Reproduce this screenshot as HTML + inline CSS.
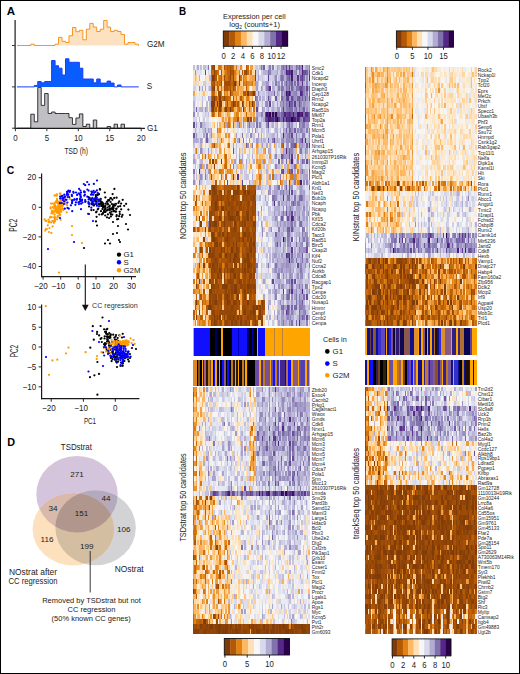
<!DOCTYPE html>
<html><head><meta charset="utf-8"><style>
html,body{margin:0;padding:0;background:#fff;}
#f{position:relative;width:520px;height:674px;overflow:hidden;background:#fff;font-family:"Liberation Sans",sans-serif;}
#f .h{position:absolute;}
#f svg{position:absolute;left:0;top:0;}
#bd{position:absolute;left:0;top:0;width:518px;height:672px;border:1px solid #000;}
text{font-family:"Liberation Sans",sans-serif;}
</style></head><body><div id="f">
<div class="h" style="left:192.5px;top:65.00px;width:117.5px;height:5.23px;background:linear-gradient(90deg,#c3c0dd 0 1.5px,#f4f5f6 0 2.9px,#d6d7e9 0 4.4px,#b2abd2 0 5.9px,#fbead2 0 7.3px,#c1bddc 0 8.8px,#f8f4ef 0 10.3px,#c0bcdb 0 11.8px,#bfbcdb 0 13.2px,#d3d3e7 0 14.7px,#8275ad 0 16.2px,#f3f4f6 0 17.6px,#c2660b 0 19.1px,#9d4c07 0 20.6px,#894108 0 22.0px,#fde5c3 0 23.5px,#fee1b9 0 25.0px,#da7d12 0 26.4px,#cf720f 0 27.9px,#e18316 0 29.4px,#fdc37a 0 30.8px,#aa5306 0 32.3px,#cd700e 0 33.8px,#b35806 0 35.2px,#c2660b 0 36.7px,#a65107 0 38.2px,#bb6009 0 39.7px,#c76a0c 0 41.1px,#fcb660 0 42.6px,#d1740f 0 44.1px,#cbcae2 0 45.5px,#fed298 0 47.0px,#e68d23 0 48.5px,#fedeb1 0 49.9px,#f7f5f3 0 51.4px,#f9f1e5 0 52.9px,#b45906 0 54.3px,#c96d0d 0 55.8px,#f3f3f5 0 57.3px,#ef9e3d 0 60.2px,#fee1b9 0 61.7px,#fdc57d 0 63.2px,#c7c5e0 0 64.6px,#dadcec 0 66.1px,#c2bfdd 0 67.6px,#8377ae 0 69.0px,#afa8d0 0 70.5px,#745fa2 0 72.0px,#eaebf2 0 73.4px,#d9dbeb 0 74.9px,#b8b2d6 0 76.4px,#8a7eb4 0 77.8px,#d2d3e7 0 79.3px,#877bb1 0 80.8px,#e7e8f1 0 82.2px,#d6d7e9 0 83.7px,#a69ec9 0 85.2px,#bcb7d8 0 86.7px,#cdcce4 0 88.1px,#9186b9 0 89.6px,#7a69a7 0 91.1px,#978dbe 0 92.5px,#654496 0 94.0px,#a39ac6 0 95.5px,#5e3990 0 96.9px,#a197c5 0 98.4px,#9990bf 0 99.9px,#c0bcdb 0 101.3px,#b2abd2 0 102.8px,#7d6da9 0 104.3px,#9287b9 0 105.8px,#7560a3 0 107.2px,#958abc 0 108.7px,#4c1f7b 0 110.2px,#cccce3 0 111.6px,#b5aed4 0 113.1px,#a69ec9 0 114.6px,#b3add3 0 116.0px,#887bb2 0 117.5px)"></div><div class="h" style="left:192.5px;top:70.21px;width:117.5px;height:5.23px;background:linear-gradient(90deg,#fde4c0 0 1.5px,#988ebe 0 2.9px,#e0e2ee 0 4.4px,#dfe0ee 0 5.9px,#e6e7f0 0 7.3px,#dddfed 0 8.8px,#f4f4f6 0 10.3px,#ececf3 0 11.8px,#644395 0 13.2px,#f1f1f5 0 14.7px,#d8daeb 0 16.2px,#e1e3ef 0 17.6px,#c4680b 0 19.1px,#c96c0d 0 20.6px,#8e4307 0 22.0px,#b45906 0 23.5px,#cb6e0d 0 25.0px,#cc6f0e 0 26.4px,#fbead4 0 27.9px,#aa5306 0 29.4px,#fdbd6d 0 30.8px,#e8912a 0 32.3px,#d57811 0 33.8px,#bd6109 0 35.2px,#c2660b 0 36.7px,#934607 0 38.2px,#b05606 0 39.7px,#9b4b07 0 41.1px,#d77a11 0 42.6px,#f09f3f 0 44.1px,#fbb45c 0 45.5px,#de8013 0 47.0px,#dddfed 0 48.5px,#b65b07 0 49.9px,#fbb55f 0 51.4px,#a34f07 0 52.9px,#924607 0 54.3px,#c0640a 0 55.8px,#fbb45e 0 57.3px,#d57811 0 58.8px,#feddaf 0 60.2px,#fed9a8 0 61.7px,#9a4a07 0 63.2px,#cdcde4 0 64.6px,#b9b4d7 0 66.1px,#f7f6f4 0 67.6px,#cbcae3 0 69.0px,#cbcae2 0 70.5px,#b9b4d7 0 72.0px,#b1a9d1 0 73.4px,#b8b3d6 0 74.9px,#7d6da9 0 76.4px,#8e83b7 0 77.8px,#bbb6d8 0 79.3px,#c0bddc 0 80.8px,#c5c2de 0 82.2px,#bebada 0 83.7px,#aaa2cc 0 85.2px,#d0d0e6 0 86.7px,#b7b1d5 0 88.1px,#998fbf 0 89.6px,#b8b3d6 0 91.1px,#9a91c0 0 92.5px,#4c1f7b 0 94.0px,#5e3890 0 95.5px,#552888 0 96.9px,#5f3a91 0 98.4px,#451871 0 99.9px,#a79ec9 0 101.3px,#9c92c1 0 102.8px,#8a7fb4 0 104.3px,#cecee4 0 105.8px,#8679b0 0 107.2px,#9f96c4 0 108.7px,#4d207d 0 110.2px,#6f559e 0 111.6px,#6a4d9a 0 113.1px,#7763a4 0 114.6px,#b4aed4 0 116.0px,#6b4f9b 0 117.5px)"></div><div class="h" style="left:192.5px;top:75.42px;width:117.5px;height:5.23px;background:linear-gradient(90deg,#fedeb2 0 1.5px,#c0bcdb 0 2.9px,#fecf92 0 4.4px,#fce8cc 0 5.9px,#f6aa4f 0 7.3px,#f5f5f6 0 8.8px,#eff0f4 0 10.3px,#f6f6f7 0 11.8px,#d8daeb 0 13.2px,#fce6c7 0 14.7px,#fde2bd 0 16.2px,#bebada 0 17.6px,#ce720f 0 19.1px,#7f3b08 0 20.6px,#8e4307 0 22.0px,#ae5506 0 23.5px,#fed196 0 25.0px,#e18417 0 26.4px,#cd700e 0 27.9px,#bb5f08 0 29.4px,#f3a547 0 30.8px,#9c4b07 0 32.3px,#ce720f 0 33.8px,#d0730f 0 35.2px,#b75c07 0 36.7px,#954707 0 38.2px,#cb6e0d 0 39.7px,#914507 0 41.1px,#e3881d 0 42.6px,#f5a94d 0 44.1px,#fed299 0 45.5px,#894008 0 47.0px,#c96d0d 0 48.5px,#fecf92 0 49.9px,#dc7e13 0 51.4px,#e78f26 0 52.9px,#e9922c 0 54.3px,#fdc782 0 55.8px,#fab35b 0 57.3px,#f6ab50 0 58.8px,#ef9d3c 0 60.2px,#f2a445 0 61.7px,#853f08 0 63.2px,#d5d6e9 0 64.6px,#a79fca 0 66.1px,#cfcfe5 0 67.6px,#d6d8ea 0 69.0px,#c8c6e0 0 70.5px,#d7d9ea 0 72.0px,#ececf3 0 73.4px,#d8daeb 0 74.9px,#623e93 0 76.4px,#cecee5 0 77.8px,#d4d5e8 0 79.3px,#cccbe3 0 80.8px,#b6b0d5 0 82.2px,#9489bb 0 83.7px,#dcddec 0 85.2px,#c5c3df 0 86.7px,#9489bb 0 88.1px,#7e6faa 0 89.6px,#8b7fb4 0 91.1px,#b4aed4 0 92.5px,#968cbd 0 94.0px,#7d6eaa 0 95.5px,#6b4e9b 0 96.9px,#9186b9 0 98.4px,#461972 0 99.9px,#a8a0ca 0 101.3px,#a69ec9 0 102.8px,#a8a0cb 0 104.3px,#582f8c 0 105.8px,#a79fca 0 107.2px,#6f569e 0 108.7px,#5f3a91 0 110.2px,#7e70aa 0 111.6px,#bcb8d9 0 113.1px,#998fbf 0 114.6px,#d0d0e6 0 116.0px,#542787 0 117.5px)"></div><div class="h" style="left:192.5px;top:80.64px;width:117.5px;height:5.23px;background:linear-gradient(90deg,#fed7a3 0 1.5px,#fed49d 0 2.9px,#dddfed 0 4.4px,#fed9a7 0 5.9px,#faecd8 0 7.3px,#fbe9ce 0 8.8px,#f9f1e7 0 10.3px,#cdcce4 0 11.8px,#fdc47b 0 13.2px,#e3e5ef 0 14.7px,#e2e3ef 0 16.2px,#fedcae 0 17.6px,#ba5f08 0 19.1px,#b25706 0 20.6px,#9b4b07 0 22.0px,#df8114 0 23.5px,#bc6009 0 25.0px,#d67911 0 26.4px,#cb6e0d 0 27.9px,#9d4c07 0 29.4px,#fedfb4 0 30.8px,#aa5306 0 32.3px,#9d4c07 0 33.8px,#a44f07 0 35.2px,#9a4a07 0 36.7px,#b45906 0 38.2px,#c0640a 0 39.7px,#a65106 0 41.1px,#7f3b08 0 42.6px,#d1740f 0 44.1px,#f3a547 0 45.5px,#7f3b08 0 47.0px,#fdc883 0 48.5px,#fed8a5 0 49.9px,#c76b0c 0 51.4px,#e08214 0 52.9px,#c86c0d 0 54.3px,#e28518 0 55.8px,#e78e26 0 57.3px,#e78f27 0 58.8px,#d67811 0 60.2px,#f8af56 0 61.7px,#e58c23 0 63.2px,#aaa3cc 0 64.6px,#c7c6e0 0 66.1px,#f8f2ea 0 67.6px,#e5e6f0 0 69.0px,#b9b3d6 0 70.5px,#bbb6d8 0 72.0px,#b8b3d6 0 73.4px,#a198c5 0 74.9px,#a39bc7 0 76.4px,#d2d3e7 0 77.8px,#e2e3ef 0 79.3px,#b6b0d4 0 80.8px,#d2d3e7 0 82.2px,#8579b0 0 83.7px,#b6b0d5 0 85.2px,#a097c5 0 86.7px,#d8daeb 0 88.1px,#8f84b7 0 89.6px,#d3d4e8 0 91.1px,#a097c4 0 92.5px,#755fa3 0 94.0px,#968cbd 0 95.5px,#8073ac 0 96.9px,#8a7eb4 0 98.4px,#725ba1 0 99.9px,#b8b2d6 0 101.3px,#8175ad 0 102.8px,#c3c0dd 0 104.3px,#745ea2 0 105.8px,#aaa2cc 0 107.2px,#a79fca 0 108.7px,#5f3991 0 110.2px,#b3add3 0 111.6px,#c6c4df 0 113.1px,#8d81b6 0 114.6px,#cdcde4 0 116.0px,#b5afd4 0 117.5px)"></div><div class="h" style="left:192.5px;top:85.85px;width:117.5px;height:5.23px;background:linear-gradient(90deg,#d1d1e6 0 2.9px,#e6e7f0 0 4.4px,#eff0f4 0 5.9px,#8b7fb4 0 7.3px,#dddfed 0 8.8px,#aaa2cc 0 10.3px,#f9efe1 0 11.8px,#ada5ce 0 13.2px,#eeeff4 0 14.7px,#d0d0e6 0 16.2px,#b7b2d5 0 17.6px,#cb6e0d 0 19.1px,#964807 0 20.6px,#7f3b08 0 22.0px,#fdc37a 0 23.5px,#ba5e08 0 25.0px,#b85c07 0 26.4px,#fdc379 0 27.9px,#d0730f 0 29.4px,#fdb863 0 30.8px,#a55007 0 32.3px,#b35806 0 33.8px,#ac5406 0 35.2px,#c0640a 0 36.7px,#a85206 0 38.2px,#d37610 0 39.7px,#994907 0 41.1px,#c1650a 0 42.6px,#fed49e 0 44.1px,#ea9530 0 45.5px,#f6aa4f 0 47.0px,#f5a84c 0 48.5px,#f8af57 0 49.9px,#fab35c 0 51.4px,#fedaaa 0 52.9px,#b65b07 0 54.3px,#ee9b39 0 55.8px,#fed9a8 0 57.3px,#f8f4ef 0 58.8px,#fdc782 0 60.2px,#fdc67f 0 61.7px,#fdbe6f 0 63.2px,#a49cc8 0 64.6px,#e3e4ef 0 66.1px,#e6e8f1 0 67.6px,#a59cc8 0 69.0px,#b7b1d5 0 70.5px,#dbddec 0 72.0px,#b7b1d5 0 73.4px,#9085b8 0 74.9px,#7662a4 0 76.4px,#562b8a 0 77.8px,#f5f5f6 0 79.3px,#b0a9d1 0 80.8px,#bbb6d8 0 82.2px,#d1d2e7 0 83.7px,#b6b0d5 0 85.2px,#887cb2 0 86.7px,#b8b2d6 0 88.1px,#8072ac 0 89.6px,#8b7fb4 0 91.1px,#b5aed4 0 92.5px,#8478af 0 94.0px,#9187b9 0 95.5px,#725ba1 0 96.9px,#b6b0d5 0 98.4px,#7865a6 0 99.9px,#9489bb 0 101.3px,#b2abd2 0 102.8px,#8276ae 0 104.3px,#8478af 0 105.8px,#7661a4 0 107.2px,#6b4f9b 0 108.7px,#7661a4 0 110.2px,#867ab0 0 111.6px,#a8a0ca 0 113.1px,#654496 0 114.6px,#b0a9d1 0 116.0px,#7764a5 0 117.5px)"></div><div class="h" style="left:192.5px;top:91.06px;width:117.5px;height:5.23px;background:linear-gradient(90deg,#f2a345 0 1.5px,#fce8cc 0 2.9px,#fee1b7 0 4.4px,#faefdf 0 5.9px,#fedaa9 0 7.3px,#fbead3 0 8.8px,#fedbac 0 10.3px,#fdc176 0 11.8px,#ecedf3 0 13.2px,#fde5c3 0 14.7px,#f1f2f5 0 16.2px,#faecd9 0 17.6px,#e3881c 0 19.1px,#bc6109 0 20.6px,#ca6e0d 0 22.0px,#f6ac51 0 23.5px,#fee0b5 0 25.0px,#9e4d07 0 26.4px,#974907 0 27.9px,#c96d0d 0 29.4px,#fde5c3 0 30.8px,#d87a11 0 32.3px,#eb9631 0 33.8px,#df8114 0 35.2px,#fcb55f 0 36.7px,#874008 0 38.2px,#c76b0c 0 39.7px,#e48a20 0 41.1px,#e89029 0 42.6px,#e78f27 0 44.1px,#ea942e 0 45.5px,#fdc074 0 47.0px,#f4a84c 0 48.5px,#fab25a 0 49.9px,#b75c07 0 51.4px,#b15706 0 52.9px,#d37610 0 54.3px,#7f3b08 0 55.8px,#d1740f 0 57.3px,#bd6209 0 58.8px,#ab5306 0 60.2px,#813c08 0 61.7px,#e18417 0 63.2px,#d5d6e9 0 64.6px,#8d82b6 0 66.1px,#c7c5e0 0 67.6px,#d6d8ea 0 69.0px,#c8c6e0 0 70.5px,#c9c7e1 0 72.0px,#d9dbec 0 73.4px,#c4c1de 0 74.9px,#a69dc9 0 76.4px,#b6b0d5 0 77.8px,#aea6cf 0 79.3px,#b4add3 0 80.8px,#7560a3 0 82.2px,#d0d1e6 0 83.7px,#9d93c2 0 85.2px,#bcb8d9 0 86.7px,#e8e9f1 0 88.1px,#958bbc 0 89.6px,#b5afd4 0 91.1px,#9b91c0 0 92.5px,#3e1166 0 94.0px,#59308c 0 95.5px,#3d1064 0 96.9px,#684998 0 98.4px,#a198c5 0 99.9px,#958abc 0 101.3px,#9187b9 0 102.8px,#8a7fb4 0 104.3px,#b3acd2 0 105.8px,#b9b4d7 0 107.2px,#552989 0 108.7px,#624094 0 110.2px,#8d81b6 0 111.6px,#a9a1cb 0 113.1px,#897eb3 0 114.6px,#d5d6e9 0 116.0px,#7966a6 0 117.5px)"></div><div class="h" style="left:192.5px;top:96.27px;width:117.5px;height:5.23px;background:linear-gradient(90deg,#cbc9e2 0 1.5px,#d5d6e9 0 2.9px,#ebecf2 0 4.4px,#e7e8f1 0 5.9px,#e4e5f0 0 7.3px,#eaebf2 0 8.8px,#c7c5e0 0 10.3px,#e5e6f0 0 11.8px,#dfe1ee 0 13.2px,#f7f7f6 0 14.7px,#a9a1cb 0 16.2px,#b9b3d6 0 17.6px,#c1650a 0 19.1px,#9d4c07 0 20.6px,#843e08 0 22.0px,#b15706 0 23.5px,#d97c12 0 25.0px,#c66a0c 0 26.4px,#7f3b08 0 27.9px,#cb6e0d 0 29.4px,#b85d08 0 30.8px,#914507 0 32.3px,#ba5f08 0 33.8px,#be6209 0 35.2px,#ca6d0d 0 36.7px,#ce710e 0 38.2px,#fee1b8 0 39.7px,#ab5306 0 41.1px,#fdb863 0 42.6px,#db7e13 0 44.1px,#fdc37a 0 45.5px,#f1a344 0 47.0px,#b55a07 0 48.5px,#e28518 0 49.9px,#e8912a 0 51.4px,#fdc782 0 52.9px,#e28518 0 54.3px,#da7c12 0 55.8px,#f4a74a 0 57.3px,#fed096 0 58.8px,#f8ae55 0 60.2px,#f9f1e5 0 61.7px,#ba5f08 0 63.2px,#8d81b6 0 64.6px,#d9dbeb 0 66.1px,#a69dc9 0 67.6px,#dcdeec 0 69.0px,#b6b0d5 0 70.5px,#bbb6d8 0 72.0px,#e4e6f0 0 73.4px,#c0bcdb 0 74.9px,#6a4d9a 0 76.4px,#a49cc8 0 77.8px,#d1d2e7 0 79.3px,#ebecf2 0 80.8px,#dee0ed 0 82.2px,#6f559e 0 83.7px,#c5c2de 0 85.2px,#c8c6e0 0 86.7px,#f9f0e3 0 88.1px,#7a69a7 0 89.6px,#978cbd 0 91.1px,#9e94c2 0 92.5px,#6c509c 0 94.0px,#5b348e 0 95.5px,#a39ac7 0 96.9px,#a299c5 0 98.4px,#694b99 0 99.9px,#8579b0 0 101.3px,#978dbe 0 102.8px,#a198c5 0 104.3px,#7663a4 0 105.8px,#6c519c 0 107.2px,#9085b8 0 108.7px,#7560a3 0 110.2px,#998fbf 0 111.6px,#725ba1 0 113.1px,#9b91c0 0 114.6px,#bab5d7 0 116.0px,#644295 0 117.5px)"></div><div class="h" style="left:192.5px;top:101.48px;width:117.5px;height:5.23px;background:linear-gradient(90deg,#b8b2d6 0 1.5px,#e3e4ef 0 2.9px,#f3f3f5 0 4.4px,#e7e8f1 0 5.9px,#f4f4f6 0 7.3px,#fce7c9 0 8.8px,#bdb8d9 0 10.3px,#f7f6f5 0 11.8px,#f8f4ee 0 13.2px,#bebada 0 14.7px,#f8f5f1 0 16.2px,#bcb8d9 0 17.6px,#823d08 0 19.1px,#7f3b08 0 20.6px,#894108 0 22.0px,#df8114 0 23.5px,#7f3b08 0 25.0px,#cf720f 0 26.4px,#803c08 0 27.9px,#7f3b08 0 29.4px,#fdca89 0 30.8px,#fde3be 0 32.3px,#de8013 0 33.8px,#9f4d07 0 35.2px,#e9922c 0 36.7px,#e48a20 0 38.2px,#ba5f08 0 39.7px,#7f3b08 0 41.1px,#a45007 0 42.6px,#da7d12 0 44.1px,#b05606 0 45.5px,#eb9632 0 47.0px,#fed49e 0 48.5px,#803c08 0 49.9px,#b15706 0 51.4px,#fdc783 0 52.9px,#e78f27 0 54.3px,#fdb965 0 55.8px,#a34f07 0 57.3px,#e58c23 0 58.8px,#7f3b08 0 60.2px,#c3670b 0 61.7px,#fdcb8b 0 63.2px,#a198c5 0 64.6px,#a097c4 0 66.1px,#dee0ed 0 67.6px,#d9dbeb 0 69.0px,#c5c2de 0 70.5px,#dfe1ee 0 72.0px,#9b91c1 0 73.4px,#948abb 0 74.9px,#c0bcdb 0 76.4px,#654596 0 77.8px,#e6e7f0 0 79.3px,#b6b0d5 0 80.8px,#cccbe3 0 82.2px,#dbddec 0 83.7px,#a79ec9 0 85.2px,#d1d2e7 0 86.7px,#9c92c1 0 88.1px,#a79fca 0 89.6px,#8275ad 0 91.1px,#a8a0cb 0 92.5px,#8073ac 0 94.0px,#8e83b7 0 95.5px,#542788 0 96.9px,#7764a5 0 98.4px,#725ba1 0 99.9px,#a59dc8 0 101.3px,#5f3a91 0 102.8px,#aca4ce 0 104.3px,#a198c5 0 105.8px,#6b4f9b 0 107.2px,#8f83b7 0 108.7px,#b3acd3 0 110.2px,#9a90c0 0 111.6px,#a69ec9 0 113.1px,#ada5ce 0 114.6px,#b4add3 0 116.0px,#b6afd4 0 117.5px)"></div><div class="h" style="left:192.5px;top:106.70px;width:117.5px;height:5.23px;background:linear-gradient(90deg,#bcb7d9 0 1.5px,#dbddec 0 2.9px,#7865a5 0 4.4px,#d5d6e9 0 5.9px,#bdb8d9 0 7.3px,#b6b0d5 0 8.8px,#b2abd2 0 10.3px,#d7d9eb 0 11.8px,#9d94c2 0 13.2px,#bbb6d8 0 14.7px,#fce7cb 0 16.2px,#c0bcdb 0 17.6px,#a95306 0 19.1px,#7f3b08 0 20.6px,#c3670b 0 22.0px,#b95d08 0 23.5px,#f1a142 0 25.0px,#b85d08 0 26.4px,#8d4307 0 27.9px,#c5690c 0 29.4px,#f4a84b 0 30.8px,#c4680b 0 32.3px,#843e08 0 33.8px,#c5690c 0 35.2px,#c4680b 0 36.7px,#7f3b08 0 38.2px,#b95d08 0 39.7px,#ca6d0d 0 41.1px,#f7ae54 0 42.6px,#fdc074 0 44.1px,#df8114 0 45.5px,#c4680b 0 47.0px,#e9922c 0 48.5px,#e5e6f0 0 49.9px,#7f3b08 0 51.4px,#e4891e 0 52.9px,#fedeb2 0 54.3px,#fdc379 0 55.8px,#c3670b 0 57.3px,#f4a84b 0 58.8px,#f7f6f5 0 60.2px,#d0730f 0 61.7px,#fed7a4 0 63.2px,#664797 0 64.6px,#cccbe3 0 66.1px,#f7f6f4 0 67.6px,#eff0f4 0 69.0px,#a299c6 0 70.5px,#b2abd2 0 72.0px,#dfe0ee 0 73.4px,#c2bfdd 0 74.9px,#a097c4 0 76.4px,#d8daeb 0 77.8px,#c2bfdc 0 79.3px,#afa8d0 0 80.8px,#bebada 0 82.2px,#c8c6e0 0 83.7px,#a59cc8 0 85.2px,#a299c6 0 86.7px,#e0e2ee 0 88.1px,#9b91c1 0 89.6px,#654496 0 91.1px,#a39ac7 0 92.5px,#9287b9 0 94.0px,#867ab1 0 95.5px,#7c6ca9 0 96.9px,#7c6da9 0 98.4px,#7b6aa8 0 99.9px,#b6b0d5 0 101.3px,#8f84b8 0 102.8px,#7c6ca9 0 104.3px,#afa7cf 0 105.8px,#7b6ba8 0 107.2px,#9d94c2 0 108.7px,#8e82b6 0 110.2px,#7661a4 0 111.6px,#b8b3d6 0 113.1px,#998fbf 0 114.6px,#bab5d7 0 116.0px,#aaa2cc 0 117.5px)"></div><div class="h" style="left:192.5px;top:111.91px;width:117.5px;height:5.23px;background:linear-gradient(90deg,#9489bb 0 1.5px,#eaebf2 0 2.9px,#f9f1e5 0 4.4px,#cac8e2 0 5.9px,#f1f2f5 0 7.3px,#f1f1f5 0 8.8px,#e1e2ee 0 10.3px,#dbddec 0 11.8px,#c8c6e1 0 13.2px,#d7d9ea 0 14.7px,#c3c0dd 0 16.2px,#fbe8ce 0 17.6px,#ef9e3c 0 19.1px,#ba5f08 0 20.6px,#d67911 0 22.0px,#fdc47b 0 23.5px,#fedeb2 0 25.0px,#bf630a 0 26.4px,#de8013 0 27.9px,#f9b057 0 29.4px,#fdc986 0 30.8px,#fde4c0 0 32.3px,#fdc885 0 33.8px,#ee9c3a 0 35.2px,#f4a84c 0 36.7px,#fed197 0 38.2px,#f2f3f5 0 39.7px,#fce5c4 0 41.1px,#f0a041 0 42.6px,#da7c12 0 44.1px,#e3871b 0 45.5px,#fbe8ce 0 47.0px,#fdc176 0 48.5px,#fedeb3 0 49.9px,#fed6a1 0 51.4px,#fdc47c 0 52.9px,#be6209 0 54.3px,#fdbf72 0 55.8px,#fdb864 0 57.3px,#f6ab50 0 58.8px,#fdb863 0 60.2px,#f0a040 0 61.7px,#fde3bf 0 63.2px,#a9a1cb 0 64.6px,#bab5d8 0 66.1px,#b8b2d6 0 67.6px,#8f83b7 0 69.0px,#8e83b7 0 70.5px,#c3c0dd 0 72.0px,#6a4e9a 0 73.4px,#3d1064 0 74.9px,#532686 0 76.4px,#310451 0 77.8px,#897eb3 0 79.3px,#370a5a 0 80.8px,#7a68a7 0 82.2px,#320553 0 83.7px,#7b6aa8 0 85.2px,#8174ad 0 86.7px,#958bbc 0 88.1px,#7763a5 0 89.6px,#70589f 0 91.1px,#4d207c 0 92.5px,#674797 0 94.0px,#5d3790 0 95.5px,#532687 0 96.9px,#5f3b91 0 98.4px,#6b4f9b 0 99.9px,#471a74 0 101.3px,#7560a3 0 102.8px,#7866a6 0 104.3px,#41146b 0 105.8px,#43166d 0 107.2px,#502382 0 108.7px,#3f1268 0 110.2px,#7d6ea9 0 111.6px,#552989 0 113.1px,#582f8c 0 114.6px,#6a4c9a 0 116.0px,#7b6aa8 0 117.5px)"></div><div class="h" style="left:192.5px;top:117.12px;width:117.5px;height:5.23px;background:linear-gradient(90deg,#d1d1e6 0 1.5px,#d5d6e9 0 2.9px,#cecee4 0 4.4px,#f8f4ed 0 5.9px,#c1bddc 0 7.3px,#f8f5f2 0 8.8px,#ebecf2 0 10.3px,#cac9e2 0 11.8px,#f8f4ee 0 13.2px,#dadbec 0 14.7px,#d9dbeb 0 16.2px,#f0f0f4 0 17.6px,#f8f3ed 0 19.1px,#faeddc 0 20.6px,#f7f6f3 0 22.0px,#f8f3ed 0 23.5px,#f2f2f5 0 25.0px,#fce6c6 0 26.4px,#e7e8f1 0 27.9px,#fed198 0 29.4px,#ec9834 0 30.8px,#fed299 0 32.3px,#f7ac52 0 33.8px,#fed198 0 35.2px,#e18416 0 36.7px,#f4a84b 0 38.2px,#fdca88 0 39.7px,#e68d24 0 41.1px,#e28519 0 42.6px,#df8114 0 44.1px,#b35806 0 45.5px,#fdbb6a 0 47.0px,#fcb660 0 48.5px,#d4d5e8 0 49.9px,#e4891e 0 51.4px,#e89129 0 52.9px,#e68d24 0 54.3px,#894008 0 55.8px,#da7c12 0 57.3px,#a14e07 0 58.8px,#fde4c1 0 60.2px,#da7c12 0 61.7px,#ec9834 0 63.2px,#8d82b6 0 64.6px,#c9c8e1 0 66.1px,#d3d4e8 0 67.6px,#b5aed4 0 69.0px,#c6c4df 0 70.5px,#afa8d0 0 72.0px,#6d519c 0 73.4px,#634194 0 74.9px,#44176e 0 76.4px,#4a1d78 0 77.8px,#582e8b 0 79.3px,#542888 0 80.8px,#6a4e9a 0 82.2px,#461971 0 83.7px,#2d004b 0 85.2px,#5f3a91 0 86.7px,#8477af 0 88.1px,#7d6eaa 0 89.6px,#491c76 0 91.1px,#745ea2 0 92.5px,#491c77 0 94.0px,#59308c 0 95.5px,#4d207d 0 96.9px,#5c358f 0 98.4px,#2d004b 0 99.9px,#44176f 0 101.3px,#4c1f7b 0 102.8px,#6b4f9b 0 104.3px,#4c1f7b 0 105.8px,#5c348e 0 107.2px,#897db3 0 108.7px,#998fbf 0 110.2px,#5d3790 0 111.6px,#6b4f9b 0 113.1px,#70579f 0 114.6px,#745fa2 0 116.0px,#6b4e9a 0 117.5px)"></div><div class="h" style="left:192.5px;top:122.33px;width:117.5px;height:5.23px;background:linear-gradient(90deg,#6a4d9a 0 1.5px,#d9dbeb 0 2.9px,#aaa2cc 0 4.4px,#dddfed 0 5.9px,#e3e4ef 0 7.3px,#887cb2 0 8.8px,#b9b4d7 0 10.3px,#bfbbdb 0 11.8px,#c7c5e0 0 13.2px,#d2d2e7 0 14.7px,#d3d3e7 0 16.2px,#e0e1ee 0 17.6px,#e9eaf2 0 19.1px,#fedbab 0 20.6px,#fdbc6c 0 22.0px,#f8f4ee 0 23.5px,#f9b159 0 25.0px,#f9f1e7 0 26.4px,#fab35c 0 27.9px,#fdc986 0 29.4px,#fdc67f 0 30.8px,#d57811 0 32.3px,#afa8d0 0 33.8px,#e4891e 0 35.2px,#cf720f 0 36.7px,#eb9632 0 38.2px,#fde4c2 0 39.7px,#bd6209 0 41.1px,#fdc783 0 42.6px,#c9c7e1 0 44.1px,#b4aed4 0 45.5px,#887cb2 0 47.0px,#f6ab4f 0 48.5px,#ebecf2 0 49.9px,#e48a20 0 51.4px,#d4d5e8 0 52.9px,#faeedf 0 54.3px,#aea7cf 0 55.8px,#8073ac 0 57.3px,#bcb7d8 0 58.8px,#c1bddc 0 60.2px,#b5aed4 0 61.7px,#e9eaf2 0 63.2px,#7f71ab 0 64.6px,#cac9e2 0 66.1px,#9186b9 0 67.6px,#c5c3df 0 69.0px,#dbddec 0 70.5px,#d8daeb 0 72.0px,#d4d5e8 0 73.4px,#9287b9 0 74.9px,#644295 0 76.4px,#d7d9ea 0 77.8px,#c5c3df 0 79.3px,#b4add3 0 80.8px,#e6e7f0 0 82.2px,#c3c0dd 0 83.7px,#b3add3 0 85.2px,#f9f0e3 0 86.7px,#dbddec 0 88.1px,#cfcee5 0 89.6px,#a79fca 0 91.1px,#d5d6e9 0 92.5px,#b3acd2 0 94.0px,#9287ba 0 95.5px,#735ca1 0 96.9px,#aea6cf 0 98.4px,#9a90c0 0 99.9px,#cac8e1 0 101.3px,#d1d1e6 0 102.8px,#b9b4d7 0 104.3px,#f4f4f6 0 105.8px,#7e70aa 0 107.2px,#9c93c1 0 108.7px,#897db3 0 110.2px,#8477af 0 111.6px,#b3add3 0 113.1px,#a59cc8 0 116.0px,#ecedf3 0 117.5px)"></div><div class="h" style="left:192.5px;top:127.54px;width:117.5px;height:5.23px;background:linear-gradient(90deg,#dfe1ee 0 1.5px,#b4add3 0 2.9px,#d6d8ea 0 4.4px,#e4e5f0 0 5.9px,#d1d1e6 0 7.3px,#dcdeec 0 8.8px,#c9c8e1 0 10.3px,#bfbbda 0 11.8px,#9b91c1 0 13.2px,#cbcbe3 0 14.7px,#a89fca 0 16.2px,#bcb7d9 0 17.6px,#eb9733 0 19.1px,#faefdf 0 20.6px,#faeedf 0 22.0px,#f3f3f5 0 23.5px,#d2740f 0 25.0px,#f4a74a 0 26.4px,#e3871b 0 27.9px,#fdbe70 0 29.4px,#faefdf 0 30.8px,#fed196 0 32.3px,#f2f2f5 0 33.8px,#fdc074 0 35.2px,#f0f1f4 0 36.7px,#fce8cc 0 38.2px,#fbe9d0 0 39.7px,#fed197 0 41.1px,#fde5c3 0 42.6px,#ebecf2 0 44.1px,#dfe1ee 0 45.5px,#f7f7f7 0 47.0px,#ececf3 0 48.5px,#dadcec 0 49.9px,#e4e6f0 0 51.4px,#dadcec 0 52.9px,#f3f4f6 0 54.3px,#c8c6e0 0 55.8px,#bebada 0 57.3px,#f2f3f5 0 58.8px,#b0a8d0 0 60.2px,#f9f0e2 0 61.7px,#948abc 0 63.2px,#c9c7e1 0 64.6px,#e4e6f0 0 67.6px,#c1bddc 0 69.0px,#c4c1de 0 70.5px,#d3d4e8 0 72.0px,#ececf3 0 73.4px,#c8c6e1 0 74.9px,#a9a1cb 0 76.4px,#dddfed 0 77.8px,#f7f7f7 0 79.3px,#f4f4f6 0 80.8px,#cac8e2 0 82.2px,#b6b0d5 0 83.7px,#bab5d8 0 85.2px,#dcdeec 0 86.7px,#b7b1d5 0 88.1px,#e4e5f0 0 89.6px,#9f96c4 0 91.1px,#b6b0d5 0 92.5px,#755fa3 0 94.0px,#b7b1d5 0 95.5px,#7561a3 0 96.9px,#7f71ab 0 98.4px,#968bbd 0 99.9px,#b3acd2 0 101.3px,#735ca1 0 102.8px,#c4c1de 0 104.3px,#9287ba 0 105.8px,#b0a9d1 0 107.2px,#8a7eb3 0 108.7px,#998fbf 0 110.2px,#aca4cd 0 111.6px,#c3c0dd 0 113.1px,#897db3 0 114.6px,#c7c4e0 0 116.0px,#8f84b8 0 117.5px)"></div><div class="h" style="left:192.5px;top:132.76px;width:117.5px;height:5.23px;background:linear-gradient(90deg,#6f569e 0 1.5px,#c6c4df 0 2.9px,#a097c4 0 4.4px,#d8daeb 0 5.9px,#d9dbeb 0 7.3px,#dadcec 0 8.8px,#e8e9f1 0 10.3px,#ada5ce 0 11.8px,#cccbe3 0 13.2px,#7f71ab 0 14.7px,#f1f1f4 0 16.2px,#c4c1de 0 17.6px,#e48a20 0 19.1px,#fdcc8c 0 20.6px,#fed7a4 0 22.0px,#fde3be 0 23.5px,#fdba67 0 25.0px,#fab25a 0 26.4px,#fdbc6b 0 27.9px,#fbebd6 0 29.4px,#fce6c6 0 30.8px,#fbead2 0 32.3px,#e9932d 0 33.8px,#d0d0e6 0 35.2px,#e89029 0 36.7px,#e3e4ef 0 38.2px,#f7f7f6 0 39.7px,#f5f5f6 0 41.1px,#fed39a 0 42.6px,#a299c5 0 44.1px,#e6e7f0 0 45.5px,#e9eaf1 0 47.0px,#dcdeed 0 48.5px,#8376ae 0 49.9px,#e2e3ef 0 51.4px,#fde3be 0 52.9px,#c2bedc 0 54.3px,#cecee5 0 55.8px,#edeef3 0 57.3px,#9287b9 0 58.8px,#c9c8e1 0 60.2px,#c8c6e0 0 61.7px,#fce6c7 0 63.2px,#f0f1f4 0 64.6px,#9f95c3 0 66.1px,#fde2bc 0 67.6px,#b0a9d1 0 69.0px,#faeede 0 70.5px,#d6d8ea 0 72.0px,#f2f2f5 0 73.4px,#c9c8e1 0 74.9px,#d1d1e6 0 76.4px,#c7c4e0 0 77.8px,#c0bcdb 0 79.3px,#b7b2d5 0 80.8px,#bbb6d8 0 82.2px,#d4d5e9 0 83.7px,#9f96c4 0 85.2px,#e9eaf2 0 86.7px,#cfcfe5 0 88.1px,#bfbbdb 0 89.6px,#522585 0 91.1px,#aaa2cc 0 92.5px,#a79fca 0 94.0px,#948abb 0 95.5px,#7b6ba8 0 96.9px,#9d94c2 0 98.4px,#674898 0 99.9px,#c2bfdc 0 101.3px,#c2bfdd 0 102.8px,#8175ad 0 104.3px,#c1bddc 0 105.8px,#b4aed3 0 107.2px,#cdcce4 0 108.7px,#8a7eb3 0 110.2px,#8c81b5 0 111.6px,#c7c5e0 0 113.1px,#d9dbec 0 114.6px,#c7c5e0 0 116.0px,#8c80b5 0 117.5px)"></div><div class="h" style="left:192.5px;top:137.97px;width:117.5px;height:5.23px;background:linear-gradient(90deg,#ada6ce 0 1.5px,#b6b1d5 0 2.9px,#a79fca 0 4.4px,#b8b3d6 0 5.9px,#d4d5e9 0 7.3px,#a59dc8 0 8.8px,#b8b3d6 0 10.3px,#f8f2e9 0 11.8px,#bebada 0 13.2px,#735ca1 0 14.7px,#b9b3d6 0 16.2px,#cecee5 0 17.6px,#fdc681 0 19.1px,#ebebf2 0 20.6px,#feddaf 0 22.0px,#fce5c5 0 23.5px,#f4a84b 0 25.0px,#d6d7ea 0 26.4px,#fdc57e 0 27.9px,#d87a11 0 29.4px,#fdbc6b 0 30.8px,#fbead1 0 32.3px,#fce6c7 0 33.8px,#faecd7 0 35.2px,#fdc176 0 36.7px,#f8f5f0 0 38.2px,#fbe9cf 0 39.7px,#fdcb8a 0 41.1px,#e68c23 0 42.6px,#dddfed 0 44.1px,#afa8d0 0 45.5px,#7f71ab 0 47.0px,#fee0b7 0 48.5px,#edeef3 0 49.9px,#8174ad 0 51.4px,#f5f5f6 0 52.9px,#c7c5e0 0 54.3px,#f8f5f1 0 55.8px,#a39ac6 0 57.3px,#fbebd6 0 58.8px,#e1e2ee 0 60.2px,#c4c1de 0 61.7px,#d8daeb 0 63.2px,#a299c6 0 64.6px,#ada6cf 0 66.1px,#c9c8e1 0 67.6px,#aca4cd 0 69.0px,#cac9e2 0 70.5px,#b7b1d5 0 72.0px,#bdb9d9 0 73.4px,#d4d5e9 0 74.9px,#7f71ab 0 76.4px,#c3c1dd 0 77.8px,#cac9e2 0 79.3px,#897db3 0 80.8px,#644295 0 82.2px,#bbb7d8 0 83.7px,#b0a8d0 0 85.2px,#c1bddc 0 86.7px,#d8daeb 0 88.1px,#9c92c1 0 89.6px,#9186b9 0 91.1px,#b8b3d6 0 92.5px,#9186b9 0 94.0px,#958bbc 0 95.5px,#9084b8 0 96.9px,#9f96c3 0 98.4px,#8d81b6 0 99.9px,#8578b0 0 101.3px,#bdb9d9 0 102.8px,#8a7eb3 0 104.3px,#b2abd2 0 105.8px,#a299c6 0 107.2px,#8377af 0 108.7px,#5d368f 0 110.2px,#bdb8d9 0 111.6px,#572c8a 0 113.1px,#c1bedc 0 114.6px,#b8b2d6 0 116.0px,#9c92c1 0 117.5px)"></div><div class="h" style="left:192.5px;top:143.18px;width:117.5px;height:5.23px;background:linear-gradient(90deg,#c1bddc 0 1.5px,#e8e9f1 0 2.9px,#fce7ca 0 4.4px,#dfe1ee 0 5.9px,#d2d2e7 0 7.3px,#b4add3 0 8.8px,#fed8a6 0 10.3px,#f9f1e7 0 11.8px,#dadcec 0 13.2px,#f9efe1 0 14.7px,#e6e7f0 0 16.2px,#fecd8f 0 17.6px,#f2a446 0 19.1px,#da7c12 0 20.6px,#9f4d07 0 22.0px,#f1a142 0 23.5px,#f3a547 0 25.0px,#fdca87 0 26.4px,#f6ab50 0 27.9px,#f3f3f5 0 29.4px,#eff0f4 0 30.8px,#fedcae 0 32.3px,#fbebd4 0 33.8px,#f3a547 0 35.2px,#c66a0c 0 36.7px,#fbead3 0 38.2px,#e6e7f1 0 39.7px,#ed9b39 0 41.1px,#fbe9d0 0 42.6px,#c4c2de 0 44.1px,#e3e4ef 0 45.5px,#e2e3ef 0 47.0px,#e4e6f0 0 48.5px,#d4d5e8 0 49.9px,#d4d5e9 0 51.4px,#fdcc8c 0 52.9px,#7763a4 0 54.3px,#978dbe 0 55.8px,#fbebd4 0 57.3px,#f9b058 0 58.8px,#877bb2 0 60.2px,#f2f2f5 0 61.7px,#fbe8cd 0 63.2px,#e9922b 0 64.6px,#fbb45d 0 66.1px,#fedaa9 0 67.6px,#c3c0dd 0 69.0px,#a299c6 0 70.5px,#d6d8ea 0 72.0px,#dadcec 0 73.4px,#afa7cf 0 74.9px,#fde4c1 0 76.4px,#bbb6d8 0 77.8px,#dcdeec 0 79.3px,#faedda 0 80.8px,#ef9d3c 0 82.2px,#c4c1de 0 83.7px,#e6e7f0 0 85.2px,#cccbe3 0 86.7px,#e1e3ef 0 88.1px,#cb6e0d 0 89.6px,#6d529d 0 91.1px,#dee0ed 0 92.5px,#a299c6 0 94.0px,#9b91c0 0 95.5px,#f1f1f5 0 96.9px,#a69ec9 0 98.4px,#7c6ca9 0 99.9px,#7c6ba8 0 101.3px,#6d519c 0 102.8px,#ca6d0d 0 104.3px,#fdcb8a 0 105.8px,#968cbd 0 107.2px,#a9a1cb 0 108.7px,#988ebe 0 110.2px,#b3acd3 0 111.6px,#c4c1de 0 113.1px,#7763a5 0 114.6px,#c1bddc 0 116.0px,#5c358f 0 117.5px)"></div><div class="h" style="left:192.5px;top:148.39px;width:117.5px;height:5.23px;background:linear-gradient(90deg,#dedfed 0 1.5px,#b7b1d5 0 2.9px,#d37610 0 4.4px,#d7d9eb 0 5.9px,#eff0f4 0 7.3px,#988ebe 0 8.8px,#b9b4d7 0 10.3px,#d7d9ea 0 11.8px,#dedfed 0 13.2px,#e5e6f0 0 14.7px,#a097c4 0 16.2px,#e1e3ef 0 17.6px,#f7ad53 0 19.1px,#fee1ba 0 20.6px,#f2f2f5 0 22.0px,#d3d3e7 0 23.5px,#dee0ed 0 25.0px,#fbebd6 0 26.4px,#f0a03f 0 27.9px,#fdbd6d 0 29.4px,#f8f3eb 0 30.8px,#ef9e3d 0 32.3px,#fde4c1 0 33.8px,#fce8cc 0 35.2px,#fed39b 0 36.7px,#fde3c0 0 38.2px,#f8f3ec 0 39.7px,#a44f07 0 41.1px,#dbddec 0 42.6px,#c7c5e0 0 44.1px,#f8f3ea 0 45.5px,#b6afd4 0 47.0px,#fed49c 0 48.5px,#cfcee5 0 49.9px,#dcdeed 0 51.4px,#fdc176 0 52.9px,#eeeef3 0 54.3px,#fbead3 0 55.8px,#cac9e2 0 57.3px,#eff0f4 0 58.8px,#cfcfe5 0 60.2px,#fecd90 0 61.7px,#f8f4f0 0 63.2px,#f5aa4e 0 64.6px,#c7c4e0 0 66.1px,#d4d5e8 0 67.6px,#cecee5 0 69.0px,#e0e1ee 0 70.5px,#f3a548 0 72.0px,#9d93c2 0 73.4px,#f8f4ee 0 74.9px,#a8a0ca 0 76.4px,#b3acd3 0 77.8px,#dedfed 0 79.3px,#edeef3 0 80.8px,#fbebd5 0 82.2px,#c8c6e0 0 83.7px,#eaebf2 0 85.2px,#e9eaf2 0 86.7px,#d0d0e5 0 88.1px,#fdbe70 0 89.6px,#a59cc8 0 91.1px,#b6b0d4 0 92.5px,#532687 0 94.0px,#a39bc7 0 95.5px,#7968a7 0 96.9px,#958abc 0 98.4px,#9084b8 0 99.9px,#aea6cf 0 101.3px,#bfbcdb 0 102.8px,#f9b159 0 104.3px,#f3f4f6 0 105.8px,#b3acd3 0 107.2px,#8376ae 0 108.7px,#c3c1dd 0 110.2px,#cac9e2 0 111.6px,#9389bb 0 113.1px,#aaa2cc 0 114.6px,#e2e4ef 0 116.0px,#bab4d7 0 117.5px)"></div><div class="h" style="left:192.5px;top:153.60px;width:117.5px;height:5.23px;background:linear-gradient(90deg,#b9b4d7 0 1.5px,#dddfed 0 2.9px,#faeedd 0 4.4px,#cfcfe5 0 5.9px,#bfbbdb 0 7.3px,#f7f6f4 0 8.8px,#e2871b 0 10.3px,#fdcb8a 0 11.8px,#c3670b 0 13.2px,#dfe0ee 0 14.7px,#e3871b 0 16.2px,#f7ad52 0 17.6px,#fdbd6e 0 19.1px,#eeeff4 0 20.6px,#fab35c 0 22.0px,#f7f6f5 0 23.5px,#ea942f 0 25.0px,#f4a749 0 26.4px,#fed198 0 27.9px,#fed8a6 0 29.4px,#fee0b5 0 30.8px,#de8013 0 32.3px,#c3670b 0 33.8px,#fde4c1 0 35.2px,#fecf92 0 36.7px,#fdbe6f 0 38.2px,#f9f0e2 0 39.7px,#fedfb4 0 41.1px,#faedda 0 42.6px,#c1bddc 0 44.1px,#ecedf3 0 45.5px,#ec9834 0 47.0px,#dcdeed 0 48.5px,#b4aed4 0 49.9px,#fce6c6 0 51.4px,#f7f6f5 0 52.9px,#f3f3f5 0 54.3px,#d2d2e7 0 55.8px,#cecee5 0 57.3px,#f9efe1 0 58.8px,#b2abd2 0 60.2px,#eaebf2 0 61.7px,#dfe0ee 0 63.2px,#fdba66 0 64.6px,#fedfb4 0 66.1px,#fdb965 0 67.6px,#cbcae3 0 69.0px,#fdb862 0 70.5px,#fecc8d 0 72.0px,#e3e4ef 0 73.4px,#d7d9eb 0 74.9px,#eaebf2 0 76.4px,#e9932d 0 77.8px,#c8c6e0 0 79.3px,#e5e7f0 0 80.8px,#bdb9d9 0 82.2px,#9287ba 0 83.7px,#d7d9eb 0 85.2px,#cecde4 0 86.7px,#d8daeb 0 88.1px,#6e559e 0 89.6px,#897db3 0 91.1px,#a198c5 0 92.5px,#a59dc8 0 94.0px,#a8a0ca 0 95.5px,#6d539d 0 96.9px,#bbb6d8 0 98.4px,#5f3b91 0 99.9px,#d1d1e6 0 101.3px,#bab5d7 0 102.8px,#e4e6f0 0 104.3px,#dc7f13 0 105.8px,#fde3c0 0 107.2px,#cecee4 0 108.7px,#c2bfdd 0 110.2px,#e0e1ee 0 111.6px,#a69dc9 0 113.1px,#d0d0e5 0 114.6px,#fdca88 0 116.0px,#cfcee5 0 117.5px)"></div><div class="h" style="left:192.5px;top:158.82px;width:117.5px;height:5.23px;background:linear-gradient(90deg,#a79fca 0 1.5px,#bab5d7 0 2.9px,#d7d9ea 0 4.4px,#f3f4f6 0 5.9px,#d2d3e7 0 7.3px,#bbb6d8 0 8.8px,#b3acd3 0 10.3px,#fce6c7 0 11.8px,#fed8a5 0 13.2px,#e2e3ef 0 14.7px,#faeedd 0 16.2px,#c3670b 0 17.6px,#fedaaa 0 19.1px,#7f3b08 0 20.6px,#fdb762 0 22.0px,#c2660b 0 23.5px,#fdc278 0 25.0px,#fbead1 0 26.4px,#fbe8cd 0 27.9px,#863f08 0 29.4px,#fbebd4 0 30.8px,#f6ac51 0 32.3px,#c96c0d 0 33.8px,#fdbe70 0 35.2px,#fdcc8c 0 36.7px,#f7f7f7 0 38.2px,#f3a648 0 39.7px,#fdc277 0 41.1px,#a59dc8 0 42.6px,#d4d5e8 0 44.1px,#efeff4 0 45.5px,#cf720f 0 47.0px,#e3871c 0 48.5px,#a8a0cb 0 49.9px,#e1e3ef 0 51.4px,#f1f2f5 0 52.9px,#a9a1cb 0 54.3px,#dcdeed 0 55.8px,#c1bddc 0 57.3px,#fde3be 0 58.8px,#dcdeed 0 60.2px,#b5afd4 0 61.7px,#ebecf3 0 63.2px,#eb9631 0 64.6px,#f6aa4f 0 66.1px,#f0a041 0 67.6px,#bdb8d9 0 69.0px,#b8b3d6 0 70.5px,#e58b21 0 72.0px,#aaa2cc 0 73.4px,#edeef3 0 74.9px,#d0d1e6 0 76.4px,#fdc37b 0 77.8px,#c1bddc 0 79.3px,#cbcae2 0 80.8px,#e1e3ef 0 82.2px,#d4d6e9 0 83.7px,#f5f5f6 0 85.2px,#7560a3 0 86.7px,#f9f0e2 0 88.1px,#988ebe 0 89.6px,#bab5d7 0 91.1px,#dee0ed 0 92.5px,#7763a4 0 94.0px,#fed39c 0 95.5px,#998fbf 0 96.9px,#9b91c0 0 98.4px,#4d207d 0 99.9px,#c2bfdc 0 101.3px,#e1e2ee 0 102.8px,#c2bedc 0 104.3px,#958bbc 0 105.8px,#fde3be 0 107.2px,#b6afd4 0 108.7px,#745ea2 0 110.2px,#8b80b5 0 111.6px,#d6d8ea 0 113.1px,#6a4d9a 0 114.6px,#bdb9d9 0 116.0px,#9288ba 0 117.5px)"></div><div class="h" style="left:192.5px;top:164.03px;width:117.5px;height:5.23px;background:linear-gradient(90deg,#e6e7f0 0 1.5px,#bfbbdb 0 2.9px,#f4f5f6 0 4.4px,#e0e2ee 0 5.9px,#ada5ce 0 7.3px,#9186b9 0 8.8px,#ef9f3e 0 10.3px,#b7b2d6 0 11.8px,#edeef3 0 13.2px,#9288ba 0 14.7px,#fdcc8c 0 16.2px,#fdc987 0 17.6px,#f9b159 0 19.1px,#fed59e 0 20.6px,#863f08 0 22.0px,#fee1b9 0 23.5px,#fed8a5 0 25.0px,#eeeff4 0 26.4px,#fce5c5 0 27.9px,#fbebd4 0 29.4px,#fdbc6c 0 30.8px,#d1740f 0 32.3px,#c4680b 0 33.8px,#fecd8f 0 35.2px,#feddaf 0 36.7px,#d57710 0 38.2px,#f8f5f1 0 39.7px,#d27510 0 41.1px,#dddfed 0 42.6px,#c6c4df 0 44.1px,#fdbb69 0 45.5px,#d3d3e8 0 47.0px,#f7ad52 0 48.5px,#fdcb8b 0 49.9px,#bcb7d8 0 51.4px,#e1e2ee 0 52.9px,#b7b1d5 0 54.3px,#fedfb3 0 55.8px,#e0e1ee 0 57.3px,#ee9c39 0 58.8px,#f9f1e7 0 60.2px,#f9f0e3 0 61.7px,#eeeff4 0 63.2px,#fdc176 0 64.6px,#dc7e13 0 66.1px,#d97c12 0 67.6px,#c9c8e1 0 69.0px,#fed299 0 70.5px,#c3c0dd 0 72.0px,#f9f0e4 0 73.4px,#c9c7e1 0 74.9px,#fdc57e 0 76.4px,#d7d9ea 0 77.8px,#f6f6f7 0 79.3px,#f8f4f0 0 80.8px,#d3d4e8 0 82.2px,#9388bb 0 83.7px,#b8b2d6 0 85.2px,#bcb7d8 0 86.7px,#cfcee5 0 88.1px,#fdc379 0 89.6px,#ecedf3 0 91.1px,#bdb8d9 0 92.5px,#cac9e2 0 94.0px,#f0a040 0 95.5px,#fdbc6c 0 96.9px,#c8c6e0 0 98.4px,#b1aad1 0 99.9px,#b3acd3 0 101.3px,#8275ad 0 102.8px,#e78e26 0 104.3px,#fdc885 0 105.8px,#fdbb6a 0 107.2px,#b4aed3 0 108.7px,#c2bfdd 0 110.2px,#e2e3ef 0 111.6px,#cac8e2 0 113.1px,#d8daeb 0 114.6px,#d7d8ea 0 116.0px,#a39bc7 0 117.5px)"></div><div class="h" style="left:192.5px;top:169.24px;width:117.5px;height:5.23px;background:linear-gradient(90deg,#8578b0 0 1.5px,#e5e6f0 0 2.9px,#c5c3df 0 4.4px,#f8f4ef 0 5.9px,#4d207e 0 7.3px,#d2d2e7 0 8.8px,#e3e4ef 0 10.3px,#fed8a6 0 11.8px,#a097c4 0 13.2px,#d5d7e9 0 14.7px,#a49bc7 0 16.2px,#de8013 0 17.6px,#fee0b7 0 19.1px,#e9eaf1 0 20.6px,#ed9936 0 22.0px,#fbb55e 0 23.5px,#fdc175 0 25.0px,#fdc681 0 26.4px,#d37610 0 27.9px,#df8114 0 29.4px,#e48a1f 0 30.8px,#f8f3ec 0 32.3px,#fdb863 0 33.8px,#df8114 0 35.2px,#ea9531 0 36.7px,#dc7f13 0 38.2px,#ee9c3b 0 39.7px,#fed196 0 41.1px,#e4e5f0 0 42.6px,#f6ab50 0 44.1px,#dfe1ee 0 45.5px,#f1f2f5 0 47.0px,#c4c1de 0 48.5px,#c6c4df 0 49.9px,#e7e8f1 0 51.4px,#cfcee5 0 52.9px,#cbcae3 0 54.3px,#faeedd 0 55.8px,#fab35c 0 57.3px,#fce7c9 0 58.8px,#cac8e1 0 60.2px,#e4e5f0 0 61.7px,#e7e8f1 0 63.2px,#f8f5f1 0 64.6px,#ed9b38 0 66.1px,#c2bedc 0 67.6px,#bcb7d8 0 69.0px,#e6e7f0 0 70.5px,#fedaa9 0 72.0px,#d6d8ea 0 73.4px,#b8b2d6 0 74.9px,#cecee5 0 76.4px,#feddb0 0 77.8px,#dddeed 0 79.3px,#ea952f 0 80.8px,#ebecf2 0 82.2px,#fed29a 0 83.7px,#d7d9ea 0 85.2px,#fecf93 0 86.7px,#f1f2f5 0 88.1px,#6f569e 0 89.6px,#644295 0 91.1px,#c2bfdd 0 92.5px,#cbc9e2 0 94.0px,#e48a20 0 95.5px,#735ca1 0 96.9px,#8376ae 0 98.4px,#6d539d 0 99.9px,#d4d5e8 0 101.3px,#b2abd2 0 102.8px,#e2e4ef 0 104.3px,#d97b12 0 105.8px,#fdbf71 0 107.2px,#a198c5 0 108.7px,#7c6da9 0 110.2px,#aaa2cc 0 111.6px,#c6c3df 0 113.1px,#bbb6d8 0 114.6px,#faeede 0 116.0px,#735ca1 0 117.5px)"></div><div class="h" style="left:192.5px;top:174.45px;width:117.5px;height:5.23px;background:linear-gradient(90deg,#bab5d7 0 1.5px,#f1f1f5 0 2.9px,#bfbcdb 0 4.4px,#fedfb4 0 5.9px,#f8af56 0 7.3px,#978dbe 0 8.8px,#b5afd4 0 10.3px,#e5e6f0 0 11.8px,#877bb1 0 13.2px,#c4c1de 0 14.7px,#e9eaf1 0 16.2px,#fab35c 0 17.6px,#a55007 0 19.1px,#fdbe6f 0 20.6px,#fdc37b 0 22.0px,#fedeb1 0 23.5px,#fed39c 0 25.0px,#fed49d 0 26.4px,#faeddc 0 27.9px,#c86b0c 0 29.4px,#fdc57d 0 30.8px,#f4f4f6 0 32.3px,#c76b0c 0 33.8px,#fce5c5 0 35.2px,#f1f1f5 0 36.7px,#fbebd4 0 38.2px,#f9b158 0 39.7px,#853e08 0 41.1px,#fdc47c 0 42.6px,#fbead3 0 44.1px,#5c358f 0 45.5px,#dfe0ee 0 47.0px,#fed299 0 48.5px,#d7d9ea 0 49.9px,#e4e5f0 0 51.4px,#cccbe3 0 52.9px,#c5c2de 0 54.3px,#c6c4df 0 55.8px,#f8f2e9 0 58.8px,#b4aed4 0 60.2px,#e0e1ee 0 61.7px,#e7e8f1 0 63.2px,#fab25a 0 64.6px,#f4a84c 0 66.1px,#d27510 0 67.6px,#a9a1cb 0 69.0px,#dadcec 0 70.5px,#fde2bb 0 72.0px,#f8f2e9 0 73.4px,#c9c7e1 0 74.9px,#fdbd6e 0 76.4px,#a097c4 0 77.8px,#e8e9f1 0 79.3px,#cb6e0d 0 80.8px,#b6b0d5 0 82.2px,#b7b1d5 0 83.7px,#c7c5e0 0 85.2px,#c8c6e0 0 86.7px,#897db3 0 88.1px,#fedeb2 0 89.6px,#b9b4d7 0 91.1px,#fde3bf 0 92.5px,#e3881d 0 94.0px,#fed6a2 0 95.5px,#bdb9da 0 96.9px,#da7d12 0 99.9px,#9186b9 0 101.3px,#988dbe 0 102.8px,#e79028 0 104.3px,#fcb660 0 105.8px,#cac9e2 0 107.2px,#b5afd4 0 108.7px,#c5c2de 0 110.2px,#aea7cf 0 111.6px,#aba3cc 0 113.1px,#aaa2cc 0 114.6px,#f9efe2 0 116.0px,#7b6ba8 0 117.5px)"></div><div class="h" style="left:192.5px;top:179.66px;width:117.5px;height:5.23px;background:linear-gradient(90deg,#998fbf 0 1.5px,#fdbd6e 0 2.9px,#faeede 0 4.4px,#eaebf2 0 5.9px,#d47710 0 7.3px,#bfbbda 0 8.8px,#d6d7ea 0 10.3px,#e2e4ef 0 11.8px,#f2f2f5 0 13.2px,#d4d6e9 0 14.7px,#d5d7e9 0 16.2px,#d9dbeb 0 17.6px,#fecf94 0 19.1px,#fdc176 0 20.6px,#fed8a4 0 22.0px,#b45906 0 23.5px,#eeeef3 0 25.0px,#faeddc 0 26.4px,#f1a344 0 27.9px,#fdcc8c 0 29.4px,#faecd8 0 30.8px,#d87a11 0 32.3px,#f8f5f2 0 33.8px,#8d4307 0 35.2px,#e8e9f1 0 36.7px,#fdc57d 0 38.2px,#fedeb3 0 39.7px,#fdbb69 0 41.1px,#fedfb4 0 42.6px,#dadcec 0 44.1px,#fed7a3 0 45.5px,#f9f2e8 0 47.0px,#fecd8e 0 48.5px,#634194 0 49.9px,#f1f1f5 0 51.4px,#eeeef3 0 52.9px,#dadbec 0 54.3px,#f8f4ee 0 55.8px,#a79fca 0 57.3px,#d2d3e7 0 58.8px,#c8c6e0 0 60.2px,#fbb55e 0 61.7px,#afa8d0 0 63.2px,#fdbc6b 0 64.6px,#fed7a4 0 66.1px,#de8013 0 67.6px,#e1e2ee 0 69.0px,#d6d8ea 0 70.5px,#fde2bc 0 72.0px,#f8f4ef 0 73.4px,#c3c1dd 0 74.9px,#fdc47b 0 76.4px,#fdcc8c 0 77.8px,#d9dbeb 0 79.3px,#f8f4ef 0 80.8px,#f4f4f6 0 82.2px,#f0f1f4 0 83.7px,#c2bfdc 0 85.2px,#fbebd4 0 86.7px,#cc6f0e 0 88.1px,#ea942f 0 89.6px,#c4c1de 0 91.1px,#bab4d7 0 92.5px,#aca4ce 0 94.0px,#fde3bd 0 95.5px,#603c92 0 96.9px,#fab25a 0 98.4px,#c5c3df 0 99.9px,#b9b4d7 0 101.3px,#877bb1 0 102.8px,#fcb55f 0 104.3px,#dd7f13 0 105.8px,#897db3 0 107.2px,#4c1f7b 0 108.7px,#dedfed 0 110.2px,#9389bb 0 111.6px,#dadcec 0 113.1px,#9084b8 0 114.6px,#c6c4df 0 116.0px,#b9b3d6 0 117.5px)"></div><div class="h" style="left:192.5px;top:184.88px;width:117.5px;height:5.23px;background:linear-gradient(90deg,#f8f4f0 0 1.5px,#fce5c4 0 2.9px,#ed9b38 0 4.4px,#f0f0f4 0 5.9px,#f6aa4f 0 7.3px,#fbead2 0 8.8px,#fdca89 0 10.3px,#fee1b9 0 11.8px,#c3c0dd 0 13.2px,#fbead2 0 14.7px,#fbead1 0 16.2px,#edeef3 0 17.6px,#b55906 0 19.1px,#853f08 0 20.6px,#7f3b08 0 22.0px,#954807 0 23.5px,#c5690c 0 25.0px,#bd6209 0 26.4px,#cb6f0e 0 27.9px,#df8114 0 29.4px,#cc6f0e 0 30.8px,#ac5406 0 32.3px,#b25806 0 33.8px,#b55a07 0 35.2px,#b35806 0 36.7px,#b25706 0 38.2px,#a95306 0 39.7px,#a95206 0 41.1px,#b35806 0 42.6px,#cb6e0d 0 44.1px,#7f3b08 0 45.5px,#b25806 0 47.0px,#f7ac52 0 48.5px,#914507 0 49.9px,#8b4208 0 51.4px,#a95206 0 52.9px,#fbe9cf 0 54.3px,#b15706 0 55.8px,#a85206 0 57.3px,#a75106 0 58.8px,#b35806 0 60.2px,#aa5306 0 61.7px,#b15706 0 63.2px,#b9b4d7 0 64.6px,#988ebe 0 66.1px,#ada5ce 0 67.6px,#d3d4e8 0 69.0px,#c6c4df 0 70.5px,#d6d8ea 0 72.0px,#cac9e2 0 73.4px,#d7d9eb 0 74.9px,#d3d4e8 0 76.4px,#9a90c0 0 77.8px,#d6d8ea 0 79.3px,#dbddec 0 80.8px,#aaa2cc 0 82.2px,#afa7cf 0 83.7px,#988dbe 0 85.2px,#7e70aa 0 86.7px,#f1f1f5 0 88.1px,#b0a8d0 0 89.6px,#eaebf2 0 91.1px,#aea7cf 0 92.5px,#735ca1 0 94.0px,#d0d1e6 0 95.5px,#6f569e 0 96.9px,#a79fca 0 98.4px,#9a90c0 0 99.9px,#fbead3 0 101.3px,#e4e5f0 0 102.8px,#d4d5e8 0 104.3px,#c3c0dd 0 105.8px,#b0a9d0 0 107.2px,#a59cc8 0 108.7px,#b2abd2 0 110.2px,#cccce3 0 111.6px,#e6e7f0 0 113.1px,#d8daeb 0 114.6px,#e8e9f1 0 116.0px,#745fa3 0 117.5px)"></div><div class="h" style="left:192.5px;top:190.09px;width:117.5px;height:5.23px;background:linear-gradient(90deg,#fdbd6d 0 1.5px,#fed095 0 2.9px,#f8f2e9 0 4.4px,#fce6c7 0 5.9px,#fedcad 0 7.3px,#fdca87 0 8.8px,#eaebf2 0 10.3px,#e08214 0 11.8px,#e9e9f1 0 13.2px,#e3e4ef 0 14.7px,#fedaaa 0 16.2px,#894108 0 17.6px,#b05706 0 19.1px,#904507 0 20.6px,#7f3b08 0 22.0px,#8d4307 0 23.5px,#b65b07 0 25.0px,#a75206 0 26.4px,#934607 0 27.9px,#8d4307 0 29.4px,#fdc885 0 30.8px,#833d08 0 32.3px,#be6209 0 33.8px,#984907 0 35.2px,#994a07 0 36.7px,#8f4407 0 38.2px,#fedfb5 0 39.7px,#823d08 0 41.1px,#8d4307 0 42.6px,#833d08 0 44.1px,#8c4207 0 45.5px,#9b4a07 0 47.0px,#af5606 0 48.5px,#ad5506 0 49.9px,#904507 0 51.4px,#7f3b08 0 52.9px,#b75c07 0 54.3px,#853e08 0 55.8px,#843e08 0 57.3px,#a24e07 0 58.8px,#a04d07 0 60.2px,#9e4c07 0 61.7px,#833d08 0 63.2px,#e9eaf1 0 64.6px,#f3f3f5 0 67.6px,#c1bedc 0 69.0px,#d9dbeb 0 70.5px,#dadcec 0 72.0px,#faefdf 0 73.4px,#fce7ca 0 74.9px,#948abb 0 76.4px,#a198c5 0 77.8px,#fedeb1 0 79.3px,#bbb6d8 0 80.8px,#aaa2cc 0 82.2px,#a8a0cb 0 83.7px,#aea7cf 0 85.2px,#bdb9d9 0 86.7px,#9489bb 0 88.1px,#a299c6 0 89.6px,#8377af 0 91.1px,#b3add3 0 92.5px,#a39ac6 0 94.0px,#afa8d0 0 95.5px,#624094 0 96.9px,#dee0ed 0 98.4px,#694b99 0 99.9px,#c7c5e0 0 101.3px,#b0a9d1 0 102.8px,#c7c5e0 0 104.3px,#e4e5ef 0 105.8px,#bdb9d9 0 107.2px,#a29ac6 0 108.7px,#b3acd3 0 110.2px,#a8a0cb 0 111.6px,#d3d4e8 0 113.1px,#dfe1ee 0 114.6px,#dadbec 0 116.0px,#c2bfdc 0 117.5px)"></div><div class="h" style="left:192.5px;top:195.30px;width:117.5px;height:5.23px;background:linear-gradient(90deg,#ef9e3e 0 1.5px,#dcdeec 0 2.9px,#9e4c07 0 4.4px,#fdc277 0 5.9px,#ef9e3d 0 7.3px,#efeff4 0 8.8px,#fdbf72 0 10.3px,#fdc883 0 11.8px,#fed5a0 0 13.2px,#fed39a 0 14.7px,#fdbd6d 0 16.2px,#e3881d 0 17.6px,#b05606 0 19.1px,#8d4307 0 20.6px,#974807 0 22.0px,#984907 0 23.5px,#7f3b08 0 25.0px,#a55007 0 26.4px,#964807 0 27.9px,#8f4407 0 29.4px,#9d4c07 0 30.8px,#a75106 0 32.3px,#a45007 0 33.8px,#904407 0 35.2px,#9c4b07 0 36.7px,#ba5f08 0 38.2px,#934607 0 39.7px,#894108 0 41.1px,#9b4b07 0 42.6px,#9e4c07 0 44.1px,#9f4d07 0 45.5px,#b75c07 0 47.0px,#fed9a7 0 48.5px,#9f4d07 0 49.9px,#8e4307 0 51.4px,#9c4b07 0 52.9px,#8f4407 0 54.3px,#9d4c07 0 55.8px,#a65107 0 57.3px,#964807 0 58.8px,#9b4b07 0 60.2px,#8a4108 0 61.7px,#b25706 0 63.2px,#d0d0e5 0 64.6px,#d5d7e9 0 66.1px,#bbb6d8 0 67.6px,#f1f1f5 0 69.0px,#e9eaf1 0 70.5px,#dddfed 0 72.0px,#a9a1cb 0 73.4px,#dfe1ee 0 74.9px,#c7c5e0 0 76.4px,#f7f6f4 0 77.8px,#f1f1f5 0 79.3px,#7f71ab 0 80.8px,#887cb2 0 82.2px,#948abc 0 83.7px,#beb9da 0 85.2px,#cac9e2 0 86.7px,#bab5d8 0 88.1px,#bfbbdb 0 89.6px,#5c358f 0 91.1px,#c9c8e1 0 92.5px,#b8b3d6 0 94.0px,#8578b0 0 95.5px,#8072ac 0 96.9px,#c6c4df 0 98.4px,#bfbbda 0 99.9px,#d7d8ea 0 101.3px,#8275ad 0 102.8px,#c8c6e0 0 104.3px,#bab4d7 0 105.8px,#8073ac 0 107.2px,#7967a7 0 108.7px,#867ab1 0 110.2px,#aba3cd 0 111.6px,#cbcae2 0 113.1px,#cac8e2 0 114.6px,#d2d2e7 0 116.0px,#b8b2d6 0 117.5px)"></div><div class="h" style="left:192.5px;top:200.51px;width:117.5px;height:5.23px;background:linear-gradient(90deg,#fee1b9 0 1.5px,#a34f07 0 2.9px,#bf630a 0 4.4px,#fce6c7 0 5.9px,#f1f2f5 0 7.3px,#fecf93 0 8.8px,#ba5f08 0 10.3px,#fed7a4 0 11.8px,#e2861a 0 13.2px,#fbb45e 0 14.7px,#fdbb69 0 16.2px,#fcb660 0 17.6px,#7f3b08 0 19.1px,#9c4b07 0 20.6px,#934607 0 22.0px,#7f3b08 0 23.5px,#9c4b07 0 25.0px,#b45906 0 26.4px,#e3871c 0 27.9px,#954707 0 29.4px,#ce710e 0 30.8px,#ae5506 0 32.3px,#9a4a07 0 33.8px,#a14e07 0 35.2px,#8c4208 0 36.7px,#9e4c07 0 38.2px,#974807 0 39.7px,#9f4d07 0 41.1px,#aa5306 0 42.6px,#8f4407 0 44.1px,#9a4a07 0 45.5px,#994907 0 47.0px,#904507 0 48.5px,#af5606 0 49.9px,#a75106 0 51.4px,#a55007 0 52.9px,#a75106 0 54.3px,#904407 0 55.8px,#8f4407 0 57.3px,#bf630a 0 58.8px,#924607 0 60.2px,#9f4d07 0 61.7px,#833d08 0 63.2px,#e8e9f1 0 64.6px,#eff0f4 0 66.1px,#eaebf2 0 67.6px,#ecedf3 0 69.0px,#e2e3ef 0 70.5px,#d4d5e8 0 72.0px,#fed7a3 0 73.4px,#b8b3d6 0 74.9px,#e4e5f0 0 76.4px,#f5f5f6 0 77.8px,#f9f0e3 0 79.3px,#b1aad2 0 80.8px,#512484 0 82.2px,#e0e2ee 0 83.7px,#c6c3df 0 85.2px,#8a7eb4 0 86.7px,#d3d4e8 0 88.1px,#aca5ce 0 89.6px,#b5aed4 0 91.1px,#bcb7d8 0 92.5px,#9f96c4 0 94.0px,#bebada 0 95.5px,#aba3cd 0 96.9px,#d5d6e9 0 98.4px,#8e82b6 0 99.9px,#735da1 0 101.3px,#9186b9 0 102.8px,#bbb6d8 0 104.3px,#8a7eb3 0 105.8px,#8b7fb4 0 107.2px,#b9b4d7 0 108.7px,#b7b2d6 0 110.2px,#b4add3 0 111.6px,#d1d1e6 0 113.1px,#b2abd2 0 114.6px,#cbcae2 0 116.0px,#d7d9ea 0 117.5px)"></div><div class="h" style="left:192.5px;top:205.72px;width:117.5px;height:5.23px;background:linear-gradient(90deg,#df8114 0 1.5px,#fdc47c 0 2.9px,#e3881d 0 4.4px,#fbb45d 0 5.9px,#fdca88 0 7.3px,#fed9a8 0 8.8px,#fee0b7 0 10.3px,#fcb762 0 11.8px,#fed7a4 0 13.2px,#fdbf71 0 14.7px,#fed094 0 16.2px,#bc6109 0 17.6px,#9e4c07 0 19.1px,#9b4b07 0 20.6px,#904507 0 22.0px,#833d08 0 23.5px,#974807 0 25.0px,#9c4b07 0 26.4px,#bd6109 0 27.9px,#7f3b08 0 29.4px,#843e08 0 30.8px,#a55007 0 32.3px,#954707 0 33.8px,#a24f07 0 35.2px,#a14e07 0 36.7px,#984907 0 38.2px,#934607 0 39.7px,#984907 0 41.1px,#9c4b07 0 42.6px,#a75106 0 44.1px,#a95206 0 45.5px,#904507 0 47.0px,#984907 0 48.5px,#a95206 0 49.9px,#984907 0 51.4px,#a44f07 0 52.9px,#ae5506 0 54.3px,#8e4307 0 55.8px,#aa5306 0 57.3px,#a34f07 0 58.8px,#924507 0 60.2px,#9f4d07 0 61.7px,#8e4307 0 63.2px,#ebebf2 0 64.6px,#f2f2f5 0 66.1px,#f7f6f3 0 67.6px,#978dbe 0 69.0px,#f3f4f6 0 70.5px,#d9dbeb 0 72.0px,#f8f5f2 0 73.4px,#ecedf3 0 74.9px,#bfbbdb 0 76.4px,#cac9e2 0 77.8px,#ebecf2 0 79.3px,#d7d9ea 0 80.8px,#b1aad1 0 82.2px,#b3add3 0 83.7px,#b5afd4 0 85.2px,#b0a8d0 0 86.7px,#cfcfe5 0 88.1px,#d1d1e6 0 89.6px,#988ebf 0 91.1px,#e7e8f1 0 92.5px,#8b7fb4 0 94.0px,#b3acd3 0 95.5px,#a9a1cb 0 96.9px,#8a7fb4 0 98.4px,#aca5ce 0 99.9px,#c0bcdb 0 101.3px,#cfcfe5 0 102.8px,#aca5ce 0 104.3px,#aca4cd 0 105.8px,#aaa2cc 0 107.2px,#b7b1d5 0 108.7px,#d0d0e6 0 110.2px,#9287ba 0 111.6px,#cdcce4 0 113.1px,#b5afd4 0 114.6px,#e1e3ef 0 116.0px,#b0a8d0 0 117.5px)"></div><div class="h" style="left:192.5px;top:210.94px;width:117.5px;height:5.23px;background:linear-gradient(90deg,#fdc57f 0 1.5px,#fdbf71 0 2.9px,#f9b058 0 4.4px,#fdc782 0 5.9px,#f0f0f4 0 7.3px,#ce720f 0 8.8px,#faecd8 0 10.3px,#fdb863 0 11.8px,#fee0b7 0 13.2px,#e9932d 0 14.7px,#f8f5f2 0 16.2px,#9a4a07 0 17.6px,#8b4208 0 19.1px,#9d4c07 0 22.0px,#b85d08 0 23.5px,#b55a07 0 25.0px,#e28518 0 26.4px,#a55007 0 27.9px,#9a4a07 0 29.4px,#fdc680 0 30.8px,#954707 0 32.3px,#b85d08 0 33.8px,#964807 0 35.2px,#833d08 0 36.7px,#a34f07 0 38.2px,#934607 0 39.7px,#9e4c07 0 41.1px,#a55007 0 42.6px,#7f3b08 0 45.5px,#b55a07 0 47.0px,#e9932d 0 48.5px,#9d4c07 0 49.9px,#9f4d07 0 51.4px,#aa5306 0 52.9px,#894108 0 54.3px,#863f08 0 55.8px,#ac5406 0 57.3px,#a95206 0 58.8px,#914507 0 60.2px,#9d4c07 0 61.7px,#a04d07 0 63.2px,#dcddec 0 64.6px,#8e82b6 0 66.1px,#fee1b8 0 67.6px,#c2bfdd 0 69.0px,#f8f5f1 0 70.5px,#e9eaf2 0 72.0px,#faecd9 0 73.4px,#eff0f4 0 74.9px,#c8c7e1 0 76.4px,#c9c7e1 0 77.8px,#d1d2e7 0 79.3px,#c9c7e1 0 80.8px,#a097c5 0 82.2px,#bebada 0 83.7px,#c2bedc 0 85.2px,#aba3cd 0 86.7px,#cbcae2 0 88.1px,#a9a1cb 0 89.6px,#8275ad 0 91.1px,#afa7cf 0 92.5px,#6b4f9b 0 94.0px,#aca4cd 0 95.5px,#887cb2 0 96.9px,#9f95c3 0 98.4px,#654596 0 99.9px,#c9c8e1 0 101.3px,#9d94c2 0 102.8px,#b8b2d6 0 104.3px,#b1aad2 0 105.8px,#9f96c3 0 107.2px,#c9c7e1 0 108.7px,#a299c6 0 110.2px,#a9a1cb 0 111.6px,#e4e5f0 0 113.1px,#b3acd3 0 114.6px,#958abc 0 116.0px,#cac9e2 0 117.5px)"></div><div class="h" style="left:192.5px;top:216.15px;width:117.5px;height:5.23px;background:linear-gradient(90deg,#eaeaf2 0 1.5px,#feddb0 0 2.9px,#c76a0c 0 4.4px,#fdc277 0 5.9px,#7f3b08 0 7.3px,#f8f3ed 0 8.8px,#d1740f 0 10.3px,#df8114 0 11.8px,#f3f3f6 0 13.2px,#fbb45d 0 14.7px,#e5e7f0 0 16.2px,#914507 0 17.6px,#a04d07 0 19.1px,#fed6a1 0 20.6px,#a85206 0 22.0px,#9e4c07 0 23.5px,#a14e07 0 26.4px,#863f08 0 27.9px,#9d4c07 0 29.4px,#ec9936 0 30.8px,#8b4208 0 32.3px,#a24e07 0 33.8px,#9d4c07 0 35.2px,#8c4207 0 36.7px,#7f3b08 0 38.2px,#863f08 0 39.7px,#853e08 0 41.1px,#914507 0 42.6px,#a14e07 0 44.1px,#984907 0 45.5px,#863f08 0 47.0px,#d47710 0 48.5px,#974807 0 49.9px,#9b4a07 0 51.4px,#964807 0 52.9px,#934607 0 54.3px,#7f3b08 0 55.8px,#b55a07 0 57.3px,#964807 0 58.8px,#9f4d07 0 60.2px,#d97b12 0 61.7px,#a65107 0 63.2px,#f8f5f2 0 64.6px,#bab5d7 0 66.1px,#d7d8ea 0 67.6px,#d7d9ea 0 69.0px,#f8f5f0 0 70.5px,#c4c2de 0 72.0px,#c6c4df 0 73.4px,#d5d6e9 0 74.9px,#dcdeed 0 76.4px,#dfe0ee 0 77.8px,#dadcec 0 79.3px,#bdb8d9 0 80.8px,#b8b3d6 0 82.2px,#968cbd 0 83.7px,#b2abd2 0 85.2px,#f0f1f4 0 86.7px,#b1a9d1 0 88.1px,#735da1 0 89.6px,#988ebe 0 91.1px,#edeef3 0 92.5px,#b4aed4 0 94.0px,#6c509c 0 95.5px,#958bbc 0 96.9px,#aea6cf 0 98.4px,#502381 0 99.9px,#623f94 0 101.3px,#b1aad1 0 102.8px,#cbc9e2 0 104.3px,#a8a0cb 0 105.8px,#8275ae 0 107.2px,#c6c4df 0 108.7px,#b8b2d6 0 110.2px,#a59dc8 0 111.6px,#cdcce4 0 113.1px,#a49cc8 0 114.6px,#eeeef3 0 116.0px,#b9b4d7 0 117.5px)"></div><div class="h" style="left:192.5px;top:221.36px;width:117.5px;height:5.23px;background:linear-gradient(90deg,#fed39b 0 1.5px,#fedcad 0 2.9px,#f8f3ec 0 4.4px,#f1f1f5 0 5.9px,#e3871c 0 7.3px,#803c08 0 8.8px,#f6f6f7 0 10.3px,#e3e5ef 0 11.8px,#fbead1 0 13.2px,#ed9936 0 14.7px,#948abb 0 16.2px,#833d08 0 17.6px,#9d4c07 0 19.1px,#8f4407 0 20.6px,#7f3b08 0 23.5px,#b15706 0 25.0px,#924607 0 26.4px,#e18417 0 27.9px,#9e4c07 0 29.4px,#9f4d07 0 30.8px,#803c08 0 32.3px,#a44f07 0 33.8px,#9f4d07 0 35.2px,#a45007 0 36.7px,#994907 0 38.2px,#ac5406 0 39.7px,#db7d12 0 41.1px,#7f3b08 0 42.6px,#9a4a07 0 44.1px,#b25806 0 45.5px,#9c4b07 0 47.0px,#a04e07 0 48.5px,#863f08 0 49.9px,#a34f07 0 51.4px,#863f08 0 52.9px,#b75c07 0 54.3px,#a14e07 0 55.8px,#a85206 0 57.3px,#a65106 0 58.8px,#aa5306 0 60.2px,#833d08 0 61.7px,#8e4307 0 63.2px,#d0d1e6 0 64.6px,#d8d9eb 0 66.1px,#f8f5f2 0 67.6px,#a59cc8 0 69.0px,#c4c2de 0 70.5px,#f0f1f4 0 72.0px,#fed197 0 73.4px,#fdc176 0 74.9px,#fde3be 0 76.4px,#dcdeed 0 77.8px,#eaebf2 0 79.3px,#cfcfe5 0 80.8px,#c8c6e0 0 82.2px,#c1bedc 0 83.7px,#a096c4 0 85.2px,#c1bedc 0 86.7px,#a097c5 0 88.1px,#b7b2d6 0 89.6px,#aea7cf 0 91.1px,#a49cc8 0 92.5px,#bbb6d8 0 94.0px,#a299c6 0 95.5px,#a9a1cb 0 96.9px,#978dbe 0 98.4px,#8073ac 0 99.9px,#beb9da 0 101.3px,#9c92c1 0 102.8px,#cccce3 0 104.3px,#d8daeb 0 105.8px,#8d81b6 0 107.2px,#7e6faa 0 108.7px,#b2abd2 0 110.2px,#c2bfdc 0 111.6px,#c3c0dd 0 113.1px,#b6b0d5 0 114.6px,#e0e1ee 0 116.0px,#c8c6e0 0 117.5px)"></div><div class="h" style="left:192.5px;top:226.57px;width:117.5px;height:5.23px;background:linear-gradient(90deg,#a34f07 0 1.5px,#d97c12 0 2.9px,#f7ad53 0 4.4px,#bd6109 0 5.9px,#de8013 0 7.3px,#f8af55 0 8.8px,#ef9d3c 0 10.3px,#fcb660 0 11.8px,#7f3b08 0 13.2px,#fecd8e 0 14.7px,#b25806 0 16.2px,#8f4407 0 17.6px,#b65b07 0 19.1px,#b85c07 0 20.6px,#a34f07 0 22.0px,#a45007 0 23.5px,#a24f07 0 25.0px,#bc6109 0 26.4px,#994a07 0 27.9px,#a85206 0 29.4px,#d27510 0 30.8px,#9b4b07 0 32.3px,#af5606 0 33.8px,#984907 0 35.2px,#f8af56 0 36.7px,#984907 0 38.2px,#9a4a07 0 39.7px,#904507 0 41.1px,#8b4208 0 42.6px,#974807 0 44.1px,#ad5406 0 45.5px,#a14e07 0 47.0px,#fee2ba 0 48.5px,#994907 0 49.9px,#a45007 0 51.4px,#ad5506 0 52.9px,#954707 0 54.3px,#944707 0 55.8px,#a95206 0 57.3px,#b95d08 0 58.8px,#964807 0 60.2px,#a14e07 0 61.7px,#8e4307 0 63.2px,#dfe1ee 0 64.6px,#f5f5f6 0 66.1px,#f8f5f1 0 67.6px,#d5d7e9 0 69.0px,#9287ba 0 70.5px,#cccbe3 0 72.0px,#f3f4f6 0 73.4px,#fbebd5 0 74.9px,#cecee4 0 76.4px,#bbb6d8 0 77.8px,#978cbd 0 79.3px,#eaebf2 0 80.8px,#dbddec 0 82.2px,#dcddec 0 85.2px,#897db3 0 86.7px,#c4c1de 0 88.1px,#c2bedc 0 89.6px,#a198c5 0 91.1px,#bdb8d9 0 92.5px,#aea7cf 0 94.0px,#7865a5 0 95.5px,#6d529c 0 96.9px,#b8b3d6 0 98.4px,#6d529c 0 99.9px,#a299c6 0 101.3px,#bebada 0 102.8px,#c4c2de 0 104.3px,#bfbcdb 0 105.8px,#bdb9d9 0 107.2px,#e6e7f0 0 108.7px,#7c6ca9 0 110.2px,#8a7eb3 0 111.6px,#f4f5f6 0 113.1px,#b9b4d7 0 114.6px,#ebecf2 0 116.0px,#c1bddc 0 117.5px)"></div><div class="h" style="left:192.5px;top:231.78px;width:117.5px;height:5.23px;background:linear-gradient(90deg,#fce6c8 0 1.5px,#ececf3 0 2.9px,#fee1ba 0 4.4px,#fde3bf 0 5.9px,#f9efe0 0 7.3px,#fed59f 0 8.8px,#f9f0e5 0 10.3px,#fce5c4 0 11.8px,#ea9530 0 13.2px,#fbebd5 0 14.7px,#fab25a 0 16.2px,#fdc57e 0 17.6px,#8c4207 0 19.1px,#843e08 0 20.6px,#954807 0 22.0px,#c66a0c 0 23.5px,#af5606 0 25.0px,#954707 0 26.4px,#914507 0 27.9px,#b45906 0 29.4px,#894008 0 30.8px,#9f4d07 0 32.3px,#aa5306 0 33.8px,#7f3b08 0 35.2px,#984907 0 36.7px,#a75106 0 38.2px,#984907 0 39.7px,#994a07 0 41.1px,#974907 0 42.6px,#9e4c07 0 44.1px,#9a4a07 0 45.5px,#914507 0 47.0px,#e18518 0 48.5px,#9d4c07 0 49.9px,#894108 0 51.4px,#823d08 0 52.9px,#934607 0 54.3px,#914507 0 55.8px,#813c08 0 57.3px,#a85206 0 58.8px,#ac5406 0 60.2px,#904407 0 61.7px,#ab5406 0 63.2px,#ececf3 0 64.6px,#eaebf2 0 66.1px,#dcdeed 0 67.6px,#dddfed 0 69.0px,#9489bb 0 70.5px,#f8f2ea 0 72.0px,#faecd9 0 73.4px,#b9b3d6 0 74.9px,#cfcee5 0 76.4px,#d8daeb 0 77.8px,#d5d6e9 0 79.3px,#cac8e2 0 80.8px,#d0d0e6 0 82.2px,#7865a5 0 83.7px,#b1a9d1 0 85.2px,#aba3cd 0 86.7px,#bcb8d9 0 88.1px,#b0a8d0 0 89.6px,#bfbcdb 0 91.1px,#d5d6e9 0 92.5px,#d7d9ea 0 94.0px,#8073ac 0 95.5px,#8579b0 0 96.9px,#b4aed4 0 98.4px,#c3c0dd 0 99.9px,#e2e4ef 0 101.3px,#c2bfdc 0 102.8px,#afa8d0 0 104.3px,#bab5d7 0 105.8px,#a39bc7 0 107.2px,#c8c7e1 0 108.7px,#887bb2 0 110.2px,#afa8d0 0 111.6px,#9186b9 0 113.1px,#9f95c3 0 114.6px,#ecedf3 0 116.0px,#c7c5e0 0 117.5px)"></div><div class="h" style="left:192.5px;top:237.00px;width:117.5px;height:5.23px;background:linear-gradient(90deg,#fdc987 0 1.5px,#eaebf2 0 2.9px,#fdc885 0 4.4px,#fdbb68 0 5.9px,#f4f4f6 0 7.3px,#faefdf 0 8.8px,#fedfb3 0 10.3px,#8c4207 0 11.8px,#fdbc6b 0 13.2px,#cccbe3 0 14.7px,#fbebd5 0 16.2px,#fedeb2 0 17.6px,#b25706 0 19.1px,#7f3b08 0 20.6px,#803c08 0 22.0px,#924607 0 23.5px,#9d4b07 0 25.0px,#b45906 0 26.4px,#ae5506 0 27.9px,#a24f07 0 29.4px,#c5690c 0 30.8px,#9e4d07 0 32.3px,#8d4307 0 33.8px,#823d08 0 35.2px,#954707 0 36.7px,#9e4c07 0 38.2px,#9b4b07 0 39.7px,#a95306 0 41.1px,#a85206 0 42.6px,#914507 0 44.1px,#994a07 0 45.5px,#8b4208 0 47.0px,#a65107 0 48.5px,#904407 0 49.9px,#833d08 0 51.4px,#a85206 0 52.9px,#ab5406 0 54.3px,#8b4108 0 55.8px,#af5506 0 57.3px,#823d08 0 58.8px,#b25806 0 60.2px,#974807 0 61.7px,#a45007 0 63.2px,#f2f3f5 0 64.6px,#fee1ba 0 66.1px,#faecd8 0 67.6px,#d7d8ea 0 69.0px,#dadcec 0 70.5px,#f8f3ec 0 72.0px,#efeff4 0 73.4px,#eeeff4 0 74.9px,#c8c6e0 0 76.4px,#eaebf2 0 77.8px,#f2f2f5 0 79.3px,#cecee4 0 80.8px,#afa8d0 0 82.2px,#aca4cd 0 83.7px,#a79fca 0 85.2px,#aca4cd 0 86.7px,#a9a1cb 0 88.1px,#c9c7e1 0 89.6px,#3c0f62 0 91.1px,#8d82b6 0 92.5px,#d0d0e6 0 94.0px,#897db3 0 95.5px,#9a90c0 0 96.9px,#c4c2de 0 98.4px,#6e549d 0 99.9px,#f7f6f6 0 101.3px,#cccce3 0 102.8px,#a9a1cb 0 104.3px,#e0e2ee 0 105.8px,#8275ad 0 107.2px,#bdb9d9 0 108.7px,#a39ac7 0 110.2px,#8679b0 0 111.6px,#b9b3d6 0 113.1px,#8e82b6 0 114.6px,#b2abd2 0 116.0px,#c5c3df 0 117.5px)"></div><div class="h" style="left:192.5px;top:242.21px;width:117.5px;height:5.23px;background:linear-gradient(90deg,#fdbb6a 0 1.5px,#dfe1ee 0 2.9px,#fce6c6 0 4.4px,#edeef3 0 5.9px,#c4c1de 0 7.3px,#df8114 0 8.8px,#f9b159 0 10.3px,#fecf92 0 11.8px,#c5690c 0 13.2px,#dc7e13 0 14.7px,#be6209 0 16.2px,#c2660b 0 17.6px,#ac5406 0 19.1px,#d0730f 0 20.6px,#8b4108 0 22.0px,#863f08 0 23.5px,#7f3b08 0 25.0px,#ae5506 0 26.4px,#944707 0 27.9px,#984907 0 29.4px,#fcb761 0 30.8px,#b25806 0 32.3px,#a65106 0 33.8px,#904407 0 35.2px,#974807 0 36.7px,#a45007 0 38.2px,#a24f07 0 39.7px,#853e08 0 41.1px,#a45007 0 42.6px,#7f3b08 0 44.1px,#ac5406 0 45.5px,#ab5406 0 47.0px,#b85d08 0 48.5px,#b55a07 0 49.9px,#a34f07 0 51.4px,#984907 0 52.9px,#a65106 0 54.3px,#b85d08 0 55.8px,#7f3b08 0 57.3px,#904407 0 58.8px,#9c4b07 0 60.2px,#7f3b08 0 61.7px,#b65b07 0 63.2px,#cbcae3 0 64.6px,#dbddec 0 66.1px,#f2f2f5 0 67.6px,#b9b4d7 0 69.0px,#dee0ed 0 70.5px,#dddfed 0 72.0px,#fbead2 0 73.4px,#cecee5 0 74.9px,#faeddc 0 76.4px,#f0f1f4 0 77.8px,#f9f0e2 0 79.3px,#d5d6e9 0 80.8px,#cac9e2 0 82.2px,#968cbd 0 83.7px,#6d539d 0 85.2px,#b5afd4 0 86.7px,#8478af 0 88.1px,#dadcec 0 89.6px,#ada5ce 0 92.5px,#dfe1ee 0 94.0px,#8f84b7 0 95.5px,#a39ac7 0 96.9px,#8a7fb4 0 98.4px,#cbc9e2 0 99.9px,#cccbe3 0 101.3px,#c5c3df 0 102.8px,#7d6da9 0 104.3px,#bab5d7 0 105.8px,#b6afd4 0 107.2px,#9d93c2 0 108.7px,#8f83b7 0 110.2px,#dbddec 0 111.6px,#e2e3ef 0 113.1px,#7c6ca9 0 114.6px,#ada5ce 0 116.0px,#b9b3d6 0 117.5px)"></div><div class="h" style="left:192.5px;top:247.42px;width:117.5px;height:5.23px;background:linear-gradient(90deg,#f9f0e2 0 1.5px,#df8114 0 2.9px,#ec9834 0 4.4px,#e4e6f0 0 5.9px,#e18316 0 7.3px,#924607 0 8.8px,#b05606 0 10.3px,#dfe1ee 0 11.8px,#ef9e3c 0 13.2px,#b25806 0 14.7px,#fbe9ce 0 16.2px,#823c08 0 17.6px,#ab5406 0 19.1px,#924607 0 20.6px,#8f4407 0 22.0px,#a24f07 0 23.5px,#9f4d07 0 25.0px,#a75106 0 26.4px,#a14e07 0 27.9px,#7f3b08 0 29.4px,#9f4d07 0 30.8px,#8a4108 0 32.3px,#ba5f08 0 33.8px,#964807 0 35.2px,#b45906 0 36.7px,#a85206 0 38.2px,#7f3b08 0 39.7px,#994907 0 41.1px,#a55007 0 42.6px,#863f08 0 44.1px,#8f4407 0 45.5px,#a14e07 0 47.0px,#d37510 0 48.5px,#9e4c07 0 49.9px,#af5606 0 51.4px,#ac5406 0 52.9px,#964807 0 54.3px,#9c4b07 0 55.8px,#954707 0 57.3px,#7f3b08 0 58.8px,#ab5406 0 60.2px,#9a4a07 0 63.2px,#d3d4e8 0 64.6px,#f7f7f7 0 66.1px,#fde2bc 0 67.6px,#cecee5 0 69.0px,#fde3bf 0 70.5px,#c0bddb 0 72.0px,#dadcec 0 73.4px,#e2e3ef 0 74.9px,#bfbbdb 0 76.4px,#cac9e2 0 77.8px,#e7e8f1 0 79.3px,#c6c3df 0 80.8px,#c8c7e1 0 82.2px,#b3acd2 0 83.7px,#b5afd4 0 85.2px,#c2bfdd 0 88.1px,#cfcfe5 0 89.6px,#988ebf 0 91.1px,#bdb9d9 0 92.5px,#e3e4ef 0 94.0px,#aba3cc 0 95.5px,#ada6ce 0 96.9px,#b3acd2 0 98.4px,#5f3b91 0 99.9px,#d8daeb 0 101.3px,#b2abd2 0 102.8px,#d3d4e8 0 104.3px,#c0bcdb 0 105.8px,#877bb2 0 107.2px,#a39ac6 0 108.7px,#a59dc8 0 110.2px,#988ebf 0 111.6px,#998fbf 0 113.1px,#6c509b 0 114.6px,#f9f1e7 0 116.0px,#dedfed 0 117.5px)"></div><div class="h" style="left:192.5px;top:252.63px;width:117.5px;height:5.23px;background:linear-gradient(90deg,#d77a11 0 1.5px,#f0a040 0 2.9px,#f9f0e2 0 4.4px,#fdbf72 0 5.9px,#e18518 0 7.3px,#f8b057 0 8.8px,#c96c0d 0 10.3px,#fce5c4 0 11.8px,#fed6a2 0 13.2px,#fdbf72 0 14.7px,#a75206 0 16.2px,#8d4307 0 17.6px,#884008 0 19.1px,#894108 0 20.6px,#914507 0 22.0px,#9f4d07 0 25.0px,#a14e07 0 26.4px,#884008 0 27.9px,#8e4307 0 29.4px,#ce710e 0 30.8px,#b35806 0 32.3px,#7f3b08 0 33.8px,#994907 0 35.2px,#9c4b07 0 36.7px,#863f08 0 38.2px,#a34f07 0 39.7px,#a65107 0 41.1px,#7f3b08 0 42.6px,#853e08 0 44.1px,#954707 0 45.5px,#b45906 0 47.0px,#de8013 0 48.5px,#994a07 0 49.9px,#a04d07 0 51.4px,#a24f07 0 52.9px,#924607 0 54.3px,#7f3b08 0 55.8px,#9f4d07 0 57.3px,#964807 0 58.8px,#a95206 0 60.2px,#954707 0 61.7px,#c76b0c 0 63.2px,#f7f6f5 0 64.6px,#bfbcdb 0 66.1px,#eaebf2 0 67.6px,#e9eaf2 0 69.0px,#d9dbec 0 70.5px,#e3e4ef 0 72.0px,#d4d4e8 0 73.4px,#bebada 0 74.9px,#f8f3eb 0 76.4px,#bdb8d9 0 77.8px,#fde3be 0 79.3px,#b2abd2 0 80.8px,#a097c5 0 82.2px,#a299c6 0 83.7px,#c4c1de 0 85.2px,#b4aed4 0 86.7px,#cecde4 0 88.1px,#a39bc7 0 89.6px,#bcb7d9 0 91.1px,#bebada 0 92.5px,#552989 0 94.0px,#694b99 0 95.5px,#5d3790 0 96.9px,#b5afd4 0 98.4px,#7b6aa8 0 99.9px,#bbb7d8 0 101.3px,#afa8d0 0 102.8px,#cdcde4 0 104.3px,#9d93c2 0 105.8px,#a299c6 0 107.2px,#ada5ce 0 108.7px,#7159a0 0 110.2px,#d8daeb 0 111.6px,#c5c3df 0 113.1px,#bcb7d9 0 114.6px,#c4c1de 0 116.0px,#978dbd 0 117.5px)"></div><div class="h" style="left:192.5px;top:257.84px;width:117.5px;height:5.23px;background:linear-gradient(90deg,#fce6c7 0 1.5px,#f8f3eb 0 2.9px,#fed9a6 0 4.4px,#e5e6f0 0 5.9px,#ee9b39 0 7.3px,#ec9935 0 8.8px,#f8f5f2 0 10.3px,#e68e25 0 11.8px,#fedeb3 0 13.2px,#bb6009 0 14.7px,#d87a11 0 16.2px,#c5690c 0 17.6px,#9a4a07 0 19.1px,#9d4c07 0 20.6px,#8e4407 0 22.0px,#8c4207 0 23.5px,#994907 0 25.0px,#a34f07 0 26.4px,#b75c07 0 27.9px,#a85206 0 29.4px,#a95306 0 30.8px,#a75106 0 32.3px,#aa5306 0 33.8px,#9b4b07 0 35.2px,#9d4c07 0 36.7px,#874008 0 38.2px,#a75106 0 39.7px,#833d08 0 41.1px,#873f08 0 42.6px,#954707 0 44.1px,#914507 0 45.5px,#8e4307 0 47.0px,#fed39a 0 48.5px,#a65107 0 49.9px,#954807 0 51.4px,#874008 0 52.9px,#8e4307 0 54.3px,#843e08 0 55.8px,#894008 0 57.3px,#a65107 0 58.8px,#bd6109 0 60.2px,#9d4c07 0 61.7px,#a95206 0 63.2px,#dbddec 0 64.6px,#c8c6e0 0 66.1px,#e9eaf2 0 67.6px,#dcddec 0 69.0px,#e8e9f1 0 70.5px,#f3f3f5 0 72.0px,#f5f5f6 0 73.4px,#d3d4e8 0 74.9px,#e7e8f1 0 76.4px,#bdb8d9 0 77.8px,#eaebf2 0 79.3px,#aea7cf 0 80.8px,#cccbe3 0 82.2px,#bfbbdb 0 83.7px,#a198c5 0 85.2px,#b6b0d5 0 86.7px,#b3acd3 0 88.1px,#bcb8d9 0 89.6px,#aea7cf 0 91.1px,#b1aad1 0 92.5px,#9a90c0 0 94.0px,#998fbf 0 95.5px,#481b75 0 96.9px,#aba3cd 0 98.4px,#8d82b6 0 99.9px,#9f96c4 0 101.3px,#c1bddc 0 102.8px,#7e70ab 0 104.3px,#bebada 0 105.8px,#c0bddb 0 107.2px,#aaa2cc 0 108.7px,#7f71ab 0 110.2px,#b7b2d6 0 111.6px,#b9b4d7 0 113.1px,#8f84b8 0 114.6px,#bfbbda 0 116.0px,#d3d4e8 0 117.5px)"></div><div class="h" style="left:192.5px;top:263.06px;width:117.5px;height:5.23px;background:linear-gradient(90deg,#d5d6e9 0 1.5px,#f8af55 0 2.9px,#fed6a2 0 4.4px,#ee9d3b 0 5.9px,#894108 0 7.3px,#fdbb69 0 8.8px,#fdca89 0 10.3px,#863f08 0 11.8px,#f3a547 0 13.2px,#fed39c 0 14.7px,#cb6f0e 0 16.2px,#8d4307 0 17.6px,#b05606 0 19.1px,#833d08 0 20.6px,#934607 0 22.0px,#9a4a07 0 23.5px,#843e08 0 25.0px,#b25806 0 26.4px,#9d4c07 0 27.9px,#964807 0 29.4px,#db7e13 0 30.8px,#c66a0c 0 32.3px,#924507 0 33.8px,#964807 0 35.2px,#ab5406 0 36.7px,#a85206 0 38.2px,#a55007 0 39.7px,#fdbe6f 0 41.1px,#8e4407 0 42.6px,#823c08 0 44.1px,#f2a344 0 45.5px,#8b4208 0 47.0px,#c6690c 0 48.5px,#884008 0 49.9px,#a85206 0 51.4px,#8f4407 0 52.9px,#b45906 0 54.3px,#813c08 0 55.8px,#7f3b08 0 57.3px,#924607 0 58.8px,#a55007 0 60.2px,#a14e07 0 61.7px,#ae5506 0 63.2px,#7d6da9 0 64.6px,#faecd7 0 66.1px,#f8f5f2 0 67.6px,#c5c2de 0 69.0px,#d7d9ea 0 70.5px,#dadcec 0 72.0px,#eff0f4 0 73.4px,#bebada 0 74.9px,#8478af 0 76.4px,#d0d1e6 0 77.8px,#fbe8ce 0 79.3px,#ebecf2 0 80.8px,#bdb9d9 0 82.2px,#8276ae 0 83.7px,#a69ec9 0 85.2px,#b9b4d7 0 86.7px,#b4add3 0 88.1px,#a59cc8 0 89.6px,#a097c4 0 91.1px,#a9a0cb 0 92.5px,#958bbc 0 94.0px,#9b92c1 0 95.5px,#a59dc8 0 96.9px,#a39ac6 0 98.4px,#bab5d7 0 99.9px,#b7b1d5 0 101.3px,#c1bddc 0 102.8px,#dadcec 0 104.3px,#674898 0 105.8px,#b0a9d0 0 107.2px,#8e83b7 0 108.7px,#bab5d7 0 110.2px,#b6b0d5 0 111.6px,#988ebe 0 113.1px,#d1d2e7 0 114.6px,#d4d6e9 0 116.0px,#877bb1 0 117.5px)"></div><div class="h" style="left:192.5px;top:268.27px;width:117.5px;height:5.23px;background:linear-gradient(90deg,#f9b058 0 1.5px,#faecd8 0 2.9px,#fdb762 0 4.4px,#e9932d 0 5.9px,#e28619 0 7.3px,#fdca88 0 8.8px,#fdb864 0 10.3px,#e68d25 0 11.8px,#fee1ba 0 13.2px,#fdbd6e 0 14.7px,#fedaaa 0 16.2px,#dd8013 0 17.6px,#7f3b08 0 19.1px,#994907 0 20.6px,#833d08 0 22.0px,#954707 0 23.5px,#9b4a07 0 25.0px,#9f4d07 0 26.4px,#833d08 0 27.9px,#9c4b07 0 29.4px,#c96c0d 0 30.8px,#924607 0 32.3px,#ab5306 0 33.8px,#8c4207 0 35.2px,#a14e07 0 36.7px,#8a4108 0 38.2px,#873f08 0 39.7px,#894008 0 41.1px,#984907 0 42.6px,#9f4d07 0 44.1px,#9a4a07 0 45.5px,#954707 0 47.0px,#ac5406 0 48.5px,#8f4407 0 49.9px,#984907 0 51.4px,#823d08 0 52.9px,#a24e07 0 54.3px,#8a4108 0 55.8px,#9b4b07 0 57.3px,#9a4a07 0 58.8px,#b75c07 0 60.2px,#924607 0 61.7px,#a24e07 0 63.2px,#bdb9da 0 64.6px,#f0f1f4 0 66.1px,#f3f3f5 0 67.6px,#d0d1e6 0 69.0px,#e8e9f1 0 72.0px,#fedfb3 0 73.4px,#e5e6f0 0 74.9px,#c2bedc 0 76.4px,#faefdf 0 77.8px,#eeeff4 0 79.3px,#b6afd4 0 80.8px,#a198c5 0 82.2px,#978dbe 0 83.7px,#beb9da 0 85.2px,#9f96c4 0 86.7px,#aca4cd 0 88.1px,#958bbc 0 89.6px,#b6afd4 0 91.1px,#b4add3 0 92.5px,#a39ac7 0 94.0px,#ada5ce 0 95.5px,#a39ac7 0 96.9px,#988ebe 0 98.4px,#b9b4d7 0 99.9px,#a8a0ca 0 101.3px,#dbdcec 0 102.8px,#bcb8d9 0 104.3px,#b7b1d5 0 105.8px,#b0a9d0 0 107.2px,#877bb1 0 108.7px,#aca4ce 0 110.2px,#b7b1d5 0 111.6px,#cdcce4 0 113.1px,#dddfed 0 114.6px,#cecee5 0 116.0px,#c4c2de 0 117.5px)"></div><div class="h" style="left:192.5px;top:273.48px;width:117.5px;height:5.23px;background:linear-gradient(90deg,#eaeaf2 0 1.5px,#f7f7f7 0 2.9px,#e08214 0 4.4px,#a75106 0 5.9px,#f2a445 0 7.3px,#fce8cc 0 8.8px,#ed9a37 0 10.3px,#eeeef3 0 11.8px,#fcb660 0 13.2px,#f2a445 0 14.7px,#fee1b8 0 16.2px,#ec9935 0 17.6px,#924607 0 19.1px,#994907 0 20.6px,#a95306 0 22.0px,#aa5306 0 23.5px,#884008 0 25.0px,#8d4307 0 26.4px,#994907 0 27.9px,#7f3b08 0 29.4px,#fdca89 0 30.8px,#7f3b08 0 32.3px,#d57811 0 33.8px,#b35806 0 35.2px,#c2660b 0 36.7px,#8b4208 0 38.2px,#a85206 0 39.7px,#914507 0 41.1px,#813c08 0 42.6px,#ad5506 0 44.1px,#984907 0 45.5px,#964807 0 47.0px,#e89129 0 48.5px,#ae5506 0 49.9px,#a04e07 0 51.4px,#964807 0 52.9px,#ac5406 0 54.3px,#af5606 0 55.8px,#884008 0 57.3px,#894008 0 58.8px,#aa5306 0 60.2px,#8d4307 0 61.7px,#fed196 0 63.2px,#bcb8d9 0 64.6px,#e1e3ef 0 66.1px,#fed9a8 0 67.6px,#c5c2de 0 69.0px,#dadbec 0 70.5px,#d5d6e9 0 72.0px,#cccbe3 0 73.4px,#cdcce3 0 74.9px,#dbddec 0 76.4px,#cfcfe5 0 77.8px,#f3f4f6 0 79.3px,#d2d2e7 0 80.8px,#cecde4 0 82.2px,#c5c3df 0 83.7px,#8c80b5 0 85.2px,#8578b0 0 86.7px,#eff0f4 0 88.1px,#cac8e2 0 89.6px,#9084b8 0 91.1px,#c3c0dd 0 92.5px,#a79ec9 0 94.0px,#cdcce4 0 95.5px,#9d93c2 0 96.9px,#998fbf 0 98.4px,#a198c5 0 99.9px,#eaeaf2 0 101.3px,#c8c6e0 0 102.8px,#b2abd2 0 104.3px,#9c92c1 0 105.8px,#c8c6e0 0 107.2px,#968cbd 0 108.7px,#9287ba 0 110.2px,#c9c8e1 0 111.6px,#ecedf3 0 113.1px,#dbdcec 0 114.6px,#a39ac7 0 116.0px,#c5c3df 0 117.5px)"></div><div class="h" style="left:192.5px;top:278.69px;width:117.5px;height:5.23px;background:linear-gradient(90deg,#d27510 0 1.5px,#f7f6f3 0 2.9px,#cb6e0d 0 4.4px,#fdc37a 0 5.9px,#7f3b08 0 7.3px,#b4aed4 0 8.8px,#fdb863 0 10.3px,#b25806 0 11.8px,#f9efe1 0 13.2px,#fed095 0 14.7px,#fedbac 0 16.2px,#8b4208 0 17.6px,#a65107 0 19.1px,#9f4d07 0 20.6px,#f4a74a 0 22.0px,#8e4307 0 23.5px,#9e4c07 0 25.0px,#be6209 0 26.4px,#ae5506 0 27.9px,#a85206 0 29.4px,#fee1b8 0 30.8px,#8d4307 0 32.3px,#b65b07 0 33.8px,#974907 0 35.2px,#8e4407 0 36.7px,#8c4207 0 38.2px,#8e4307 0 39.7px,#9c4b07 0 41.1px,#ba5f08 0 42.6px,#ac5406 0 44.1px,#9c4b07 0 45.5px,#853f08 0 47.0px,#8f4407 0 48.5px,#b85d08 0 49.9px,#9c4b07 0 51.4px,#974807 0 52.9px,#b75c07 0 54.3px,#9b4a07 0 55.8px,#8a4108 0 57.3px,#ac5406 0 58.8px,#974807 0 60.2px,#a45007 0 61.7px,#b15706 0 63.2px,#d8daeb 0 64.6px,#f0f0f4 0 66.1px,#f7f7f7 0 67.6px,#e3e4ef 0 69.0px,#cac9e2 0 70.5px,#a9a1cb 0 72.0px,#fdbf72 0 73.4px,#fbe9d0 0 74.9px,#edeef3 0 76.4px,#f7f6f3 0 77.8px,#c2bfdd 0 79.3px,#664697 0 80.8px,#d2d2e7 0 82.2px,#b6b0d4 0 83.7px,#bbb7d8 0 85.2px,#ada6ce 0 86.7px,#aea6cf 0 88.1px,#c2bfdd 0 89.6px,#b9b3d6 0 91.1px,#e2e3ef 0 92.5px,#9186b9 0 94.0px,#988ebf 0 95.5px,#8477af 0 96.9px,#a9a1cb 0 98.4px,#674797 0 99.9px,#bdb9d9 0 101.3px,#6c509b 0 102.8px,#d9dbec 0 104.3px,#bcb7d8 0 105.8px,#ada5ce 0 107.2px,#b1aad2 0 108.7px,#beb9da 0 110.2px,#d2d3e7 0 111.6px,#c1bedc 0 113.1px,#c9c7e1 0 114.6px,#c1bddc 0 116.0px,#c8c7e1 0 117.5px)"></div><div class="h" style="left:192.5px;top:283.90px;width:117.5px;height:5.23px;background:linear-gradient(90deg,#fed49d 0 1.5px,#fed299 0 2.9px,#8f4407 0 4.4px,#c4680b 0 5.9px,#fdb964 0 7.3px,#fdc884 0 8.8px,#fbead1 0 10.3px,#fdb965 0 11.8px,#fed9a8 0 13.2px,#ec9733 0 14.7px,#e08214 0 16.2px,#fedbac 0 17.6px,#7f3b08 0 19.1px,#8f4407 0 20.6px,#924607 0 22.0px,#9c4b07 0 23.5px,#9e4c07 0 25.0px,#904407 0 26.4px,#b45906 0 29.4px,#863f08 0 30.8px,#833d08 0 32.3px,#823d08 0 33.8px,#904507 0 35.2px,#a65107 0 36.7px,#9c4b07 0 38.2px,#904507 0 39.7px,#9c4b07 0 41.1px,#833d08 0 42.6px,#7f3b08 0 44.1px,#a75106 0 45.5px,#a85206 0 47.0px,#904507 0 48.5px,#954707 0 49.9px,#9c4b07 0 51.4px,#934607 0 52.9px,#a55007 0 54.3px,#7f3b08 0 55.8px,#8c4207 0 57.3px,#8d4307 0 58.8px,#a04e07 0 60.2px,#8b4208 0 61.7px,#984907 0 63.2px,#dddeed 0 64.6px,#fce8cd 0 66.1px,#dbddec 0 67.6px,#f3f3f6 0 69.0px,#e5e6f0 0 70.5px,#f9f2e8 0 72.0px,#d0d0e6 0 73.4px,#cecde4 0 74.9px,#dfe0ee 0 76.4px,#e7e8f1 0 79.3px,#dcdeed 0 80.8px,#8c80b5 0 82.2px,#d8daeb 0 83.7px,#dddeed 0 85.2px,#958bbc 0 86.7px,#c1bddc 0 88.1px,#978dbe 0 89.6px,#9d94c2 0 91.1px,#c4c1de 0 92.5px,#beb9da 0 94.0px,#cccbe3 0 95.5px,#a39bc7 0 96.9px,#ada5ce 0 98.4px,#755fa3 0 99.9px,#bcb7d8 0 101.3px,#d0cfe5 0 102.8px,#a49bc7 0 104.3px,#afa7cf 0 105.8px,#8579b0 0 107.2px,#afa7cf 0 108.7px,#9085b8 0 110.2px,#d3d4e8 0 111.6px,#8174ad 0 113.1px,#9388ba 0 114.6px,#eaebf2 0 116.0px,#c6c4df 0 117.5px)"></div><div class="h" style="left:192.5px;top:289.12px;width:117.5px;height:5.23px;background:linear-gradient(90deg,#d97b12 0 1.5px,#e9922c 0 2.9px,#ef9e3c 0 4.4px,#ec9834 0 5.9px,#d27510 0 7.3px,#fab25b 0 8.8px,#fedfb5 0 10.3px,#af5606 0 11.8px,#f8f4f0 0 13.2px,#dcdeed 0 14.7px,#fde2bb 0 16.2px,#863f08 0 17.6px,#823c08 0 19.1px,#a14e07 0 20.6px,#9a4a07 0 22.0px,#aa5306 0 23.5px,#974807 0 25.0px,#ab5406 0 26.4px,#a75106 0 27.9px,#a85206 0 29.4px,#ab5406 0 30.8px,#9e4c07 0 32.3px,#8f4407 0 33.8px,#ac5406 0 35.2px,#934607 0 36.7px,#a55007 0 38.2px,#8b4208 0 39.7px,#984907 0 41.1px,#7f3b08 0 42.6px,#803c08 0 44.1px,#9e4c07 0 47.0px,#e18417 0 48.5px,#a34f07 0 49.9px,#954707 0 51.4px,#853e08 0 52.9px,#a85206 0 54.3px,#904407 0 55.8px,#a04e07 0 57.3px,#954707 0 58.8px,#ab5306 0 60.2px,#a14e07 0 61.7px,#8b4208 0 63.2px,#fbebd6 0 64.6px,#f4f4f6 0 66.1px,#eaebf2 0 67.6px,#d5d6e9 0 69.0px,#dddfed 0 70.5px,#ecedf3 0 72.0px,#f8f4ee 0 73.4px,#f4f5f6 0 74.9px,#beb9da 0 76.4px,#b6b0d4 0 77.8px,#e7e8f1 0 79.3px,#bdb8d9 0 80.8px,#a79ec9 0 82.2px,#9b91c0 0 83.7px,#bebada 0 85.2px,#bdb8d9 0 86.7px,#dcdeed 0 88.1px,#d7d8ea 0 89.6px,#5e3890 0 91.1px,#f1f1f5 0 92.5px,#b1aad1 0 94.0px,#978cbd 0 95.5px,#623f93 0 96.9px,#aba3cc 0 98.4px,#5c348e 0 99.9px,#aea6cf 0 101.3px,#afa8d0 0 102.8px,#9287ba 0 104.3px,#c1bddc 0 105.8px,#bcb7d9 0 107.2px,#aaa2cc 0 108.7px,#4e217e 0 110.2px,#c2bedc 0 111.6px,#dadcec 0 113.1px,#afa8d0 0 114.6px,#c3c0dd 0 116.0px,#9c93c2 0 117.5px)"></div><div class="h" style="left:192.5px;top:294.33px;width:117.5px;height:5.23px;background:linear-gradient(90deg,#fbead2 0 1.5px,#e7e8f1 0 2.9px,#b95d08 0 4.4px,#f1f1f5 0 5.9px,#d37610 0 7.3px,#af5606 0 8.8px,#f2a446 0 10.3px,#d77a11 0 11.8px,#e08214 0 13.2px,#fdcb8b 0 14.7px,#fab25a 0 16.2px,#924607 0 17.6px,#9f4d07 0 19.1px,#934607 0 20.6px,#994907 0 22.0px,#894108 0 23.5px,#c1650a 0 25.0px,#964807 0 26.4px,#9a4a07 0 27.9px,#8f4407 0 29.4px,#db7d12 0 30.8px,#9c4b07 0 32.3px,#8b4208 0 33.8px,#7f3b08 0 35.2px,#904507 0 36.7px,#b25806 0 38.2px,#934607 0 39.7px,#ab5306 0 41.1px,#d77911 0 42.6px,#954707 0 44.1px,#7f3b08 0 45.5px,#fee0b6 0 47.0px,#ee9c3a 0 48.5px,#ad5506 0 49.9px,#a95206 0 51.4px,#853e08 0 52.9px,#b75c07 0 54.3px,#fed59f 0 55.8px,#964807 0 57.3px,#a55007 0 58.8px,#c3670b 0 60.2px,#b15706 0 61.7px,#cd700e 0 63.2px,#eaebf2 0 64.6px,#f8f5f0 0 66.1px,#f9f2e9 0 67.6px,#f2f3f5 0 69.0px,#faeddb 0 70.5px,#aba4cd 0 72.0px,#e6e7f0 0 73.4px,#fbebd6 0 74.9px,#d0d0e6 0 76.4px,#cdcce4 0 77.8px,#e8e9f1 0 79.3px,#dadcec 0 80.8px,#bcb7d8 0 82.2px,#8c80b5 0 83.7px,#f0f1f4 0 85.2px,#e5e6f0 0 86.7px,#dbddec 0 88.1px,#b0a8d0 0 89.6px,#867ab0 0 91.1px,#c7c5e0 0 92.5px,#8d81b6 0 94.0px,#7c6ca9 0 95.5px,#8174ad 0 96.9px,#f1f1f5 0 98.4px,#9389bb 0 99.9px,#cfcfe5 0 101.3px,#a69dc9 0 102.8px,#8175ad 0 104.3px,#c0bcdb 0 105.8px,#887cb2 0 107.2px,#a69dc9 0 108.7px,#b3acd2 0 110.2px,#7f71ab 0 111.6px,#cccbe3 0 113.1px,#684a99 0 114.6px,#e2e4ef 0 116.0px,#e6e7f1 0 117.5px)"></div><div class="h" style="left:192.5px;top:299.54px;width:117.5px;height:5.23px;background:linear-gradient(90deg,#fedcae 0 1.5px,#be6209 0 2.9px,#7f3b08 0 4.4px,#cf720f 0 5.9px,#f2a344 0 7.3px,#fee0b7 0 8.8px,#b55a07 0 10.3px,#d87a11 0 11.8px,#cd710e 0 13.2px,#e4891e 0 14.7px,#e58b20 0 16.2px,#894008 0 17.6px,#ac5406 0 19.1px,#914507 0 20.6px,#904407 0 22.0px,#833d08 0 23.5px,#994a07 0 25.0px,#a24f07 0 26.4px,#a04d07 0 27.9px,#8f4407 0 29.4px,#ee9c3a 0 30.8px,#9e4c07 0 32.3px,#984907 0 33.8px,#7f3b08 0 35.2px,#863f08 0 36.7px,#944707 0 38.2px,#af5606 0 39.7px,#884008 0 41.1px,#894008 0 42.6px,#924607 0 44.1px,#a24e07 0 45.5px,#873f08 0 47.0px,#ee9c3a 0 48.5px,#b45906 0 49.9px,#924607 0 51.4px,#9f4d07 0 52.9px,#a04d07 0 54.3px,#7f3b08 0 55.8px,#aa5306 0 57.3px,#9f4d07 0 58.8px,#ad5406 0 60.2px,#984907 0 61.7px,#a34f07 0 63.2px,#fde3c0 0 64.6px,#d1740f 0 66.1px,#e9932d 0 67.6px,#9f4d07 0 69.0px,#803b08 0 70.5px,#a04e07 0 72.0px,#f2f2f5 0 73.4px,#eaebf2 0 74.9px,#b9b3d6 0 76.4px,#b0a9d1 0 77.8px,#f9f1e7 0 79.3px,#eff0f4 0 80.8px,#c3c0dd 0 82.2px,#efeff4 0 83.7px,#d4d4e8 0 85.2px,#b7b1d5 0 86.7px,#968cbd 0 88.1px,#c4c2de 0 89.6px,#aca4ce 0 91.1px,#e1e3ef 0 92.5px,#c7c5e0 0 94.0px,#aea6cf 0 95.5px,#c5c3df 0 96.9px,#cbc9e2 0 98.4px,#a59cc8 0 99.9px,#c6c4df 0 101.3px,#c6c3df 0 102.8px,#8174ad 0 104.3px,#b4aed3 0 105.8px,#897db3 0 107.2px,#978dbe 0 108.7px,#70589f 0 110.2px,#b6b0d5 0 111.6px,#eeeff4 0 113.1px,#d3d4e8 0 114.6px,#f5f5f6 0 116.0px,#b2abd2 0 117.5px)"></div><div class="h" style="left:192.5px;top:304.75px;width:117.5px;height:5.23px;background:linear-gradient(90deg,#faefdf 0 1.5px,#ab5406 0 2.9px,#f1a141 0 4.4px,#f7ad53 0 5.9px,#d0740f 0 7.3px,#fde5c3 0 8.8px,#d37610 0 10.3px,#fdb964 0 11.8px,#fdc884 0 13.2px,#ae5506 0 14.7px,#7f3b08 0 17.6px,#823d08 0 19.1px,#a04d07 0 20.6px,#9f4d07 0 22.0px,#b35806 0 23.5px,#a85206 0 25.0px,#a04d07 0 26.4px,#ae5506 0 27.9px,#924607 0 29.4px,#fdc47c 0 30.8px,#a04d07 0 32.3px,#9c4b07 0 33.8px,#934607 0 35.2px,#9c4b07 0 36.7px,#9b4b07 0 38.2px,#8a4108 0 39.7px,#944707 0 41.1px,#9d4c07 0 42.6px,#9b4b07 0 44.1px,#a04d07 0 45.5px,#ae5506 0 47.0px,#fdc074 0 48.5px,#904407 0 49.9px,#974907 0 51.4px,#914507 0 52.9px,#9c4b07 0 54.3px,#9e4c07 0 55.8px,#b35806 0 57.3px,#a55007 0 58.8px,#984907 0 60.2px,#833d08 0 61.7px,#924507 0 63.2px,#813c08 0 64.6px,#9f4d07 0 66.1px,#874008 0 67.6px,#a95206 0 69.0px,#984907 0 70.5px,#9b4b07 0 72.0px,#f3f4f6 0 73.4px,#f9efe1 0 74.9px,#9b91c0 0 76.4px,#e4e5f0 0 77.8px,#f2f3f5 0 79.3px,#fee1b8 0 80.8px,#f9f0e3 0 82.2px,#fde4c2 0 83.7px,#cdcde4 0 85.2px,#c0bcdb 0 88.1px,#8376ae 0 89.6px,#7866a6 0 91.1px,#a69ec9 0 92.5px,#aba3cd 0 94.0px,#6d529c 0 95.5px,#8579b0 0 96.9px,#c7c5e0 0 98.4px,#7966a6 0 99.9px,#cecee4 0 101.3px,#7a69a7 0 102.8px,#7764a5 0 104.3px,#c2bfdc 0 105.8px,#8174ac 0 107.2px,#887cb2 0 108.7px,#8c81b5 0 110.2px,#948abb 0 111.6px,#c0bcdb 0 113.1px,#cdcce4 0 114.6px,#c1bddc 0 116.0px,#b1aad1 0 117.5px)"></div><div class="h" style="left:192.5px;top:309.96px;width:117.5px;height:5.23px;background:linear-gradient(90deg,#b35806 0 1.5px,#f9b158 0 2.9px,#d47610 0 4.4px,#f9efe2 0 5.9px,#7f3b08 0 7.3px,#fce6c7 0 8.8px,#e9922c 0 10.3px,#fdc47b 0 11.8px,#fbb45d 0 13.2px,#b65b07 0 14.7px,#faecd9 0 16.2px,#fed095 0 17.6px,#af5606 0 19.1px,#904407 0 20.6px,#914507 0 22.0px,#a95206 0 23.5px,#974807 0 25.0px,#b05606 0 26.4px,#934607 0 27.9px,#924507 0 29.4px,#944707 0 30.8px,#954707 0 32.3px,#954807 0 33.8px,#924507 0 35.2px,#954707 0 36.7px,#8f4407 0 38.2px,#944707 0 39.7px,#9a4a07 0 41.1px,#8f4407 0 42.6px,#ac5406 0 44.1px,#fdb964 0 45.5px,#8f4407 0 47.0px,#f09f3f 0 48.5px,#a95206 0 49.9px,#944707 0 51.4px,#7f3b08 0 52.9px,#a65106 0 54.3px,#994a07 0 55.8px,#984907 0 57.3px,#8d4307 0 58.8px,#944607 0 60.2px,#7f3b08 0 61.7px,#914507 0 63.2px,#fdc176 0 64.6px,#be6209 0 66.1px,#7f3b08 0 67.6px,#ab5406 0 69.0px,#9b4a07 0 70.5px,#bb6009 0 72.0px,#fce6c6 0 73.4px,#f9f2e9 0 74.9px,#cecde4 0 76.4px,#d9dbeb 0 77.8px,#eaebf2 0 79.3px,#f6f6f7 0 80.8px,#b0a8d0 0 82.2px,#f4f4f6 0 83.7px,#b1aad2 0 85.2px,#afa7d0 0 86.7px,#d1d2e7 0 88.1px,#a199c5 0 89.6px,#877bb1 0 91.1px,#c8c6e0 0 92.5px,#5f3a91 0 94.0px,#7663a4 0 95.5px,#958bbc 0 96.9px,#bcb7d8 0 98.4px,#8b80b4 0 99.9px,#a9a1cb 0 101.3px,#bab4d7 0 102.8px,#cdcde4 0 104.3px,#d2d3e7 0 105.8px,#7865a5 0 107.2px,#a8a0cb 0 108.7px,#aea7cf 0 110.2px,#9287ba 0 111.6px,#897db3 0 113.1px,#c2bfdd 0 114.6px,#cecee5 0 116.0px,#e0e2ee 0 117.5px)"></div><div class="h" style="left:192.5px;top:315.18px;width:117.5px;height:5.23px;background:linear-gradient(90deg,#c0640a 0 1.5px,#fde4c2 0 2.9px,#813c08 0 4.4px,#e8912a 0 5.9px,#ea942f 0 7.3px,#b75b07 0 8.8px,#c3660b 0 10.3px,#faedd9 0 11.8px,#d67911 0 13.2px,#fdc986 0 14.7px,#f3a649 0 16.2px,#b55a07 0 17.6px,#9e4c07 0 19.1px,#a14e07 0 20.6px,#7f3b08 0 22.0px,#9d4c07 0 23.5px,#853e08 0 25.0px,#a45007 0 26.4px,#7f3b08 0 27.9px,#fed7a2 0 29.4px,#b85d08 0 30.8px,#8d4307 0 32.3px,#b65b07 0 33.8px,#8c4207 0 35.2px,#904407 0 36.7px,#873f08 0 38.2px,#914507 0 39.7px,#7f3b08 0 41.1px,#934607 0 42.6px,#a85206 0 44.1px,#863f08 0 45.5px,#a45007 0 47.0px,#8d4307 0 48.5px,#a34f07 0 49.9px,#b05706 0 51.4px,#a65007 0 52.9px,#a04e07 0 54.3px,#8d4307 0 55.8px,#984907 0 57.3px,#934607 0 58.8px,#9b4a07 0 60.2px,#8e4307 0 61.7px,#8a4108 0 63.2px,#d1740f 0 64.6px,#7f3b08 0 66.1px,#873f08 0 67.6px,#934607 0 69.0px,#994907 0 70.5px,#fee0b7 0 72.0px,#faedda 0 73.4px,#c2bfdc 0 74.9px,#efeff4 0 76.4px,#b1aad1 0 77.8px,#f9efe2 0 79.3px,#fce6c7 0 80.8px,#bebada 0 82.2px,#d1d1e6 0 83.7px,#8f84b8 0 85.2px,#c1bedc 0 86.7px,#cac9e2 0 88.1px,#a49bc7 0 91.1px,#bbb6d8 0 92.5px,#a299c6 0 94.0px,#9085b8 0 95.5px,#a69dc9 0 96.9px,#9085b8 0 98.4px,#b3add3 0 99.9px,#b0a9d0 0 101.3px,#d0d1e6 0 102.8px,#cccce3 0 104.3px,#bab5d7 0 105.8px,#7a68a7 0 107.2px,#9b92c1 0 108.7px,#7661a4 0 110.2px,#877ab1 0 111.6px,#bdb9d9 0 113.1px,#6b509b 0 114.6px,#b9b3d6 0 116.0px,#aaa2cc 0 117.5px)"></div><div class="h" style="left:192.5px;top:320.39px;width:117.5px;height:5.23px;background:linear-gradient(90deg,#fecf93 0 1.5px,#e78f27 0 2.9px,#f8f5f0 0 4.4px,#ef9e3d 0 5.9px,#d97b12 0 7.3px,#e8922b 0 8.8px,#e08214 0 10.3px,#db7e13 0 11.8px,#e89029 0 13.2px,#fed198 0 14.7px,#d87b12 0 16.2px,#ea942e 0 17.6px,#8b4208 0 19.1px,#a85206 0 20.6px,#813c08 0 22.0px,#914507 0 23.5px,#a24f07 0 25.0px,#b65b07 0 26.4px,#a14e07 0 27.9px,#9b4a07 0 29.4px,#de8013 0 30.8px,#a14e07 0 32.3px,#914507 0 33.8px,#954707 0 35.2px,#9c4b07 0 36.7px,#b05606 0 38.2px,#853f08 0 39.7px,#a04e07 0 41.1px,#924607 0 42.6px,#884008 0 44.1px,#9f4d07 0 45.5px,#b15706 0 47.0px,#884008 0 48.5px,#a04d07 0 49.9px,#aa5306 0 51.4px,#974807 0 52.9px,#8b4208 0 54.3px,#a65007 0 55.8px,#853e08 0 57.3px,#f2a446 0 58.8px,#b25706 0 60.2px,#a04d07 0 61.7px,#874008 0 63.2px,#9b4b07 0 64.6px,#fdc177 0 66.1px,#fdcb8a 0 67.6px,#8f4407 0 69.0px,#843e08 0 70.5px,#fed198 0 72.0px,#f8f5f2 0 73.4px,#f8f4ef 0 74.9px,#c9c7e1 0 76.4px,#f0f0f4 0 77.8px,#f2f3f5 0 79.3px,#cccbe3 0 80.8px,#dee0ed 0 82.2px,#f8f5f1 0 83.7px,#cdcce4 0 85.2px,#a8a0cb 0 86.7px,#c8c6e1 0 88.1px,#a79fca 0 89.6px,#887cb2 0 91.1px,#b1aad2 0 92.5px,#afa8d0 0 94.0px,#c1bedc 0 95.5px,#9287ba 0 96.9px,#aca5ce 0 98.4px,#7f71ab 0 99.9px,#c4c1de 0 101.3px,#d1d1e6 0 102.8px,#7662a4 0 104.3px,#c9c7e1 0 105.8px,#582d8b 0 107.2px,#b3add3 0 108.7px,#bbb6d8 0 110.2px,#bcb7d9 0 111.6px,#cac9e2 0 113.1px,#8d82b6 0 114.6px,#e9eaf2 0 116.0px,#cccbe3 0 117.5px)"></div><div class="h" style="left:365px;top:67.00px;width:111.5px;height:5.19px;background:linear-gradient(90deg,#d0730f 0 1.5px,#fdcb89 0 2.9px,#fce5c5 0 4.4px,#fedfb5 0 5.9px,#e9932c 0 7.3px,#fdbe70 0 8.8px,#f7f5f3 0 10.3px,#f5aa4e 0 11.7px,#fdc782 0 13.2px,#fedcae 0 14.7px,#fdc987 0 16.1px,#fde4c0 0 17.6px,#f5a84c 0 19.1px,#fdb964 0 20.5px,#fdc57e 0 22.0px,#ed9b38 0 23.5px,#fdc37a 0 24.9px,#fed6a1 0 26.4px,#fecd8e 0 27.9px,#fed196 0 29.3px,#fdc884 0 30.8px,#fed49d 0 32.3px,#fdc47c 0 33.7px,#fdc176 0 35.2px,#fdca89 0 36.7px,#fee1ba 0 38.1px,#fdc47c 0 39.6px,#fedaaa 0 41.1px,#fdb863 0 42.5px,#fecd8f 0 44.0px,#fdc176 0 45.5px,#fce7cb 0 46.9px,#fdb762 0 48.4px,#dee0ed 0 49.9px,#e5e6f0 0 51.3px,#f9f1e7 0 52.8px,#f8f3eb 0 54.3px,#f7f7f7 0 55.8px,#f8f4ed 0 57.2px,#faedda 0 58.7px,#faeedd 0 60.2px,#fbe9d0 0 61.6px,#fde4c2 0 63.1px,#eeeff4 0 64.6px,#f8f3eb 0 66.0px,#fedfb3 0 67.5px,#fdc37a 0 69.0px,#fedeb3 0 70.4px,#fedaaa 0 71.9px,#fce6c8 0 73.4px,#fbebd4 0 74.8px,#fbebd5 0 76.3px,#f8f4ee 0 77.8px,#faeedd 0 79.2px,#faeddb 0 80.7px,#f1f2f5 0 82.2px,#f2f2f5 0 83.6px,#fed299 0 85.1px,#faeedd 0 86.6px,#fce8cb 0 88.0px,#feddaf 0 89.5px,#faedda 0 91.0px,#f9f1e5 0 92.4px,#eaebf2 0 93.9px,#f8f4ee 0 95.4px,#faedda 0 96.8px,#fed7a3 0 98.3px,#edeef3 0 99.8px,#e8e9f1 0 101.2px,#f8f3eb 0 102.7px,#f3f3f5 0 104.2px,#f5f5f6 0 105.6px,#fed59f 0 107.1px,#f8f4ef 0 108.6px,#fce7cb 0 110.0px,#fed39b 0 111.5px)"></div><div class="h" style="left:365px;top:72.17px;width:111.5px;height:5.19px;background:linear-gradient(90deg,#cd700e 0 1.5px,#fecf93 0 2.9px,#fbebd6 0 4.4px,#fee1ba 0 5.9px,#fbb55e 0 7.3px,#e79028 0 8.8px,#fdc986 0 10.3px,#fdc37a 0 11.7px,#f8af56 0 13.2px,#f2a446 0 14.7px,#fdc57f 0 16.1px,#fab35c 0 17.6px,#fdb863 0 19.1px,#fde2bb 0 20.5px,#fece90 0 22.0px,#ed9a38 0 23.5px,#fdc278 0 24.9px,#fdc782 0 26.4px,#fce6c6 0 27.9px,#fdc681 0 29.3px,#fbebd4 0 30.8px,#fdbf71 0 32.3px,#fdc278 0 33.7px,#fedeb1 0 35.2px,#f8ae55 0 36.7px,#fedcae 0 38.1px,#f1a242 0 39.6px,#fed9a8 0 41.1px,#fde3bf 0 42.5px,#fdc37a 0 44.0px,#fecf94 0 45.5px,#fdca89 0 46.9px,#d0730f 0 48.4px,#d6d7ea 0 49.9px,#f1f1f5 0 51.3px,#f0f0f4 0 52.8px,#eaebf2 0 54.3px,#f8f4ef 0 55.8px,#dbddec 0 57.2px,#fedbac 0 58.7px,#f8f5f1 0 60.2px,#fed9a8 0 61.6px,#fedeb3 0 63.1px,#e9eaf2 0 64.6px,#fce6c6 0 66.0px,#fed5a0 0 67.5px,#fedcad 0 69.0px,#fbe8cd 0 70.4px,#f9f1e5 0 71.9px,#f6f6f7 0 73.4px,#f8f3eb 0 74.8px,#fce6c6 0 76.3px,#faeddc 0 77.8px,#f8f4ef 0 79.2px,#fde2bc 0 80.7px,#fbebd6 0 82.2px,#f1f1f5 0 83.6px,#fedfb3 0 85.1px,#fed9a8 0 86.6px,#fed5a0 0 88.0px,#eaebf2 0 89.5px,#fde4c2 0 91.0px,#fce6c7 0 92.4px,#faeddc 0 93.9px,#fce8cb 0 95.4px,#fbe9d0 0 96.8px,#fed59f 0 98.3px,#fed6a2 0 99.8px,#f7f6f4 0 101.2px,#f7f7f6 0 102.7px,#fce7cb 0 104.2px,#fbebd4 0 105.6px,#fedbac 0 107.1px,#fdc277 0 108.6px,#fde3bf 0 110.0px,#fed198 0 111.5px)"></div><div class="h" style="left:365px;top:77.34px;width:111.5px;height:5.19px;background:linear-gradient(90deg,#d67811 0 1.5px,#fdc47b 0 2.9px,#fed196 0 4.4px,#f9b057 0 5.9px,#fed8a6 0 7.3px,#e89029 0 8.8px,#fecf92 0 10.3px,#fee2ba 0 11.7px,#f4a84b 0 13.2px,#fed7a4 0 14.7px,#fde3bf 0 16.1px,#fdc783 0 17.6px,#fedcae 0 19.1px,#fed39c 0 20.5px,#fdbf72 0 22.0px,#d87b12 0 23.5px,#fdc37a 0 24.9px,#f5a94d 0 26.4px,#faeddb 0 27.9px,#fed6a0 0 29.3px,#fecd8e 0 30.8px,#fab25a 0 32.3px,#fce5c4 0 33.7px,#fdb864 0 35.2px,#fedeb2 0 36.7px,#fbead1 0 38.1px,#fdc47c 0 39.6px,#fdbf71 0 41.1px,#fecd8f 0 42.5px,#fbb55e 0 44.0px,#fed9a7 0 45.5px,#faecd7 0 46.9px,#fdbf72 0 48.4px,#ebecf2 0 49.9px,#f9efe1 0 51.3px,#f6f6f7 0 52.8px,#f8f3ed 0 54.3px,#faeede 0 55.8px,#eff0f4 0 57.2px,#e4e5f0 0 58.7px,#f5f5f6 0 60.2px,#fde2bb 0 61.6px,#fdb966 0 63.1px,#f2f3f5 0 64.6px,#fde3bf 0 66.0px,#fed49c 0 69.0px,#fde4c2 0 70.4px,#fedfb5 0 71.9px,#f7f6f4 0 73.4px,#fed8a6 0 74.8px,#faecd9 0 76.3px,#f8f3ed 0 77.8px,#f7f6f3 0 79.2px,#faeede 0 80.7px,#e1e2ee 0 82.2px,#f8f3ed 0 83.6px,#fed8a5 0 85.1px,#fece91 0 86.6px,#fdc885 0 88.0px,#f9efe0 0 89.5px,#fee0b6 0 91.0px,#f8f3eb 0 92.4px,#f2f2f5 0 93.9px,#fee0b6 0 95.4px,#fbebd4 0 96.8px,#ececf3 0 98.3px,#fbead3 0 99.8px,#f1f1f5 0 101.2px,#fce6c8 0 102.7px,#fce8cd 0 104.2px,#fce6c8 0 105.6px,#fdbe70 0 107.1px,#f8f4ef 0 108.6px,#fee1b7 0 110.0px,#f7f6f5 0 111.5px)"></div><div class="h" style="left:365px;top:82.52px;width:111.5px;height:5.19px;background:linear-gradient(90deg,#af5606 0 1.5px,#fdcb8a 0 2.9px,#fed8a6 0 4.4px,#fdcb8b 0 5.9px,#feddb0 0 7.3px,#f9b057 0 8.8px,#fbb35c 0 10.3px,#f3a649 0 11.7px,#fdb965 0 13.2px,#fcb55f 0 14.7px,#fece91 0 16.1px,#fdc47c 0 17.6px,#fdb964 0 19.1px,#fdc37a 0 20.5px,#ee9b39 0 22.0px,#f3a547 0 23.5px,#fee1b8 0 24.9px,#f7ad52 0 26.4px,#fdc278 0 27.9px,#fedeb2 0 29.3px,#fdc278 0 30.8px,#fed29a 0 32.3px,#fdbe6f 0 33.7px,#f8f3ec 0 35.2px,#fedcae 0 36.7px,#fbebd5 0 38.1px,#fbb45d 0 39.6px,#fed9a8 0 41.1px,#fdcb8a 0 42.5px,#fed7a4 0 44.0px,#fdc074 0 45.5px,#fed6a0 0 46.9px,#ea952f 0 48.4px,#f5f5f6 0 49.9px,#e3e4ef 0 51.3px,#fce8cc 0 52.8px,#f9f1e5 0 54.3px,#f7f7f7 0 55.8px,#eeeff4 0 57.2px,#fbebd4 0 58.7px,#efeff4 0 60.2px,#fce7ca 0 61.6px,#fbe9cf 0 63.1px,#dddfed 0 64.6px,#fce6c8 0 66.0px,#f8f3ec 0 67.5px,#faeede 0 69.0px,#fed59f 0 70.4px,#fbebd5 0 71.9px,#fedaa9 0 73.4px,#fdbc6c 0 74.8px,#f3f3f5 0 76.3px,#fdc985 0 77.8px,#e9eaf2 0 79.2px,#f9f2e8 0 80.7px,#faeede 0 82.2px,#fce5c5 0 83.6px,#fdbc6b 0 85.1px,#fedeb2 0 86.6px,#fdc680 0 88.0px,#ededf3 0 89.5px,#fdc37a 0 91.0px,#faeddb 0 92.4px,#fdbf73 0 93.9px,#fce6c7 0 95.4px,#f4f4f6 0 96.8px,#fbe9d1 0 98.3px,#feddb0 0 99.8px,#fbe9d1 0 101.2px,#faeedd 0 102.7px,#ececf3 0 104.2px,#fce6c7 0 105.6px,#fdba67 0 107.1px,#f9efe1 0 108.6px,#f8f4ed 0 110.0px,#e7e8f1 0 111.5px)"></div><div class="h" style="left:365px;top:87.69px;width:111.5px;height:5.19px;background:linear-gradient(90deg,#c96c0d 0 1.5px,#fdcb8b 0 2.9px,#fdc681 0 4.4px,#fedfb3 0 5.9px,#faefdf 0 7.3px,#f5a94d 0 8.8px,#fdcc8c 0 10.3px,#f9b057 0 11.7px,#fcb65f 0 13.2px,#fdc379 0 14.7px,#fed39c 0 16.1px,#fdba68 0 17.6px,#fdc073 0 19.1px,#fce8cc 0 20.5px,#fed39c 0 22.0px,#fdbf72 0 23.5px,#fee0b7 0 24.9px,#fdc681 0 26.4px,#fed094 0 27.9px,#fedbac 0 29.3px,#fed095 0 30.8px,#fde2bb 0 32.3px,#fdc681 0 33.7px,#fee1b9 0 35.2px,#fdc075 0 36.7px,#fce6c6 0 38.1px,#fbb45c 0 39.6px,#fdc175 0 41.1px,#fcb660 0 42.5px,#fde5c4 0 44.0px,#fed6a1 0 45.5px,#fed7a2 0 46.9px,#fdba67 0 48.4px,#faeede 0 49.9px,#f7f7f6 0 51.3px,#f9f0e3 0 52.8px,#fbebd6 0 54.3px,#f9f0e3 0 55.8px,#faeedd 0 57.2px,#f1f1f5 0 58.7px,#f9f1e5 0 60.2px,#fed49e 0 61.6px,#faeedf 0 63.1px,#f6f6f6 0 64.6px,#fedcad 0 66.0px,#faeedc 0 67.5px,#fde2bb 0 69.0px,#f5f5f6 0 70.4px,#fed095 0 71.9px,#fde3c0 0 73.4px,#eb9733 0 74.8px,#fde4c0 0 76.3px,#f4f5f6 0 77.8px,#fbead2 0 79.2px,#fed299 0 80.7px,#f5f5f6 0 82.2px,#faedda 0 83.6px,#fce7ca 0 85.1px,#ebecf2 0 86.6px,#ebebf2 0 88.0px,#ecedf3 0 89.5px,#f2f3f5 0 91.0px,#fee0b7 0 92.4px,#fed096 0 93.9px,#f8f4ee 0 95.4px,#faeddc 0 96.8px,#f9f0e3 0 98.3px,#fce7cb 0 99.8px,#f4f5f6 0 101.2px,#f9f0e4 0 102.7px,#f6f6f7 0 104.2px,#f9efe2 0 105.6px,#fde2bb 0 107.1px,#fce6c8 0 108.6px,#f4f4f6 0 110.0px,#fde2bc 0 111.5px)"></div><div class="h" style="left:365px;top:92.86px;width:111.5px;height:5.19px;background:linear-gradient(90deg,#e78f27 0 1.5px,#fed5a0 0 2.9px,#fed39b 0 4.4px,#fde4c0 0 5.9px,#fdcb8b 0 7.3px,#fdbd6e 0 8.8px,#fdc37a 0 10.3px,#fdc782 0 11.7px,#fed29a 0 13.2px,#fbead2 0 14.7px,#fed49d 0 16.1px,#fbb55e 0 17.6px,#fbb45d 0 19.1px,#f5a94d 0 20.5px,#fed8a5 0 22.0px,#fdc37a 0 23.5px,#fedfb5 0 24.9px,#fed299 0 27.9px,#fed9a8 0 29.3px,#feddb0 0 30.8px,#fed39b 0 32.3px,#f9b057 0 33.7px,#fde2bb 0 35.2px,#fedbad 0 36.7px,#fdb966 0 38.1px,#fdbe6f 0 39.6px,#fbb45d 0 41.1px,#fed9a6 0 42.5px,#fdca88 0 44.0px,#fce5c4 0 45.5px,#fce5c5 0 46.9px,#ee9d3b 0 48.4px,#f9f2e7 0 49.9px,#f9f0e4 0 51.3px,#f3f3f5 0 52.8px,#f8f4ee 0 54.3px,#f7f7f6 0 55.8px,#fbe9cf 0 57.2px,#f6f6f7 0 58.7px,#f0f1f4 0 60.2px,#fdc885 0 61.6px,#fed198 0 63.1px,#f3f3f5 0 64.6px,#f8f2ea 0 66.0px,#f9b057 0 67.5px,#faeede 0 69.0px,#f7f6f4 0 70.4px,#fedeb2 0 71.9px,#fed8a6 0 73.4px,#faeede 0 74.8px,#f9efe1 0 76.3px,#fde3bf 0 77.8px,#f8f3ed 0 79.2px,#fdcc8c 0 80.7px,#faecd8 0 82.2px,#fde2bb 0 83.6px,#fed49d 0 85.1px,#fed8a6 0 86.6px,#fed39b 0 88.0px,#ecedf3 0 89.5px,#fbebd6 0 91.0px,#f7f7f7 0 92.4px,#fed7a4 0 93.9px,#fce8cb 0 95.4px,#fce6c8 0 96.8px,#f9f1e7 0 98.3px,#faefe0 0 99.8px,#fce5c5 0 101.2px,#fedbab 0 102.7px,#eaebf2 0 104.2px,#e2e4ef 0 105.6px,#ececf3 0 107.1px,#fce8cb 0 108.6px,#fedbab 0 110.0px,#fce8cc 0 111.5px)"></div><div class="h" style="left:365px;top:98.03px;width:111.5px;height:5.19px;background:linear-gradient(90deg,#cf720f 0 1.5px,#fce7ca 0 2.9px,#fecd8e 0 4.4px,#fdc074 0 5.9px,#fce6c7 0 7.3px,#f9b158 0 8.8px,#fdb964 0 10.3px,#fed299 0 11.7px,#fdc074 0 13.2px,#f8ae55 0 14.7px,#fdc47c 0 16.1px,#fdc379 0 17.6px,#fdc176 0 19.1px,#fdc379 0 20.5px,#fed59f 0 22.0px,#f3a547 0 23.5px,#fecc8d 0 24.9px,#fee0b6 0 26.4px,#fab35c 0 27.9px,#fee0b5 0 29.3px,#fedcae 0 30.8px,#fdc885 0 32.3px,#fdcb8a 0 33.7px,#f8af56 0 35.2px,#fdc57e 0 36.7px,#fdc680 0 38.1px,#f8ae55 0 39.6px,#fed198 0 41.1px,#fdbf72 0 42.5px,#fed39a 0 44.0px,#fed49d 0 45.5px,#fde4c2 0 46.9px,#fbb45e 0 48.4px,#ebecf2 0 49.9px,#faefe0 0 51.3px,#f9f1e6 0 52.8px,#e7e8f1 0 54.3px,#eeeff4 0 55.8px,#f3f3f5 0 57.2px,#fbe9cf 0 58.7px,#faeedc 0 60.2px,#fecd8f 0 61.6px,#f9f0e4 0 63.1px,#faecd7 0 66.0px,#f8f3eb 0 67.5px,#f9f1e7 0 69.0px,#fed49e 0 70.4px,#edeef3 0 71.9px,#f9efe1 0 73.4px,#fde2bc 0 74.8px,#f7f7f6 0 76.3px,#fedaaa 0 77.8px,#f8f4ef 0 79.2px,#fde2bd 0 80.7px,#fbe9d1 0 82.2px,#fde4c2 0 83.6px,#faedda 0 85.1px,#fee1b9 0 86.6px,#fde4c2 0 88.0px,#fde5c3 0 89.5px,#fde2bb 0 91.0px,#f7f7f6 0 92.4px,#edeef3 0 93.9px,#fce7ca 0 95.4px,#faecd7 0 96.8px,#fed197 0 98.3px,#fed6a1 0 99.8px,#fce7c9 0 101.2px,#fedbac 0 102.7px,#eff0f4 0 104.2px,#fdc177 0 105.6px,#fbebd5 0 107.1px,#f8f4ef 0 108.6px,#e6e8f1 0 110.0px,#fedeb2 0 111.5px)"></div><div class="h" style="left:365px;top:103.20px;width:111.5px;height:5.19px;background:linear-gradient(90deg,#ce710e 0 1.5px,#fde3c0 0 2.9px,#fde3bd 0 4.4px,#fdbc6c 0 5.9px,#fece91 0 7.3px,#f3a548 0 8.8px,#fdcc8c 0 10.3px,#fed59f 0 11.7px,#fee0b5 0 13.2px,#fed298 0 14.7px,#fedbac 0 16.1px,#fee0b7 0 17.6px,#fbb45e 0 19.1px,#fedfb5 0 20.5px,#feddaf 0 22.0px,#f5aa4e 0 23.5px,#fdc57f 0 24.9px,#fece90 0 26.4px,#fdca89 0 27.9px,#fedeb3 0 29.3px,#f4a84b 0 30.8px,#fdc782 0 32.3px,#fbe9ce 0 33.7px,#fce6c6 0 35.2px,#fdbd6e 0 36.7px,#fed59f 0 38.1px,#fdbd6e 0 39.6px,#fdb964 0 41.1px,#fdc57e 0 42.5px,#fecf93 0 44.0px,#fab25a 0 45.5px,#fed196 0 46.9px,#f9b158 0 48.4px,#fbead3 0 49.9px,#f9f2e8 0 51.3px,#fce6c8 0 52.8px,#efeff4 0 54.3px,#f8f4f0 0 55.8px,#f9f1e7 0 57.2px,#faefdf 0 58.7px,#eff0f4 0 60.2px,#fbead3 0 61.6px,#fdc67f 0 63.1px,#f8f4ef 0 64.6px,#fedaa9 0 66.0px,#fdc986 0 67.5px,#f5f5f6 0 69.0px,#faecd8 0 70.4px,#f8f5f1 0 71.9px,#f7f7f7 0 73.4px,#fed29a 0 74.8px,#f9efe0 0 76.3px,#fed5a0 0 77.8px,#eff0f4 0 79.2px,#fab25a 0 80.7px,#f3f3f5 0 82.2px,#fbead1 0 83.6px,#f9f1e6 0 85.1px,#f9efe1 0 86.6px,#feddaf 0 88.0px,#f1f1f5 0 89.5px,#f8f3eb 0 91.0px,#fed39a 0 92.4px,#e0e2ee 0 93.9px,#fed8a5 0 95.4px,#fed096 0 96.8px,#f1f2f5 0 98.3px,#fee0b5 0 99.8px,#f8f2ea 0 101.2px,#fbe8ce 0 102.7px,#fce7ca 0 104.2px,#eeeff4 0 105.6px,#f6f6f7 0 107.1px,#faecd9 0 108.6px,#f1f2f5 0 110.0px,#fce5c5 0 111.5px)"></div><div class="h" style="left:365px;top:108.38px;width:111.5px;height:5.19px;background:linear-gradient(90deg,#cb6e0d 0 1.5px,#fdc278 0 2.9px,#fcb761 0 4.4px,#fdc885 0 5.9px,#fdc278 0 7.3px,#fdca88 0 8.8px,#fecd8f 0 10.3px,#fdbc6b 0 11.7px,#fedeb2 0 13.2px,#fece90 0 14.7px,#fce8cd 0 16.1px,#fdc47b 0 17.6px,#fdbe70 0 19.1px,#fdc37a 0 20.5px,#fece90 0 22.0px,#f6aa4f 0 23.5px,#fed9a8 0 24.9px,#fce8cc 0 26.4px,#fed7a4 0 27.9px,#fdc47c 0 29.3px,#fed8a6 0 30.8px,#fdc987 0 32.3px,#fdc074 0 33.7px,#fdcb8b 0 35.2px,#fdc277 0 36.7px,#fde5c3 0 38.1px,#fed7a3 0 39.6px,#fecd8e 0 41.1px,#fdbe6f 0 42.5px,#fed095 0 44.0px,#fdc884 0 45.5px,#fecd8f 0 46.9px,#e4891e 0 48.4px,#f8f5f1 0 49.9px,#fce5c4 0 51.3px,#eaebf2 0 52.8px,#e6e7f0 0 54.3px,#f4f4f6 0 55.8px,#faeedc 0 57.2px,#f9f0e4 0 58.7px,#e6e7f1 0 60.2px,#fedeb2 0 61.6px,#fdcc8c 0 63.1px,#f7f7f7 0 64.6px,#fdc884 0 66.0px,#f7f7f6 0 67.5px,#f9f1e7 0 69.0px,#fdc680 0 70.4px,#faeedc 0 71.9px,#f1f1f5 0 73.4px,#fce7c9 0 74.8px,#f8f5f1 0 76.3px,#f8f4ef 0 77.8px,#faeede 0 79.2px,#f7f6f5 0 80.7px,#f8f2ea 0 82.2px,#fce8cc 0 83.6px,#fde4c0 0 85.1px,#fdc986 0 86.6px,#fbebd6 0 88.0px,#fee2ba 0 89.5px,#fbead1 0 91.0px,#f9f0e4 0 92.4px,#e4e5f0 0 93.9px,#eaebf2 0 95.4px,#fee1ba 0 96.8px,#faeddb 0 98.3px,#fce7ca 0 99.8px,#fce8cc 0 101.2px,#ebecf2 0 102.7px,#e6e7f0 0 104.2px,#fce6c8 0 105.6px,#fdca88 0 107.1px,#fde3bf 0 108.6px,#fce7cb 0 110.0px,#f4f4f6 0 111.5px)"></div><div class="h" style="left:365px;top:113.55px;width:111.5px;height:5.19px;background:linear-gradient(90deg,#ae5506 0 1.5px,#fde3be 0 2.9px,#fbb45d 0 4.4px,#fed6a2 0 5.9px,#fdbe70 0 7.3px,#fdb965 0 8.8px,#e89029 0 10.3px,#fed39c 0 11.7px,#fdc57e 0 13.2px,#f8af56 0 14.7px,#eb9631 0 16.1px,#fdca88 0 17.6px,#fdc57f 0 19.1px,#fbb45c 0 20.5px,#fed39a 0 22.0px,#f6ab51 0 23.5px,#fdc277 0 24.9px,#fdba68 0 26.4px,#e48a20 0 27.9px,#fedfb4 0 29.3px,#fde2bc 0 30.8px,#fdca89 0 32.3px,#f5a94d 0 33.7px,#fdb965 0 35.2px,#fdba67 0 36.7px,#fdc986 0 38.1px,#fdc884 0 39.6px,#fdba68 0 41.1px,#fee0b6 0 42.5px,#fde4c2 0 44.0px,#fdc073 0 45.5px,#fdc277 0 46.9px,#be6209 0 48.4px,#f7f6f5 0 49.9px,#f4f4f6 0 51.3px,#faecd8 0 52.8px,#e1e3ef 0 54.3px,#faecd8 0 55.8px,#fbebd5 0 57.2px,#f7f5f3 0 58.7px,#f1f1f5 0 60.2px,#fbb45d 0 61.6px,#fed39c 0 63.1px,#fce8cc 0 64.6px,#faecd7 0 66.0px,#faedda 0 67.5px,#fce6c6 0 69.0px,#fde4c2 0 70.4px,#f9f0e3 0 71.9px,#fbe9cf 0 73.4px,#fdc176 0 74.8px,#fedfb5 0 76.3px,#fbebd5 0 77.8px,#e9eaf2 0 79.2px,#fde2bc 0 80.7px,#f4f4f6 0 82.2px,#fce6c8 0 83.6px,#fee0b7 0 85.1px,#faecd7 0 86.6px,#fedfb4 0 88.0px,#faecd9 0 89.5px,#fce6c8 0 91.0px,#f2f2f5 0 92.4px,#f8f3ec 0 93.9px,#fbead1 0 95.4px,#fde4c2 0 96.8px,#fbe8ce 0 98.3px,#f7f6f3 0 99.8px,#dddeed 0 101.2px,#fecc8d 0 102.7px,#eaebf2 0 104.2px,#fedaa9 0 105.6px,#fedaaa 0 107.1px,#fce7ca 0 108.6px,#fee1ba 0 110.0px,#fee0b7 0 111.5px)"></div><div class="h" style="left:365px;top:118.72px;width:111.5px;height:5.19px;background:linear-gradient(90deg,#bb5f08 0 1.5px,#fce7c9 0 2.9px,#fab35c 0 4.4px,#fdc278 0 5.9px,#fdc67f 0 7.3px,#fdc57e 0 8.8px,#f7ad54 0 10.3px,#fdc781 0 11.7px,#fdc681 0 13.2px,#fce7cb 0 14.7px,#fed6a1 0 16.1px,#fdca88 0 17.6px,#fdc883 0 19.1px,#faedda 0 20.5px,#fdc781 0 22.0px,#ee9c3a 0 23.5px,#fecc8d 0 24.9px,#fdc37a 0 26.4px,#fed9a7 0 27.9px,#fdbc6c 0 29.3px,#fdc47c 0 30.8px,#fece90 0 32.3px,#fab25a 0 33.7px,#fedcae 0 35.2px,#fdb863 0 36.7px,#fde3bd 0 38.1px,#fecd8e 0 39.6px,#fce5c6 0 41.1px,#fbe9d1 0 42.5px,#fdbe70 0 44.0px,#f8af56 0 45.5px,#fdbb69 0 46.9px,#fcb660 0 48.4px,#f2f2f5 0 49.9px,#f7f6f3 0 51.3px,#f8f4ef 0 52.8px,#dddeed 0 54.3px,#f2f3f5 0 55.8px,#f6f6f6 0 57.2px,#f8f4ed 0 58.7px,#fbead1 0 60.2px,#f9f0e4 0 61.6px,#f1f1f5 0 63.1px,#f3f3f5 0 64.6px,#fbe9d0 0 66.0px,#f3f3f5 0 67.5px,#fce5c5 0 69.0px,#fde4c0 0 70.4px,#faecd9 0 71.9px,#fbebd5 0 73.4px,#fce7cb 0 74.8px,#fdcb8a 0 76.3px,#f4a84b 0 77.8px,#f8f5f0 0 79.2px,#fbebd5 0 80.7px,#f6f6f7 0 82.2px,#faecd7 0 83.6px,#fbe8cd 0 85.1px,#fce5c5 0 86.6px,#fed298 0 88.0px,#faeedc 0 89.5px,#fed7a4 0 91.0px,#e2e3ef 0 92.4px,#f8f5f1 0 93.9px,#faeedd 0 95.4px,#f8f5f1 0 96.8px,#f1f2f5 0 98.3px,#f8f5f1 0 99.8px,#fce7cb 0 101.2px,#fbebd5 0 102.7px,#ecedf3 0 104.2px,#faecd8 0 105.6px,#fce6c7 0 107.1px,#fde4c2 0 108.6px,#fbe9d1 0 110.0px,#f7f7f6 0 111.5px)"></div><div class="h" style="left:365px;top:123.89px;width:111.5px;height:5.19px;background:linear-gradient(90deg,#b05606 0 1.5px,#f5a94d 0 2.9px,#fdba67 0 4.4px,#f8ae54 0 5.9px,#fbe9ce 0 7.3px,#fde4c1 0 8.8px,#fed49d 0 10.3px,#fdc986 0 11.7px,#fee0b6 0 13.2px,#fedbac 0 14.7px,#e9932c 0 16.1px,#fdca89 0 17.6px,#faeddb 0 19.1px,#fdca88 0 20.5px,#fdbb69 0 22.0px,#ef9e3d 0 23.5px,#faeedd 0 24.9px,#fdc277 0 26.4px,#fed094 0 27.9px,#fde5c4 0 29.3px,#fed49d 0 30.8px,#fecf93 0 32.3px,#f9b057 0 33.7px,#fcb762 0 35.2px,#fed6a1 0 36.7px,#fdc176 0 38.1px,#fed8a5 0 39.6px,#fde3be 0 41.1px,#fce7ca 0 42.5px,#fecc8d 0 44.0px,#fdbb6a 0 45.5px,#fed49e 0 46.9px,#fdc782 0 48.4px,#f2f2f5 0 49.9px,#f3f3f5 0 51.3px,#f8f4ed 0 52.8px,#e4e5f0 0 54.3px,#fee1b8 0 55.8px,#fbebd6 0 57.2px,#f0f0f4 0 58.7px,#f0f1f4 0 60.2px,#fbead3 0 61.6px,#fdba67 0 63.1px,#faeedd 0 64.6px,#fbe9d1 0 67.5px,#f2f2f5 0 69.0px,#fed8a6 0 70.4px,#fce6c8 0 71.9px,#fde4c2 0 73.4px,#fed9a7 0 74.8px,#f9f1e6 0 76.3px,#fce6c7 0 77.8px,#f6f6f7 0 79.2px,#fecc8d 0 80.7px,#ededf3 0 82.2px,#f7f6f5 0 83.6px,#fedcae 0 85.1px,#f9f0e4 0 86.6px,#fedcae 0 88.0px,#fce6c7 0 89.5px,#faecd7 0 91.0px,#edeef3 0 92.4px,#fbebd6 0 93.9px,#efeff4 0 95.4px,#faeddc 0 96.8px,#fce6c6 0 98.3px,#f8f2e9 0 99.8px,#f9f1e5 0 101.2px,#fee0b6 0 102.7px,#f8f2ea 0 104.2px,#f5f5f6 0 105.6px,#fbe9d0 0 107.1px,#fbe8cd 0 108.6px,#f9f1e7 0 110.0px,#fdcb8a 0 111.5px)"></div><div class="h" style="left:365px;top:129.06px;width:111.5px;height:5.19px;background:linear-gradient(90deg,#d27510 0 1.5px,#fee1ba 0 2.9px,#fdbb69 0 4.4px,#fdba66 0 5.9px,#fdc57d 0 7.3px,#fdbd6e 0 8.8px,#fdbc6a 0 10.3px,#fdc782 0 11.7px,#f8ae55 0 13.2px,#fecc8d 0 14.7px,#fed59f 0 16.1px,#fed49e 0 17.6px,#fdbb69 0 19.1px,#fee1ba 0 20.5px,#f3a648 0 22.0px,#ef9e3c 0 23.5px,#fed7a4 0 24.9px,#fde2bc 0 26.4px,#fdc073 0 27.9px,#feddaf 0 29.3px,#fbe9d1 0 30.8px,#faecd9 0 32.3px,#fce5c4 0 33.7px,#fdc074 0 35.2px,#fdc67f 0 36.7px,#fde3be 0 38.1px,#fed095 0 39.6px,#fed6a2 0 41.1px,#fdcc8c 0 42.5px,#fed197 0 44.0px,#f8ae55 0 45.5px,#fee0b7 0 46.9px,#fab25b 0 48.4px,#f9f1e6 0 49.9px,#e3e4ef 0 51.3px,#f8f5f1 0 52.8px,#f7f7f7 0 54.3px,#f6f6f7 0 55.8px,#f3f3f5 0 57.2px,#f8f4ef 0 58.7px,#f7f7f7 0 60.2px,#fbebd6 0 61.6px,#fde3c0 0 63.1px,#e1e2ee 0 64.6px,#f8f3ec 0 66.0px,#fee1b8 0 67.5px,#fedfb3 0 69.0px,#fbead2 0 70.4px,#f9f1e5 0 71.9px,#fed8a4 0 73.4px,#fce6c8 0 74.8px,#faecd7 0 76.3px,#fde4c2 0 77.8px,#fee2ba 0 79.2px,#fed094 0 80.7px,#faeedd 0 82.2px,#fce7c9 0 83.6px,#fde3be 0 85.1px,#fee1ba 0 86.6px,#fce7ca 0 88.0px,#e8e9f1 0 89.5px,#fed59e 0 91.0px,#fce7ca 0 92.4px,#f9f2e8 0 93.9px,#f8f2ea 0 95.4px,#fed8a6 0 96.8px,#fedcad 0 98.3px,#faecd9 0 99.8px,#f8f5f0 0 101.2px,#f9f0e4 0 102.7px,#f0f0f4 0 104.2px,#fecf93 0 105.6px,#f9f2e9 0 107.1px,#fbead2 0 108.6px,#e9eaf2 0 110.0px,#fee1b8 0 111.5px)"></div><div class="h" style="left:365px;top:134.24px;width:111.5px;height:5.19px;background:linear-gradient(90deg,#9d4c07 0 1.5px,#fdc680 0 2.9px,#fed6a0 0 4.4px,#fed6a1 0 5.9px,#fedaa9 0 7.3px,#fcb761 0 8.8px,#f3a547 0 10.3px,#fdc47c 0 11.7px,#fdbe70 0 13.2px,#fdba66 0 14.7px,#fdcb8a 0 16.1px,#fdc67f 0 17.6px,#ea9530 0 19.1px,#fdc277 0 20.5px,#fdb965 0 22.0px,#f5a84c 0 23.5px,#faeedf 0 24.9px,#fdca88 0 26.4px,#fed29a 0 27.9px,#f1a142 0 29.3px,#fde5c3 0 30.8px,#fdc47c 0 32.3px,#fed197 0 33.7px,#fdbb68 0 35.2px,#fdc073 0 36.7px,#fce6c8 0 38.1px,#fdc278 0 39.6px,#fed196 0 41.1px,#fdbf72 0 42.5px,#fdc278 0 44.0px,#fed197 0 45.5px,#fecf92 0 46.9px,#f7ad53 0 48.4px,#f9f0e4 0 49.9px,#f8f2ea 0 51.3px,#f1f1f5 0 52.8px,#dee0ed 0 54.3px,#f9efe0 0 55.8px,#f9f0e4 0 57.2px,#f9efe1 0 58.7px,#ebecf2 0 60.2px,#fce5c4 0 61.6px,#f9efe1 0 63.1px,#f7f6f4 0 64.6px,#fde3bf 0 66.0px,#fdca89 0 67.5px,#f7f6f5 0 69.0px,#fce6c6 0 70.4px,#fedaab 0 71.9px,#f9f2e8 0 73.4px,#fdc57e 0 74.8px,#f4f4f6 0 76.3px,#faeedd 0 77.8px,#f3f3f5 0 79.2px,#fedeb2 0 80.7px,#e2e3ef 0 82.2px,#f2f2f5 0 83.6px,#f1f1f5 0 85.1px,#fdbb6a 0 86.6px,#f9f2e8 0 88.0px,#f2f2f5 0 89.5px,#fee2bb 0 91.0px,#f5f5f6 0 92.4px,#f8f2e9 0 93.9px,#eff0f4 0 95.4px,#fce5c5 0 96.8px,#f9f0e3 0 98.3px,#fed7a3 0 99.8px,#dee0ed 0 101.2px,#fedeb2 0 102.7px,#fce7cb 0 104.2px,#feddaf 0 105.6px,#fce6c7 0 107.1px,#faecd9 0 108.6px,#faedda 0 110.0px,#f5f5f6 0 111.5px)"></div><div class="h" style="left:365px;top:139.41px;width:111.5px;height:5.19px;background:linear-gradient(90deg,#d87a11 0 1.5px,#f4a84b 0 2.9px,#fed5a0 0 4.4px,#fecc8d 0 5.9px,#fde3be 0 7.3px,#fdc47c 0 8.8px,#fde3be 0 10.3px,#fdca89 0 11.7px,#fce6c8 0 13.2px,#fab35b 0 14.7px,#fee0b7 0 16.1px,#fedeb1 0 17.6px,#fdb863 0 20.5px,#fdbd6d 0 22.0px,#fdb965 0 23.5px,#faefdf 0 24.9px,#f6ab4f 0 26.4px,#fdc278 0 27.9px,#fdb863 0 29.3px,#fee0b6 0 30.8px,#fed299 0 32.3px,#fdc783 0 33.7px,#fedfb3 0 35.2px,#fdc681 0 36.7px,#faeedd 0 38.1px,#fdbd6e 0 39.6px,#fdc175 0 41.1px,#fecf92 0 42.5px,#fed094 0 44.0px,#fde3be 0 45.5px,#fdcb8b 0 46.9px,#ee9c3a 0 48.4px,#f9f0e4 0 49.9px,#f9efe0 0 51.3px,#fde3bf 0 52.8px,#edeef3 0 54.3px,#f7f7f7 0 55.8px,#f6f6f7 0 57.2px,#fce7cb 0 58.7px,#ebecf2 0 60.2px,#fbebd4 0 61.6px,#fce5c5 0 63.1px,#eaebf2 0 64.6px,#faeedd 0 66.0px,#f9f0e3 0 67.5px,#f8f3eb 0 69.0px,#fdcb89 0 70.4px,#fedeb1 0 71.9px,#fde5c3 0 73.4px,#fde4c0 0 74.8px,#fdbe70 0 76.3px,#fde4c3 0 77.8px,#fbebd6 0 79.2px,#fde2bd 0 80.7px,#f3f3f5 0 82.2px,#feddb0 0 83.6px,#fbebd4 0 85.1px,#fed094 0 86.6px,#fedeb2 0 88.0px,#f1f1f5 0 89.5px,#fee1b9 0 91.0px,#f3f4f6 0 92.4px,#f9f0e4 0 93.9px,#fce7c9 0 95.4px,#fde4c0 0 96.8px,#fedcad 0 98.3px,#fce5c4 0 99.8px,#f9f2e8 0 101.2px,#f2f3f5 0 102.7px,#eeeff4 0 104.2px,#f8f4ed 0 105.6px,#fed49e 0 107.1px,#fde2bd 0 108.6px,#faecd8 0 111.5px)"></div><div class="h" style="left:365px;top:144.58px;width:111.5px;height:5.19px;background:linear-gradient(90deg,#b35806 0 1.5px,#feddaf 0 2.9px,#fdc57f 0 4.4px,#fed59f 0 5.9px,#fecd8e 0 7.3px,#fed095 0 8.8px,#fedcad 0 11.7px,#f9b159 0 13.2px,#fdca88 0 14.7px,#faecd9 0 16.1px,#fdcc8c 0 17.6px,#fecf93 0 19.1px,#fed59e 0 20.5px,#fdbf73 0 22.0px,#fed39b 0 23.5px,#faeedd 0 24.9px,#fdbd6e 0 26.4px,#fed298 0 27.9px,#faecd8 0 29.3px,#fedaa9 0 30.8px,#fed096 0 32.3px,#fedaa9 0 33.7px,#fee0b7 0 35.2px,#f2a345 0 36.7px,#fdcb8b 0 38.1px,#fee1ba 0 39.6px,#fdc177 0 41.1px,#fece90 0 42.5px,#fdc47b 0 44.0px,#fbead3 0 45.5px,#fdba68 0 46.9px,#f8af55 0 48.4px,#f8f3eb 0 49.9px,#f8f3ed 0 51.3px,#fbead2 0 52.8px,#f7f6f3 0 54.3px,#f9f1e5 0 55.8px,#f5f5f6 0 57.2px,#fedcad 0 58.7px,#f5f5f6 0 60.2px,#fed095 0 61.6px,#fee1ba 0 63.1px,#f8f3eb 0 64.6px,#faeddc 0 66.0px,#fce8cc 0 67.5px,#f9f2e8 0 69.0px,#fde3be 0 70.4px,#fdc47c 0 71.9px,#fdc37a 0 73.4px,#fdbf71 0 74.8px,#f9f0e3 0 76.3px,#fdbd6e 0 77.8px,#fedeb2 0 79.2px,#f1f2f5 0 80.7px,#f9f0e4 0 82.2px,#faeede 0 83.6px,#faecd8 0 85.1px,#fce8cc 0 86.6px,#fee0b5 0 88.0px,#faecd7 0 89.5px,#fdbd6d 0 91.0px,#f9f0e5 0 92.4px,#f6f6f7 0 93.9px,#fecd8e 0 95.4px,#f8f4ee 0 96.8px,#e1e3ef 0 98.3px,#fdb863 0 99.8px,#faeddb 0 101.2px,#f2f3f5 0 102.7px,#eff0f4 0 104.2px,#fee0b7 0 105.6px,#fedbab 0 107.1px,#fce7c9 0 108.6px,#f9f0e2 0 110.0px,#fed7a3 0 111.5px)"></div><div class="h" style="left:365px;top:149.75px;width:111.5px;height:5.19px;background:linear-gradient(90deg,#ab5306 0 1.5px,#fdcb89 0 2.9px,#fdc278 0 4.4px,#fbead1 0 5.9px,#fdc176 0 7.3px,#fdc782 0 8.8px,#fdc680 0 10.3px,#f3a547 0 11.7px,#fdba67 0 13.2px,#eb9631 0 14.7px,#fed196 0 16.1px,#fdb864 0 17.6px,#f5a94e 0 19.1px,#f9b058 0 20.5px,#fde3be 0 22.0px,#fdbb6a 0 23.5px,#fdc57d 0 24.9px,#fdc782 0 26.4px,#fed39c 0 27.9px,#fedcad 0 29.3px,#fed095 0 30.8px,#ef9e3d 0 32.3px,#fde4c3 0 33.7px,#fecd8e 0 35.2px,#fedbad 0 36.7px,#fdc177 0 38.1px,#fed299 0 39.6px,#fde4c1 0 41.1px,#fde3be 0 42.5px,#fdb762 0 44.0px,#fdc781 0 45.5px,#fbead2 0 46.9px,#e9932d 0 48.4px,#f0f0f4 0 49.9px,#f8f4ef 0 51.3px,#fce7ca 0 52.8px,#e4e5ef 0 54.3px,#f0f0f4 0 55.8px,#f0f1f4 0 57.2px,#f9f0e4 0 58.7px,#eaebf2 0 60.2px,#fcb761 0 61.6px,#fee1b9 0 63.1px,#d8daeb 0 64.6px,#f8f5f1 0 66.0px,#f5f5f6 0 67.5px,#fbe9ce 0 69.0px,#fce7c9 0 70.4px,#fecf92 0 71.9px,#f8f4ee 0 73.4px,#fde2bc 0 74.8px,#fce8cb 0 76.3px,#fee0b7 0 77.8px,#faedd9 0 79.2px,#fce7c9 0 80.7px,#edeef3 0 82.2px,#eeeff4 0 83.6px,#fdbe70 0 85.1px,#fde3be 0 86.6px,#f8f4f0 0 88.0px,#fed9a7 0 89.5px,#fde3be 0 91.0px,#dddfed 0 92.4px,#fbe9ce 0 93.9px,#f7f7f7 0 95.4px,#fbebd6 0 96.8px,#fedbac 0 98.3px,#fce6c6 0 99.8px,#fed39b 0 101.2px,#fde4c3 0 102.7px,#ebecf3 0 104.2px,#f9f1e7 0 105.6px,#fbe8ce 0 107.1px,#fde5c3 0 108.6px,#f9efe1 0 110.0px,#f8f5f1 0 111.5px)"></div><div class="h" style="left:365px;top:154.92px;width:111.5px;height:5.19px;background:linear-gradient(90deg,#d47710 0 1.5px,#fedcad 0 2.9px,#fedbab 0 4.4px,#fed8a6 0 5.9px,#fdc47c 0 7.3px,#fee0b5 0 8.8px,#fbb45e 0 10.3px,#fbb55e 0 11.7px,#fcb660 0 13.2px,#fdb863 0 14.7px,#fde2bc 0 16.1px,#fdc783 0 17.6px,#fdc175 0 19.1px,#fecc8d 0 20.5px,#fdc986 0 22.0px,#fdcc8c 0 23.5px,#faeddb 0 24.9px,#fdc278 0 26.4px,#fce5c5 0 27.9px,#feddaf 0 29.3px,#fed6a2 0 30.8px,#fce5c4 0 32.3px,#fdc986 0 33.7px,#fed6a2 0 35.2px,#fdc37b 0 36.7px,#fdc47c 0 38.1px,#f3a547 0 39.6px,#fdb965 0 41.1px,#fdbd6d 0 42.5px,#fdc47d 0 44.0px,#fdc176 0 45.5px,#fde5c4 0 46.9px,#f6aa4f 0 48.4px,#efeff4 0 49.9px,#f4f5f6 0 51.3px,#faedda 0 52.8px,#f3f3f5 0 54.3px,#fde5c3 0 55.8px,#fce6c8 0 57.2px,#f9f2e7 0 58.7px,#f7f7f7 0 60.2px,#fde2bd 0 61.6px,#faeede 0 63.1px,#fce7ca 0 64.6px,#faedda 0 66.0px,#fdc176 0 67.5px,#fee1b8 0 69.0px,#fbead2 0 70.4px,#fdc681 0 71.9px,#fedaa9 0 73.4px,#fed6a2 0 74.8px,#e9eaf2 0 76.3px,#fbead3 0 77.8px,#fbe9cf 0 79.2px,#faecd7 0 80.7px,#f7f6f3 0 82.2px,#fbebd6 0 83.6px,#fee1b8 0 85.1px,#fce5c4 0 86.6px,#fde4c3 0 88.0px,#f8f4ee 0 89.5px,#fedcae 0 91.0px,#f7f6f6 0 92.4px,#fbebd5 0 93.9px,#f4f5f6 0 95.4px,#f8f4f0 0 96.8px,#fce6c7 0 98.3px,#e3e5ef 0 99.8px,#f8f4ee 0 101.2px,#fee0b6 0 102.7px,#fde4c2 0 104.2px,#fbead3 0 105.6px,#fce6c7 0 107.1px,#fee2ba 0 108.6px,#fed49d 0 110.0px,#fedfb3 0 111.5px)"></div><div class="h" style="left:365px;top:160.10px;width:111.5px;height:5.19px;background:linear-gradient(90deg,#b25806 0 1.5px,#fdbb69 0 2.9px,#fdc073 0 4.4px,#fed7a4 0 5.9px,#ee9b39 0 7.3px,#fce5c4 0 8.8px,#fdc175 0 10.3px,#fdc680 0 11.7px,#f3a547 0 13.2px,#fedcad 0 14.7px,#fdc680 0 16.1px,#fdc47c 0 17.6px,#f9b159 0 19.1px,#feddb0 0 20.5px,#fed299 0 22.0px,#ef9d3c 0 23.5px,#faeede 0 24.9px,#fdb863 0 26.4px,#fedfb3 0 27.9px,#fed39c 0 29.3px,#fab35c 0 30.8px,#fdc986 0 32.3px,#fed196 0 33.7px,#fdc782 0 35.2px,#fdc177 0 36.7px,#fed9a7 0 38.1px,#fdca89 0 39.6px,#fdbf71 0 41.1px,#fbebd4 0 42.5px,#fed6a1 0 44.0px,#fce5c4 0 45.5px,#fecd8f 0 46.9px,#f8ae55 0 48.4px,#faeddb 0 49.9px,#f7f6f4 0 51.3px,#e8e9f1 0 52.8px,#ececf3 0 54.3px,#faecd7 0 55.8px,#f9f1e6 0 57.2px,#f8f3ec 0 58.7px,#f7f6f4 0 60.2px,#f2f2f5 0 61.6px,#fde4c3 0 63.1px,#f5f5f6 0 64.6px,#f6f6f7 0 66.0px,#ecedf3 0 67.5px,#fed39b 0 69.0px,#fed59e 0 70.4px,#fed9a7 0 71.9px,#fdcc8b 0 73.4px,#fedaa9 0 74.8px,#fbebd5 0 76.3px,#fbebd6 0 77.8px,#f8f3ec 0 79.2px,#faecd9 0 80.7px,#f0f0f4 0 82.2px,#fbebd5 0 83.6px,#dbddec 0 85.1px,#f8f2ea 0 86.6px,#fde2bc 0 88.0px,#fedeb2 0 89.5px,#fbebd6 0 91.0px,#f4f5f6 0 92.4px,#f7f6f5 0 93.9px,#f8f4ef 0 95.4px,#f8f4f0 0 98.3px,#fedbac 0 99.8px,#fbe9d0 0 101.2px,#fdc986 0 102.7px,#ebecf3 0 104.2px,#fde2bd 0 105.6px,#fce7c9 0 107.1px,#e3e4ef 0 108.6px,#fedbab 0 110.0px,#fce5c5 0 111.5px)"></div><div class="h" style="left:365px;top:165.27px;width:111.5px;height:5.19px;background:linear-gradient(90deg,#b75c07 0 1.5px,#ee9c3b 0 2.9px,#fde3be 0 4.4px,#fecd8f 0 5.9px,#fed49d 0 7.3px,#fed096 0 8.8px,#fdc680 0 10.3px,#fed59e 0 11.7px,#feddb0 0 13.2px,#fdb964 0 14.7px,#fed299 0 16.1px,#fece91 0 17.6px,#fedbab 0 19.1px,#f8f4ed 0 20.5px,#fbb45e 0 22.0px,#fed094 0 23.5px,#fedbab 0 24.9px,#fed8a4 0 26.4px,#fecf92 0 27.9px,#fece90 0 29.3px,#fdb762 0 30.8px,#fece91 0 32.3px,#fbb45d 0 33.7px,#fce7ca 0 35.2px,#fdc986 0 36.7px,#fed094 0 38.1px,#fdbb6a 0 39.6px,#fee1b9 0 41.1px,#f9b057 0 42.5px,#fed49c 0 44.0px,#fecf92 0 45.5px,#fdc074 0 46.9px,#fdc277 0 48.4px,#f8f2ea 0 49.9px,#ecedf3 0 51.3px,#f7f6f5 0 52.8px,#f7f7f7 0 54.3px,#f9f1e7 0 55.8px,#ecedf3 0 57.2px,#fce6c6 0 58.7px,#f9f0e4 0 60.2px,#fee0b6 0 61.6px,#fbe9ce 0 63.1px,#ebecf2 0 64.6px,#fde3be 0 66.0px,#fed9a7 0 67.5px,#fbead3 0 69.0px,#fedfb4 0 70.4px,#fce8cd 0 71.9px,#fed6a0 0 73.4px,#fed29a 0 74.8px,#feddb0 0 76.3px,#f8f4f0 0 77.8px,#fdc782 0 79.2px,#fed39c 0 80.7px,#faeede 0 82.2px,#fed7a3 0 83.6px,#fde2bb 0 85.1px,#fecf92 0 86.6px,#fdc986 0 88.0px,#fde4c2 0 89.5px,#f8f5f1 0 91.0px,#faeedd 0 92.4px,#eaeaf2 0 93.9px,#f3f3f5 0 95.4px,#fbead1 0 96.8px,#fbebd6 0 98.3px,#fdc073 0 99.8px,#fecf92 0 101.2px,#fbebd6 0 102.7px,#f8f5f0 0 104.2px,#fbebd5 0 105.6px,#fed59f 0 107.1px,#fce8cb 0 108.6px,#fed59f 0 110.0px,#f9f0e3 0 111.5px)"></div><div class="h" style="left:365px;top:170.44px;width:111.5px;height:5.19px;background:linear-gradient(90deg,#c76b0c 0 1.5px,#ec9834 0 2.9px,#fdc680 0 4.4px,#fde4c1 0 5.9px,#fdc175 0 7.3px,#f4a74a 0 8.8px,#fcb761 0 10.3px,#fdbc6b 0 11.7px,#fdc680 0 13.2px,#fdc379 0 14.7px,#fecc8d 0 16.1px,#fdc073 0 17.6px,#fed299 0 19.1px,#fce7cb 0 20.5px,#fdb762 0 22.0px,#fcb660 0 23.5px,#fedeb3 0 24.9px,#fece90 0 26.4px,#fdc681 0 27.9px,#fed9a8 0 29.3px,#fdcc8c 0 30.8px,#fdc277 0 32.3px,#fcb761 0 33.7px,#fedeb2 0 35.2px,#fbb55f 0 36.7px,#fdb862 0 38.1px,#fdb965 0 39.6px,#fdc277 0 41.1px,#fedfb4 0 42.5px,#fde2bc 0 44.0px,#fcb660 0 45.5px,#fce6c7 0 46.9px,#fab25b 0 48.4px,#e6e7f0 0 49.9px,#f9f1e6 0 51.3px,#f2f3f5 0 52.8px,#e6e7f1 0 54.3px,#eaebf2 0 55.8px,#fbebd4 0 57.2px,#faeedd 0 58.7px,#f5f5f6 0 60.2px,#fedeb2 0 61.6px,#fed095 0 63.1px,#f8f5f2 0 64.6px,#f9f0e2 0 66.0px,#e8e9f1 0 67.5px,#faecd9 0 69.0px,#f9efe2 0 70.4px,#feddb0 0 71.9px,#f9f0e3 0 73.4px,#feddaf 0 74.8px,#faeddc 0 76.3px,#fdc279 0 77.8px,#fbebd6 0 79.2px,#e5e6f0 0 80.7px,#f8f5f1 0 82.2px,#fee1b8 0 83.6px,#e5e7f0 0 85.1px,#fce6c6 0 86.6px,#fbebd4 0 88.0px,#fed198 0 89.5px,#fee1ba 0 91.0px,#fbead1 0 92.4px,#faefdf 0 93.9px,#feddaf 0 95.4px,#f9f0e4 0 96.8px,#fedeb3 0 98.3px,#f7f7f7 0 99.8px,#f9efe2 0 101.2px,#fde4c0 0 102.7px,#fee1b9 0 104.2px,#faeddc 0 105.6px,#fbe9d0 0 107.1px,#fed49d 0 108.6px,#f1f1f5 0 110.0px,#fde2bd 0 111.5px)"></div><div class="h" style="left:365px;top:175.61px;width:111.5px;height:5.19px;background:linear-gradient(90deg,#aa5306 0 1.5px,#fee0b5 0 2.9px,#fdbd6d 0 4.4px,#fdbe6f 0 5.9px,#fdba67 0 7.3px,#f6ac51 0 8.8px,#fdc57d 0 10.3px,#f9b057 0 11.7px,#fdc987 0 13.2px,#f9b057 0 14.7px,#fdc782 0 16.1px,#eb9632 0 17.6px,#fdbb69 0 19.1px,#fed094 0 20.5px,#fed59e 0 22.0px,#f2a446 0 23.5px,#fedaaa 0 24.9px,#fed096 0 26.4px,#fbb55e 0 27.9px,#fedaaa 0 29.3px,#fed5a0 0 30.8px,#fdc37a 0 32.3px,#f6aa4f 0 33.7px,#fde4c2 0 35.2px,#fed59e 0 36.7px,#fedeb2 0 38.1px,#fed7a3 0 39.6px,#fde4c3 0 41.1px,#fdcb8a 0 42.5px,#fedaab 0 44.0px,#fed6a2 0 45.5px,#fedbac 0 46.9px,#f3a648 0 48.4px,#f9f2e8 0 49.9px,#f0f0f4 0 51.3px,#f7f6f5 0 52.8px,#dcdeec 0 54.3px,#f7f6f5 0 55.8px,#f7f7f6 0 57.2px,#fde3be 0 58.7px,#f7f6f5 0 60.2px,#fde5c3 0 61.6px,#fee0b5 0 63.1px,#f9efe0 0 64.6px,#fdbb6a 0 66.0px,#fedfb3 0 67.5px,#faeddb 0 69.0px,#f7f6f3 0 70.4px,#fecf93 0 71.9px,#f8f3ec 0 73.4px,#fdc176 0 74.8px,#f6f6f7 0 76.3px,#fedcad 0 77.8px,#fbebd5 0 79.2px,#fbe8cd 0 80.7px,#faecd9 0 82.2px,#fce8cd 0 83.6px,#f8f3ed 0 85.1px,#fdc176 0 86.6px,#fed6a2 0 88.0px,#f8f4ed 0 89.5px,#faeddc 0 91.0px,#fde2bc 0 92.4px,#fce7c9 0 93.9px,#fbebd6 0 95.4px,#ededf3 0 96.8px,#eaeaf2 0 98.3px,#fde5c4 0 99.8px,#fbe9ce 0 101.2px,#fce7cb 0 102.7px,#feddaf 0 104.2px,#faecd8 0 105.6px,#fedfb3 0 107.1px,#f6f6f7 0 108.6px,#fedaaa 0 110.0px,#fbe9cf 0 111.5px)"></div><div class="h" style="left:365px;top:180.78px;width:111.5px;height:5.19px;background:linear-gradient(90deg,#ca6e0d 0 1.5px,#d27510 0 2.9px,#fbebd5 0 4.4px,#cc6f0e 0 5.9px,#f2a344 0 7.3px,#ed9b38 0 8.8px,#fbe9ce 0 10.3px,#f0a141 0 11.7px,#d27510 0 13.2px,#ef9d3c 0 14.7px,#fde4c2 0 16.1px,#fcb761 0 17.6px,#fab35b 0 19.1px,#f7f7f7 0 20.5px,#c4680b 0 22.0px,#f6aa4f 0 23.5px,#dd7f13 0 24.9px,#fed49d 0 26.4px,#f8af55 0 27.9px,#fdc278 0 29.3px,#f9b058 0 30.8px,#f7ad53 0 32.3px,#7f3b08 0 33.7px,#be6209 0 35.2px,#fce7c9 0 36.7px,#fdb965 0 38.1px,#df8114 0 39.6px,#fdbb69 0 41.1px,#fecc8d 0 42.5px,#f6ab50 0 44.0px,#fecd8f 0 45.5px,#fdc47d 0 46.9px,#a75106 0 48.4px,#fecd8f 0 49.9px,#faeedd 0 51.3px,#e2861b 0 52.8px,#fedbac 0 54.3px,#e3881c 0 55.8px,#fcb762 0 57.2px,#a75206 0 58.7px,#fecf92 0 60.2px,#e18518 0 61.6px,#fce6c6 0 63.1px,#fed197 0 64.6px,#d3d3e7 0 66.0px,#f9f2e9 0 67.5px,#ed9b39 0 69.0px,#e7e8f1 0 70.4px,#fdbf71 0 71.9px,#fedfb4 0 73.4px,#b75c07 0 74.8px,#fdc47c 0 76.3px,#df8114 0 77.8px,#d57710 0 79.2px,#ce710e 0 80.7px,#e5e6f0 0 82.2px,#fbb55f 0 83.6px,#fdbd6e 0 85.1px,#d47710 0 86.6px,#ef9e3c 0 88.0px,#f2a344 0 89.5px,#f8b057 0 91.0px,#fdc987 0 92.4px,#f9f0e2 0 93.9px,#fdc073 0 95.4px,#fdb762 0 96.8px,#ed9b38 0 98.3px,#feddb0 0 99.8px,#fde2bc 0 101.2px,#f7ad52 0 102.7px,#c96d0d 0 104.2px,#fdba68 0 105.6px,#8f4407 0 107.1px,#f2f2f5 0 108.6px,#fdbd6e 0 110.0px,#faeedd 0 111.5px)"></div><div class="h" style="left:365px;top:185.96px;width:111.5px;height:5.19px;background:linear-gradient(90deg,#d27510 0 1.5px,#fdbe6f 0 2.9px,#fce8cc 0 4.4px,#fdc681 0 5.9px,#cc700e 0 7.3px,#914507 0 8.8px,#d27510 0 10.3px,#eb9632 0 11.7px,#a95206 0 13.2px,#833d08 0 14.7px,#cb6f0e 0 16.1px,#e3881d 0 17.6px,#843e08 0 19.1px,#e9932d 0 20.5px,#fdb762 0 22.0px,#863f08 0 23.5px,#f8af57 0 24.9px,#e3881c 0 26.4px,#eb9732 0 27.9px,#f4a84c 0 29.3px,#c3670b 0 30.8px,#fab35c 0 32.3px,#fce6c7 0 33.7px,#f7ac52 0 35.2px,#904507 0 36.7px,#ec9834 0 38.1px,#fedeb2 0 39.6px,#e18417 0 41.1px,#ee9c3a 0 42.5px,#b35806 0 44.0px,#9d4c07 0 45.5px,#ea9530 0 46.9px,#ce710e 0 48.4px,#e79028 0 49.9px,#fecf92 0 51.3px,#f09f3e 0 52.8px,#b15706 0 54.3px,#ee9c3a 0 55.8px,#fedbac 0 57.2px,#eaeaf2 0 58.7px,#c3670b 0 60.2px,#fdbb6a 0 61.6px,#fdbd6e 0 63.1px,#fbead1 0 64.6px,#fece92 0 66.0px,#f4f4f6 0 67.5px,#f9f1e5 0 69.0px,#da7d12 0 70.4px,#d67911 0 71.9px,#fdc47d 0 73.4px,#a14e07 0 74.8px,#fdc987 0 76.3px,#fed298 0 77.8px,#ef9d3c 0 79.2px,#ee9b39 0 80.7px,#f8af55 0 82.2px,#fed29a 0 83.6px,#fed298 0 85.1px,#c1650a 0 86.6px,#fde3be 0 88.0px,#dd7f13 0 89.5px,#fcb761 0 91.0px,#fed197 0 92.4px,#e78f27 0 93.9px,#f6aa4f 0 95.4px,#d27510 0 96.8px,#f9f0e4 0 98.3px,#fab35c 0 99.8px,#cb6f0e 0 101.2px,#fee1ba 0 102.7px,#fdc073 0 104.2px,#e8e9f1 0 105.6px,#f4a84b 0 107.1px,#fee1ba 0 108.6px,#cd700e 0 110.0px,#f1a243 0 111.5px)"></div><div class="h" style="left:365px;top:191.13px;width:111.5px;height:5.19px;background:linear-gradient(90deg,#f9f2e9 0 1.5px,#f9f0e4 0 2.9px,#ececf3 0 4.4px,#fce8cb 0 5.9px,#fce8cc 0 7.3px,#fdbb69 0 8.8px,#fece91 0 10.3px,#fedbab 0 11.7px,#f9f0e4 0 13.2px,#ececf3 0 14.7px,#fedbab 0 16.1px,#fed094 0 17.6px,#fdbf72 0 19.1px,#f7f7f7 0 20.5px,#f2f3f5 0 22.0px,#fed7a4 0 23.5px,#dcdeed 0 24.9px,#fde3bf 0 26.4px,#fed39b 0 27.9px,#fbebd4 0 29.3px,#fdc680 0 30.8px,#fee1ba 0 32.3px,#fecc8d 0 33.7px,#f7ad52 0 35.2px,#fce8cd 0 36.7px,#e8e9f1 0 38.1px,#f1f2f5 0 39.6px,#faeedd 0 41.1px,#eaebf2 0 42.5px,#fce8cb 0 44.0px,#ebecf2 0 45.5px,#fbebd4 0 46.9px,#fed49c 0 48.4px,#f8f2ea 0 49.9px,#c2bfdd 0 51.3px,#eff0f4 0 52.8px,#beb9da 0 54.3px,#eeeef3 0 55.8px,#e0e1ee 0 57.2px,#e7e8f1 0 58.7px,#f7f7f7 0 60.2px,#eaeaf2 0 61.6px,#f7f7f6 0 63.1px,#e2e3ef 0 64.6px,#c7c5e0 0 66.0px,#e7e8f1 0 67.5px,#c7c5e0 0 69.0px,#edeef3 0 70.4px,#f3f3f5 0 71.9px,#eaebf2 0 73.4px,#f5f5f6 0 74.8px,#ecedf3 0 76.3px,#e0e2ee 0 77.8px,#edeef3 0 79.2px,#d2d3e7 0 80.7px,#dbddec 0 82.2px,#dcdeec 0 83.6px,#f3f3f6 0 85.1px,#c6c3df 0 86.6px,#fde5c4 0 88.0px,#d4d5e8 0 89.5px,#d7d9ea 0 91.0px,#c9c7e1 0 92.4px,#b3acd2 0 93.9px,#c4c1de 0 95.4px,#faedda 0 96.8px,#dadcec 0 98.3px,#f7f7f7 0 99.8px,#e0e1ee 0 101.2px,#eaebf2 0 102.7px,#bdb9d9 0 104.2px,#d6d7e9 0 105.6px,#ecedf3 0 107.1px,#f1f1f5 0 108.6px,#e2e3ef 0 110.0px,#eaebf2 0 111.5px)"></div><div class="h" style="left:365px;top:196.30px;width:111.5px;height:5.19px;background:linear-gradient(90deg,#faeedf 0 1.5px,#f9f2e9 0 2.9px,#e9eaf2 0 4.4px,#fed39a 0 5.9px,#e6e7f1 0 7.3px,#fcb761 0 8.8px,#fed6a2 0 10.3px,#f7ac52 0 11.7px,#fce5c4 0 13.2px,#ebecf3 0 14.7px,#fdbe6f 0 16.1px,#fed299 0 17.6px,#fdbe70 0 19.1px,#fbead3 0 20.5px,#f7f5f3 0 22.0px,#e48a20 0 23.5px,#f0f1f4 0 24.9px,#e2e4ef 0 26.4px,#fed8a5 0 27.9px,#fce7ca 0 29.3px,#f9f2e9 0 30.8px,#f5a94d 0 32.3px,#fdc379 0 33.7px,#f9f0e3 0 35.2px,#fce8cc 0 36.7px,#e5e6f0 0 38.1px,#fed9a8 0 39.6px,#faeedd 0 41.1px,#fce7ca 0 42.5px,#fde3bf 0 44.0px,#f4f4f6 0 45.5px,#dbddec 0 46.9px,#fdc176 0 48.4px,#dddfed 0 49.9px,#dadbec 0 51.3px,#cccce3 0 52.8px,#e3e5ef 0 54.3px,#fbead4 0 55.8px,#dcddec 0 57.2px,#faeede 0 58.7px,#f7f6f3 0 60.2px,#f7f7f6 0 61.6px,#f2f2f5 0 63.1px,#cac9e2 0 64.6px,#e2e3ef 0 66.0px,#fbe9cf 0 67.5px,#fbe9ce 0 69.0px,#e8e9f1 0 70.4px,#d3d4e8 0 71.9px,#d7d8ea 0 73.4px,#fbe9d0 0 74.8px,#cecee5 0 76.3px,#faeddc 0 77.8px,#c8c6e0 0 79.2px,#e7e8f1 0 80.7px,#c1bddc 0 82.2px,#eaebf2 0 83.6px,#dddeed 0 85.1px,#fedcae 0 86.6px,#d2d2e7 0 88.0px,#f8f4ef 0 89.5px,#edeef3 0 91.0px,#cecee5 0 92.4px,#c6c4df 0 93.9px,#e1e2ee 0 95.4px,#faeede 0 96.8px,#bfbbdb 0 98.3px,#ececf3 0 99.8px,#f5f5f6 0 101.2px,#c7c5e0 0 102.7px,#8f84b8 0 104.2px,#ebecf2 0 105.6px,#d6d8ea 0 107.1px,#cdcde4 0 108.6px,#e0e1ee 0 110.0px,#dee0ed 0 111.5px)"></div><div class="h" style="left:365px;top:201.47px;width:111.5px;height:5.19px;background:linear-gradient(90deg,#faeddb 0 1.5px,#d77911 0 2.9px,#fdbd6e 0 4.4px,#fdc279 0 5.9px,#fdbf71 0 7.3px,#fdc277 0 8.8px,#fdc986 0 10.3px,#feddaf 0 11.7px,#f6f6f7 0 13.2px,#f6ab50 0 14.7px,#fee1ba 0 16.1px,#f7f6f3 0 17.6px,#fdc57d 0 19.1px,#ed9a37 0 20.5px,#fdc885 0 22.0px,#fed197 0 23.5px,#fbead3 0 24.9px,#ea942f 0 26.4px,#fed197 0 27.9px,#fecf92 0 29.3px,#fdc47b 0 30.8px,#fce7c9 0 32.3px,#c2660b 0 33.7px,#f8f3ed 0 35.2px,#eaeaf2 0 36.7px,#f9f2e8 0 38.1px,#fece91 0 39.6px,#fecd8f 0 41.1px,#f8f4f0 0 42.5px,#fce6c8 0 44.0px,#fdbd6d 0 45.5px,#fdc47d 0 46.9px,#fedcad 0 48.4px,#d1d1e6 0 49.9px,#faeddc 0 51.3px,#c7c5e0 0 52.8px,#e3e4ef 0 54.3px,#ecedf3 0 55.8px,#f8f3ec 0 57.2px,#e2e4ef 0 58.7px,#e8e9f1 0 60.2px,#f6f6f7 0 61.6px,#edeef3 0 63.1px,#e0e1ee 0 64.6px,#bcb8d9 0 66.0px,#dfe1ee 0 67.5px,#f2f3f5 0 69.0px,#fce7c8 0 70.4px,#ecedf3 0 71.9px,#dfe1ee 0 73.4px,#f9f2e9 0 74.8px,#f8f3eb 0 76.3px,#dadcec 0 77.8px,#e3e4ef 0 79.2px,#dbddec 0 80.7px,#c5c3df 0 82.2px,#e0e1ee 0 83.6px,#f8f5f2 0 85.1px,#fee1ba 0 86.6px,#dadcec 0 88.0px,#ebecf2 0 89.5px,#d0d0e5 0 91.0px,#bebada 0 92.4px,#cfcfe5 0 93.9px,#e4e5f0 0 95.4px,#d2d2e7 0 96.8px,#b1aad2 0 98.3px,#eaebf2 0 99.8px,#cccbe3 0 101.2px,#c1bddc 0 102.7px,#ebebf2 0 104.2px,#d9dbeb 0 105.6px,#f2f2f5 0 107.1px,#d7d9eb 0 108.6px,#d6d7e9 0 110.0px,#f0f1f4 0 111.5px)"></div><div class="h" style="left:365px;top:206.64px;width:111.5px;height:5.19px;background:linear-gradient(90deg,#f9f0e3 0 1.5px,#f8f2e9 0 2.9px,#fbe9ce 0 4.4px,#fde3c0 0 5.9px,#fee0b7 0 7.3px,#fdc57e 0 8.8px,#fbe9d0 0 10.3px,#fdc37a 0 11.7px,#fdb965 0 13.2px,#fcb761 0 14.7px,#fdc279 0 16.1px,#fed59f 0 17.6px,#fdc783 0 19.1px,#fed298 0 20.5px,#ededf3 0 22.0px,#db7d12 0 23.5px,#fde4c1 0 24.9px,#fde2bd 0 26.4px,#fdca89 0 27.9px,#fedaa9 0 29.3px,#f4a84c 0 30.8px,#fed7a3 0 32.3px,#fee1b8 0 33.7px,#fdba66 0 35.2px,#fbebd5 0 36.7px,#e2e3ef 0 38.1px,#fce7cb 0 39.6px,#f9f0e3 0 41.1px,#fed095 0 42.5px,#e7e8f1 0 44.0px,#d1d2e7 0 45.5px,#e2e4ef 0 46.9px,#f9f1e5 0 48.4px,#fed299 0 49.9px,#f6f7f7 0 51.3px,#f4f4f6 0 52.8px,#d5d7e9 0 54.3px,#f8f4ef 0 55.8px,#fce5c5 0 57.2px,#f9f2e8 0 58.7px,#fbebd5 0 60.2px,#f8f2ea 0 61.6px,#e2e3ef 0 63.1px,#988dbe 0 64.6px,#d3d3e7 0 66.0px,#d5d7e9 0 67.5px,#fce7ca 0 69.0px,#fce6c7 0 70.4px,#e3e4ef 0 71.9px,#d5d6e9 0 73.4px,#f7f7f6 0 74.8px,#f3f4f6 0 76.3px,#f9f0e3 0 77.8px,#dcdeed 0 79.2px,#c7c5e0 0 80.7px,#d7d9ea 0 82.2px,#fce5c5 0 83.6px,#b4add3 0 85.1px,#e9eaf2 0 86.6px,#f8f5f2 0 88.0px,#c4c1de 0 89.5px,#dfe1ee 0 91.0px,#eeeff4 0 92.4px,#e9eaf2 0 93.9px,#d4d4e8 0 95.4px,#e9eaf1 0 96.8px,#bbb6d8 0 98.3px,#f6f6f7 0 99.8px,#eeeff4 0 101.2px,#faecd8 0 102.7px,#dcdeed 0 104.2px,#b6afd4 0 105.6px,#fed29a 0 107.1px,#dcdeed 0 108.6px,#faedda 0 110.0px,#faeedd 0 111.5px)"></div><div class="h" style="left:365px;top:211.82px;width:111.5px;height:5.19px;background:linear-gradient(90deg,#dcdeed 0 1.5px,#d67811 0 2.9px,#fdc47b 0 4.4px,#d67811 0 5.9px,#fdc278 0 7.3px,#fece90 0 8.8px,#fdc986 0 10.3px,#fde3bf 0 11.7px,#fedaa9 0 13.2px,#fab35c 0 14.7px,#fdca89 0 16.1px,#fedbab 0 17.6px,#fcb761 0 19.1px,#dc7e13 0 20.5px,#fdb965 0 22.0px,#f9b057 0 23.5px,#fde2bb 0 24.9px,#dd7f13 0 26.4px,#f2a445 0 27.9px,#fde4c2 0 29.3px,#fcb761 0 30.8px,#fce7cb 0 32.3px,#eb9632 0 33.7px,#e3881d 0 35.2px,#fdc177 0 36.7px,#c2bedc 0 38.1px,#fed197 0 39.6px,#fee1b8 0 41.1px,#f8f5f0 0 42.5px,#fce5c5 0 44.0px,#fdba67 0 45.5px,#fce7c9 0 46.9px,#fde5c4 0 48.4px,#fce8cb 0 49.9px,#faecd8 0 51.3px,#eff0f4 0 52.8px,#d3d4e8 0 54.3px,#f9f1e7 0 55.8px,#bbb6d8 0 57.2px,#f9f0e2 0 58.7px,#f9f0e3 0 60.2px,#f3f3f5 0 61.6px,#f1f1f5 0 63.1px,#cfcfe5 0 64.6px,#e6e7f0 0 66.0px,#b3acd3 0 67.5px,#bfbcdb 0 69.0px,#e9eaf2 0 70.4px,#f4f4f6 0 71.9px,#d1d1e6 0 73.4px,#e9eaf1 0 74.8px,#dedfed 0 76.3px,#fce8cd 0 77.8px,#cac9e2 0 79.2px,#e5e6f0 0 80.7px,#f0f1f4 0 82.2px,#cac9e2 0 83.6px,#d4d5e8 0 85.1px,#e9eaf2 0 86.6px,#f4f4f6 0 88.0px,#ebecf2 0 89.5px,#f8f2e9 0 91.0px,#ececf3 0 92.4px,#bebada 0 93.9px,#d9dbeb 0 95.4px,#f9efe2 0 96.8px,#d3d4e8 0 98.3px,#cccbe3 0 99.8px,#b6b0d5 0 101.2px,#dddfed 0 102.7px,#e9eaf1 0 104.2px,#eff0f4 0 105.6px,#f9f2e9 0 107.1px,#f3f4f6 0 108.6px,#fbead3 0 110.0px,#edeef3 0 111.5px)"></div><div class="h" style="left:365px;top:216.99px;width:111.5px;height:5.19px;background:linear-gradient(90deg,#fbebd4 0 1.5px,#fab35b 0 2.9px,#f0f0f4 0 4.4px,#fdc47b 0 5.9px,#faecd7 0 7.3px,#f8f3eb 0 8.8px,#fdc47c 0 10.3px,#f8f5f1 0 11.7px,#fed298 0 13.2px,#f8f5f0 0 14.7px,#fde3be 0 16.1px,#f6aa4f 0 17.6px,#f6ab50 0 19.1px,#ef9e3d 0 20.5px,#fcb660 0 22.0px,#e3871c 0 23.5px,#fde4c1 0 24.9px,#d57811 0 26.4px,#d87b12 0 27.9px,#fdc57e 0 29.3px,#fdbc6c 0 30.8px,#fce7c8 0 32.3px,#fdba67 0 33.7px,#fdb965 0 35.2px,#fbead3 0 36.7px,#fed9a7 0 38.1px,#fbead1 0 39.6px,#f0f1f4 0 41.1px,#f0f0f4 0 42.5px,#fde2bc 0 44.0px,#dfe1ee 0 45.5px,#f6f6f7 0 46.9px,#fed9a8 0 48.4px,#cfcee5 0 49.9px,#c5c3df 0 51.3px,#f9f1e7 0 52.8px,#d7d9eb 0 54.3px,#f3f3f5 0 55.8px,#e6e7f1 0 57.2px,#eeeef3 0 58.7px,#d3d4e8 0 60.2px,#f7f7f7 0 61.6px,#e2e3ef 0 63.1px,#a89fca 0 64.6px,#d8daeb 0 66.0px,#fbebd4 0 67.5px,#fde4c1 0 69.0px,#f8f3ec 0 70.4px,#f4f5f6 0 71.9px,#e5e6f0 0 73.4px,#f7f6f4 0 74.8px,#e5e6f0 0 76.3px,#d9dbec 0 77.8px,#e6e7f0 0 79.2px,#f8f4ee 0 80.7px,#e1e2ee 0 82.2px,#cdcce4 0 83.6px,#f8f5f0 0 85.1px,#f9f2e8 0 86.6px,#f0f1f4 0 88.0px,#f8f5f2 0 89.5px,#fee1ba 0 91.0px,#f9f0e3 0 92.4px,#f6f6f7 0 93.9px,#f9f1e6 0 95.4px,#f5f6f6 0 96.8px,#d7d9eb 0 98.3px,#f4f5f6 0 99.8px,#f8f3ec 0 101.2px,#cecee5 0 102.7px,#d9dbec 0 104.2px,#fedeb1 0 105.6px,#f4f4f6 0 107.1px,#faedda 0 108.6px,#f6f6f7 0 110.0px,#f8f5f0 0 111.5px)"></div><div class="h" style="left:365px;top:222.16px;width:111.5px;height:5.19px;background:linear-gradient(90deg,#faecd8 0 1.5px,#dd8013 0 2.9px,#fed8a6 0 4.4px,#fbead1 0 5.9px,#f3a649 0 7.3px,#fed59f 0 8.8px,#fedaa9 0 10.3px,#fece92 0 11.7px,#fbebd6 0 13.2px,#f5a94c 0 14.7px,#fdba66 0 16.1px,#fed7a4 0 17.6px,#fed8a4 0 19.1px,#fed6a0 0 20.5px,#fed49c 0 22.0px,#ec9936 0 23.5px,#fce6c6 0 24.9px,#fdbb69 0 26.4px,#fecf92 0 27.9px,#fdbe6e 0 29.3px,#fdc37a 0 30.8px,#e9922c 0 32.3px,#f6ab50 0 33.7px,#fed094 0 35.2px,#fed196 0 36.7px,#f6f6f6 0 38.1px,#f7f7f6 0 39.6px,#fbe9d0 0 41.1px,#fee1b9 0 42.5px,#fbe9d0 0 44.0px,#fdbe6f 0 45.5px,#ecedf3 0 46.9px,#faecd7 0 48.4px,#f9f0e2 0 49.9px,#978dbe 0 51.3px,#f9f1e6 0 52.8px,#c1bedc 0 54.3px,#edeef3 0 55.8px,#bfbbdb 0 57.2px,#e2e3ef 0 58.7px,#c9c7e1 0 60.2px,#d6d7ea 0 61.6px,#eff0f4 0 63.1px,#bdb9d9 0 64.6px,#f4f4f6 0 66.0px,#b7b1d5 0 67.5px,#e4e5f0 0 69.0px,#e5e6f0 0 70.4px,#ecedf3 0 71.9px,#f2f2f5 0 73.4px,#fce5c4 0 74.8px,#efeff4 0 76.3px,#f8f3eb 0 79.2px,#eeeff4 0 80.7px,#c7c4e0 0 82.2px,#d3d3e8 0 83.6px,#f7f7f6 0 85.1px,#f7f6f5 0 86.6px,#cfcfe5 0 88.0px,#d1d2e7 0 89.5px,#f6f6f6 0 91.0px,#ececf3 0 92.4px,#c7c6e0 0 93.9px,#fee1b9 0 95.4px,#dddeed 0 96.8px,#f6f6f7 0 98.3px,#f5f5f6 0 99.8px,#e5e7f0 0 101.2px,#d6d8ea 0 102.7px,#f8f3ed 0 104.2px,#dddeed 0 105.6px,#cdcce4 0 107.1px,#f8f4ed 0 108.6px,#e1e3ef 0 110.0px,#b7b1d5 0 111.5px)"></div><div class="h" style="left:365px;top:227.33px;width:111.5px;height:5.19px;background:linear-gradient(90deg,#fee2bb 0 1.5px,#fde2bb 0 2.9px,#fdc680 0 4.4px,#fed49e 0 5.9px,#dd7f13 0 7.3px,#fcb762 0 8.8px,#f6f6f7 0 10.3px,#f8f2e9 0 11.7px,#f6ab51 0 13.2px,#fed39b 0 14.7px,#fdbc6b 0 16.1px,#fdc986 0 17.6px,#f3a547 0 19.1px,#f8f5f0 0 20.5px,#fdba66 0 22.0px,#fedcad 0 23.5px,#fed39c 0 24.9px,#f8f2e9 0 26.4px,#fdbf72 0 27.9px,#f3a547 0 29.3px,#fdbd6c 0 30.8px,#fed6a2 0 32.3px,#fde2bd 0 33.7px,#fce6c6 0 35.2px,#fdc783 0 36.7px,#d2d3e7 0 38.1px,#fbead3 0 39.6px,#f9f1e6 0 41.1px,#fde4c0 0 42.5px,#eaebf2 0 44.0px,#fbead3 0 45.5px,#fed6a2 0 46.9px,#fdcc8c 0 48.4px,#dedfed 0 49.9px,#ededf3 0 51.3px,#f3f3f5 0 52.8px,#cfcfe5 0 54.3px,#fce7ca 0 55.8px,#d2d3e7 0 57.2px,#faecd8 0 58.7px,#f9f0e2 0 60.2px,#edeef3 0 61.6px,#d2d2e7 0 63.1px,#aca5ce 0 64.6px,#f8f4ef 0 66.0px,#f7f6f4 0 67.5px,#d3d4e8 0 69.0px,#ececf3 0 70.4px,#e4e5f0 0 71.9px,#d1d1e6 0 73.4px,#fed59f 0 74.8px,#bcb8d9 0 76.3px,#fde3c0 0 77.8px,#dfe1ee 0 79.2px,#faeedc 0 80.7px,#c7c5e0 0 82.2px,#b9b3d6 0 83.6px,#dddeed 0 85.1px,#faecd7 0 86.6px,#ecedf3 0 88.0px,#e6e7f0 0 89.5px,#f3f4f6 0 91.0px,#cdcce4 0 92.4px,#eeeff4 0 93.9px,#d9dbeb 0 95.4px,#f9f1e5 0 96.8px,#cbcae3 0 98.3px,#d6d7e9 0 99.8px,#d8daeb 0 101.2px,#cccbe3 0 102.7px,#aca4cd 0 104.2px,#e6e7f1 0 105.6px,#e8e9f1 0 107.1px,#f9f1e5 0 108.6px,#f9f1e7 0 110.0px,#d3d4e8 0 111.5px)"></div><div class="h" style="left:365px;top:232.50px;width:111.5px;height:5.19px;background:linear-gradient(90deg,#e4e5f0 0 1.5px,#b2abd2 0 2.9px,#b8b3d6 0 4.4px,#dcdeec 0 5.9px,#c2bfdd 0 7.3px,#ebebf2 0 8.8px,#b6b0d5 0 10.3px,#e4e5f0 0 11.7px,#bbb6d8 0 13.2px,#d9dbeb 0 14.7px,#eaebf2 0 16.1px,#bdb8d9 0 17.6px,#cac9e2 0 19.1px,#bebada 0 20.5px,#bbb6d8 0 22.0px,#f6f6f6 0 23.5px,#e4e5f0 0 24.9px,#a299c6 0 26.4px,#9489bb 0 27.9px,#867ab1 0 29.3px,#b4add3 0 30.8px,#8376ae 0 32.3px,#cecee5 0 33.7px,#8c81b5 0 35.2px,#9389bb 0 36.7px,#755fa3 0 38.1px,#9287b9 0 39.6px,#d0d0e6 0 41.1px,#a198c5 0 42.5px,#9f96c4 0 44.0px,#a69ec9 0 45.5px,#a198c5 0 46.9px,#c2bfdd 0 48.4px,#7f71ab 0 49.9px,#7967a6 0 51.3px,#a49bc7 0 52.8px,#8b7fb4 0 54.3px,#998fbf 0 55.8px,#d0d0e6 0 57.2px,#978dbd 0 58.7px,#aea7cf 0 60.2px,#9085b9 0 61.6px,#a198c5 0 63.1px,#6b4e9b 0 64.6px,#5b338e 0 66.0px,#6d539d 0 67.5px,#7e70ab 0 69.0px,#cdcce4 0 70.4px,#c8c6e0 0 71.9px,#a69ec9 0 73.4px,#c1bedc 0 74.8px,#b1aad2 0 76.3px,#d1d1e6 0 77.8px,#684a99 0 79.2px,#e2e4ef 0 80.7px,#2d004b 0 82.2px,#8c80b5 0 83.6px,#a39ac6 0 85.1px,#eeeff4 0 86.6px,#a096c4 0 88.0px,#897db3 0 89.5px,#8377ae 0 91.0px,#d8daeb 0 92.4px,#a9a1cb 0 93.9px,#613d92 0 95.4px,#9c92c1 0 96.8px,#5d378f 0 98.3px,#8174ad 0 99.8px,#5e3890 0 101.2px,#b4aed4 0 102.7px,#664697 0 104.2px,#9b91c0 0 105.6px,#e9eaf2 0 107.1px,#8b7fb4 0 108.6px,#bdb8d9 0 110.0px,#9d93c2 0 111.5px)"></div><div class="h" style="left:365px;top:237.68px;width:111.5px;height:5.19px;background:linear-gradient(90deg,#b9b4d7 0 1.5px,#f6f6f6 0 2.9px,#aba3cd 0 4.4px,#d2d3e7 0 5.9px,#c3bfdd 0 7.3px,#faeedc 0 8.8px,#d2d3e7 0 11.7px,#cecde4 0 13.2px,#f0f1f4 0 14.7px,#b8b2d6 0 16.1px,#eeeff4 0 17.6px,#cdcce3 0 19.1px,#bfbcdb 0 20.5px,#c5c2de 0 22.0px,#f9f1e5 0 23.5px,#b9b4d7 0 24.9px,#e2e3ef 0 26.4px,#867ab0 0 27.9px,#9287ba 0 29.3px,#7c6da9 0 30.8px,#8b80b5 0 32.3px,#dcddec 0 33.7px,#613d93 0 35.2px,#a79ec9 0 36.7px,#5b338e 0 38.1px,#ecedf3 0 39.6px,#725aa0 0 41.1px,#aba3cd 0 42.5px,#b9b3d6 0 44.0px,#8275ad 0 45.5px,#8174ad 0 46.9px,#7865a5 0 48.4px,#4d207d 0 49.9px,#a49cc8 0 51.3px,#897eb3 0 52.8px,#6f569e 0 54.3px,#a59dc8 0 55.8px,#bfbbda 0 57.2px,#cccbe3 0 58.7px,#c8c6e0 0 60.2px,#cbcae3 0 61.6px,#9f96c4 0 63.1px,#4d207d 0 64.6px,#dee0ed 0 66.0px,#cdcce3 0 67.5px,#b1a9d1 0 69.0px,#a29ac6 0 70.4px,#a198c5 0 71.9px,#5b348e 0 73.4px,#b0a8d0 0 74.8px,#b5afd4 0 76.3px,#8b80b5 0 77.8px,#dddfed 0 79.2px,#b7b2d5 0 80.7px,#7661a4 0 82.2px,#725ba1 0 83.6px,#b1aad1 0 85.1px,#9085b8 0 86.6px,#a9a1cb 0 88.0px,#c2bfdd 0 89.5px,#aaa2cc 0 91.0px,#7662a4 0 92.4px,#7c6ca9 0 93.9px,#7662a4 0 95.4px,#897db3 0 96.8px,#694b99 0 98.3px,#7c6ca9 0 99.8px,#d9dbeb 0 101.2px,#b4aed4 0 102.7px,#6e539d 0 104.2px,#cac9e2 0 105.6px,#a097c4 0 107.1px,#bdb8d9 0 108.6px,#8f84b8 0 110.0px,#d3d3e7 0 111.5px)"></div><div class="h" style="left:365px;top:242.85px;width:111.5px;height:5.19px;background:linear-gradient(90deg,#9d94c2 0 1.5px,#f7f6f4 0 2.9px,#e2e3ef 0 4.4px,#f4f4f6 0 5.9px,#897db3 0 7.3px,#dadcec 0 8.8px,#ebecf2 0 10.3px,#d6d7ea 0 11.7px,#d9dbeb 0 13.2px,#c5c3df 0 14.7px,#e7e8f1 0 16.1px,#dadcec 0 17.6px,#c5c2de 0 19.1px,#cbcae2 0 20.5px,#afa8d0 0 22.0px,#b5afd4 0 23.5px,#a299c6 0 24.9px,#7d6da9 0 26.4px,#988ebe 0 27.9px,#faeedd 0 29.3px,#9c92c1 0 30.8px,#cfcfe5 0 32.3px,#d8daeb 0 33.7px,#c9c7e1 0 35.2px,#968cbd 0 36.7px,#aba3cd 0 38.1px,#7a68a7 0 39.6px,#a79fca 0 41.1px,#b4aed3 0 42.5px,#8477af 0 44.0px,#bdb9da 0 45.5px,#b4aed4 0 46.9px,#d5d7e9 0 48.4px,#745fa2 0 49.9px,#d8daeb 0 51.3px,#7a69a7 0 52.8px,#7a68a7 0 54.3px,#9f96c3 0 55.8px,#c8c6e0 0 57.2px,#b9b3d6 0 58.7px,#6f559e 0 60.2px,#aba3cd 0 61.6px,#a197c5 0 63.1px,#684998 0 64.6px,#8f84b8 0 66.0px,#a39ac6 0 67.5px,#8c81b5 0 69.0px,#8478af 0 70.4px,#8c81b5 0 71.9px,#cbcbe3 0 73.4px,#dcdeed 0 74.8px,#9b92c1 0 76.3px,#a39ac7 0 77.8px,#c2bfdd 0 79.2px,#a39ac6 0 80.7px,#aaa2cc 0 82.2px,#522585 0 83.6px,#674897 0 85.1px,#aca4cd 0 86.6px,#7661a4 0 88.0px,#b1aad1 0 89.5px,#cccbe3 0 91.0px,#a097c4 0 92.4px,#8174ad 0 93.9px,#aba3cd 0 95.4px,#9c92c1 0 96.8px,#b7b2d6 0 98.3px,#aaa2cc 0 99.8px,#6e559e 0 101.2px,#9084b8 0 102.7px,#a097c5 0 104.2px,#948abc 0 105.6px,#8b7fb4 0 107.1px,#a49bc7 0 108.6px,#9b91c1 0 110.0px,#a49cc8 0 111.5px)"></div><div class="h" style="left:365px;top:248.02px;width:111.5px;height:5.19px;background:linear-gradient(90deg,#9d94c2 0 1.5px,#cecde4 0 2.9px,#b4add3 0 4.4px,#cbc9e2 0 5.9px,#b8b3d6 0 7.3px,#e4e5f0 0 8.8px,#dcdeed 0 10.3px,#eeeff4 0 11.7px,#d0d0e6 0 13.2px,#c3c0dd 0 14.7px,#bdb9d9 0 16.1px,#d1d1e6 0 19.1px,#c5c3df 0 20.5px,#e8e9f1 0 23.5px,#bfbbdb 0 24.9px,#8a7eb3 0 26.4px,#b7b2d6 0 27.9px,#3d1064 0 29.3px,#7561a3 0 30.8px,#a097c4 0 32.3px,#7967a7 0 33.7px,#8f84b7 0 35.2px,#9a90bf 0 36.7px,#978cbd 0 38.1px,#8276ae 0 39.6px,#9f95c3 0 41.1px,#9b91c0 0 42.5px,#867ab0 0 44.0px,#a79fca 0 45.5px,#654596 0 46.9px,#d0d0e6 0 48.4px,#7764a5 0 49.9px,#a69dc9 0 51.3px,#c9c7e1 0 52.8px,#7662a4 0 54.3px,#a198c5 0 55.8px,#8c81b5 0 57.2px,#c6c4df 0 58.7px,#c2bedc 0 60.2px,#8d82b6 0 61.6px,#8376ae 0 63.1px,#7f71ab 0 64.6px,#9186b9 0 66.0px,#cbc9e2 0 67.5px,#8a7fb4 0 69.0px,#d2d2e7 0 70.4px,#a198c5 0 71.9px,#674898 0 73.4px,#c5c3df 0 74.8px,#a79fca 0 76.3px,#d1d1e6 0 77.8px,#b1aad1 0 79.2px,#c7c5e0 0 80.7px,#654496 0 82.2px,#a59cc8 0 83.6px,#867ab1 0 85.1px,#958abc 0 86.6px,#aaa2cc 0 88.0px,#9f96c4 0 89.5px,#a9a1cc 0 91.0px,#aaa2cc 0 92.4px,#4d207e 0 93.9px,#cfcfe5 0 95.4px,#a39ac7 0 96.8px,#5f3a91 0 98.3px,#bcb7d9 0 99.8px,#4b1e7a 0 101.2px,#b7b1d5 0 102.7px,#755fa3 0 104.2px,#6c509c 0 105.6px,#745fa2 0 107.1px,#9187b9 0 108.6px,#725ba0 0 110.0px,#c7c6e0 0 111.5px)"></div><div class="h" style="left:365px;top:253.19px;width:111.5px;height:5.19px;background:linear-gradient(90deg,#b1aad1 0 1.5px,#f4f4f6 0 2.9px,#d9dbeb 0 4.4px,#eaebf2 0 5.9px,#d9dbeb 0 7.3px,#e2e3ef 0 8.8px,#c9c8e1 0 10.3px,#cac9e2 0 11.7px,#cbcae3 0 13.2px,#d0d1e6 0 14.7px,#e6e7f0 0 16.1px,#b7b1d5 0 17.6px,#e0e2ee 0 19.1px,#dcdeec 0 20.5px,#f8f4ee 0 22.0px,#faecd8 0 23.5px,#d8daeb 0 24.9px,#e1e2ee 0 26.4px,#f9efe1 0 27.9px,#dcdeec 0 29.3px,#e7e8f1 0 30.8px,#dfe1ee 0 32.3px,#e9eaf2 0 33.7px,#dedfed 0 35.2px,#e4e5ef 0 36.7px,#bebada 0 38.1px,#f8f4f0 0 39.6px,#dedfed 0 41.1px,#e0e2ee 0 42.5px,#a59cc8 0 44.0px,#d7d9eb 0 45.5px,#d3d3e7 0 46.9px,#f8f3eb 0 48.4px,#f0f1f4 0 49.9px,#c6c4df 0 51.3px,#f9f1e7 0 52.8px,#edeef3 0 54.3px,#e8e9f1 0 55.8px,#f7f7f7 0 57.2px,#dbddec 0 58.7px,#bfbbda 0 60.2px,#f2f2f5 0 61.6px,#fbead2 0 63.1px,#9f95c3 0 64.6px,#b3add3 0 66.0px,#dee0ed 0 67.5px,#d0d0e5 0 69.0px,#eff0f4 0 70.4px,#eeeff4 0 71.9px,#e2e4ef 0 73.4px,#fee1b9 0 74.8px,#bdb8d9 0 76.3px,#e4e5f0 0 77.8px,#d8daeb 0 79.2px,#e3e4ef 0 80.7px,#c4c1de 0 82.2px,#cdcde4 0 83.6px,#ada5ce 0 85.1px,#f9f0e3 0 86.6px,#f4f4f6 0 88.0px,#d6d8ea 0 89.5px,#f9efe1 0 91.0px,#c9c8e1 0 92.4px,#dadbec 0 93.9px,#fbebd5 0 95.4px,#ebecf2 0 96.8px,#e8e9f1 0 98.3px,#b4aed3 0 99.8px,#e7e8f1 0 101.2px,#d3d4e8 0 102.7px,#d9dbeb 0 104.2px,#dcdeed 0 105.6px,#f8f5f1 0 107.1px,#c3c0dd 0 108.6px,#d6d8ea 0 110.0px,#f8f4ef 0 111.5px)"></div><div class="h" style="left:365px;top:258.36px;width:111.5px;height:5.19px;background:linear-gradient(90deg,#ee9b39 0 1.5px,#b55a07 0 2.9px,#964807 0 4.4px,#873f08 0 5.9px,#b95e08 0 7.3px,#a55007 0 8.8px,#8c4208 0 10.3px,#9d4c07 0 11.7px,#bc6109 0 13.2px,#7f3b08 0 14.7px,#d97b12 0 16.1px,#c0640a 0 17.6px,#7f3b08 0 19.1px,#be630a 0 20.5px,#7f3b08 0 22.0px,#8f4407 0 23.5px,#f3a547 0 24.9px,#d37610 0 26.4px,#c2660b 0 27.9px,#9f4d07 0 29.3px,#e68d25 0 30.8px,#a45007 0 32.3px,#8e4307 0 33.7px,#884008 0 35.2px,#8c4208 0 36.7px,#964807 0 38.1px,#a14e07 0 39.6px,#914507 0 41.1px,#954707 0 42.5px,#bd6109 0 44.0px,#dc7f13 0 45.5px,#b55a07 0 46.9px,#7f3b08 0 48.4px,#994a07 0 49.9px,#f2a446 0 51.3px,#964807 0 52.8px,#f3a547 0 54.3px,#964807 0 55.8px,#cc6f0e 0 57.2px,#f8af56 0 58.7px,#e3871b 0 60.2px,#f7ae54 0 61.6px,#e18518 0 63.1px,#d1740f 0 64.6px,#fdcc8c 0 66.0px,#a04e07 0 67.5px,#b95e08 0 69.0px,#da7c12 0 70.4px,#cc6f0e 0 71.9px,#fdc47b 0 73.4px,#fdb966 0 74.8px,#fdbc6c 0 76.3px,#cc6f0e 0 77.8px,#ee9d3b 0 79.2px,#e9932e 0 80.7px,#fdc47c 0 82.2px,#d27510 0 83.6px,#fdbd6c 0 85.1px,#b85d08 0 86.6px,#ec9935 0 88.0px,#ac5406 0 89.5px,#dd7f13 0 91.0px,#bb5f08 0 92.4px,#e8912a 0 93.9px,#7f3b08 0 95.4px,#b85d08 0 96.8px,#c1650a 0 98.3px,#fdbf72 0 99.8px,#ad5506 0 101.2px,#f2a445 0 102.7px,#b95d08 0 104.2px,#fdbb69 0 105.6px,#fdc47d 0 107.1px,#e08214 0 108.6px,#da7c12 0 110.0px,#c76b0c 0 111.5px)"></div><div class="h" style="left:365px;top:263.54px;width:111.5px;height:5.19px;background:linear-gradient(90deg,#bb5f08 0 1.5px,#7f3b08 0 2.9px,#d1740f 0 4.4px,#de8013 0 5.9px,#d87b12 0 7.3px,#7f3b08 0 8.8px,#944707 0 10.3px,#ae5506 0 11.7px,#9f4d07 0 13.2px,#a65106 0 14.7px,#7f3b08 0 16.1px,#a85206 0 17.6px,#813c08 0 19.1px,#d0730f 0 20.5px,#cc6f0e 0 22.0px,#aa5306 0 23.5px,#ae5506 0 24.9px,#be6209 0 26.4px,#b85c07 0 27.9px,#7f3b08 0 30.8px,#954707 0 32.3px,#c4680b 0 33.7px,#d67911 0 35.2px,#7f3b08 0 36.7px,#ae5506 0 38.1px,#884008 0 39.6px,#ca6e0d 0 41.1px,#cc6f0e 0 42.5px,#c5690c 0 44.0px,#7f3b08 0 45.5px,#bb6009 0 46.9px,#7f3b08 0 48.4px,#ad5406 0 49.9px,#7f3b08 0 51.3px,#af5606 0 52.8px,#fdc47c 0 54.3px,#fdb762 0 55.8px,#df8114 0 57.2px,#7f3b08 0 58.7px,#ef9d3c 0 60.2px,#e79028 0 61.6px,#bc6009 0 63.1px,#c66a0c 0 64.6px,#c76b0c 0 66.0px,#fed49e 0 67.5px,#c4680b 0 69.0px,#db7e13 0 70.4px,#b65b07 0 71.9px,#e9942e 0 73.4px,#c3670b 0 74.8px,#7f3b08 0 76.3px,#c1650a 0 77.8px,#a95206 0 79.2px,#fed49e 0 80.7px,#fedfb4 0 82.2px,#fed39b 0 83.6px,#9b4b07 0 85.1px,#c66a0c 0 88.0px,#cd700e 0 89.5px,#f8ae54 0 91.0px,#ce710e 0 92.4px,#de8013 0 93.9px,#fab35c 0 95.4px,#ba5e08 0 96.8px,#df8114 0 98.3px,#7f3b08 0 99.8px,#e9922b 0 101.2px,#f2a345 0 102.7px,#e3881d 0 104.2px,#d47710 0 105.6px,#e08214 0 107.1px,#e4891f 0 108.6px,#e78f28 0 110.0px,#7f3b08 0 111.5px)"></div><div class="h" style="left:365px;top:268.71px;width:111.5px;height:5.19px;background:linear-gradient(90deg,#b45906 0 1.5px,#bd6109 0 2.9px,#984907 0 4.4px,#a34f07 0 5.9px,#a85206 0 7.3px,#b65b07 0 8.8px,#a34f07 0 10.3px,#d57811 0 11.7px,#8c4207 0 13.2px,#9b4a07 0 14.7px,#d27510 0 16.1px,#c96c0d 0 17.6px,#7f3b08 0 19.1px,#bb5f08 0 20.5px,#9c4b07 0 22.0px,#7f3b08 0 23.5px,#bd6209 0 24.9px,#d47710 0 26.4px,#7f3b08 0 27.9px,#bc6109 0 29.3px,#ae5506 0 30.8px,#fcb761 0 32.3px,#ef9e3d 0 33.7px,#904507 0 35.2px,#843e08 0 36.7px,#d0730f 0 38.1px,#7f3b08 0 39.6px,#bd6209 0 41.1px,#ab5306 0 42.5px,#ac5406 0 44.0px,#b85d08 0 45.5px,#f7ae54 0 46.9px,#7f3b08 0 48.4px,#a75106 0 49.9px,#974807 0 51.3px,#bb5f08 0 52.8px,#fbb55e 0 54.3px,#c96d0d 0 55.8px,#dc7f13 0 57.2px,#b25706 0 58.7px,#c2660b 0 60.2px,#9f4d07 0 61.6px,#e68d24 0 63.1px,#f9b057 0 64.6px,#ae5506 0 66.0px,#f8ae55 0 67.5px,#fbb35c 0 69.0px,#cc700e 0 70.4px,#c96c0d 0 71.9px,#fed49d 0 73.4px,#863f08 0 74.8px,#ef9e3d 0 76.3px,#ef9e3e 0 77.8px,#a65106 0 79.2px,#ac5406 0 80.7px,#fdb863 0 82.2px,#db7d12 0 83.6px,#a04e07 0 85.1px,#ae5506 0 86.6px,#aa5306 0 88.0px,#de8013 0 89.5px,#b45906 0 91.0px,#ef9e3d 0 92.4px,#c66a0c 0 93.9px,#d57811 0 95.4px,#e2861a 0 96.8px,#fbb35c 0 98.3px,#aa5306 0 99.8px,#d47710 0 101.2px,#c0640a 0 102.7px,#fed49d 0 104.2px,#ed9a37 0 105.6px,#b75c07 0 107.1px,#e18417 0 108.6px,#df8114 0 110.0px,#cb6f0e 0 111.5px)"></div><div class="h" style="left:365px;top:273.88px;width:111.5px;height:5.19px;background:linear-gradient(90deg,#f0a040 0 1.5px,#7f3b08 0 2.9px,#eb9733 0 4.4px,#de8114 0 5.9px,#d57811 0 7.3px,#8b4208 0 8.8px,#7f3b08 0 10.3px,#bc6009 0 11.7px,#d67811 0 13.2px,#b95d08 0 14.7px,#d47610 0 16.1px,#ad5506 0 17.6px,#c3670b 0 19.1px,#be6209 0 20.5px,#9a4a07 0 22.0px,#7f3b08 0 23.5px,#ae5506 0 24.9px,#bc6009 0 26.4px,#ba5e08 0 27.9px,#c0650a 0 29.3px,#b75c07 0 30.8px,#c6690c 0 32.3px,#b25806 0 33.7px,#bf630a 0 35.2px,#884008 0 36.7px,#ca6d0d 0 38.1px,#954707 0 39.6px,#8d4307 0 41.1px,#b65a07 0 42.5px,#833d08 0 44.0px,#9e4c07 0 45.5px,#7f3b08 0 48.4px,#d0740f 0 49.9px,#fedcae 0 51.3px,#eb9733 0 52.8px,#e3871c 0 54.3px,#7f3b08 0 55.8px,#d27510 0 57.2px,#dd7f13 0 58.7px,#e2861a 0 60.2px,#b05606 0 61.6px,#e78e26 0 63.1px,#e48a1f 0 64.6px,#ef9e3e 0 66.0px,#d57811 0 67.5px,#d1740f 0 69.0px,#fdc783 0 70.4px,#fdbf72 0 71.9px,#fbb45d 0 73.4px,#944707 0 74.8px,#fbb55f 0 76.3px,#da7c12 0 77.8px,#f6ab51 0 79.2px,#f9b159 0 80.7px,#c86c0d 0 82.2px,#f4a74a 0 83.6px,#e58b22 0 85.1px,#e08214 0 86.6px,#e78f27 0 88.0px,#d77911 0 89.5px,#fcb65f 0 91.0px,#be630a 0 92.4px,#faeddb 0 93.9px,#fdbb69 0 95.4px,#ee9c3b 0 96.8px,#b65b07 0 98.3px,#a44f07 0 99.8px,#af5606 0 101.2px,#e58b21 0 102.7px,#fdb965 0 104.2px,#f3a547 0 105.6px,#da7d12 0 107.1px,#dc7f13 0 108.6px,#7f3b08 0 110.0px,#bc6009 0 111.5px)"></div><div class="h" style="left:365px;top:279.05px;width:111.5px;height:5.19px;background:linear-gradient(90deg,#e08214 0 1.5px,#984907 0 2.9px,#d77a11 0 4.4px,#af5606 0 5.9px,#e18416 0 7.3px,#c6690c 0 8.8px,#7f3b08 0 10.3px,#8d4307 0 11.7px,#cb6e0d 0 13.2px,#ce710e 0 14.7px,#a24e07 0 16.1px,#b35806 0 17.6px,#c0640a 0 19.1px,#e18417 0 20.5px,#d37610 0 22.0px,#7f3b08 0 23.5px,#ab5406 0 24.9px,#884008 0 26.4px,#964807 0 27.9px,#cf720f 0 29.3px,#c1650a 0 30.8px,#b75c07 0 32.3px,#a34f07 0 33.7px,#ef9d3c 0 35.2px,#af5606 0 36.7px,#b45906 0 38.1px,#ad5506 0 39.6px,#a45007 0 41.1px,#a55007 0 42.5px,#a24f07 0 44.0px,#7f3b08 0 45.5px,#863f08 0 46.9px,#7f3b08 0 49.9px,#b35806 0 51.3px,#904507 0 52.8px,#954707 0 54.3px,#d97b12 0 55.8px,#d67911 0 57.2px,#7f3b08 0 58.7px,#e8922b 0 60.2px,#fdc57e 0 61.6px,#dd7f13 0 63.1px,#f3a649 0 64.6px,#aa5306 0 66.0px,#f1a142 0 67.5px,#f6ab50 0 69.0px,#7f3b08 0 70.4px,#c0640a 0 71.9px,#fdc175 0 73.4px,#c2660b 0 74.8px,#7f3b08 0 76.3px,#d1740f 0 77.8px,#e68e25 0 79.2px,#db7d12 0 80.7px,#eb9732 0 82.2px,#fdc073 0 83.6px,#eb9732 0 85.1px,#fed59f 0 86.6px,#de8013 0 88.0px,#ec9936 0 89.5px,#d87b12 0 91.0px,#ba5e08 0 92.4px,#eb9631 0 93.9px,#e18417 0 95.4px,#7f3b08 0 96.8px,#f9efe1 0 98.3px,#e8912a 0 99.8px,#fdc073 0 101.2px,#ea9631 0 102.7px,#f1a142 0 104.2px,#f1a242 0 105.6px,#fdc57e 0 107.1px,#fbb55f 0 108.6px,#c86b0c 0 110.0px,#f1a243 0 111.5px)"></div><div class="h" style="left:365px;top:284.22px;width:111.5px;height:5.19px;background:linear-gradient(90deg,#e48a1f 0 1.5px,#8d4307 0 2.9px,#be6209 0 4.4px,#be630a 0 5.9px,#b35806 0 7.3px,#a24e07 0 8.8px,#954707 0 10.3px,#843e08 0 11.7px,#8c4207 0 13.2px,#7f3b08 0 14.7px,#f6ac51 0 16.1px,#ce710e 0 17.6px,#9f4d07 0 19.1px,#843e08 0 20.5px,#c4680b 0 22.0px,#a45007 0 23.5px,#884008 0 24.9px,#9c4b07 0 26.4px,#d0730f 0 27.9px,#c3670b 0 29.3px,#e58b22 0 30.8px,#9a4a07 0 32.3px,#944707 0 33.7px,#9d4b07 0 35.2px,#7f3b08 0 36.7px,#9c4b07 0 39.6px,#ea9530 0 41.1px,#ab5406 0 42.5px,#bd6109 0 44.0px,#7f3b08 0 45.5px,#c1650a 0 46.9px,#7f3b08 0 48.4px,#8f4407 0 51.3px,#fdbf72 0 52.8px,#fecd8f 0 54.3px,#c3670b 0 55.8px,#be6209 0 57.2px,#ca6e0d 0 58.7px,#bb6009 0 60.2px,#7f3b08 0 61.6px,#9f4d07 0 63.1px,#fce8cd 0 64.6px,#a55007 0 66.0px,#e28619 0 67.5px,#dd7f13 0 69.0px,#8a4108 0 70.4px,#fbb55e 0 71.9px,#fbebd6 0 73.4px,#e2861a 0 74.8px,#ea952f 0 76.3px,#f4a74a 0 77.8px,#fdba68 0 79.2px,#7f3b08 0 80.7px,#fdc47c 0 82.2px,#f1a141 0 83.6px,#e8912a 0 85.1px,#ea942f 0 86.6px,#db7d12 0 88.0px,#ec9834 0 89.5px,#ad5506 0 91.0px,#c1650a 0 92.4px,#e89029 0 93.9px,#d37610 0 95.4px,#fecc8d 0 96.8px,#fecf93 0 98.3px,#df8114 0 99.8px,#fdbd6e 0 101.2px,#d0730f 0 102.7px,#b85d08 0 104.2px,#e2861a 0 105.6px,#cd700e 0 107.1px,#f5a94d 0 108.6px,#dc7e13 0 110.0px,#d37610 0 111.5px)"></div><div class="h" style="left:365px;top:289.40px;width:111.5px;height:5.19px;background:linear-gradient(90deg,#d27510 0 1.5px,#c96d0d 0 2.9px,#bc6109 0 4.4px,#b45906 0 5.9px,#e18316 0 7.3px,#7f3b08 0 10.3px,#934607 0 11.7px,#b75c07 0 13.2px,#7f3b08 0 16.1px,#d1740f 0 17.6px,#8d4307 0 19.1px,#cc700e 0 20.5px,#a65107 0 22.0px,#7f3b08 0 23.5px,#ce710e 0 24.9px,#7f3b08 0 26.4px,#b65b07 0 27.9px,#924607 0 29.3px,#a34f07 0 30.8px,#803b08 0 32.3px,#9b4b07 0 33.7px,#d37610 0 35.2px,#c76a0c 0 36.7px,#e58b21 0 38.1px,#974907 0 39.6px,#a04e07 0 41.1px,#9e4c07 0 42.5px,#7f3b08 0 44.0px,#f5a94c 0 45.5px,#d57811 0 46.9px,#9f4d07 0 48.4px,#a85206 0 49.9px,#de8013 0 51.3px,#e08214 0 52.8px,#f4a749 0 54.3px,#884008 0 55.8px,#e4891e 0 57.2px,#d87a11 0 58.7px,#a24f07 0 60.2px,#f1a243 0 61.6px,#b35806 0 63.1px,#fedfb5 0 64.6px,#e18316 0 66.0px,#c86c0d 0 67.5px,#cf720f 0 69.0px,#c3670b 0 70.4px,#e3881c 0 71.9px,#b85d08 0 73.4px,#e8912a 0 74.8px,#ca6d0d 0 76.3px,#a14e07 0 77.8px,#f5a94d 0 79.2px,#843e08 0 80.7px,#fdc176 0 82.2px,#e9932d 0 83.6px,#e2861a 0 85.1px,#ba5e08 0 86.6px,#c3670b 0 88.0px,#f1a141 0 89.5px,#ef9d3c 0 91.0px,#c66a0c 0 92.4px,#ee9c3a 0 93.9px,#f6ac51 0 95.4px,#c96c0d 0 96.8px,#fdb863 0 98.3px,#cc6f0e 0 99.8px,#fce5c4 0 101.2px,#e4891e 0 102.7px,#ea942f 0 104.2px,#e4891e 0 105.6px,#974807 0 107.1px,#ae5506 0 108.6px,#a04d07 0 110.0px,#f3a548 0 111.5px)"></div><div class="h" style="left:365px;top:294.57px;width:111.5px;height:5.19px;background:linear-gradient(90deg,#e58b21 0 1.5px,#a24f07 0 2.9px,#7f3b08 0 5.9px,#a95206 0 7.3px,#d57811 0 8.8px,#d0730f 0 10.3px,#bf630a 0 11.7px,#7f3b08 0 13.2px,#944707 0 14.7px,#7f3b08 0 16.1px,#a24f07 0 17.6px,#d47710 0 19.1px,#db7d12 0 20.5px,#7f3b08 0 23.5px,#c1650a 0 24.9px,#7f3b08 0 26.4px,#c6690c 0 27.9px,#863f08 0 29.3px,#b15706 0 30.8px,#bd6109 0 32.3px,#944707 0 33.7px,#7f3b08 0 35.2px,#853f08 0 36.7px,#da7c12 0 38.1px,#7f3b08 0 41.1px,#a34f07 0 42.5px,#a75206 0 44.0px,#803c08 0 45.5px,#b55a07 0 46.9px,#853e08 0 48.4px,#d67911 0 49.9px,#b65b07 0 51.3px,#ca6d0d 0 52.8px,#e4891f 0 54.3px,#c76b0c 0 55.8px,#f8ae55 0 57.2px,#b05706 0 58.7px,#b65b07 0 60.2px,#fdc680 0 61.6px,#7f3b08 0 63.1px,#c1650a 0 64.6px,#f3a547 0 66.0px,#964807 0 67.5px,#fed196 0 69.0px,#c0640a 0 70.4px,#fbb45d 0 71.9px,#f4a649 0 73.4px,#894108 0 74.8px,#e8922b 0 76.3px,#fce8cc 0 77.8px,#d47710 0 79.2px,#c4670b 0 80.7px,#a65106 0 82.2px,#fdca89 0 83.6px,#dd7f13 0 85.1px,#a75106 0 86.6px,#df8114 0 88.0px,#e79028 0 89.5px,#d0730f 0 91.0px,#fed7a3 0 92.4px,#7f3b08 0 93.9px,#dc7f13 0 95.4px,#e4891e 0 96.8px,#da7d12 0 98.3px,#e58b21 0 99.8px,#fdcb8b 0 101.2px,#ce710e 0 102.7px,#fdbe6f 0 104.2px,#fdca88 0 105.6px,#984907 0 107.1px,#de8114 0 108.6px,#ee9b39 0 110.0px,#fce7ca 0 111.5px)"></div><div class="h" style="left:365px;top:299.74px;width:111.5px;height:5.19px;background:linear-gradient(90deg,#f3a547 0 1.5px,#7f3b08 0 2.9px,#d67911 0 4.4px,#7f3b08 0 5.9px,#c0640a 0 7.3px,#d27510 0 8.8px,#934607 0 10.3px,#b05706 0 11.7px,#934607 0 13.2px,#7f3b08 0 14.7px,#a55007 0 16.1px,#d1740f 0 17.6px,#7f3b08 0 19.1px,#cc6f0e 0 20.5px,#aa5306 0 22.0px,#7f3b08 0 23.5px,#b95d08 0 24.9px,#c66a0c 0 26.4px,#af5606 0 27.9px,#f4a74b 0 29.3px,#c86c0d 0 30.8px,#ac5406 0 32.3px,#833d08 0 33.7px,#cd710e 0 35.2px,#bc6009 0 36.7px,#df8114 0 38.1px,#8c4208 0 39.6px,#964807 0 41.1px,#a04d07 0 42.5px,#df8114 0 44.0px,#ba5f08 0 45.5px,#af5606 0 46.9px,#7f3b08 0 49.9px,#d87b12 0 51.3px,#7f3b08 0 52.8px,#ef9d3c 0 54.3px,#ec9935 0 55.8px,#fdbd6d 0 57.2px,#bd6209 0 58.7px,#d1740f 0 60.2px,#964807 0 61.6px,#c5690c 0 63.1px,#f3a649 0 64.6px,#f3a648 0 66.0px,#e78f26 0 67.5px,#eb9631 0 69.0px,#c2660b 0 70.4px,#c4680b 0 71.9px,#f1a141 0 73.4px,#964807 0 74.8px,#b45906 0 76.3px,#e18518 0 77.8px,#9b4b07 0 79.2px,#d77911 0 80.7px,#de8013 0 82.2px,#7f3b08 0 83.6px,#f6ab4f 0 85.1px,#7f3b08 0 86.6px,#f1a141 0 88.0px,#bd6109 0 89.5px,#ca6d0d 0 91.0px,#ed9b38 0 92.4px,#e68d24 0 93.9px,#b25806 0 95.4px,#9e4d07 0 96.8px,#ee9b39 0 98.3px,#d1740f 0 101.2px,#c5690c 0 102.7px,#eb9733 0 104.2px,#d37610 0 105.6px,#9e4c07 0 107.1px,#e9932d 0 108.6px,#d57811 0 110.0px,#f1a142 0 111.5px)"></div><div class="h" style="left:365px;top:304.91px;width:111.5px;height:5.19px;background:linear-gradient(90deg,#cb6e0d 0 1.5px,#7f3b08 0 2.9px,#964807 0 4.4px,#c76b0c 0 5.9px,#984907 0 7.3px,#7f3b08 0 8.8px,#833d08 0 10.3px,#7f3b08 0 11.7px,#b15706 0 13.2px,#9e4c07 0 14.7px,#7f3b08 0 16.1px,#af5606 0 17.6px,#b45906 0 19.1px,#c6690c 0 20.5px,#b55a07 0 22.0px,#9d4c07 0 23.5px,#b85d08 0 24.9px,#b45906 0 26.4px,#904407 0 27.9px,#7f3b08 0 29.3px,#b45906 0 30.8px,#c2660b 0 32.3px,#873f08 0 33.7px,#df8114 0 35.2px,#be6209 0 36.7px,#e28619 0 38.1px,#b55906 0 39.6px,#a14e07 0 41.1px,#b45906 0 42.5px,#db7d12 0 44.0px,#b75b07 0 45.5px,#a14e07 0 46.9px,#994907 0 48.4px,#b75c07 0 49.9px,#ce710e 0 51.3px,#e78e26 0 52.8px,#f3a547 0 54.3px,#c66a0c 0 55.8px,#ce720f 0 57.2px,#a85206 0 58.7px,#fab25b 0 60.2px,#e68d24 0 61.6px,#ab5406 0 63.1px,#fdc67f 0 64.6px,#ca6e0d 0 66.0px,#bd6109 0 67.5px,#d97c12 0 69.0px,#e78f27 0 70.4px,#874008 0 71.9px,#b65b07 0 73.4px,#d97b12 0 74.8px,#ca6e0d 0 76.3px,#b95d08 0 77.8px,#bf630a 0 79.2px,#c96d0d 0 80.7px,#e9932c 0 82.2px,#ee9b39 0 83.6px,#ac5406 0 85.1px,#c86c0d 0 86.6px,#7f3b08 0 88.0px,#fdc781 0 89.5px,#fdbe6f 0 91.0px,#f8af56 0 92.4px,#e58b21 0 93.9px,#af5606 0 95.4px,#8d4307 0 96.8px,#fed59f 0 98.3px,#ea9530 0 99.8px,#dc7e13 0 101.2px,#fdb965 0 102.7px,#fdb864 0 104.2px,#f9b159 0 105.6px,#eb9631 0 107.1px,#ce710e 0 108.6px,#c6690c 0 110.0px,#e28519 0 111.5px)"></div><div class="h" style="left:365px;top:310.08px;width:111.5px;height:5.19px;background:linear-gradient(90deg,#c0640a 0 1.5px,#b55a07 0 2.9px,#9d4b07 0 4.4px,#ca6d0d 0 5.9px,#894008 0 7.3px,#8f4407 0 8.8px,#a24f07 0 10.3px,#9d4c07 0 11.7px,#7f3b08 0 13.2px,#a95206 0 14.7px,#c5690c 0 16.1px,#823d08 0 17.6px,#934607 0 19.1px,#964807 0 20.5px,#be6209 0 22.0px,#813c08 0 23.5px,#dc7e13 0 24.9px,#994a07 0 26.4px,#843e08 0 27.9px,#b55a07 0 29.3px,#d97b12 0 30.8px,#b55906 0 32.3px,#d57811 0 33.7px,#cd700e 0 35.2px,#863f08 0 36.7px,#bb5f08 0 38.1px,#9c4b07 0 39.6px,#b65b07 0 41.1px,#bc6109 0 42.5px,#c86b0c 0 44.0px,#8f4407 0 45.5px,#ca6e0d 0 46.9px,#c4680b 0 49.9px,#7f3b08 0 51.3px,#fed59f 0 52.8px,#fdbd6d 0 54.3px,#fdbe6f 0 55.8px,#f4a74a 0 57.2px,#a34f07 0 58.7px,#e4891e 0 60.2px,#a85206 0 61.6px,#c66a0c 0 63.1px,#e58c22 0 64.6px,#fecf93 0 66.0px,#894108 0 67.5px,#de8013 0 69.0px,#eb9632 0 70.4px,#cb6f0e 0 71.9px,#c1650a 0 73.4px,#9e4c07 0 74.8px,#cc6f0e 0 76.3px,#f7ad53 0 77.8px,#c96d0d 0 79.2px,#f0a040 0 80.7px,#d37610 0 82.2px,#a65106 0 83.6px,#b75c07 0 85.1px,#ee9c3a 0 86.6px,#984907 0 88.0px,#a65107 0 89.5px,#e9932e 0 91.0px,#e2871b 0 92.4px,#d27510 0 93.9px,#fdba67 0 95.4px,#f9b159 0 96.8px,#e68d25 0 98.3px,#fed094 0 99.8px,#fed9a8 0 101.2px,#e3871c 0 102.7px,#f5aa4e 0 104.2px,#e18416 0 105.6px,#e58c22 0 107.1px,#fab25b 0 108.6px,#f8ae54 0 110.0px,#f5aa4e 0 111.5px)"></div><div class="h" style="left:365px;top:315.26px;width:111.5px;height:5.19px;background:linear-gradient(90deg,#e78f27 0 1.5px,#7f3b08 0 2.9px,#c96c0d 0 4.4px,#ea9530 0 5.9px,#da7c12 0 7.3px,#924607 0 8.8px,#d37610 0 10.3px,#974807 0 11.7px,#a65106 0 13.2px,#a14e07 0 14.7px,#d57811 0 16.1px,#ed9a36 0 17.6px,#ba5e08 0 19.1px,#ec9834 0 20.5px,#9c4b07 0 22.0px,#7f3b08 0 23.5px,#b05606 0 24.9px,#924607 0 26.4px,#a45007 0 27.9px,#a95206 0 29.3px,#9f4d07 0 30.8px,#c86b0c 0 32.3px,#a85206 0 33.7px,#8b4208 0 35.2px,#a24f07 0 36.7px,#cf720f 0 38.1px,#a85206 0 39.6px,#c96d0d 0 41.1px,#ac5406 0 42.5px,#b15706 0 44.0px,#d57811 0 45.5px,#ac5406 0 46.9px,#7f3b08 0 48.4px,#d67911 0 49.9px,#f1a141 0 51.3px,#dd7f13 0 52.8px,#fdc074 0 54.3px,#e3881c 0 55.8px,#843e08 0 57.2px,#944707 0 58.7px,#d27510 0 60.2px,#c76b0c 0 61.6px,#a65106 0 63.1px,#994a07 0 64.6px,#dd8013 0 66.0px,#c96c0d 0 67.5px,#af5606 0 69.0px,#ae5506 0 70.4px,#bc6109 0 71.9px,#c96d0d 0 73.4px,#944707 0 74.8px,#d77a11 0 76.3px,#c96d0d 0 77.8px,#cb6f0e 0 79.2px,#ba5f08 0 80.7px,#924607 0 82.2px,#d27510 0 83.6px,#e89029 0 85.1px,#c86c0d 0 86.6px,#f4a84c 0 88.0px,#ba5f08 0 89.5px,#af5606 0 91.0px,#f3a547 0 92.4px,#fdc681 0 93.9px,#e4891e 0 95.4px,#f2a446 0 96.8px,#c0640a 0 98.3px,#fdbd6e 0 99.8px,#cf720f 0 101.2px,#e68d25 0 102.7px,#fdc074 0 104.2px,#e2871b 0 105.6px,#9d4c07 0 107.1px,#bf630a 0 108.6px,#df8114 0 110.0px,#f2a446 0 111.5px)"></div><div class="h" style="left:365px;top:320.43px;width:111.5px;height:5.19px;background:linear-gradient(90deg,#c76b0c 0 1.5px,#954707 0 2.9px,#924607 0 4.4px,#944707 0 5.9px,#b15706 0 7.3px,#c3670b 0 8.8px,#c1650a 0 10.3px,#bf630a 0 11.7px,#8e4307 0 13.2px,#b25806 0 14.7px,#7f3b08 0 16.1px,#cc700e 0 17.6px,#b65b07 0 19.1px,#8f4407 0 20.5px,#b85d08 0 22.0px,#7f3b08 0 23.5px,#a75106 0 24.9px,#aa5306 0 26.4px,#994a07 0 27.9px,#d1740f 0 29.3px,#d27510 0 30.8px,#ca6d0d 0 32.3px,#7f3b08 0 33.7px,#b25706 0 35.2px,#dd8013 0 36.7px,#d0730f 0 38.1px,#813c08 0 39.6px,#843e08 0 41.1px,#9c4b07 0 42.5px,#e18316 0 44.0px,#bf630a 0 45.5px,#f2a446 0 46.9px,#853e08 0 48.4px,#cd710e 0 49.9px,#c0640a 0 51.3px,#faecd7 0 52.8px,#f3a547 0 54.3px,#fdbc6b 0 55.8px,#fedeb3 0 57.2px,#ef9d3c 0 58.7px,#fece90 0 60.2px,#af5606 0 61.6px,#e89029 0 63.1px,#fdc175 0 64.6px,#fcb55f 0 66.0px,#f8af56 0 67.5px,#ea9530 0 69.0px,#c2660b 0 70.4px,#f09f3f 0 71.9px,#f5a94d 0 73.4px,#a55007 0 74.8px,#e58b20 0 76.3px,#7f3b08 0 77.8px,#f2a446 0 79.2px,#a55007 0 80.7px,#f7ae54 0 82.2px,#e3881d 0 83.6px,#934607 0 85.1px,#7f3b08 0 86.6px,#ee9c3b 0 88.0px,#e2861a 0 89.5px,#873f08 0 91.0px,#cc700e 0 92.4px,#e3881d 0 93.9px,#dc7e13 0 95.4px,#8d4307 0 96.8px,#c0640a 0 98.3px,#b75c07 0 99.8px,#aa5306 0 101.2px,#cb6e0d 0 102.7px,#ef9d3c 0 104.2px,#fdbc6b 0 105.6px,#fed198 0 107.1px,#b15706 0 108.6px,#d77a11 0 110.0px,#d0730f 0 111.5px)"></div><div class="h" style="left:193px;top:387.00px;width:117.0px;height:4.95px;background:linear-gradient(90deg,#d47710 0 1.5px,#eb9733 0 2.9px,#eb9732 0 4.4px,#f8f2ea 0 5.8px,#fdc37a 0 7.3px,#fed8a5 0 8.8px,#f0f0f4 0 10.2px,#e79028 0 11.7px,#e3e4ef 0 13.2px,#a096c4 0 14.6px,#d7d9ea 0 16.1px,#fde4c2 0 17.5px,#fecd8e 0 19.0px,#dbddec 0 20.5px,#fbebd4 0 21.9px,#c1bddc 0 23.4px,#fbead1 0 24.9px,#d1d1e6 0 26.3px,#ecedf3 0 27.8px,#d7d9ea 0 29.2px,#b2acd2 0 30.7px,#f0f0f4 0 32.2px,#dddeed 0 33.6px,#cbcae2 0 35.1px,#cecee4 0 36.6px,#9d93c2 0 38.0px,#c3c0dd 0 39.5px,#b8b2d6 0 40.9px,#f8f4ef 0 42.4px,#fde3be 0 43.9px,#eaebf2 0 45.3px,#d0d0e5 0 46.8px,#cac9e2 0 48.3px,#dcdeed 0 49.7px,#e0e1ee 0 51.2px,#e7e8f1 0 52.6px,#cdcde4 0 54.1px,#c0bddb 0 55.6px,#c7c5e0 0 57.0px,#f1a243 0 58.5px,#eeeff3 0 60.0px,#f6ab50 0 61.4px,#e8e9f1 0 62.9px,#bab6d8 0 64.3px,#bbb6d8 0 65.8px,#bcb7d8 0 67.3px,#c0bddb 0 68.7px,#9186b9 0 70.2px,#dfe1ee 0 71.7px,#c5c3df 0 73.1px,#e4e5f0 0 74.6px,#c5c2de 0 76.0px,#9389bb 0 77.5px,#cecee5 0 79.0px,#b0a9d0 0 80.4px,#b3acd3 0 81.9px,#5c348e 0 83.4px,#b0a9d0 0 84.8px,#a198c5 0 86.3px,#c5c2de 0 87.8px,#cbcae3 0 89.2px,#bdb9d9 0 90.7px,#b8b2d6 0 92.1px,#ada5ce 0 93.6px,#c9c7e1 0 95.1px,#cac9e2 0 96.5px,#aba3cc 0 98.0px,#c3c0dd 0 99.4px,#aaa2cc 0 100.9px,#9d93c2 0 102.4px,#dcdeed 0 103.8px,#bfbbdb 0 105.3px,#c1bedc 0 106.8px,#988ebf 0 108.2px,#a89fca 0 109.7px,#a097c4 0 111.1px,#d8daeb 0 112.6px,#d0d0e6 0 114.1px,#d6d7e9 0 115.5px,#9e95c3 0 117.0px)"></div><div class="h" style="left:193px;top:391.93px;width:117.0px;height:4.95px;background:linear-gradient(90deg,#b05606 0 1.5px,#eb9732 0 2.9px,#d1740f 0 4.4px,#f3f3f5 0 5.8px,#fed196 0 7.3px,#fbb45d 0 8.8px,#fde4c2 0 10.2px,#fdb863 0 11.7px,#f8f3ec 0 13.2px,#dcdeec 0 14.6px,#f7f6f4 0 16.1px,#c4c1de 0 17.5px,#afa7cf 0 19.0px,#f8f4ee 0 20.5px,#bdb9d9 0 21.9px,#bfbbda 0 23.4px,#dfe1ee 0 24.9px,#fbead3 0 26.3px,#d2d3e7 0 27.8px,#fdc175 0 29.2px,#c8c7e1 0 30.7px,#d5d7e9 0 32.2px,#d4d6e9 0 33.6px,#b9b3d6 0 35.1px,#d5d7e9 0 36.6px,#ecedf3 0 38.0px,#f7f6f3 0 39.5px,#e1e3ef 0 40.9px,#e4e6f0 0 42.4px,#f0f1f4 0 43.9px,#eaebf2 0 45.3px,#dedfed 0 46.8px,#e1e3ef 0 48.3px,#cecee5 0 49.7px,#e2e3ef 0 51.2px,#d2d3e7 0 52.6px,#eeeef3 0 54.1px,#ebecf2 0 55.6px,#c0bddb 0 57.0px,#e4891f 0 58.5px,#f9f0e4 0 60.0px,#fdba68 0 61.4px,#f7f7f7 0 62.9px,#a79ec9 0 64.3px,#9d94c2 0 65.8px,#b5afd4 0 67.3px,#dee0ee 0 68.7px,#c5c2de 0 70.2px,#cccbe3 0 71.7px,#dee0ed 0 73.1px,#e3e4ef 0 74.6px,#c5c3df 0 76.0px,#9288ba 0 77.5px,#cfcfe5 0 79.0px,#e8e9f1 0 80.4px,#d4d5e8 0 81.9px,#a49bc7 0 83.4px,#cdcce4 0 84.8px,#b9b4d7 0 86.3px,#bfbbdb 0 87.8px,#a59dc8 0 89.2px,#cecde4 0 90.7px,#b9b4d7 0 92.1px,#beb9da 0 93.6px,#8a7fb4 0 95.1px,#9a90c0 0 96.5px,#a59dc8 0 98.0px,#d5d6e9 0 99.4px,#bdb8d9 0 100.9px,#9287ba 0 102.4px,#d3d4e8 0 103.8px,#b4aed4 0 105.3px,#a8a0cb 0 106.8px,#7f71ab 0 108.2px,#afa8d0 0 109.7px,#c2bfdd 0 111.1px,#aea6cf 0 112.6px,#c5c2de 0 114.1px,#a59dc8 0 115.5px,#bdb8d9 0 117.0px)"></div><div class="h" style="left:193px;top:396.87px;width:117.0px;height:4.95px;background:linear-gradient(90deg,#b55a07 0 1.5px,#fedcad 0 2.9px,#e89129 0 4.4px,#fdc783 0 5.8px,#fdc379 0 7.3px,#f8f4ee 0 8.8px,#fcb661 0 10.2px,#fcb761 0 11.7px,#e4e5f0 0 13.2px,#f1f1f5 0 14.6px,#b6afd4 0 16.1px,#d9dbec 0 17.5px,#c2bfdc 0 19.0px,#b4aed4 0 20.5px,#e9eaf2 0 21.9px,#e0e1ee 0 23.4px,#dadbec 0 24.9px,#dcddec 0 26.3px,#f4f4f6 0 27.8px,#f8f3ec 0 29.2px,#cac8e2 0 30.7px,#d4d5e9 0 32.2px,#eaebf2 0 33.6px,#e9eaf1 0 35.1px,#dee0ed 0 36.6px,#e8e9f1 0 38.0px,#d2d2e7 0 39.5px,#f7f6f5 0 40.9px,#cbcae3 0 42.4px,#f3f3f6 0 43.9px,#e9eaf2 0 45.3px,#c1bddc 0 46.8px,#c8c6e0 0 48.3px,#cecee5 0 49.7px,#f9efe1 0 51.2px,#cbcbe3 0 52.6px,#e8e9f1 0 54.1px,#ebebf2 0 55.6px,#efeff4 0 57.0px,#fed59f 0 58.5px,#f9f1e6 0 60.0px,#fee1ba 0 61.4px,#fab25b 0 62.9px,#c9c8e1 0 64.3px,#c6c3df 0 65.8px,#cac9e2 0 67.3px,#d7d9eb 0 68.7px,#8d82b6 0 70.2px,#978dbe 0 71.7px,#c8c6e0 0 73.1px,#c9c8e1 0 74.6px,#c0bcdb 0 76.0px,#a49cc8 0 77.5px,#dfe0ee 0 79.0px,#9186b9 0 80.4px,#d3d4e8 0 81.9px,#b5afd4 0 83.4px,#d9dbeb 0 84.8px,#bfbbdb 0 86.3px,#c3c0dd 0 87.8px,#a8a0ca 0 89.2px,#958abc 0 90.7px,#9a91c0 0 92.1px,#c1bddc 0 93.6px,#d3d4e8 0 95.1px,#b4add3 0 96.5px,#b8b3d6 0 98.0px,#d1d1e6 0 99.4px,#8579b0 0 100.9px,#a49bc7 0 102.4px,#c0bcdb 0 103.8px,#c4c1de 0 105.3px,#bbb6d8 0 106.8px,#9d94c2 0 108.2px,#c9c7e1 0 109.7px,#c4c1de 0 111.1px,#a096c4 0 112.6px,#dddeed 0 114.1px,#c2bedc 0 115.5px,#d9dbeb 0 117.0px)"></div><div class="h" style="left:193px;top:401.80px;width:117.0px;height:4.95px;background:linear-gradient(90deg,#e3871b 0 1.5px,#fdca89 0 2.9px,#f5aa4e 0 4.4px,#f9f0e3 0 5.8px,#fde5c4 0 8.8px,#fdb762 0 10.2px,#fce7ca 0 11.7px,#cccce3 0 13.2px,#c2bedc 0 14.6px,#f2f2f5 0 16.1px,#fed095 0 17.5px,#fed8a5 0 19.0px,#dfe1ee 0 20.5px,#cdcce4 0 21.9px,#cecee5 0 23.4px,#fde2bd 0 24.9px,#faeddb 0 26.3px,#f4f4f6 0 27.8px,#e4e6f0 0 29.2px,#eeeef3 0 30.7px,#f8f5f0 0 32.2px,#fde4c0 0 33.6px,#f8f3ec 0 35.1px,#f4f4f6 0 36.6px,#dcdeed 0 38.0px,#b5aed4 0 39.5px,#dddfed 0 40.9px,#fde4c0 0 42.4px,#faeddc 0 43.9px,#d8daeb 0 45.3px,#fce7c9 0 46.8px,#e7e8f1 0 48.3px,#c5c2de 0 49.7px,#faeede 0 51.2px,#9e94c2 0 52.6px,#fce7c9 0 54.1px,#bab4d7 0 55.6px,#e6e7f0 0 57.0px,#fed299 0 58.5px,#d5d7e9 0 60.0px,#d9dbec 0 61.4px,#fdcb8b 0 62.9px,#dee0ed 0 64.3px,#b1aad1 0 65.8px,#c1bedc 0 67.3px,#bdb8d9 0 68.7px,#9d93c2 0 70.2px,#c7c4e0 0 71.7px,#bdb8d9 0 73.1px,#b3acd2 0 74.6px,#eaebf2 0 76.0px,#9c93c2 0 77.5px,#e3e4ef 0 79.0px,#bebada 0 80.4px,#c7c5e0 0 81.9px,#b4aed4 0 83.4px,#ebecf2 0 84.8px,#9d94c2 0 86.3px,#c9c7e1 0 87.8px,#aea7cf 0 89.2px,#9990bf 0 90.7px,#c5c2de 0 92.1px,#d0d0e6 0 93.6px,#a39ac6 0 95.1px,#d0d1e6 0 96.5px,#a69dc9 0 98.0px,#cecee5 0 99.4px,#a097c4 0 100.9px,#9d93c2 0 102.4px,#8b7fb4 0 103.8px,#9e95c3 0 105.3px,#a39ac7 0 106.8px,#9a90c0 0 108.2px,#a198c5 0 109.7px,#aba4cd 0 111.1px,#9f96c4 0 112.6px,#b5afd4 0 114.1px,#b3acd3 0 115.5px,#b4aed3 0 117.0px)"></div><div class="h" style="left:193px;top:406.74px;width:117.0px;height:4.95px;background:linear-gradient(90deg,#ca6e0d 0 1.5px,#f4a84b 0 2.9px,#ea942f 0 4.4px,#ebecf2 0 5.8px,#fde2bb 0 7.3px,#f2a345 0 8.8px,#eaebf2 0 10.2px,#f7f7f7 0 11.7px,#d4d5e8 0 13.2px,#fbead3 0 14.6px,#b6b0d5 0 16.1px,#feddb0 0 17.5px,#c4c2de 0 19.0px,#bebada 0 20.5px,#d2d3e7 0 21.9px,#fde4c2 0 23.4px,#dddeed 0 24.9px,#edeef3 0 26.3px,#bebada 0 27.8px,#bdb9d9 0 29.2px,#c7c5e0 0 30.7px,#d9dbeb 0 32.2px,#dadcec 0 33.6px,#e0e2ee 0 35.1px,#dadcec 0 36.6px,#c3c0dd 0 38.0px,#8477af 0 39.5px,#aea6cf 0 40.9px,#f7f6f4 0 42.4px,#fedfb3 0 43.9px,#f9f0e3 0 45.3px,#e9eaf2 0 46.8px,#f1f1f5 0 48.3px,#e6e7f0 0 49.7px,#fed7a4 0 51.2px,#d8daeb 0 52.6px,#f9f0e2 0 54.1px,#ededf3 0 55.6px,#c2bedc 0 57.0px,#f9f1e7 0 58.5px,#fed49d 0 60.0px,#fce6c7 0 61.4px,#f9f2e8 0 62.9px,#c2bedc 0 64.3px,#dddfed 0 65.8px,#bcb7d8 0 67.3px,#d4d5e8 0 68.7px,#b8b2d6 0 70.2px,#c8c6e0 0 71.7px,#c2bfdd 0 73.1px,#c4c2de 0 74.6px,#ecedf3 0 76.0px,#9388ba 0 77.5px,#d3d4e8 0 79.0px,#c2bfdc 0 80.4px,#b8b2d6 0 81.9px,#6a4d9a 0 83.4px,#e5e6f0 0 84.8px,#cfcfe5 0 86.3px,#aaa2cc 0 87.8px,#c9c8e1 0 89.2px,#998fbf 0 90.7px,#c6c3df 0 92.1px,#cccce3 0 93.6px,#9f96c4 0 95.1px,#978dbd 0 96.5px,#9186b9 0 98.0px,#c4c1de 0 99.4px,#a69ec9 0 100.9px,#b6b0d5 0 102.4px,#bfbcdb 0 103.8px,#8d82b6 0 105.3px,#a8a0cb 0 106.8px,#a097c4 0 108.2px,#aba3cc 0 109.7px,#a198c5 0 111.1px,#978cbd 0 112.6px,#bbb6d8 0 114.1px,#b9b4d7 0 115.5px,#b7b2d5 0 117.0px)"></div><div class="h" style="left:193px;top:411.67px;width:117.0px;height:4.95px;background:linear-gradient(90deg,#f2a345 0 1.5px,#fdbf71 0 2.9px,#fdc57e 0 4.4px,#f6ac51 0 5.8px,#f9f2e8 0 7.3px,#ef9e3d 0 8.8px,#fdcc8c 0 10.2px,#fdc986 0 11.7px,#dfe0ee 0 13.2px,#cecde4 0 14.6px,#fbead3 0 16.1px,#fce8cc 0 17.5px,#fed49d 0 19.0px,#eeeef3 0 20.5px,#f6f6f7 0 21.9px,#f4f4f6 0 23.4px,#f7f6f4 0 24.9px,#cfcfe5 0 26.3px,#dbddec 0 27.8px,#f6f6f7 0 29.2px,#f4f4f6 0 30.7px,#e4e5f0 0 32.2px,#e9eaf1 0 33.6px,#d2d2e7 0 35.1px,#dee0ed 0 36.6px,#f0f0f4 0 38.0px,#cecde4 0 39.5px,#cdcde4 0 40.9px,#e7e8f1 0 42.4px,#eaebf2 0 43.9px,#bbb6d8 0 45.3px,#f9f2e8 0 46.8px,#fce6c6 0 48.3px,#f1f2f5 0 49.7px,#bebada 0 51.2px,#e3e4ef 0 52.6px,#d4d5e8 0 54.1px,#f4f4f6 0 55.6px,#e4e5f0 0 57.0px,#c2bfdc 0 58.5px,#f8f4ef 0 60.0px,#f9f0e4 0 61.4px,#fde2bc 0 62.9px,#cfcfe5 0 64.3px,#dfe0ee 0 65.8px,#bab5d7 0 67.3px,#9287b9 0 68.7px,#9c92c1 0 70.2px,#cdcce4 0 71.7px,#a69ec9 0 73.1px,#d5d6e9 0 74.6px,#aaa2cc 0 76.0px,#9e94c3 0 77.5px,#e0e1ee 0 79.0px,#a79ec9 0 80.4px,#afa7d0 0 81.9px,#aba3cd 0 83.4px,#c5c3df 0 84.8px,#8b80b5 0 86.3px,#978dbe 0 87.8px,#cbc9e2 0 89.2px,#f2f2f5 0 90.7px,#735da2 0 92.1px,#c7c5e0 0 93.6px,#c0bcdb 0 95.1px,#a59dc8 0 96.5px,#aba3cd 0 98.0px,#b7b1d5 0 99.4px,#c2bfdd 0 100.9px,#b0a9d1 0 102.4px,#d7d9ea 0 103.8px,#8679b0 0 105.3px,#c0bddb 0 106.8px,#8073ac 0 108.2px,#8b7fb4 0 109.7px,#d3d4e8 0 111.1px,#bdb9d9 0 112.6px,#a49cc8 0 114.1px,#b6b1d5 0 115.5px,#c2bfdc 0 117.0px)"></div><div class="h" style="left:193px;top:416.60px;width:117.0px;height:4.95px;background:linear-gradient(90deg,#d47710 0 1.5px,#fed49d 0 2.9px,#d97c12 0 4.4px,#fde4c1 0 5.8px,#faeddb 0 7.3px,#fde3bf 0 8.8px,#f9f0e4 0 10.2px,#fbb55e 0 11.7px,#cccbe3 0 13.2px,#fce5c4 0 14.6px,#b3acd2 0 16.1px,#d9dbec 0 17.5px,#fed9a7 0 19.0px,#eaebf2 0 20.5px,#cdcde4 0 21.9px,#e0e1ee 0 23.4px,#e1e2ee 0 24.9px,#f9f1e7 0 26.3px,#fee1b8 0 27.8px,#c1bedc 0 29.2px,#bcb7d9 0 30.7px,#cfcfe5 0 32.2px,#f2f3f5 0 33.6px,#c5c3df 0 35.1px,#d9daeb 0 36.6px,#f7f6f4 0 38.0px,#cbcae3 0 39.5px,#f5f5f6 0 40.9px,#ecedf3 0 42.4px,#e0e2ee 0 43.9px,#bdb8d9 0 45.3px,#f9f0e3 0 46.8px,#dddfed 0 48.3px,#faecd9 0 49.7px,#dfe1ee 0 51.2px,#eaebf2 0 52.6px,#dbddec 0 54.1px,#bebada 0 55.6px,#e3e5ef 0 57.0px,#fece90 0 58.5px,#fde5c3 0 60.0px,#fed095 0 61.4px,#fce6c8 0 62.9px,#c9c7e1 0 64.3px,#ecedf3 0 65.8px,#9489bb 0 67.3px,#a79fca 0 68.7px,#bebada 0 70.2px,#b5afd4 0 71.7px,#897db3 0 73.1px,#e1e2ee 0 74.6px,#d5d6e9 0 76.0px,#ada5ce 0 77.5px,#c2bfdc 0 79.0px,#c0bcdb 0 80.4px,#dadcec 0 81.9px,#7c6ba8 0 83.4px,#d1d2e7 0 84.8px,#9388ba 0 86.3px,#7d6ea9 0 87.8px,#c8c7e1 0 89.2px,#c6c4df 0 90.7px,#9388ba 0 92.1px,#c4c1de 0 93.6px,#a8a0cb 0 95.1px,#b2abd2 0 96.5px,#512483 0 98.0px,#c0bcdb 0 99.4px,#988ebe 0 100.9px,#a69ec9 0 102.4px,#b2abd2 0 103.8px,#d8daeb 0 105.3px,#c1bddc 0 106.8px,#8a7fb4 0 108.2px,#cfcfe5 0 109.7px,#b7b1d5 0 111.1px,#bab5d7 0 112.6px,#c4c1de 0 114.1px,#71589f 0 115.5px,#ada6cf 0 117.0px)"></div><div class="h" style="left:193px;top:421.54px;width:117.0px;height:4.95px;background:linear-gradient(90deg,#c96c0d 0 1.5px,#ea952f 0 2.9px,#eb9733 0 4.4px,#fee0b6 0 5.8px,#fed9a8 0 7.3px,#fde3bf 0 8.8px,#aea7cf 0 10.2px,#ebecf2 0 11.7px,#aea6cf 0 13.2px,#e3e4ef 0 14.6px,#ecedf3 0 16.1px,#fde3bf 0 17.5px,#fdc37b 0 19.0px,#dfe1ee 0 20.5px,#e3e5ef 0 21.9px,#e7e8f1 0 23.4px,#e1e2ee 0 24.9px,#ebecf2 0 26.3px,#dfe0ee 0 27.8px,#f8f5f0 0 29.2px,#ada6cf 0 30.7px,#7f72ac 0 32.2px,#f6f6f7 0 33.6px,#fbead3 0 35.1px,#a69ec9 0 36.6px,#dbdcec 0 38.0px,#cecee5 0 39.5px,#dddfed 0 40.9px,#f8f4f0 0 42.4px,#fbebd6 0 43.9px,#d6d7ea 0 45.3px,#fedcad 0 46.8px,#faeddb 0 48.3px,#fbead3 0 49.7px,#e7e8f1 0 51.2px,#c1bddc 0 52.6px,#fbebd4 0 54.1px,#d6d8ea 0 55.6px,#fce7ca 0 57.0px,#fce6c6 0 58.5px,#e8e9f1 0 60.0px,#d0740f 0 61.4px,#fed8a4 0 62.9px,#d6d7e9 0 64.3px,#bfbbda 0 65.8px,#c0bddb 0 67.3px,#d6d7e9 0 68.7px,#b1aad1 0 70.2px,#b6b0d5 0 71.7px,#a59dc8 0 73.1px,#cccbe3 0 74.6px,#b3acd3 0 76.0px,#b0a8d0 0 77.5px,#c0bddb 0 79.0px,#cccbe3 0 80.4px,#9f95c3 0 81.9px,#5f3a91 0 83.4px,#d1d1e6 0 84.8px,#8477af 0 86.3px,#dddfed 0 87.8px,#c6c3df 0 89.2px,#725ba0 0 90.7px,#b0a9d1 0 92.1px,#b6b0d5 0 93.6px,#dbddec 0 95.1px,#b2abd2 0 96.5px,#b5aed4 0 98.0px,#b3acd3 0 99.4px,#b2abd2 0 100.9px,#623f93 0 102.4px,#d4d5e8 0 103.8px,#a9a1cb 0 105.3px,#e5e6f0 0 106.8px,#ada5ce 0 108.2px,#9084b8 0 109.7px,#bab5d8 0 111.1px,#d6d7e9 0 112.6px,#aba3cc 0 114.1px,#9d93c2 0 115.5px,#b5aed4 0 117.0px)"></div><div class="h" style="left:193px;top:426.47px;width:117.0px;height:4.95px;background:linear-gradient(90deg,#d87a11 0 1.5px,#d97b12 0 2.9px,#fed7a4 0 4.4px,#f0f1f4 0 5.8px,#e18315 0 7.3px,#d8daeb 0 8.8px,#fce7ca 0 10.2px,#f9f2e8 0 11.7px,#c3c1dd 0 13.2px,#e1e2ee 0 14.6px,#d9dbec 0 16.1px,#c7c5e0 0 17.5px,#e8e9f1 0 19.0px,#c7c5e0 0 20.5px,#d1d1e6 0 21.9px,#cecee4 0 23.4px,#dfe0ee 0 24.9px,#dfe1ee 0 26.3px,#cac9e2 0 27.8px,#d5d6e9 0 29.2px,#dddfed 0 30.7px,#faeedd 0 32.2px,#f6f6f7 0 33.6px,#d9dbeb 0 35.1px,#ebebf2 0 36.6px,#c0bddb 0 38.0px,#bdb9d9 0 39.5px,#b4add3 0 40.9px,#c4c2de 0 42.4px,#fce6c6 0 43.9px,#d9dbeb 0 45.3px,#f9f0e3 0 46.8px,#d4d5e8 0 48.3px,#dadcec 0 49.7px,#f9f0e4 0 51.2px,#d3d4e8 0 52.6px,#dddfed 0 54.1px,#d2d2e7 0 55.6px,#fed59f 0 57.0px,#fdba66 0 58.5px,#c2660b 0 60.0px,#fed9a8 0 61.4px,#fdbd6e 0 62.9px,#c3c0dd 0 64.3px,#d1d1e6 0 65.8px,#8d82b6 0 67.3px,#9d94c2 0 68.7px,#a39ac6 0 70.2px,#c5c2de 0 71.7px,#aaa2cc 0 73.1px,#b5afd4 0 74.6px,#c3c0dd 0 76.0px,#634194 0 77.5px,#cfcfe5 0 79.0px,#b4add3 0 80.4px,#b1aad2 0 81.9px,#8679b0 0 83.4px,#9a90c0 0 84.8px,#7966a6 0 86.3px,#c9c7e1 0 87.8px,#b9b3d6 0 89.2px,#532686 0 90.7px,#b0a9d1 0 92.1px,#cfcfe5 0 93.6px,#9b92c1 0 95.1px,#8275ad 0 96.5px,#7967a6 0 98.0px,#cac9e2 0 99.4px,#b9b4d7 0 100.9px,#9e95c3 0 102.4px,#c8c6e0 0 103.8px,#7159a0 0 105.3px,#725aa0 0 106.8px,#afa8d0 0 108.2px,#a299c6 0 109.7px,#bbb6d8 0 111.1px,#8477af 0 112.6px,#988ebe 0 114.1px,#aea7cf 0 115.5px,#9b91c0 0 117.0px)"></div><div class="h" style="left:193px;top:431.41px;width:117.0px;height:4.95px;background:linear-gradient(90deg,#cc700e 0 1.5px,#f1a141 0 2.9px,#fdbe70 0 4.4px,#eb9732 0 5.8px,#e0e2ee 0 7.3px,#e3e5ef 0 8.8px,#fce5c4 0 10.2px,#f9efe1 0 11.7px,#bab5d7 0 13.2px,#c8c7e1 0 14.6px,#c7c4e0 0 16.1px,#dfe0ee 0 17.5px,#c8c7e1 0 19.0px,#d1d1e6 0 20.5px,#e1e2ef 0 21.9px,#d2d3e7 0 23.4px,#f3f4f6 0 24.9px,#ecedf3 0 26.3px,#f5f5f6 0 27.8px,#f4f5f6 0 29.2px,#efeff4 0 30.7px,#c7c5e0 0 32.2px,#dee0ed 0 33.6px,#e2e3ef 0 35.1px,#f5f5f6 0 36.6px,#d3d4e8 0 38.0px,#d7d9ea 0 39.5px,#eeeff4 0 40.9px,#faeddb 0 42.4px,#a39bc7 0 43.9px,#e1e2ee 0 45.3px,#f9f1e5 0 46.8px,#cfcfe5 0 48.3px,#b7b1d5 0 49.7px,#fedfb5 0 51.2px,#dbddec 0 52.6px,#f7f6f5 0 54.1px,#eff0f4 0 55.6px,#d0d1e6 0 57.0px,#d77911 0 58.5px,#ef9e3e 0 60.0px,#f8f3ec 0 61.4px,#fed29a 0 62.9px,#c4c1de 0 64.3px,#715aa0 0 65.8px,#a9a0cb 0 67.3px,#afa8d0 0 68.7px,#b0a9d0 0 70.2px,#8a7fb4 0 71.7px,#b0a9d0 0 73.1px,#b4add3 0 74.6px,#d7d9ea 0 76.0px,#b3acd3 0 77.5px,#bdb9da 0 79.0px,#a79fca 0 80.4px,#7662a4 0 81.9px,#aaa2cc 0 83.4px,#c7c5e0 0 84.8px,#725ca1 0 86.3px,#9287b9 0 87.8px,#bab5d8 0 89.2px,#7b6aa8 0 90.7px,#897db3 0 92.1px,#958bbc 0 93.6px,#988ebe 0 95.1px,#7c6da9 0 96.5px,#968cbd 0 98.0px,#c8c6e0 0 99.4px,#694c9a 0 100.9px,#877bb1 0 102.4px,#9e94c3 0 103.8px,#7865a5 0 105.3px,#a299c6 0 106.8px,#7d6da9 0 108.2px,#dedfed 0 109.7px,#b7b1d5 0 111.1px,#8a7eb3 0 112.6px,#c0bddb 0 114.1px,#b0a9d0 0 115.5px,#a8a0cb 0 117.0px)"></div><div class="h" style="left:193px;top:436.34px;width:117.0px;height:4.95px;background:linear-gradient(90deg,#be6209 0 1.5px,#fed29a 0 2.9px,#f4a74b 0 4.4px,#fce7cb 0 5.8px,#f1f1f5 0 7.3px,#fed6a2 0 8.8px,#fee1ba 0 10.2px,#faedda 0 11.7px,#cbcae2 0 13.2px,#afa8d0 0 14.6px,#bebada 0 16.1px,#8073ac 0 17.5px,#c7c5e0 0 19.0px,#e7e8f1 0 20.5px,#d8daeb 0 21.9px,#c0bcdb 0 23.4px,#e3e5ef 0 24.9px,#f3f3f5 0 26.3px,#f8f3ec 0 27.8px,#dbddec 0 29.2px,#f8f4ef 0 30.7px,#dcdeec 0 32.2px,#d9dbeb 0 33.6px,#c6c4df 0 35.1px,#c9c8e1 0 36.6px,#d1d1e6 0 38.0px,#cecde4 0 39.5px,#f8f5f2 0 40.9px,#dfe0ee 0 42.4px,#f9f1e5 0 43.9px,#dee0ed 0 45.3px,#fed7a2 0 46.8px,#bdb8d9 0 48.3px,#d1d1e6 0 49.7px,#dcdeed 0 51.2px,#b4add3 0 52.6px,#cdcce4 0 54.1px,#cfcfe5 0 55.6px,#d1d1e6 0 57.0px,#fdbe6f 0 58.5px,#f9f1e6 0 60.0px,#fed49d 0 61.4px,#da7c12 0 62.9px,#9489bb 0 64.3px,#8275ad 0 65.8px,#a59dc8 0 67.3px,#b3acd3 0 68.7px,#613d93 0 70.2px,#a39ac6 0 71.7px,#b3acd3 0 73.1px,#b7b1d5 0 74.6px,#cecee4 0 76.0px,#613e93 0 77.5px,#bcb7d8 0 79.0px,#cbcae3 0 80.4px,#5d3790 0 81.9px,#5c368f 0 83.4px,#9b91c1 0 84.8px,#bfbbdb 0 86.3px,#8579b0 0 87.8px,#cecde4 0 89.2px,#9c92c1 0 90.7px,#a59cc8 0 92.1px,#9e95c3 0 93.6px,#d5d6e9 0 95.1px,#8b80b5 0 96.5px,#968bbc 0 98.0px,#b2abd2 0 99.4px,#9a90c0 0 100.9px,#8d81b6 0 102.4px,#bab5d7 0 103.8px,#7662a4 0 105.3px,#cecee5 0 106.8px,#988dbe 0 108.2px,#a299c6 0 109.7px,#9f95c3 0 111.1px,#877bb1 0 112.6px,#a198c5 0 114.1px,#978cbd 0 115.5px,#8579b0 0 117.0px)"></div><div class="h" style="left:193px;top:441.27px;width:117.0px;height:4.95px;background:linear-gradient(90deg,#be6209 0 1.5px,#fce7cb 0 2.9px,#c4680b 0 4.4px,#fed197 0 5.8px,#fee0b7 0 7.3px,#fab35c 0 8.8px,#fee0b6 0 10.2px,#faeedf 0 11.7px,#d0d0e6 0 13.2px,#eaebf2 0 14.6px,#e8e9f1 0 16.1px,#e7e8f1 0 17.5px,#fbebd6 0 19.0px,#feddaf 0 20.5px,#8679b0 0 21.9px,#ecedf3 0 23.4px,#e2e4ef 0 24.9px,#cbcae3 0 26.3px,#fee1ba 0 27.8px,#d8daeb 0 29.2px,#b4add3 0 30.7px,#d0d0e6 0 32.2px,#dddfed 0 33.6px,#d2d2e7 0 35.1px,#998ebf 0 36.6px,#b1aad1 0 38.0px,#cbcae3 0 39.5px,#d7d9eb 0 40.9px,#d9dbeb 0 42.4px,#faeddb 0 43.9px,#e9eaf1 0 45.3px,#faeedd 0 46.8px,#fdbc6c 0 48.3px,#b3acd2 0 49.7px,#f7f7f7 0 51.2px,#e3e5ef 0 52.6px,#c1bedc 0 54.1px,#e7e8f1 0 55.6px,#a79fca 0 57.0px,#e9922c 0 58.5px,#fdc67f 0 60.0px,#dd7f13 0 61.4px,#fedaaa 0 62.9px,#b0a8d0 0 64.3px,#eff0f4 0 65.8px,#b9b3d6 0 67.3px,#aba4cd 0 68.7px,#998fbf 0 70.2px,#b4add3 0 71.7px,#b0a9d1 0 73.1px,#8376ae 0 74.6px,#cecde4 0 76.0px,#978dbe 0 77.5px,#bdb9d9 0 79.0px,#998fbf 0 81.9px,#684a99 0 83.4px,#bfbbdb 0 84.8px,#512484 0 86.3px,#c5c3df 0 87.8px,#b2abd2 0 89.2px,#b5afd4 0 90.7px,#958bbc 0 92.1px,#b8b3d6 0 93.6px,#d4d5e8 0 95.1px,#bfbbda 0 96.5px,#613e93 0 98.0px,#c5c2de 0 99.4px,#7560a3 0 100.9px,#9287b9 0 102.4px,#9389bb 0 103.8px,#c1bedc 0 105.3px,#c3c1dd 0 106.8px,#8d81b6 0 108.2px,#b0a9d1 0 109.7px,#a299c6 0 111.1px,#c7c5e0 0 112.6px,#c0bcdb 0 114.1px,#897db3 0 115.5px,#c1bddc 0 117.0px)"></div><div class="h" style="left:193px;top:446.21px;width:117.0px;height:4.95px;background:linear-gradient(90deg,#c86b0c 0 1.5px,#e28519 0 2.9px,#fdb965 0 4.4px,#fee0b7 0 5.8px,#de8013 0 7.3px,#f8f3ed 0 8.8px,#bcb7d8 0 10.2px,#f9f1e6 0 11.7px,#f7f6f3 0 13.2px,#c6c4df 0 14.6px,#f8f4ee 0 16.1px,#c3c1dd 0 17.5px,#d8daeb 0 19.0px,#ecedf3 0 20.5px,#d6d8ea 0 21.9px,#ededf3 0 23.4px,#dcddec 0 24.9px,#e6e7f0 0 26.3px,#e3e4ef 0 27.8px,#fbebd6 0 29.2px,#a89fca 0 30.7px,#cdcce3 0 32.2px,#e2e3ef 0 33.6px,#dee0ed 0 35.1px,#9b91c0 0 36.6px,#cecee5 0 38.0px,#aea6cf 0 39.5px,#f2f2f5 0 40.9px,#dddeed 0 42.4px,#eaebf2 0 43.9px,#faedda 0 45.3px,#e9eaf2 0 46.8px,#d9dbeb 0 48.3px,#ada6ce 0 49.7px,#f8f4ef 0 51.2px,#9186b9 0 52.6px,#fdc987 0 54.1px,#c8c6e0 0 55.6px,#bebada 0 57.0px,#f3a548 0 58.5px,#fcb661 0 60.0px,#ec9935 0 61.4px,#fecd8f 0 62.9px,#bdb9da 0 64.3px,#c8c6e0 0 65.8px,#7a69a7 0 67.3px,#c0bddb 0 68.7px,#a299c6 0 70.2px,#9e95c3 0 71.7px,#9388bb 0 73.1px,#6e539d 0 74.6px,#b6b0d5 0 76.0px,#9288ba 0 77.5px,#b5aed4 0 79.0px,#afa8d0 0 80.4px,#9c92c1 0 83.4px,#998fbf 0 84.8px,#ada6ce 0 86.3px,#9d93c2 0 87.8px,#b0a8d0 0 89.2px,#867ab1 0 90.7px,#9388ba 0 92.1px,#d0d0e6 0 93.6px,#a096c4 0 95.1px,#c1bddc 0 96.5px,#7967a6 0 98.0px,#b7b1d5 0 99.4px,#7662a4 0 100.9px,#b5aed4 0 102.4px,#c4c1de 0 103.8px,#8275ae 0 105.3px,#978cbd 0 106.8px,#a69ec9 0 108.2px,#b5aed4 0 109.7px,#8d81b6 0 111.1px,#7b6ba8 0 112.6px,#a39ac7 0 114.1px,#c7c6e0 0 115.5px,#aba3cd 0 117.0px)"></div><div class="h" style="left:193px;top:451.14px;width:117.0px;height:4.95px;background:linear-gradient(90deg,#a85206 0 1.5px,#fdc277 0 2.9px,#e68d25 0 4.4px,#fedbab 0 5.8px,#faeede 0 7.3px,#fee1ba 0 8.8px,#f1f2f5 0 10.2px,#fed7a4 0 11.7px,#d9dbeb 0 13.2px,#c5c2de 0 14.6px,#aba3cc 0 16.1px,#f8f3eb 0 17.5px,#fecf92 0 19.0px,#e0e2ee 0 20.5px,#f3f3f6 0 21.9px,#b5afd4 0 23.4px,#e5e6f0 0 24.9px,#b8b3d6 0 26.3px,#cfcfe5 0 27.8px,#d0d0e6 0 29.2px,#e9eaf2 0 30.7px,#d1d2e7 0 32.2px,#ada6ce 0 33.6px,#d6d8ea 0 35.1px,#dfe0ee 0 36.6px,#f1f1f5 0 38.0px,#eaebf2 0 39.5px,#fdc47b 0 40.9px,#cac9e2 0 42.4px,#eeeef3 0 43.9px,#cdcde4 0 45.3px,#f9f1e5 0 46.8px,#cccbe3 0 48.3px,#a9a1cb 0 49.7px,#f0f0f4 0 51.2px,#bcb7d8 0 52.6px,#e9eaf2 0 54.1px,#d2d2e7 0 55.6px,#dcdeed 0 57.0px,#fedbac 0 58.5px,#fdc883 0 60.0px,#b85d08 0 61.4px,#f2a344 0 62.9px,#9f96c4 0 64.3px,#7f71ab 0 65.8px,#bab5d7 0 67.3px,#c6c4df 0 68.7px,#a79fca 0 70.2px,#9b91c1 0 71.7px,#bab5d7 0 73.1px,#aea6cf 0 74.6px,#b2acd2 0 76.0px,#a39ac6 0 77.5px,#a198c5 0 79.0px,#d4d5e9 0 80.4px,#6e539d 0 81.9px,#a198c5 0 83.4px,#d5d6e9 0 84.8px,#aca5ce 0 86.3px,#cdcde4 0 87.8px,#bfbcdb 0 89.2px,#c3c0dd 0 90.7px,#bebada 0 92.1px,#b8b2d6 0 93.6px,#998fbf 0 95.1px,#b2abd2 0 96.5px,#8174ad 0 98.0px,#d8daeb 0 99.4px,#8478af 0 100.9px,#a097c4 0 102.4px,#c9c7e1 0 103.8px,#9b91c0 0 105.3px,#b0a8d0 0 106.8px,#a198c5 0 109.7px,#9489bb 0 111.1px,#cac8e1 0 112.6px,#b6b0d5 0 114.1px,#9085b8 0 115.5px,#b0a9d1 0 117.0px)"></div><div class="h" style="left:193px;top:456.08px;width:117.0px;height:4.95px;background:linear-gradient(90deg,#d37610 0 1.5px,#f8f4ef 0 2.9px,#c2660b 0 4.4px,#f8f4ee 0 5.8px,#fed6a2 0 7.3px,#e6e7f0 0 8.8px,#ecedf3 0 10.2px,#f9b159 0 11.7px,#fed29a 0 13.2px,#9e94c3 0 14.6px,#bebada 0 16.1px,#fedeb1 0 17.5px,#f8f2e9 0 19.0px,#e0e2ee 0 20.5px,#bdb9d9 0 21.9px,#d0d0e6 0 23.4px,#e6e7f0 0 24.9px,#e4e5f0 0 26.3px,#bfbcdb 0 27.8px,#bebada 0 29.2px,#e1e3ef 0 30.7px,#f7f6f3 0 32.2px,#cbcae2 0 33.6px,#8174ac 0 35.1px,#d9daeb 0 36.6px,#9b91c0 0 38.0px,#bfbbda 0 39.5px,#cbcae2 0 40.9px,#afa8d0 0 42.4px,#f9f1e7 0 43.9px,#fbead3 0 45.3px,#fee1ba 0 46.8px,#dbddec 0 48.3px,#c0bcdb 0 49.7px,#edeef3 0 51.2px,#e6e7f1 0 52.6px,#e5e6f0 0 54.1px,#f9efe1 0 55.6px,#e3e5ef 0 57.0px,#fed9a8 0 58.5px,#e78e26 0 60.0px,#b45906 0 61.4px,#f1a142 0 62.9px,#f3f4f6 0 64.3px,#c9c8e1 0 65.8px,#cecde4 0 67.3px,#e7e8f1 0 68.7px,#aaa2cc 0 70.2px,#c1bedc 0 71.7px,#d9dbec 0 73.1px,#d7d9eb 0 74.6px,#b0a9d1 0 76.0px,#9186b9 0 77.5px,#9389bb 0 79.0px,#897db3 0 80.4px,#bcb7d8 0 81.9px,#b4aed4 0 83.4px,#cbcae2 0 84.8px,#c5c2de 0 86.3px,#cbcae2 0 87.8px,#745fa2 0 89.2px,#cac9e2 0 90.7px,#dcdeec 0 92.1px,#dddfed 0 93.6px,#a9a0cb 0 95.1px,#bcb8d9 0 96.5px,#7d6ea9 0 98.0px,#f7f7f7 0 99.4px,#684a99 0 100.9px,#aca4ce 0 102.4px,#c9c8e1 0 103.8px,#a39bc7 0 105.3px,#c6c3df 0 106.8px,#b2abd2 0 109.7px,#dadcec 0 111.1px,#aba4cd 0 112.6px,#cecee5 0 114.1px,#cbc9e2 0 115.5px,#7d6ea9 0 117.0px)"></div><div class="h" style="left:193px;top:461.01px;width:117.0px;height:4.95px;background:linear-gradient(90deg,#b65b07 0 1.5px,#e9932c 0 2.9px,#cb6e0d 0 4.4px,#fde2bc 0 5.8px,#fdc782 0 7.3px,#fdbf72 0 8.8px,#fde3c0 0 10.2px,#b3acd3 0 11.7px,#d7d9eb 0 13.2px,#e3e4ef 0 14.6px,#bab5d7 0 16.1px,#fde2bb 0 17.5px,#efeff4 0 19.0px,#f5f5f6 0 20.5px,#e8e9f1 0 21.9px,#d0d0e6 0 23.4px,#e6e7f0 0 24.9px,#f6f6f7 0 26.3px,#f9f1e6 0 27.8px,#d1d1e6 0 29.2px,#f7f7f7 0 30.7px,#e3e4ef 0 32.2px,#dfe1ee 0 33.6px,#bcb7d8 0 35.1px,#e9eaf2 0 36.6px,#eaeaf2 0 38.0px,#bab5d7 0 39.5px,#dddeed 0 40.9px,#f9f0e4 0 42.4px,#cdcce4 0 43.9px,#dbdcec 0 45.3px,#fee1b9 0 46.8px,#cecee4 0 48.3px,#fce5c4 0 49.7px,#dbddec 0 51.2px,#dedfed 0 52.6px,#c2bfdc 0 54.1px,#d3d4e8 0 55.6px,#f8f3ea 0 57.0px,#ef9e3d 0 58.5px,#ed9936 0 60.0px,#ea942e 0 61.4px,#f8ae54 0 62.9px,#eaebf2 0 64.3px,#e0e2ee 0 65.8px,#c8c6e1 0 67.3px,#cbcae2 0 68.7px,#877bb1 0 70.2px,#7763a5 0 71.7px,#c6c4df 0 73.1px,#aea7cf 0 74.6px,#cdcde4 0 76.0px,#9186b9 0 77.5px,#9e94c3 0 79.0px,#b4aed3 0 80.4px,#aba3cc 0 81.9px,#9c92c1 0 83.4px,#dcddec 0 84.8px,#8174ad 0 86.3px,#c2bfdd 0 87.8px,#8579b0 0 89.2px,#dadcec 0 90.7px,#9d94c2 0 92.1px,#8d81b6 0 93.6px,#c7c5e0 0 95.1px,#a59dc8 0 96.5px,#6a4d9a 0 98.0px,#c5c3df 0 99.4px,#b9b4d7 0 100.9px,#b3add3 0 102.4px,#b3acd2 0 103.8px,#c2bedc 0 105.3px,#c6c3df 0 106.8px,#998fbf 0 108.2px,#d4d5e8 0 109.7px,#8072ac 0 111.1px,#c8c6e0 0 112.6px,#b8b3d6 0 114.1px,#b5aed4 0 115.5px,#9287ba 0 117.0px)"></div><div class="h" style="left:193px;top:465.94px;width:117.0px;height:4.95px;background:linear-gradient(90deg,#b95e08 0 1.5px,#faeede 0 2.9px,#fed9a7 0 4.4px,#eff0f4 0 5.8px,#f7ac52 0 7.3px,#f8af56 0 8.8px,#faecd9 0 10.2px,#faedda 0 11.7px,#dcdeec 0 13.2px,#d4d5e8 0 14.6px,#a198c5 0 16.1px,#f6f6f7 0 17.5px,#b4aed3 0 19.0px,#f7f6f3 0 20.5px,#d1d1e6 0 21.9px,#dbdcec 0 23.4px,#b4aed3 0 24.9px,#b9b3d6 0 26.3px,#dbddec 0 27.8px,#e4e5f0 0 29.2px,#dbddec 0 30.7px,#cecee4 0 32.2px,#cfcfe5 0 33.6px,#f8f5f1 0 35.1px,#d6d8ea 0 36.6px,#bab5d7 0 38.0px,#cac8e1 0 39.5px,#e2e4ef 0 40.9px,#c8c6e0 0 42.4px,#fce5c4 0 43.9px,#e2e4ef 0 45.3px,#f8f2e9 0 46.8px,#cecde4 0 48.3px,#fbe9d1 0 49.7px,#f9f0e4 0 51.2px,#cfcfe5 0 52.6px,#fee1ba 0 54.1px,#d5d7e9 0 55.6px,#b5aed4 0 57.0px,#cd700e 0 58.5px,#fdb863 0 60.0px,#da7d12 0 61.4px,#f5a94d 0 62.9px,#aca4cd 0 64.3px,#d2d3e7 0 65.8px,#bcb7d8 0 67.3px,#c0bddb 0 68.7px,#c1bddc 0 70.2px,#e5e7f0 0 71.7px,#d2d3e7 0 73.1px,#cbcae3 0 74.6px,#d9dbeb 0 76.0px,#9d93c2 0 77.5px,#a69dc9 0 79.0px,#afa8d0 0 80.4px,#8c80b5 0 81.9px,#7d6da9 0 83.4px,#d2d3e7 0 84.8px,#7967a6 0 86.3px,#c7c5e0 0 87.8px,#9186b9 0 89.2px,#c9c7e1 0 90.7px,#aca5ce 0 92.1px,#e8e9f1 0 93.6px,#aaa2cc 0 95.1px,#8a7eb4 0 96.5px,#bbb6d8 0 98.0px,#dee0ed 0 99.4px,#c4c1de 0 100.9px,#dbddec 0 102.4px,#aca5ce 0 103.8px,#dfe1ee 0 105.3px,#9c93c1 0 106.8px,#7560a3 0 108.2px,#dedfed 0 109.7px,#e3e4ef 0 111.1px,#a59cc8 0 112.6px,#b8b2d6 0 114.1px,#988ebe 0 115.5px,#c4c1de 0 117.0px)"></div><div class="h" style="left:193px;top:470.88px;width:117.0px;height:4.95px;background:linear-gradient(90deg,#b95e08 0 1.5px,#de8013 0 2.9px,#cf730f 0 4.4px,#f3f3f5 0 5.8px,#c76a0c 0 7.3px,#fdb964 0 8.8px,#fdba66 0 10.2px,#fedbac 0 11.7px,#dfe1ee 0 13.2px,#eeeff3 0 14.6px,#8376ae 0 16.1px,#b7b1d5 0 17.5px,#fed49d 0 19.0px,#dcdeed 0 20.5px,#a79fca 0 21.9px,#d6d8ea 0 23.4px,#dcddec 0 24.9px,#eaebf2 0 26.3px,#f7f6f3 0 27.8px,#e3e5ef 0 29.2px,#aba3cd 0 30.7px,#d9dbeb 0 32.2px,#d0d0e6 0 33.6px,#f4f5f6 0 35.1px,#e6e7f1 0 36.6px,#d4d5e8 0 38.0px,#cdcde4 0 39.5px,#d4d6e9 0 40.9px,#d2d3e7 0 42.4px,#f9efe1 0 43.9px,#c1bedc 0 45.3px,#c4c2de 0 46.8px,#f1f2f5 0 48.3px,#d9dbeb 0 49.7px,#cecde4 0 51.2px,#f5f5f6 0 52.6px,#fee2bb 0 54.1px,#d9dbeb 0 55.6px,#d4d5e8 0 57.0px,#d9dbeb 0 58.5px,#f8f3eb 0 60.0px,#fed6a1 0 61.4px,#eb9733 0 62.9px,#c2bedc 0 64.3px,#c3c0dd 0 65.8px,#b9b3d6 0 67.3px,#b1aad2 0 68.7px,#bcb7d9 0 70.2px,#9186b9 0 71.7px,#dcddec 0 73.1px,#aea7cf 0 74.6px,#b9b4d7 0 76.0px,#7968a7 0 77.5px,#aba3cd 0 79.0px,#b0a9d0 0 80.4px,#b6b0d5 0 81.9px,#6d529d 0 83.4px,#a79ec9 0 84.8px,#a69ec9 0 86.3px,#a39ac7 0 87.8px,#d7d9eb 0 89.2px,#b2abd2 0 90.7px,#e3e4ef 0 92.1px,#9c92c1 0 93.6px,#c7c5e0 0 95.1px,#9085b8 0 96.5px,#8a7fb4 0 98.0px,#dfe0ee 0 99.4px,#8275ad 0 100.9px,#70579f 0 102.4px,#d2d2e7 0 103.8px,#7159a0 0 105.3px,#afa8d0 0 106.8px,#bab5d7 0 108.2px,#bab4d7 0 109.7px,#aca5ce 0 111.1px,#a097c4 0 112.6px,#cdcce4 0 114.1px,#c1bddc 0 115.5px,#b2abd2 0 117.0px)"></div><div class="h" style="left:193px;top:475.81px;width:117.0px;height:4.95px;background:linear-gradient(90deg,#c86c0d 0 1.5px,#faeddc 0 2.9px,#fdb964 0 4.4px,#eaebf2 0 5.8px,#fdc379 0 8.8px,#fed7a2 0 10.2px,#fce5c5 0 11.7px,#c0bcdb 0 13.2px,#f8f4ef 0 14.6px,#bcb7d9 0 16.1px,#fedeb1 0 17.5px,#dadcec 0 19.0px,#a89fca 0 20.5px,#aca4cd 0 21.9px,#ada5ce 0 23.4px,#e7e8f1 0 24.9px,#d9dbeb 0 26.3px,#fde4c2 0 27.8px,#ecedf3 0 29.2px,#faecd7 0 30.7px,#cbcae3 0 32.2px,#d2d3e7 0 33.6px,#f8f4ee 0 35.1px,#bfbbda 0 36.6px,#f0f1f4 0 38.0px,#e7e8f1 0 39.5px,#ececf3 0 40.9px,#cac8e2 0 42.4px,#b7b2d6 0 43.9px,#bebada 0 45.3px,#f0f1f4 0 46.8px,#dadcec 0 48.3px,#b8b3d6 0 49.7px,#dddeed 0 51.2px,#dadcec 0 52.6px,#fed39a 0 54.1px,#c8c7e1 0 55.6px,#b9b3d6 0 57.0px,#eb9632 0 58.5px,#fdba67 0 60.0px,#ef9d3c 0 61.4px,#fece90 0 62.9px,#b4add3 0 64.3px,#c8c6e0 0 65.8px,#e1e3ef 0 67.3px,#a097c5 0 68.7px,#bcb7d9 0 70.2px,#d4d5e8 0 71.7px,#b6afd4 0 73.1px,#c1bddc 0 74.6px,#cac9e2 0 76.0px,#968bbc 0 77.5px,#f8f5f0 0 79.0px,#a198c5 0 80.4px,#c0bddb 0 81.9px,#8275ae 0 83.4px,#c9c8e1 0 84.8px,#b4add3 0 86.3px,#8f83b7 0 87.8px,#b3add3 0 89.2px,#9d93c2 0 90.7px,#978dbd 0 92.1px,#aba3cd 0 93.6px,#9388ba 0 95.1px,#9b91c0 0 96.5px,#b8b3d6 0 98.0px,#d7d8ea 0 99.4px,#725aa0 0 100.9px,#aca5ce 0 102.4px,#c4c1de 0 103.8px,#b0a9d1 0 105.3px,#9c92c1 0 106.8px,#b8b3d6 0 108.2px,#b4aed3 0 109.7px,#c3c1dd 0 111.1px,#cac8e1 0 112.6px,#9f96c4 0 114.1px,#c6c3df 0 115.5px,#bebada 0 117.0px)"></div><div class="h" style="left:193px;top:480.75px;width:117.0px;height:4.95px;background:linear-gradient(90deg,#ca6e0d 0 1.5px,#fdc781 0 2.9px,#f5a94d 0 4.4px,#efeff4 0 5.8px,#fdc986 0 7.3px,#d57710 0 8.8px,#e3e4ef 0 10.2px,#dbddec 0 11.7px,#e0e2ee 0 13.2px,#e2e3ef 0 14.6px,#cccbe3 0 16.1px,#fdc681 0 17.5px,#e5e6f0 0 19.0px,#eff0f4 0 20.5px,#dddfed 0 21.9px,#e0e2ee 0 23.4px,#faefdf 0 24.9px,#b1a9d1 0 26.3px,#cecee5 0 27.8px,#d6d8ea 0 29.2px,#bdb9da 0 30.7px,#c8c6e0 0 32.2px,#e9eaf2 0 33.6px,#e8e9f1 0 35.1px,#c6c4df 0 36.6px,#cac9e2 0 38.0px,#9388ba 0 39.5px,#f8f3ed 0 40.9px,#dbddec 0 42.4px,#dcdeed 0 43.9px,#bfbbdb 0 45.3px,#e9eaf2 0 46.8px,#dbddec 0 48.3px,#e1e3ef 0 49.7px,#fbe9cf 0 51.2px,#c4c2de 0 52.6px,#e3e4ef 0 54.1px,#dbddec 0 55.6px,#dcdeed 0 57.0px,#d1d1e6 0 58.5px,#e6e7f0 0 60.0px,#c1bddc 0 61.4px,#faeddb 0 62.9px,#ada5ce 0 64.3px,#c9c8e1 0 65.8px,#a299c6 0 67.3px,#e1e2ee 0 68.7px,#a8a0cb 0 70.2px,#aba4cd 0 71.7px,#afa7cf 0 73.1px,#dadcec 0 74.6px,#7c6ca9 0 76.0px,#897db3 0 77.5px,#d7d8ea 0 79.0px,#c1bedc 0 80.4px,#d3d4e8 0 81.9px,#6a4e9a 0 83.4px,#a79ec9 0 84.8px,#7560a3 0 86.3px,#d8daeb 0 87.8px,#e5e6f0 0 89.2px,#f0f0f4 0 90.7px,#d4d5e8 0 92.1px,#d0d1e6 0 93.6px,#d5d6e9 0 95.1px,#dcdeed 0 96.5px,#897db3 0 98.0px,#e1e2ee 0 99.4px,#958abc 0 100.9px,#7f70ab 0 102.4px,#d0d0e6 0 103.8px,#c0bcdb 0 105.3px,#9288ba 0 106.8px,#cbcae2 0 108.2px,#c0bcdb 0 109.7px,#d7d8ea 0 111.1px,#bebada 0 112.6px,#c9c7e1 0 114.1px,#b3acd3 0 115.5px,#cdcce4 0 117.0px)"></div><div class="h" style="left:193px;top:485.68px;width:117.0px;height:4.95px;background:linear-gradient(90deg,#db7e13 0 1.5px,#ea942f 0 2.9px,#e78f26 0 4.4px,#f3f3f5 0 5.8px,#fdc175 0 7.3px,#fdcb8a 0 8.8px,#faeede 0 10.2px,#fed9a7 0 11.7px,#edeef3 0 13.2px,#c3c0dd 0 14.6px,#dfe0ee 0 16.1px,#d1d1e6 0 17.5px,#fdc783 0 19.0px,#dadcec 0 20.5px,#d4d6e9 0 21.9px,#f7f6f4 0 23.4px,#eaebf2 0 24.9px,#e6e7f0 0 26.3px,#e8e9f1 0 27.8px,#e7e8f1 0 30.7px,#eaebf2 0 32.2px,#e3e4ef 0 33.6px,#d9dbec 0 35.1px,#ada6ce 0 36.6px,#bfbbda 0 38.0px,#8d82b6 0 39.5px,#d8daeb 0 40.9px,#fce7c9 0 42.4px,#f6f6f7 0 43.9px,#b1aad1 0 45.3px,#d6d7e9 0 46.8px,#cdcce4 0 48.3px,#fdbb69 0 49.7px,#f1f1f5 0 51.2px,#664696 0 52.6px,#d4d5e9 0 54.1px,#e7e8f1 0 55.6px,#9d93c2 0 57.0px,#fdbf72 0 58.5px,#c6c3df 0 60.0px,#fee0b6 0 61.4px,#e7e8f1 0 62.9px,#faeddb 0 64.3px,#dddfed 0 65.8px,#cac9e2 0 67.3px,#d7d9ea 0 68.7px,#bcb8d9 0 70.2px,#e4e5f0 0 71.7px,#b6b0d5 0 73.1px,#dadcec 0 74.6px,#d1d1e6 0 76.0px,#9d94c2 0 77.5px,#dadcec 0 79.0px,#eeeff4 0 80.4px,#d6d8ea 0 81.9px,#b0a8d0 0 83.4px,#e4e5f0 0 84.8px,#c1bddc 0 86.3px,#cac9e2 0 87.8px,#aba3cc 0 89.2px,#e2e3ef 0 90.7px,#dfe0ee 0 92.1px,#f8f4f0 0 93.6px,#8b7fb4 0 95.1px,#c8c6e0 0 96.5px,#cac9e2 0 98.0px,#c7c6e0 0 99.4px,#dee0ed 0 100.9px,#a69dc9 0 102.4px,#d9dbeb 0 103.8px,#b5aed4 0 105.3px,#d2d2e7 0 106.8px,#8478af 0 108.2px,#d9dbeb 0 109.7px,#cbcae2 0 111.1px,#e2e3ef 0 112.6px,#b4add3 0 114.1px,#e5e6f0 0 115.5px,#bdb9d9 0 117.0px)"></div><div class="h" style="left:193px;top:490.61px;width:117.0px;height:4.95px;background:linear-gradient(90deg,#cdcce4 0 1.5px,#eaebf2 0 2.9px,#e1e2ee 0 4.4px,#e5e6f0 0 5.8px,#bdb9d9 0 7.3px,#f9f0e3 0 8.8px,#d1d1e6 0 10.2px,#dedfed 0 11.7px,#bfbbdb 0 13.2px,#c4c2de 0 14.6px,#bbb7d8 0 16.1px,#f5f5f6 0 17.5px,#9389bb 0 19.0px,#8579b0 0 20.5px,#613d93 0 21.9px,#654496 0 23.4px,#7560a3 0 24.9px,#8a7fb4 0 26.3px,#b7b2d5 0 27.8px,#9f95c3 0 29.2px,#897db3 0 30.7px,#9186b9 0 32.2px,#735da1 0 33.6px,#5c358f 0 35.1px,#491c77 0 36.6px,#8e83b7 0 38.0px,#948abb 0 39.5px,#684998 0 40.9px,#725ba1 0 42.4px,#aca4ce 0 43.9px,#7c6da9 0 45.3px,#b1aad1 0 46.8px,#897db3 0 48.3px,#694c9a 0 49.7px,#9c92c1 0 51.2px,#9d93c2 0 52.6px,#6a4d9a 0 54.1px,#7866a6 0 55.6px,#7967a7 0 57.0px,#613d92 0 58.5px,#6d529c 0 60.0px,#8c81b5 0 61.4px,#9f95c3 0 62.9px,#7159a0 0 64.3px,#8072ac 0 65.8px,#3d1064 0 67.3px,#7d6ea9 0 68.7px,#491c78 0 70.2px,#7b6aa8 0 73.1px,#512484 0 74.6px,#42156c 0 76.0px,#4b1e7a 0 77.5px,#9288ba 0 79.0px,#7e70aa 0 80.4px,#613e93 0 81.9px,#4f2281 0 83.4px,#684a99 0 84.8px,#8072ac 0 86.3px,#7159a0 0 87.8px,#300350 0 89.2px,#42156b 0 90.7px,#9084b8 0 92.1px,#340756 0 93.6px,#5b348e 0 95.1px,#6b4e9b 0 96.5px,#562a8a 0 98.0px,#5e3890 0 99.4px,#3f1267 0 100.9px,#6f559e 0 102.4px,#9187b9 0 103.8px,#7e6faa 0 105.3px,#6f569e 0 106.8px,#8c80b5 0 108.2px,#684998 0 109.7px,#8579b0 0 111.1px,#5c348e 0 112.6px,#aaa2cc 0 114.1px,#7764a5 0 115.5px,#7d6ea9 0 117.0px)"></div><div class="h" style="left:193px;top:495.55px;width:117.0px;height:4.95px;background:linear-gradient(90deg,#e89029 0 1.5px,#fdc278 0 2.9px,#904507 0 4.4px,#faecd7 0 5.8px,#d57811 0 7.3px,#c86c0d 0 8.8px,#fbead1 0 10.2px,#fce6c6 0 11.7px,#ea942e 0 13.2px,#a04d07 0 14.6px,#fde2bd 0 16.1px,#ed9a37 0 17.5px,#7f3b08 0 19.0px,#f3a649 0 20.5px,#fdc37a 0 21.9px,#e9eaf2 0 23.4px,#e4e5f0 0 24.9px,#cecde4 0 26.3px,#fce6c8 0 27.8px,#c2bedc 0 29.2px,#d4d5e8 0 30.7px,#fedaaa 0 32.2px,#bbb7d8 0 33.6px,#ecedf3 0 35.1px,#dee0ed 0 36.6px,#fde3bf 0 38.0px,#bdb8d9 0 39.5px,#fedcad 0 40.9px,#feddaf 0 42.4px,#fed196 0 43.9px,#f8f3ec 0 45.3px,#faeede 0 46.8px,#faecd8 0 48.3px,#8b80b5 0 49.7px,#fce5c4 0 51.2px,#c5c2de 0 52.6px,#c7c5e0 0 54.1px,#fce8cb 0 55.6px,#dee0ed 0 57.0px,#faeddb 0 58.5px,#ecedf3 0 60.0px,#edeef3 0 61.4px,#ebecf2 0 62.9px,#c8c7e1 0 64.3px,#f5f5f6 0 65.8px,#d8daeb 0 67.3px,#b7b2d6 0 68.7px,#b4add3 0 70.2px,#d1d1e6 0 71.7px,#cdcde4 0 73.1px,#bdb9da 0 74.6px,#e1e3ef 0 76.0px,#8a7fb4 0 77.5px,#bab5d7 0 79.0px,#efeff4 0 80.4px,#b0a8d0 0 81.9px,#d4d5e8 0 83.4px,#dddfed 0 84.8px,#b9b3d6 0 86.3px,#e7e8f1 0 87.8px,#f2f2f5 0 89.2px,#dbddec 0 90.7px,#9a90c0 0 92.1px,#dedfed 0 93.6px,#b5afd4 0 95.1px,#c3c0dd 0 96.5px,#7d6eaa 0 98.0px,#f5f5f6 0 99.4px,#c8c7e1 0 100.9px,#bbb7d8 0 102.4px,#dbddec 0 103.8px,#9b91c1 0 105.3px,#bebada 0 106.8px,#7f71ab 0 108.2px,#d2d3e7 0 109.7px,#a8a0ca 0 111.1px,#dadbec 0 112.6px,#e3e4ef 0 114.1px,#f2f2f5 0 115.5px,#dedfed 0 117.0px)"></div><div class="h" style="left:193px;top:500.48px;width:117.0px;height:4.95px;background:linear-gradient(90deg,#d37610 0 1.5px,#fdbe70 0 2.9px,#9f4d07 0 4.4px,#b95e08 0 5.8px,#f6ab50 0 7.3px,#fed299 0 8.8px,#de8013 0 10.2px,#fcb761 0 11.7px,#914507 0 13.2px,#fdc987 0 14.6px,#fed7a2 0 16.1px,#fce8cd 0 17.5px,#eb9733 0 19.0px,#f9b057 0 20.5px,#cf720f 0 21.9px,#e6e7f0 0 23.4px,#fedcae 0 24.9px,#d6d8ea 0 26.3px,#a49bc7 0 27.8px,#f3f3f5 0 29.2px,#e7e8f1 0 30.7px,#d2d3e7 0 32.2px,#dfe0ee 0 33.6px,#f8f4ef 0 35.1px,#e3e4ef 0 38.0px,#bfbbdb 0 39.5px,#f8f4ef 0 40.9px,#f8f5f1 0 42.4px,#f7f6f5 0 43.9px,#a097c4 0 45.3px,#f9b058 0 46.8px,#fce5c4 0 48.3px,#fedcad 0 49.7px,#fee1b8 0 51.2px,#edeef3 0 52.6px,#dddfed 0 54.1px,#d8daeb 0 55.6px,#d6d8ea 0 57.0px,#cecee5 0 58.5px,#d9dbeb 0 60.0px,#eaebf2 0 61.4px,#c0bddc 0 62.9px,#f1f1f5 0 64.3px,#d2d2e7 0 65.8px,#e5e6f0 0 67.3px,#f3f3f5 0 68.7px,#bab5d7 0 70.2px,#dfe0ee 0 71.7px,#eeeff3 0 73.1px,#f6f6f7 0 74.6px,#e7e8f1 0 76.0px,#aca4cd 0 77.5px,#f7f5f3 0 79.0px,#b9b3d6 0 80.4px,#d6d7ea 0 81.9px,#b1aad1 0 83.4px,#edeef3 0 84.8px,#cecee5 0 86.3px,#e1e2ee 0 87.8px,#d7d9ea 0 89.2px,#b3acd3 0 90.7px,#b2abd2 0 92.1px,#cccbe3 0 93.6px,#e5e6f0 0 95.1px,#dadcec 0 96.5px,#b9b4d7 0 98.0px,#fde3be 0 99.4px,#c7c5e0 0 100.9px,#9287b9 0 102.4px,#d5d6e9 0 103.8px,#ecedf3 0 105.3px,#eeeef3 0 106.8px,#d0d1e6 0 108.2px,#d1d1e6 0 109.7px,#f5f5f6 0 111.1px,#d8daeb 0 112.6px,#aba3cc 0 114.1px,#d9dbec 0 115.5px,#f1f2f5 0 117.0px)"></div><div class="h" style="left:193px;top:505.42px;width:117.0px;height:4.95px;background:linear-gradient(90deg,#eb9732 0 1.5px,#d57811 0 2.9px,#be6209 0 4.4px,#f7ad53 0 5.8px,#e9932d 0 7.3px,#ed9b38 0 8.8px,#fdc37a 0 10.2px,#ef9f3e 0 11.7px,#d37510 0 13.2px,#fbb55f 0 14.6px,#f09f3f 0 16.1px,#a65106 0 17.5px,#fee1b9 0 19.0px,#f2a445 0 20.5px,#fee1b8 0 21.9px,#f9f1e5 0 23.4px,#f9f1e6 0 24.9px,#f7f6f3 0 26.3px,#edeef3 0 27.8px,#f8f3ec 0 29.2px,#f0f1f4 0 30.7px,#d6d7e9 0 32.2px,#e8e9f1 0 33.6px,#e0e2ee 0 35.1px,#f4f4f6 0 36.6px,#c3c0dd 0 38.0px,#f9efe1 0 39.5px,#cccbe3 0 40.9px,#a9a1cb 0 42.4px,#fedeb1 0 43.9px,#fce7c8 0 45.3px,#e1e3ef 0 46.8px,#f8f3eb 0 48.3px,#fce7c9 0 49.7px,#fce6c7 0 51.2px,#d8daeb 0 52.6px,#e6e7f0 0 54.1px,#fee0b5 0 55.6px,#f9f1e6 0 57.0px,#c0bcdb 0 58.5px,#aaa3cc 0 60.0px,#d9dbeb 0 61.4px,#aba3cd 0 62.9px,#f8f5f1 0 64.3px,#bdb8d9 0 65.8px,#b6b0d5 0 67.3px,#d6d8ea 0 68.7px,#d3d3e7 0 70.2px,#eeeff4 0 71.7px,#e5e6f0 0 73.1px,#dadcec 0 74.6px,#e0e2ee 0 76.0px,#c5c2de 0 77.5px,#b9b4d7 0 79.0px,#f6f6f6 0 80.4px,#ebecf2 0 81.9px,#ada6cf 0 83.4px,#e7e8f1 0 84.8px,#9f96c4 0 86.3px,#f9f2e7 0 87.8px,#dfe0ee 0 89.2px,#e8e9f1 0 90.7px,#bcb8d9 0 92.1px,#c4c1de 0 93.6px,#dee0ed 0 95.1px,#beb9da 0 96.5px,#cdcce4 0 98.0px,#faeedd 0 99.4px,#c0bcdb 0 100.9px,#b5afd4 0 102.4px,#f7f6f4 0 103.8px,#cdcce4 0 105.3px,#e6e7f0 0 106.8px,#dddfed 0 108.2px,#a8a0ca 0 109.7px,#eaebf2 0 111.1px,#f5f6f6 0 112.6px,#c3c0dd 0 114.1px,#dedfed 0 115.5px,#ebecf2 0 117.0px)"></div><div class="h" style="left:193px;top:510.35px;width:117.0px;height:4.95px;background:linear-gradient(90deg,#e68e25 0 1.5px,#f9b057 0 2.9px,#e9932d 0 4.4px,#c2660b 0 5.8px,#ec9935 0 7.3px,#fce8cc 0 8.8px,#f7f7f7 0 10.2px,#fed7a4 0 11.7px,#b55a07 0 13.2px,#fedbab 0 14.6px,#fed094 0 16.1px,#f4a74a 0 17.5px,#fedcad 0 19.0px,#f0a03f 0 20.5px,#cdcce4 0 21.9px,#f9f0e2 0 23.4px,#f3f3f5 0 24.9px,#e2e3ef 0 26.3px,#d3d4e8 0 27.8px,#b6b0d5 0 29.2px,#e9eaf2 0 30.7px,#fcb660 0 32.2px,#e1e2ee 0 33.6px,#fde5c3 0 35.1px,#e7e8f1 0 36.6px,#faefdf 0 38.0px,#f2f2f5 0 39.5px,#d9dbeb 0 40.9px,#f6f6f7 0 42.4px,#fee1b9 0 43.9px,#fde4c1 0 45.3px,#fce7ca 0 46.8px,#eff0f4 0 48.3px,#f9f1e7 0 49.7px,#fed5a0 0 51.2px,#d1d1e6 0 52.6px,#fde2bb 0 54.1px,#e2e4ef 0 55.6px,#d9dbeb 0 57.0px,#dbddec 0 58.5px,#c1bddc 0 60.0px,#e6e7f0 0 61.4px,#dadcec 0 62.9px,#eff0f4 0 64.3px,#f8f3ec 0 65.8px,#f7f6f4 0 67.3px,#d0d0e6 0 68.7px,#d8daeb 0 70.2px,#dee0ee 0 71.7px,#bcb8d9 0 73.1px,#d7d8ea 0 74.6px,#c5c2de 0 76.0px,#9f96c3 0 77.5px,#dedfed 0 79.0px,#d7d9ea 0 80.4px,#e7e8f1 0 81.9px,#9f95c3 0 83.4px,#c3c1dd 0 84.8px,#b0a8d0 0 86.3px,#9e95c3 0 87.8px,#f6f6f7 0 89.2px,#f6f6f6 0 90.7px,#e4e6f0 0 92.1px,#e1e3ef 0 93.6px,#d2d2e7 0 95.1px,#c3c0dd 0 96.5px,#a79eca 0 98.0px,#ededf3 0 99.4px,#7d6da9 0 100.9px,#a49bc7 0 102.4px,#f2f2f5 0 103.8px,#d5d6e9 0 105.3px,#afa8d0 0 106.8px,#d3d3e7 0 108.2px,#cfcfe5 0 109.7px,#bdb9d9 0 111.1px,#e6e7f0 0 112.6px,#efeff4 0 114.1px,#cfcfe5 0 115.5px,#c7c4df 0 117.0px)"></div><div class="h" style="left:193px;top:515.28px;width:117.0px;height:4.95px;background:linear-gradient(90deg,#cc6f0e 0 1.5px,#e58b21 0 2.9px,#fed8a6 0 4.4px,#e48a1f 0 5.8px,#fce8cc 0 7.3px,#f9f0e4 0 8.8px,#fed198 0 10.2px,#fdc379 0 11.7px,#cc700e 0 13.2px,#faeedf 0 14.6px,#df8114 0 16.1px,#fee1b8 0 17.5px,#fde3be 0 19.0px,#9b91c1 0 20.5px,#f2a446 0 21.9px,#e18417 0 23.4px,#fce5c4 0 24.9px,#fdbd6d 0 26.3px,#fce7ca 0 27.8px,#fdca88 0 29.2px,#fedaa9 0 30.7px,#fde5c4 0 32.2px,#fdc47b 0 33.6px,#fed5a0 0 35.1px,#fdbf72 0 36.6px,#d4d5e8 0 38.0px,#d8daeb 0 39.5px,#e4e5f0 0 40.9px,#cfcee5 0 42.4px,#fedeb1 0 43.9px,#efeff4 0 45.3px,#fce5c4 0 48.3px,#f9f2e8 0 49.7px,#eeeef3 0 51.2px,#f8f3eb 0 52.6px,#f8f3ec 0 54.1px,#fdc782 0 55.6px,#eaebf2 0 57.0px,#e9eaf1 0 58.5px,#dadcec 0 60.0px,#fdc783 0 61.4px,#dfe1ee 0 62.9px,#d8daeb 0 64.3px,#a79ec9 0 65.8px,#cccce3 0 67.3px,#e4e6f0 0 68.7px,#e2e3ef 0 70.2px,#f8f5f1 0 71.7px,#fbebd4 0 73.1px,#aba3cd 0 74.6px,#e7e8f1 0 76.0px,#745fa2 0 77.5px,#f2f2f5 0 79.0px,#bfbbdb 0 80.4px,#ececf3 0 81.9px,#cdcce4 0 83.4px,#efeff4 0 84.8px,#bcb8d9 0 86.3px,#f9f1e7 0 87.8px,#dddfed 0 89.2px,#d6d8ea 0 90.7px,#c0bcdb 0 92.1px,#c5c3df 0 93.6px,#b7b1d5 0 95.1px,#dfe1ee 0 96.5px,#b2abd2 0 98.0px,#f7f7f7 0 99.4px,#c3c0dd 0 100.9px,#b3acd3 0 102.4px,#e4e5f0 0 103.8px,#958bbc 0 105.3px,#e8e9f1 0 106.8px,#cac8e2 0 108.2px,#f7f6f4 0 109.7px,#fce8cd 0 111.1px,#cfcfe5 0 112.6px,#fce6c8 0 114.1px,#e1e2ee 0 115.5px,#fde5c4 0 117.0px)"></div><div class="h" style="left:193px;top:520.22px;width:117.0px;height:4.95px;background:linear-gradient(90deg,#b95e08 0 1.5px,#f5a94c 0 2.9px,#d4d6e9 0 4.4px,#fecf93 0 5.8px,#e48a20 0 7.3px,#f9b057 0 8.8px,#d0d1e6 0 10.2px,#faeddc 0 11.7px,#ef9f3e 0 13.2px,#fbb45e 0 14.6px,#faecd7 0 16.1px,#f9efe1 0 17.5px,#fdc987 0 19.0px,#e8922b 0 20.5px,#fdc278 0 21.9px,#f8f2ea 0 23.4px,#fcb660 0 24.9px,#fdba67 0 26.3px,#fde2bb 0 27.8px,#fedbac 0 29.2px,#fdbe6f 0 30.7px,#e89029 0 32.2px,#fbe9d1 0 33.6px,#fdc073 0 35.1px,#fde4c1 0 36.6px,#c5c2de 0 38.0px,#e5e6f0 0 39.5px,#a59dc8 0 40.9px,#f9f1e6 0 42.4px,#f7f6f3 0 43.9px,#dbddec 0 45.3px,#fbebd4 0 46.8px,#fdb964 0 48.3px,#f2f2f5 0 49.7px,#fed8a4 0 51.2px,#fce6c7 0 52.6px,#b0a8d0 0 54.1px,#e5e6f0 0 55.6px,#f2f3f5 0 57.0px,#dedfed 0 58.5px,#dcdeed 0 60.0px,#d8daeb 0 61.4px,#e7e8f1 0 62.9px,#ecedf3 0 64.3px,#dee0ed 0 65.8px,#d0d0e6 0 67.3px,#f8f3eb 0 68.7px,#e1e2ee 0 70.2px,#d9dbeb 0 71.7px,#d1d2e7 0 73.1px,#dddfed 0 74.6px,#fde5c4 0 76.0px,#7662a4 0 77.5px,#a9a1cb 0 79.0px,#e0e1ee 0 80.4px,#f9f0e4 0 81.9px,#e1e3ef 0 83.4px,#9f95c3 0 84.8px,#ecedf3 0 86.3px,#cdcce4 0 87.8px,#968cbd 0 89.2px,#e0e2ee 0 90.7px,#c6c3df 0 92.1px,#d3d4e8 0 93.6px,#d1d2e7 0 95.1px,#c1bedc 0 96.5px,#9e94c3 0 98.0px,#f9f1e5 0 99.4px,#dee0ed 0 100.9px,#c5c3df 0 102.4px,#f4f4f6 0 103.8px,#d0d0e6 0 105.3px,#dddfed 0 106.8px,#f8f4ef 0 108.2px,#c4c1de 0 109.7px,#fedeb1 0 111.1px,#cfcfe5 0 112.6px,#fde3bf 0 114.1px,#e2e3ef 0 115.5px,#dcdeed 0 117.0px)"></div><div class="h" style="left:193px;top:525.15px;width:117.0px;height:4.95px;background:linear-gradient(90deg,#e78f26 0 1.5px,#cb6f0e 0 2.9px,#ee9c3a 0 4.4px,#fdc987 0 5.8px,#fedcaf 0 7.3px,#ed9b38 0 8.8px,#f3a547 0 10.2px,#f0f0f4 0 11.7px,#fed095 0 13.2px,#fed8a5 0 14.6px,#f4a74a 0 16.1px,#fde2bb 0 17.5px,#faeddc 0 19.0px,#fedfb5 0 20.5px,#fed49c 0 21.9px,#ae5506 0 23.4px,#f7f7f6 0 24.9px,#e18417 0 26.3px,#fee1b8 0 27.8px,#fedeb1 0 29.2px,#fdbf72 0 30.7px,#fdcc8c 0 32.2px,#fed49e 0 33.6px,#e48a20 0 35.1px,#fed9a6 0 36.6px,#fed6a1 0 38.0px,#f3f3f5 0 39.5px,#e5e7f0 0 40.9px,#fce7cb 0 42.4px,#faeddc 0 43.9px,#dfe0ee 0 45.3px,#fbe9d1 0 46.8px,#f9efe2 0 48.3px,#d7d9eb 0 49.7px,#f9f0e2 0 51.2px,#fed8a5 0 52.6px,#f8f5f2 0 54.1px,#f7f7f7 0 55.6px,#f1f1f5 0 57.0px,#fbebd4 0 58.5px,#c4c1de 0 60.0px,#dedfed 0 61.4px,#c8c6e0 0 62.9px,#e5e6f0 0 64.3px,#fde5c3 0 65.8px,#e4e5f0 0 67.3px,#f3f3f5 0 68.7px,#cbcbe3 0 70.2px,#e3e4ef 0 71.7px,#dadcec 0 73.1px,#b4add3 0 74.6px,#faedda 0 76.0px,#aaa3cc 0 77.5px,#c8c6e0 0 79.0px,#c6c3df 0 80.4px,#a9a1cb 0 81.9px,#e1e2ee 0 83.4px,#cac9e2 0 84.8px,#d4d5e9 0 86.3px,#dee0ed 0 87.8px,#f7f7f7 0 89.2px,#eaebf2 0 90.7px,#c5c2de 0 92.1px,#dedfed 0 93.6px,#dbdcec 0 95.1px,#9a90c0 0 96.5px,#988ebe 0 98.0px,#eff0f4 0 99.4px,#a097c5 0 100.9px,#eaebf2 0 102.4px,#dddfed 0 103.8px,#afa8d0 0 105.3px,#c6c4df 0 106.8px,#f7f6f3 0 108.2px,#feddb0 0 109.7px,#f1f2f5 0 111.1px,#dddfed 0 112.6px,#d6d8ea 0 114.1px,#fde2bc 0 115.5px,#f8f4f0 0 117.0px)"></div><div class="h" style="left:193px;top:530.09px;width:117.0px;height:4.95px;background:linear-gradient(90deg,#ce710e 0 1.5px,#cd700e 0 2.9px,#dc7e13 0 4.4px,#fee0b7 0 5.8px,#f4f4f6 0 7.3px,#f9f0e3 0 8.8px,#e6e7f0 0 10.2px,#fdbe70 0 11.7px,#ef9e3c 0 13.2px,#fce8cc 0 14.6px,#f5aa4e 0 16.1px,#fed9a7 0 17.5px,#fdc37a 0 19.0px,#d4d5e8 0 20.5px,#f8af56 0 21.9px,#fedfb5 0 23.4px,#fdb966 0 24.9px,#fbb55f 0 26.3px,#e2861a 0 27.8px,#f9efe1 0 29.2px,#fedbac 0 30.7px,#ee9c3a 0 32.2px,#c5c3df 0 33.6px,#fde3bd 0 35.1px,#f9f1e5 0 36.6px,#f3f3f5 0 38.0px,#f1a141 0 39.5px,#faedda 0 40.9px,#fbebd4 0 42.4px,#f8f5f2 0 43.9px,#f9efe1 0 45.3px,#f1f1f5 0 46.8px,#e0e1ee 0 48.3px,#b7b2d6 0 49.7px,#fab159 0 51.2px,#f3f4f6 0 52.6px,#f8f4ef 0 54.1px,#d0d0e5 0 55.6px,#e2e3ef 0 57.0px,#f8f3eb 0 58.5px,#d7d9ea 0 60.0px,#f9f1e5 0 61.4px,#e6e7f1 0 62.9px,#fee1b9 0 64.3px,#fee0b6 0 65.8px,#c5c2de 0 67.3px,#f1f2f5 0 68.7px,#b4aed3 0 70.2px,#c5c2de 0 71.7px,#eeeff4 0 73.1px,#cfcfe5 0 74.6px,#e4e5f0 0 76.0px,#d9dbeb 0 77.5px,#f0f1f4 0 79.0px,#9f95c3 0 80.4px,#c6c4df 0 81.9px,#dee0ed 0 83.4px,#b0a9d0 0 84.8px,#d5d6e9 0 86.3px,#cecee5 0 87.8px,#f9f1e5 0 89.2px,#c2bedc 0 90.7px,#aba3cd 0 92.1px,#f1f2f5 0 93.6px,#d5d7e9 0 95.1px,#a9a1cb 0 96.5px,#c1bedc 0 98.0px,#d3d4e8 0 99.4px,#bdb9d9 0 100.9px,#c9c8e1 0 102.4px,#a8a0ca 0 103.8px,#e3e5ef 0 105.3px,#d8daeb 0 106.8px,#b0a9d1 0 108.2px,#b2abd2 0 109.7px,#e2e4ef 0 111.1px,#fde3bf 0 112.6px,#fce7ca 0 114.1px,#fbe9cf 0 115.5px,#e9eaf2 0 117.0px)"></div><div class="h" style="left:193px;top:535.02px;width:117.0px;height:4.95px;background:linear-gradient(90deg,#e3881d 0 1.5px,#cb6e0d 0 2.9px,#fed6a1 0 4.4px,#fde2bb 0 5.8px,#fce6c7 0 7.3px,#fbb55e 0 8.8px,#e8e9f1 0 10.2px,#fde3c0 0 11.7px,#fce8cd 0 13.2px,#faefe0 0 14.6px,#fedfb3 0 16.1px,#f2a445 0 17.5px,#bd6109 0 19.0px,#faecd8 0 20.5px,#f6f6f7 0 21.9px,#ce710e 0 23.4px,#cfcfe5 0 24.9px,#fed7a4 0 26.3px,#eb9632 0 27.8px,#fdbf72 0 29.2px,#fee1ba 0 30.7px,#fdc680 0 32.2px,#fed9a7 0 33.6px,#fdbb69 0 35.1px,#f9efe2 0 36.6px,#e6e7f0 0 38.0px,#fce7c9 0 39.5px,#fee0b5 0 40.9px,#f5f5f6 0 42.4px,#fee0b6 0 43.9px,#f9f1e5 0 45.3px,#fece91 0 46.8px,#dfe0ee 0 48.3px,#f7f6f5 0 49.7px,#fde4c1 0 51.2px,#f8f2ea 0 52.6px,#e0e2ee 0 54.1px,#faecd8 0 55.6px,#ebecf2 0 57.0px,#d5d7e9 0 58.5px,#e8e9f1 0 60.0px,#fde4c0 0 61.4px,#f8f4ed 0 62.9px,#d4d5e8 0 64.3px,#dedfed 0 65.8px,#c5c3df 0 67.3px,#f8f3eb 0 68.7px,#aca4cd 0 70.2px,#eeeef3 0 71.7px,#eeeff4 0 73.1px,#f7f7f6 0 74.6px,#fde5c3 0 76.0px,#c4c1de 0 77.5px,#f8f4f0 0 79.0px,#745fa2 0 80.4px,#c3c0dd 0 81.9px,#c7c6e0 0 83.4px,#f8f4f0 0 84.8px,#cac9e2 0 86.3px,#f8f3ec 0 87.8px,#e6e7f1 0 89.2px,#ecedf3 0 90.7px,#dbddec 0 92.1px,#f5f5f6 0 93.6px,#e6e7f0 0 95.1px,#bebada 0 96.5px,#c4c2de 0 98.0px,#fed8a5 0 99.4px,#c6c4df 0 100.9px,#bebada 0 102.4px,#dadcec 0 103.8px,#978dbe 0 105.3px,#dbddec 0 109.7px,#fbead2 0 111.1px,#c2bedc 0 112.6px,#dddeed 0 114.1px,#fecc8d 0 115.5px,#f7f6f4 0 117.0px)"></div><div class="h" style="left:193px;top:539.95px;width:117.0px;height:4.95px;background:linear-gradient(90deg,#f1a242 0 1.5px,#ad5506 0 2.9px,#fde2bc 0 4.4px,#fdb863 0 5.8px,#feddb0 0 7.3px,#e3881d 0 8.8px,#fecf94 0 10.2px,#f9b158 0 11.7px,#fdbe70 0 13.2px,#fdc783 0 14.6px,#fce7cb 0 16.1px,#fab35c 0 17.5px,#cd710e 0 19.0px,#e78f26 0 20.5px,#fbebd6 0 21.9px,#c0640a 0 23.4px,#f4a74b 0 24.9px,#fdc278 0 26.3px,#fee1b8 0 27.8px,#fdc57f 0 29.2px,#fce6c7 0 30.7px,#ee9c3a 0 32.2px,#e4891e 0 33.6px,#fed298 0 35.1px,#c86c0d 0 36.6px,#faeedf 0 38.0px,#f9f1e7 0 39.5px,#fbebd4 0 40.9px,#fbebd6 0 42.4px,#fce7ca 0 43.9px,#f1f2f5 0 45.3px,#fedcad 0 46.8px,#fed7a4 0 48.3px,#cfcfe5 0 49.7px,#fdc47c 0 51.2px,#b8b3d6 0 52.6px,#edeef3 0 54.1px,#fde3be 0 55.6px,#fed8a6 0 57.0px,#dee0ed 0 58.5px,#fee1b8 0 60.0px,#f8f3ed 0 61.4px,#ebecf2 0 62.9px,#b9b4d7 0 64.3px,#fbe8ce 0 65.8px,#f2f3f5 0 67.3px,#f7f7f7 0 68.7px,#958bbc 0 70.2px,#e2e3ef 0 71.7px,#c8c6e1 0 73.1px,#d7d9eb 0 74.6px,#a39ac7 0 76.0px,#a79fca 0 77.5px,#e0e1ee 0 79.0px,#f9f2e9 0 80.4px,#d1d1e6 0 81.9px,#c9c8e1 0 83.4px,#f2f2f5 0 84.8px,#eaeaf2 0 86.3px,#bebada 0 87.8px,#cccce3 0 89.2px,#d0d0e6 0 90.7px,#cdcce3 0 92.1px,#e0e2ee 0 93.6px,#c4c1de 0 95.1px,#c7c5e0 0 96.5px,#b1a9d1 0 98.0px,#f9f1e6 0 99.4px,#e3e4ef 0 100.9px,#b9b4d7 0 102.4px,#d3d4e8 0 103.8px,#d6d8ea 0 105.3px,#cfcfe5 0 106.8px,#bfbbdb 0 108.2px,#f5f5f6 0 109.7px,#f8f4ee 0 111.1px,#fde4c0 0 112.6px,#e1e3ef 0 114.1px,#d8daeb 0 115.5px,#ecedf3 0 117.0px)"></div><div class="h" style="left:193px;top:544.89px;width:117.0px;height:4.95px;background:linear-gradient(90deg,#fdca89 0 1.5px,#f8af56 0 2.9px,#feddb0 0 4.4px,#fedaa9 0 5.8px,#f6ab50 0 7.3px,#f9b058 0 8.8px,#fdbc6b 0 10.2px,#fdba67 0 11.7px,#f6f6f7 0 13.2px,#fed197 0 14.6px,#fdc783 0 16.1px,#fde2bc 0 17.5px,#cf720f 0 19.0px,#fdca89 0 20.5px,#fdb862 0 21.9px,#cb6e0d 0 23.4px,#8f4407 0 24.9px,#f6ab50 0 26.3px,#d77911 0 27.8px,#fce7cb 0 29.2px,#e8e9f1 0 30.7px,#f8ae55 0 32.2px,#c6690c 0 33.6px,#fdca88 0 35.1px,#fed095 0 36.6px,#fce8cb 0 38.0px,#fee0b6 0 39.5px,#e3e5ef 0 40.9px,#fce7c9 0 42.4px,#f7f7f6 0 43.9px,#faecd7 0 45.3px,#fce6c7 0 46.8px,#fbe9cf 0 48.3px,#8175ad 0 49.7px,#fce8cd 0 51.2px,#b7b1d5 0 52.6px,#dcdeed 0 54.1px,#f7f5f3 0 55.6px,#fbe8ce 0 57.0px,#f4f5f6 0 58.5px,#9c92c1 0 60.0px,#fde3bf 0 61.4px,#dee0ed 0 62.9px,#cbcae3 0 64.3px,#afa8d0 0 65.8px,#eaebf2 0 67.3px,#e5e6f0 0 68.7px,#c9c8e1 0 70.2px,#bbb6d8 0 71.7px,#dddeed 0 73.1px,#e9eaf1 0 74.6px,#f9efe0 0 76.0px,#cbcae2 0 77.5px,#dadcec 0 79.0px,#e9eaf2 0 80.4px,#c3c0dd 0 81.9px,#d9dbeb 0 83.4px,#f7f6f5 0 84.8px,#d3d4e8 0 86.3px,#cac9e2 0 87.8px,#f5f5f6 0 89.2px,#fce7ca 0 90.7px,#b8b2d6 0 92.1px,#b1aad1 0 93.6px,#e1e2ee 0 95.1px,#e0e1ee 0 96.5px,#9186b9 0 98.0px,#c4c1de 0 99.4px,#bab5d7 0 100.9px,#bdb9d9 0 102.4px,#a8a0cb 0 103.8px,#b3acd2 0 105.3px,#dadcec 0 106.8px,#dddfed 0 108.2px,#f2f3f5 0 109.7px,#cccce3 0 111.1px,#f9f1e5 0 112.6px,#edeef3 0 114.1px,#d6d8ea 0 115.5px,#fedcae 0 117.0px)"></div><div class="h" style="left:193px;top:549.82px;width:117.0px;height:4.95px;background:linear-gradient(90deg,#d47610 0 1.5px,#f9b159 0 2.9px,#fdc175 0 4.4px,#fee1b9 0 5.8px,#f4a74a 0 7.3px,#f7ae54 0 8.8px,#f9b057 0 10.2px,#ce720f 0 11.7px,#fdbb68 0 13.2px,#faeede 0 14.6px,#fbb45e 0 16.1px,#faecd7 0 17.5px,#f8f3eb 0 19.0px,#fece91 0 20.5px,#fdbf71 0 21.9px,#fedcae 0 23.4px,#fee1b8 0 24.9px,#c76b0c 0 26.3px,#f09f3f 0 27.8px,#fdcb89 0 29.2px,#fdc37a 0 30.7px,#e78f27 0 32.2px,#f8f2ea 0 33.6px,#dd7f13 0 35.1px,#fed095 0 36.6px,#c2bfdd 0 38.0px,#faecd8 0 39.5px,#fce7c9 0 40.9px,#f4f4f6 0 42.4px,#fed197 0 43.9px,#f7f7f7 0 45.3px,#faedda 0 46.8px,#fee1b8 0 48.3px,#f8f4ee 0 49.7px,#fbebd6 0 51.2px,#e8e9f1 0 52.6px,#f1f1f5 0 54.1px,#fde4c2 0 55.6px,#cbcae2 0 57.0px,#fed39c 0 58.5px,#e5e6f0 0 60.0px,#fce8cd 0 61.4px,#cecde4 0 62.9px,#f8f3ec 0 64.3px,#d4d5e8 0 65.8px,#fedeb2 0 67.3px,#f8f3ed 0 68.7px,#c8c6e0 0 70.2px,#ececf3 0 71.7px,#f9efe2 0 73.1px,#eeeef3 0 74.6px,#f8f5f1 0 76.0px,#ededf3 0 77.5px,#fbead3 0 79.0px,#eaebf2 0 80.4px,#f1f1f5 0 81.9px,#f8f4f0 0 83.4px,#e6e7f0 0 84.8px,#faecd9 0 86.3px,#fce5c5 0 87.8px,#fbe9d0 0 89.2px,#fedbac 0 90.7px,#aaa2cc 0 92.1px,#f9f1e6 0 95.1px,#f6f6f7 0 96.5px,#ebebf2 0 98.0px,#faeddb 0 99.4px,#dddfed 0 100.9px,#bfbbdb 0 102.4px,#faecd8 0 103.8px,#dee0ee 0 105.3px,#a8a0ca 0 106.8px,#aea6cf 0 108.2px,#f8f4ee 0 109.7px,#d3d4e8 0 111.1px,#faeddb 0 112.6px,#d1d2e7 0 114.1px,#e3e4ef 0 115.5px,#fcb55f 0 117.0px)"></div><div class="h" style="left:193px;top:554.76px;width:117.0px;height:4.95px;background:linear-gradient(90deg,#904407 0 1.5px,#b55a07 0 2.9px,#e9932d 0 4.4px,#f8f3ea 0 5.8px,#d67911 0 7.3px,#d5d7e9 0 8.8px,#f9efe1 0 10.2px,#fde4c1 0 11.7px,#fecf94 0 13.2px,#f8af56 0 14.6px,#f8f5f0 0 16.1px,#fedeb2 0 17.5px,#eb9733 0 19.0px,#fecc8d 0 21.9px,#fbebd5 0 23.4px,#fbb45d 0 24.9px,#fed7a3 0 26.3px,#e48a20 0 27.8px,#fdc883 0 29.2px,#fbead2 0 30.7px,#d8daeb 0 32.2px,#fbe9d1 0 33.6px,#ea942e 0 35.1px,#fbb55e 0 36.6px,#f7f7f7 0 38.0px,#cdcce4 0 39.5px,#f8f4ef 0 40.9px,#f0f1f4 0 42.4px,#fce6c8 0 43.9px,#fdc57d 0 45.3px,#f8f2e9 0 46.8px,#dfe1ee 0 48.3px,#eaebf2 0 49.7px,#fce5c5 0 51.2px,#bcb7d8 0 52.6px,#dadcec 0 54.1px,#fdc176 0 55.6px,#f0f1f4 0 57.0px,#f9f2e9 0 58.5px,#f9f0e2 0 60.0px,#fedfb3 0 61.4px,#f5f5f6 0 62.9px,#e0e2ee 0 64.3px,#fce6c8 0 65.8px,#e7e8f1 0 67.3px,#fecd8e 0 68.7px,#b9b4d7 0 70.2px,#f6f6f7 0 71.7px,#c0bcdb 0 73.1px,#dcdeed 0 74.6px,#e0e2ee 0 76.0px,#f0f1f4 0 77.5px,#f7f6f4 0 79.0px,#f8f5f0 0 80.4px,#eeeef3 0 81.9px,#d6d8ea 0 83.4px,#e4e5f0 0 84.8px,#cecde4 0 86.3px,#c0bddb 0 87.8px,#f7f6f3 0 89.2px,#fde3c0 0 90.7px,#eaebf2 0 92.1px,#faeede 0 93.6px,#e1e3ef 0 95.1px,#e7e8f1 0 96.5px,#c0bcdb 0 98.0px,#fee1ba 0 99.4px,#c3c0dd 0 100.9px,#e5e7f0 0 102.4px,#fbe9cf 0 103.8px,#cecee5 0 105.3px,#e0e1ee 0 106.8px,#f7f7f7 0 108.2px,#faecd8 0 109.7px,#edeef3 0 111.1px,#ebecf2 0 112.6px,#a8a0cb 0 114.1px,#d6d8ea 0 115.5px,#fbebd6 0 117.0px)"></div><div class="h" style="left:193px;top:559.69px;width:117.0px;height:4.95px;background:linear-gradient(90deg,#f9b158 0 1.5px,#fdc985 0 2.9px,#c0640a 0 4.4px,#fce6c6 0 5.8px,#fdb863 0 7.3px,#fed39a 0 8.8px,#fee1ba 0 10.2px,#fcb761 0 11.7px,#fde4c1 0 13.2px,#fdca87 0 14.6px,#fed7a4 0 16.1px,#fecf93 0 17.5px,#fee0b6 0 19.0px,#f8f5f1 0 20.5px,#fedbac 0 21.9px,#fed49c 0 23.4px,#fdc37b 0 24.9px,#fdbd6d 0 26.3px,#e58b20 0 27.8px,#fdc680 0 29.2px,#fdcb8b 0 30.7px,#ce710e 0 32.2px,#a75106 0 33.6px,#fdb964 0 35.1px,#fbebd6 0 36.6px,#f8f5f2 0 38.0px,#e9eaf2 0 39.5px,#fdc782 0 40.9px,#e8e9f1 0 42.4px,#dddeed 0 43.9px,#d2d2e7 0 45.3px,#faefdf 0 46.8px,#e3e4ef 0 48.3px,#faeedd 0 49.7px,#fedcaf 0 51.2px,#fee0b5 0 52.6px,#f9f1e5 0 54.1px,#f3f3f5 0 55.6px,#faeddc 0 57.0px,#e1e3ef 0 58.5px,#d7d9ea 0 60.0px,#fdc175 0 61.4px,#dadcec 0 62.9px,#f4f5f6 0 64.3px,#c6c4df 0 65.8px,#fce7cb 0 67.3px,#d2d2e7 0 68.7px,#dddeed 0 70.2px,#f4f4f6 0 71.7px,#eff0f4 0 73.1px,#fedeb1 0 74.6px,#f0f1f4 0 76.0px,#cecde4 0 77.5px,#edeef3 0 79.0px,#fce7cb 0 80.4px,#ecedf3 0 81.9px,#cfcee5 0 83.4px,#f2f3f5 0 84.8px,#c8c6e0 0 86.3px,#f0f0f4 0 87.8px,#dcdeed 0 89.2px,#f2f2f5 0 90.7px,#e4e5ef 0 92.1px,#fedcae 0 93.6px,#cdcce4 0 95.1px,#fbe9d0 0 96.5px,#c1bddc 0 98.0px,#f7f6f4 0 99.4px,#c7c6e0 0 100.9px,#f9f0e3 0 102.4px,#ebecf2 0 103.8px,#ededf3 0 105.3px,#e2e3ef 0 106.8px,#f6f6f7 0 108.2px,#e3e4ef 0 109.7px,#fde2bb 0 111.1px,#faedda 0 112.6px,#d4d5e8 0 114.1px,#a299c6 0 115.5px,#ebecf3 0 117.0px)"></div><div class="h" style="left:193px;top:564.62px;width:117.0px;height:4.95px;background:linear-gradient(90deg,#f3a547 0 1.5px,#c3670b 0 2.9px,#e18417 0 4.4px,#e78f27 0 5.8px,#f1a243 0 7.3px,#fed6a2 0 8.8px,#e18316 0 10.2px,#a75106 0 11.7px,#f7f6f3 0 13.2px,#e4891f 0 14.6px,#fbe8ce 0 16.1px,#fbe9cf 0 17.5px,#fdc783 0 19.0px,#f9f1e5 0 20.5px,#f9f1e7 0 21.9px,#eb9733 0 23.4px,#e08215 0 24.9px,#ec9834 0 26.3px,#fdc987 0 27.8px,#fce6c8 0 29.2px,#d6d8ea 0 30.7px,#fdbd6c 0 32.2px,#ed9b39 0 33.6px,#ce710e 0 35.1px,#fecd8e 0 36.6px,#efeff4 0 38.0px,#ebecf2 0 39.5px,#f9f2e8 0 40.9px,#e4e5f0 0 42.4px,#b9b3d6 0 43.9px,#fce7c9 0 45.3px,#fee1b9 0 46.8px,#f9f0e4 0 48.3px,#eaebf2 0 49.7px,#f8f3ec 0 51.2px,#eeeff4 0 52.6px,#f8f3ec 0 54.1px,#ecedf3 0 55.6px,#edeef3 0 57.0px,#c9c7e1 0 58.5px,#e3e4ef 0 60.0px,#eeeff4 0 61.4px,#edeef3 0 62.9px,#faeddb 0 64.3px,#f9efe0 0 65.8px,#f8f5f1 0 67.3px,#f3f3f5 0 68.7px,#e4e5f0 0 70.2px,#faefdf 0 71.7px,#bfbbdb 0 73.1px,#f8f3eb 0 74.6px,#dcdeed 0 76.0px,#d6d7e9 0 77.5px,#f6f6f6 0 79.0px,#faecd8 0 80.4px,#e3e4ef 0 81.9px,#b8b2d6 0 83.4px,#f6f6f7 0 84.8px,#f5f5f6 0 86.3px,#e7e8f1 0 87.8px,#e9eaf2 0 89.2px,#fecd8f 0 90.7px,#f6f6f7 0 92.1px,#eaeaf2 0 93.6px,#e6e7f0 0 95.1px,#fde4c1 0 96.5px,#f8f4ed 0 98.0px,#faeedd 0 99.4px,#f2f2f5 0 100.9px,#bbb6d8 0 102.4px,#fedaaa 0 103.8px,#f9f1e6 0 105.3px,#f2f2f5 0 106.8px,#d4d5e8 0 108.2px,#d2d3e7 0 109.7px,#fce8cc 0 111.1px,#e1e2ef 0 112.6px,#fed9a8 0 114.1px,#ecedf3 0 115.5px,#fde4c3 0 117.0px)"></div><div class="h" style="left:193px;top:569.56px;width:117.0px;height:4.95px;background:linear-gradient(90deg,#f0a040 0 1.5px,#c2660b 0 2.9px,#f2a344 0 4.4px,#fde5c3 0 5.8px,#fde3bf 0 7.3px,#fedcaf 0 8.8px,#fed096 0 10.2px,#faecd8 0 11.7px,#bf640a 0 13.2px,#cf720f 0 14.6px,#e68d24 0 16.1px,#f7ad53 0 17.5px,#e7e8f1 0 19.0px,#fdc57e 0 20.5px,#c3670b 0 21.9px,#fbb45d 0 23.4px,#e3871b 0 24.9px,#fbead3 0 26.3px,#af5606 0 27.8px,#fdc37a 0 29.2px,#c5690c 0 30.7px,#fce7ca 0 32.2px,#faecd8 0 33.6px,#e18315 0 35.1px,#ce710e 0 36.6px,#f5f5f6 0 38.0px,#f9b058 0 39.5px,#fbebd4 0 40.9px,#dddeed 0 42.4px,#fedfb4 0 43.9px,#f9f0e3 0 45.3px,#fedeb2 0 46.8px,#e4e5f0 0 48.3px,#faeedf 0 49.7px,#fbebd4 0 51.2px,#efeff4 0 52.6px,#d8daeb 0 54.1px,#fed096 0 55.6px,#fbebd4 0 57.0px,#faecd9 0 58.5px,#ecedf3 0 60.0px,#d9dbeb 0 61.4px,#d2d2e7 0 62.9px,#faeedd 0 64.3px,#e4e5ef 0 65.8px,#e6e7f1 0 67.3px,#c3c0dd 0 68.7px,#c4c1de 0 70.2px,#dcddec 0 71.7px,#fecf93 0 73.1px,#fbebd5 0 74.6px,#f5f5f6 0 76.0px,#c3c1de 0 77.5px,#f8f5f1 0 79.0px,#f8f4ef 0 80.4px,#dbddec 0 81.9px,#f0f1f4 0 83.4px,#dbddec 0 84.8px,#d0d0e6 0 86.3px,#faeddb 0 87.8px,#e4e5ef 0 89.2px,#faeedc 0 90.7px,#e9eaf2 0 92.1px,#c6c3df 0 93.6px,#e3e4ef 0 95.1px,#e2e3ef 0 96.5px,#b8b2d6 0 98.0px,#faefdf 0 99.4px,#f9f0e3 0 100.9px,#c8c6e0 0 102.4px,#dddeed 0 103.8px,#f7f7f7 0 105.3px,#eaebf2 0 106.8px,#ecedf3 0 108.2px,#d5d7e9 0 109.7px,#faefdf 0 111.1px,#f3f4f6 0 112.6px,#ecedf3 0 114.1px,#d6d7e9 0 115.5px,#eaebf2 0 117.0px)"></div><div class="h" style="left:193px;top:574.49px;width:117.0px;height:4.95px;background:linear-gradient(90deg,#f5a84c 0 1.5px,#fcb55f 0 2.9px,#fde5c4 0 4.4px,#fed7a3 0 5.8px,#fdca89 0 7.3px,#d87b12 0 8.8px,#f09f3f 0 10.2px,#e4891f 0 11.7px,#be6209 0 13.2px,#feddb1 0 14.6px,#f8f3eb 0 16.1px,#f6f6f7 0 17.5px,#fab25b 0 19.0px,#fdbb68 0 20.5px,#fed7a3 0 21.9px,#cecee5 0 23.4px,#e58c22 0 24.9px,#df8114 0 26.3px,#a24f07 0 27.8px,#fdc985 0 29.2px,#f9b159 0 30.7px,#f6ac51 0 32.2px,#e2e3ef 0 33.6px,#e68e25 0 35.1px,#fedaa9 0 36.6px,#fed39c 0 38.0px,#f8f4ee 0 39.5px,#fee1b9 0 40.9px,#cdcde4 0 42.4px,#fde4c3 0 43.9px,#e1e3ef 0 45.3px,#e0e1ee 0 46.8px,#fce7c9 0 48.3px,#e8e9f1 0 49.7px,#f8f3eb 0 51.2px,#f8f3ea 0 52.6px,#f9f1e6 0 54.1px,#f4f4f6 0 55.6px,#fee1b8 0 57.0px,#f7f7f7 0 58.5px,#cdcde4 0 60.0px,#fbb45d 0 61.4px,#d4d4e8 0 62.9px,#fbead2 0 64.3px,#fecf92 0 65.8px,#c5c3df 0 67.3px,#eff0f4 0 68.7px,#c8c7e1 0 70.2px,#fde3bf 0 71.7px,#f9f2e8 0 73.1px,#f9f1e7 0 74.6px,#faeede 0 76.0px,#d9dbeb 0 77.5px,#f8f3ed 0 79.0px,#f9f2e9 0 80.4px,#e8e9f1 0 81.9px,#d3d3e7 0 83.4px,#fce6c6 0 84.8px,#d1d2e7 0 86.3px,#cac9e2 0 87.8px,#dcddec 0 89.2px,#c0bcdb 0 90.7px,#f2f3f5 0 92.1px,#f7f6f5 0 93.6px,#faedd9 0 95.1px,#fab25a 0 96.5px,#e5e6f0 0 98.0px,#e3e5ef 0 99.4px,#fedfb4 0 100.9px,#f3f3f6 0 102.4px,#e6e7f1 0 103.8px,#e8e9f1 0 105.3px,#fde4c2 0 106.8px,#b6b0d5 0 108.2px,#fbead2 0 109.7px,#dfe1ee 0 111.1px,#f4f4f6 0 112.6px,#f1f2f5 0 114.1px,#aca5ce 0 115.5px,#e8e9f1 0 117.0px)"></div><div class="h" style="left:193px;top:579.43px;width:117.0px;height:4.95px;background:linear-gradient(90deg,#b95e08 0 1.5px,#f4a84b 0 2.9px,#c3670b 0 4.4px,#fdbb69 0 5.8px,#fed9a6 0 7.3px,#fdbc6c 0 8.8px,#fee0b6 0 10.2px,#fdcb8a 0 11.7px,#c4670b 0 13.2px,#fdbc6b 0 14.6px,#f4a84b 0 16.1px,#fed299 0 17.5px,#f8f3eb 0 19.0px,#d57811 0 20.5px,#f9f0e2 0 21.9px,#f2a344 0 23.4px,#ed9936 0 24.9px,#f9f2e8 0 26.3px,#fcb65f 0 27.8px,#fdc987 0 29.2px,#e7e8f1 0 30.7px,#e4e5f0 0 32.2px,#fdc57e 0 33.6px,#f9b057 0 35.1px,#fecc8d 0 36.6px,#fece91 0 38.0px,#897db3 0 39.5px,#e6e7f1 0 40.9px,#ebecf3 0 42.4px,#ecedf3 0 43.9px,#faeedd 0 45.3px,#fdc57e 0 46.8px,#fedfb4 0 48.3px,#d2d2e7 0 49.7px,#f8af55 0 51.2px,#fed096 0 52.6px,#aea6cf 0 54.1px,#fdba68 0 55.6px,#e8e9f1 0 57.0px,#fde4c3 0 58.5px,#fde2bd 0 60.0px,#c5c3df 0 61.4px,#dedfed 0 62.9px,#f8f5f0 0 64.3px,#efeff4 0 65.8px,#f9efe1 0 67.3px,#d7d9eb 0 68.7px,#d7d9ea 0 70.2px,#e3e5ef 0 71.7px,#fbebd6 0 73.1px,#e1e2ee 0 74.6px,#fdc681 0 76.0px,#d2d2e7 0 77.5px,#fee1b8 0 79.0px,#e4e6f0 0 80.4px,#f5f5f6 0 81.9px,#e6e7f0 0 83.4px,#f8f2ea 0 84.8px,#fbebd5 0 86.3px,#cdcce4 0 87.8px,#cccbe3 0 89.2px,#fab25a 0 90.7px,#f9f0e3 0 93.6px,#dddeed 0 95.1px,#cdcce4 0 96.5px,#c3c0dd 0 98.0px,#fce6c8 0 99.4px,#cecde4 0 100.9px,#f3f3f5 0 102.4px,#eaebf2 0 103.8px,#f7f7f7 0 105.3px,#e3e4ef 0 106.8px,#e2e3ef 0 108.2px,#c9c8e1 0 109.7px,#dee0ed 0 111.1px,#e8e9f1 0 112.6px,#fedaa9 0 114.1px,#fee2ba 0 115.5px,#dddfed 0 117.0px)"></div><div class="h" style="left:193px;top:584.36px;width:117.0px;height:4.95px;background:linear-gradient(90deg,#e18417 0 1.5px,#f9b058 0 2.9px,#fdb964 0 4.4px,#faefdf 0 5.8px,#fce5c5 0 7.3px,#fed298 0 8.8px,#ee9c3a 0 10.2px,#fdbd6d 0 11.7px,#f3a547 0 13.2px,#f3f3f5 0 14.6px,#f7ac51 0 16.1px,#ebebf2 0 17.5px,#e0e2ee 0 19.0px,#fdc783 0 20.5px,#f9efe1 0 21.9px,#ed9a37 0 23.4px,#ad5506 0 24.9px,#974807 0 26.3px,#fdc67f 0 27.8px,#fedaaa 0 29.2px,#cb6e0d 0 30.7px,#fdc57d 0 32.2px,#e58b22 0 33.6px,#f7ad52 0 35.1px,#e89029 0 36.6px,#e8e9f1 0 39.5px,#faecd7 0 40.9px,#f9efe1 0 42.4px,#fee2ba 0 43.9px,#f0f0f4 0 45.3px,#fed6a2 0 46.8px,#f8f3eb 0 48.3px,#faeddc 0 49.7px,#fed197 0 51.2px,#fbead3 0 52.6px,#d5d6e9 0 54.1px,#faeedf 0 55.6px,#fde2bb 0 57.0px,#f5f5f6 0 58.5px,#edeef3 0 60.0px,#aea7cf 0 61.4px,#f7f6f5 0 62.9px,#e4e6f0 0 64.3px,#e9eaf2 0 65.8px,#c1bddc 0 67.3px,#d6d8ea 0 68.7px,#f4f4f6 0 70.2px,#ebecf2 0 71.7px,#f8f5f2 0 73.1px,#d2d3e7 0 74.6px,#fedbab 0 76.0px,#d6d8ea 0 77.5px,#f6f6f7 0 79.0px,#faeddc 0 80.4px,#e3e5ef 0 81.9px,#faeede 0 83.4px,#f8f4f0 0 84.8px,#dee0ed 0 86.3px,#dfe0ee 0 87.8px,#f3f4f6 0 89.2px,#e4e5f0 0 90.7px,#faeddc 0 92.1px,#e9eaf2 0 93.6px,#edeef3 0 95.1px,#dadcec 0 96.5px,#dbddec 0 98.0px,#fce8cc 0 99.4px,#c3c0dd 0 100.9px,#f8f3ec 0 102.4px,#efeff4 0 103.8px,#e4e6f0 0 105.3px,#ecedf3 0 106.8px,#e3e5ef 0 108.2px,#ebecf2 0 109.7px,#fde3be 0 111.1px,#f7f7f7 0 112.6px,#f9f0e2 0 114.1px,#f2f2f5 0 115.5px,#fce8cd 0 117.0px)"></div><div class="h" style="left:193px;top:589.29px;width:117.0px;height:4.95px;background:linear-gradient(90deg,#833d08 0 1.5px,#b65b07 0 2.9px,#f2a446 0 4.4px,#fdc884 0 5.8px,#fdcb8b 0 7.3px,#f9efe0 0 8.8px,#f4f4f6 0 10.2px,#d1740f 0 11.7px,#e78f28 0 13.2px,#f9f1e5 0 14.6px,#fdb762 0 16.1px,#faeedd 0 17.5px,#ef9d3c 0 19.0px,#dddeed 0 20.5px,#f3a648 0 21.9px,#fde3be 0 23.4px,#ee9d3b 0 24.9px,#ed9b38 0 26.3px,#fee0b6 0 27.8px,#fce6c8 0 29.2px,#fedfb4 0 30.7px,#eb9733 0 32.2px,#fdc57d 0 33.6px,#fde2bb 0 35.1px,#f5a94d 0 36.6px,#faefe0 0 38.0px,#fde4c1 0 39.5px,#faecd8 0 40.9px,#e3e4ef 0 42.4px,#faeedc 0 43.9px,#f3f4f6 0 45.3px,#fed7a4 0 46.8px,#faeddb 0 48.3px,#f7f6f5 0 49.7px,#fdc884 0 51.2px,#edeef3 0 52.6px,#f6f6f6 0 54.1px,#f8f3ec 0 55.6px,#dee0ed 0 58.5px,#cfcfe5 0 60.0px,#fbe9d1 0 61.4px,#dcdeed 0 62.9px,#fbebd4 0 64.3px,#eaebf2 0 65.8px,#ecedf3 0 67.3px,#e5e6f0 0 68.7px,#efeff4 0 70.2px,#f6f6f7 0 71.7px,#d7d9ea 0 73.1px,#f8af56 0 74.6px,#d6d7ea 0 76.0px,#aaa3cc 0 77.5px,#fde4c1 0 79.0px,#ededf3 0 80.4px,#dddfed 0 81.9px,#f0f0f4 0 83.4px,#f5f5f6 0 84.8px,#dddfed 0 86.3px,#e1e2ee 0 87.8px,#eeeef3 0 89.2px,#dcdeed 0 90.7px,#d3d4e8 0 92.1px,#e8e9f1 0 93.6px,#b8b3d6 0 95.1px,#f5f6f6 0 96.5px,#fbebd4 0 98.0px,#fdc57e 0 99.4px,#d1d1e6 0 100.9px,#e6e7f0 0 102.4px,#dadcec 0 103.8px,#e1e3ef 0 105.3px,#f09f3f 0 106.8px,#f2f2f5 0 108.2px,#bcb7d9 0 109.7px,#e8e9f1 0 111.1px,#eaebf2 0 112.6px,#faeddb 0 114.1px,#e9eaf2 0 115.5px,#fdc177 0 117.0px)"></div><div class="h" style="left:193px;top:594.23px;width:117.0px;height:4.95px;background:linear-gradient(90deg,#f7ad54 0 1.5px,#f8ae55 0 2.9px,#bc6009 0 4.4px,#fde3c0 0 5.8px,#fbebd4 0 7.3px,#f8f4ed 0 8.8px,#fbe9cf 0 10.2px,#fecf92 0 11.7px,#ee9c3a 0 13.2px,#fde4c2 0 14.6px,#fdbc6a 0 16.1px,#fed9a8 0 17.5px,#f8f5f2 0 19.0px,#fdbf71 0 20.5px,#e89029 0 21.9px,#fdc783 0 23.4px,#fed197 0 24.9px,#f0a040 0 26.3px,#fed59f 0 27.8px,#fdbc6b 0 29.2px,#fce8cd 0 30.7px,#ef9e3c 0 32.2px,#f7ae54 0 33.6px,#f1a242 0 35.1px,#fed9a8 0 36.6px,#fbebd6 0 38.0px,#e7e8f1 0 39.5px,#fdca89 0 40.9px,#b0a8d0 0 42.4px,#f7ac52 0 43.9px,#f6f6f7 0 45.3px,#fed9a7 0 46.8px,#f9f1e6 0 48.3px,#f7f6f4 0 49.7px,#f4f4f6 0 51.2px,#fdc680 0 52.6px,#efeff4 0 54.1px,#f4f4f6 0 55.6px,#e9eaf2 0 57.0px,#fbe9cf 0 58.5px,#faeedd 0 60.0px,#fdc987 0 61.4px,#d3d4e8 0 62.9px,#f8f4ef 0 64.3px,#d5d7e9 0 65.8px,#feddaf 0 67.3px,#efeff4 0 68.7px,#f7f6f4 0 70.2px,#e6e7f0 0 71.7px,#f9efe0 0 73.1px,#e0e1ee 0 74.6px,#fce7ca 0 76.0px,#e0e1ee 0 77.5px,#f9f0e3 0 79.0px,#bbb6d8 0 80.4px,#cac8e2 0 81.9px,#f9efe0 0 83.4px,#f2f2f5 0 84.8px,#fbead3 0 86.3px,#ebecf2 0 87.8px,#f8f5f1 0 89.2px,#f3f3f5 0 92.1px,#d4d5e9 0 93.6px,#c8c6e0 0 95.1px,#ada5ce 0 96.5px,#b5afd4 0 98.0px,#f5f5f6 0 99.4px,#bbb7d8 0 100.9px,#f9f1e6 0 102.4px,#e8e9f1 0 103.8px,#dee0ee 0 105.3px,#f6f6f7 0 106.8px,#f8f5f1 0 108.2px,#e0e1ee 0 109.7px,#e7e8f1 0 111.1px,#f3f3f5 0 112.6px,#f5f5f6 0 114.1px,#f9f1e5 0 115.5px,#aca5ce 0 117.0px)"></div><div class="h" style="left:193px;top:599.16px;width:117.0px;height:4.95px;background:linear-gradient(90deg,#d77a11 0 1.5px,#fed5a0 0 2.9px,#fee0b7 0 4.4px,#feddb0 0 5.8px,#efeff4 0 7.3px,#fee0b7 0 8.8px,#e68d24 0 10.2px,#f4a84c 0 11.7px,#fce6c6 0 13.2px,#de8013 0 14.6px,#f8f4ef 0 16.1px,#fce7cb 0 17.5px,#dfe1ee 0 19.0px,#fed299 0 20.5px,#ed9a37 0 21.9px,#fce7ca 0 23.4px,#d9dbeb 0 24.9px,#a55007 0 26.3px,#e2861a 0 27.8px,#f4a84c 0 29.2px,#f5f5f6 0 30.7px,#d57710 0 32.2px,#fed8a6 0 33.6px,#fbe9cf 0 35.1px,#bbb7d8 0 36.6px,#fce6c6 0 38.0px,#d4d4e8 0 39.5px,#fde5c4 0 40.9px,#dcdeed 0 42.4px,#d7d9eb 0 43.9px,#f1f2f5 0 45.3px,#e7e8f1 0 46.8px,#fdc277 0 48.3px,#c7c5e0 0 49.7px,#fed6a1 0 51.2px,#dbddec 0 52.6px,#dadcec 0 54.1px,#fed59f 0 55.6px,#e5e6f0 0 57.0px,#f2f3f5 0 58.5px,#cfcfe5 0 60.0px,#dadcec 0 61.4px,#fecd8f 0 62.9px,#eff0f4 0 64.3px,#f8f4ee 0 65.8px,#e9eaf2 0 67.3px,#faeddb 0 68.7px,#dedfed 0 70.2px,#eeeff4 0 71.7px,#fed49c 0 73.1px,#ececf3 0 74.6px,#fbebd5 0 76.0px,#e8e9f1 0 77.5px,#fbebd5 0 79.0px,#dfe1ee 0 80.4px,#f1f2f5 0 81.9px,#f2f3f5 0 83.4px,#fed7a3 0 84.8px,#d6d8ea 0 86.3px,#d1d1e6 0 87.8px,#e6e7f0 0 89.2px,#ebecf2 0 90.7px,#e7e8f1 0 92.1px,#ebecf3 0 93.6px,#fce6c7 0 95.1px,#dadbec 0 96.5px,#c5c2de 0 98.0px,#fbe9d0 0 99.4px,#f9efe0 0 100.9px,#dcdeed 0 102.4px,#f7f7f6 0 103.8px,#d3d4e8 0 105.3px,#fce5c4 0 106.8px,#b0a9d1 0 108.2px,#fbe8ce 0 109.7px,#c8c7e1 0 111.1px,#e1e3ef 0 112.6px,#dcdeed 0 114.1px,#f4f5f6 0 115.5px,#e2e4ef 0 117.0px)"></div><div class="h" style="left:193px;top:604.10px;width:117.0px;height:4.95px;background:linear-gradient(90deg,#e89029 0 1.5px,#f9b057 0 2.9px,#fedcaf 0 4.4px,#e58c22 0 5.8px,#fbebd4 0 7.3px,#fdc782 0 8.8px,#fed7a3 0 10.2px,#fbe9cf 0 11.7px,#f9b159 0 13.2px,#fed6a1 0 14.6px,#fce6c7 0 16.1px,#e9922c 0 17.5px,#f5f5f6 0 19.0px,#fecf93 0 20.5px,#f4a74a 0 21.9px,#fed49e 0 23.4px,#ef9e3d 0 24.9px,#f9f1e6 0 26.3px,#f9efe0 0 27.8px,#fdc885 0 29.2px,#fdc987 0 30.7px,#fed49e 0 32.2px,#fdbd6d 0 33.6px,#fedcad 0 35.1px,#e9932d 0 36.6px,#e7e8f1 0 38.0px,#f3f3f6 0 39.5px,#eeeff4 0 40.9px,#b7b1d5 0 42.4px,#fdcb8a 0 43.9px,#faecd8 0 45.3px,#e9922c 0 46.8px,#fdc176 0 48.3px,#f9f1e5 0 49.7px,#fdbc6b 0 51.2px,#e1e2ee 0 52.6px,#dbddec 0 54.1px,#fed6a2 0 55.6px,#e8e9f1 0 57.0px,#fedfb4 0 58.5px,#fbe9d0 0 60.0px,#cecde4 0 61.4px,#e2e3ef 0 62.9px,#f8f4ee 0 64.3px,#f2f3f5 0 65.8px,#e8e9f1 0 67.3px,#f1f2f5 0 68.7px,#cfcfe5 0 70.2px,#f7f7f6 0 71.7px,#e7e8f1 0 73.1px,#f8f5f2 0 74.6px,#f0f1f4 0 76.0px,#cecde4 0 77.5px,#faeedd 0 79.0px,#aca5ce 0 80.4px,#ebecf2 0 81.9px,#f8f5f1 0 83.4px,#e1e3ef 0 84.8px,#e2e4ef 0 86.3px,#eeeef3 0 87.8px,#aca5ce 0 89.2px,#e4e5ef 0 90.7px,#c8c6e1 0 92.1px,#edeef3 0 93.6px,#eeeff4 0 95.1px,#bfbbdb 0 96.5px,#f8f5f1 0 98.0px,#e1e3ef 0 99.4px,#d5d6e9 0 100.9px,#bfbbdb 0 102.4px,#cfcfe5 0 103.8px,#ececf3 0 105.3px,#e7e8f1 0 106.8px,#e1e2ee 0 108.2px,#d7d9eb 0 109.7px,#faeedf 0 111.1px,#c0bcdb 0 112.6px,#f0f1f4 0 114.1px,#f1f1f5 0 115.5px,#c2bfdd 0 117.0px)"></div><div class="h" style="left:193px;top:609.03px;width:117.0px;height:4.95px;background:linear-gradient(90deg,#e9932d 0 1.5px,#fdb965 0 2.9px,#fdbf72 0 4.4px,#fdbb69 0 5.8px,#e5e6f0 0 7.3px,#fce5c6 0 8.8px,#f8f3ec 0 10.2px,#eaebf2 0 11.7px,#f5a84c 0 13.2px,#fedaaa 0 14.6px,#faeddb 0 16.1px,#f1a243 0 17.5px,#fdcb8a 0 19.0px,#dfe1ee 0 20.5px,#fbebd4 0 21.9px,#fdc47b 0 23.4px,#fed39b 0 24.9px,#fcb660 0 26.3px,#fdc987 0 27.8px,#db7e13 0 29.2px,#fdcc8c 0 30.7px,#faeede 0 32.2px,#f6ab50 0 33.6px,#f9f1e5 0 35.1px,#ea9530 0 36.6px,#e7e8f1 0 38.0px,#f8f3eb 0 39.5px,#fee1b8 0 40.9px,#dee0ee 0 42.4px,#f8f5f2 0 43.9px,#eeeff4 0 45.3px,#fedaa9 0 46.8px,#fce8cb 0 48.3px,#a39ac6 0 49.7px,#e7e8f1 0 51.2px,#a9a1cb 0 52.6px,#f8f5f0 0 54.1px,#e8e9f1 0 55.6px,#f8f3eb 0 57.0px,#fdc47b 0 58.5px,#faeede 0 60.0px,#f5f5f6 0 61.4px,#eeeff4 0 64.3px,#f9f1e6 0 65.8px,#fde3be 0 67.3px,#f8f3ea 0 68.7px,#c3c0dd 0 70.2px,#f7f6f4 0 71.7px,#fedaa9 0 73.1px,#fbe8cd 0 74.6px,#fdbe6f 0 76.0px,#d6d7e9 0 77.5px,#b9b3d6 0 79.0px,#f8f3ec 0 80.4px,#f9f1e6 0 81.9px,#e4e5f0 0 83.4px,#fde4c2 0 84.8px,#fbebd4 0 86.3px,#d9dbeb 0 87.8px,#e0e2ee 0 89.2px,#fde4c2 0 90.7px,#d2d3e7 0 92.1px,#fece91 0 93.6px,#f3f3f5 0 95.1px,#e1e2ee 0 96.5px,#d0d0e6 0 98.0px,#faeddb 0 99.4px,#e7e8f1 0 100.9px,#dedfed 0 102.4px,#fedcae 0 103.8px,#f2f2f5 0 105.3px,#d1d2e7 0 106.8px,#d7d9ea 0 108.2px,#fce6c7 0 109.7px,#d8daeb 0 111.1px,#cccbe3 0 112.6px,#fbead3 0 114.1px,#d7d9ea 0 115.5px,#ecedf3 0 117.0px)"></div><div class="h" style="left:193px;top:613.96px;width:117.0px;height:4.95px;background:linear-gradient(90deg,#c3670b 0 1.5px,#e8912a 0 2.9px,#fedeb1 0 4.4px,#fbb45d 0 5.8px,#fab25b 0 7.3px,#fee1ba 0 8.8px,#de8013 0 10.2px,#fdba67 0 11.7px,#faeddb 0 13.2px,#faeedf 0 14.6px,#fed59e 0 16.1px,#fedcae 0 17.5px,#e9932c 0 19.0px,#fce5c5 0 20.5px,#954707 0 21.9px,#a75206 0 23.4px,#e8922b 0 24.9px,#944707 0 26.3px,#f6ab4f 0 27.8px,#cf720f 0 29.2px,#ebecf2 0 30.7px,#df8114 0 32.2px,#fece91 0 33.6px,#e18417 0 35.1px,#fdb862 0 36.6px,#b8b3d6 0 38.0px,#d4d5e8 0 39.5px,#f8f4f0 0 40.9px,#efeff4 0 42.4px,#fed6a2 0 43.9px,#fee0b7 0 45.3px,#fce8cd 0 46.8px,#fdcc8c 0 48.3px,#fee1b8 0 49.7px,#f1f1f5 0 51.2px,#e5e6f0 0 52.6px,#e2e4ef 0 54.1px,#fde4c1 0 55.6px,#dddeed 0 57.0px,#f5f5f6 0 58.5px,#f9f1e7 0 60.0px,#f8f5f1 0 61.4px,#dddfed 0 62.9px,#faedd9 0 64.3px,#e3e4ef 0 65.8px,#fce7c9 0 67.3px,#f6f6f7 0 68.7px,#a49bc7 0 70.2px,#c5c2de 0 71.7px,#dddfed 0 73.1px,#eff0f4 0 74.6px,#fde4c2 0 76.0px,#edeef3 0 77.5px,#fce8cc 0 79.0px,#fdc885 0 80.4px,#e4e5ef 0 81.9px,#f8f4f0 0 83.4px,#f4f4f6 0 84.8px,#d8daeb 0 86.3px,#eff0f4 0 87.8px,#faecd8 0 89.2px,#edeef3 0 90.7px,#c3c0dd 0 92.1px,#faefe0 0 93.6px,#d1d2e7 0 95.1px,#f8f3ec 0 96.5px,#c2bedc 0 98.0px,#fbe9cf 0 99.4px,#a9a1cb 0 100.9px,#dbddec 0 102.4px,#f7f6f4 0 103.8px,#f5f5f6 0 105.3px,#e9eaf2 0 106.8px,#bab5d7 0 108.2px,#c7c5e0 0 109.7px,#fbead3 0 111.1px,#fde4c1 0 112.6px,#e0e2ee 0 114.1px,#f9f1e5 0 115.5px,#dfe1ee 0 117.0px)"></div><div class="h" style="left:193px;top:618.90px;width:117.0px;height:4.95px;background:linear-gradient(90deg,#c2660b 0 1.5px,#df8114 0 2.9px,#c5690c 0 4.4px,#c1650a 0 5.8px,#bb5f08 0 7.3px,#b75c07 0 8.8px,#c96c0d 0 10.2px,#813c08 0 11.7px,#7f3b08 0 13.2px,#b75c07 0 14.6px,#fdbe70 0 16.1px,#d57710 0 17.5px,#fdc278 0 19.0px,#f8ae54 0 20.5px,#f9f1e5 0 21.9px,#fde5c4 0 23.4px,#9e4d07 0 24.9px,#f7f6f4 0 26.3px,#f3a649 0 27.8px,#fde2bd 0 29.2px,#fed8a6 0 30.7px,#dee0ed 0 32.2px,#ea942f 0 33.6px,#f09f3e 0 35.1px,#faefdf 0 36.6px,#e6e7f0 0 38.0px,#a39ac6 0 39.5px,#f8f4ee 0 40.9px,#dee0ed 0 42.4px,#dcdeed 0 43.9px,#ecedf3 0 45.3px,#fece91 0 46.8px,#fdb966 0 48.3px,#fbe9ce 0 49.7px,#fdbe6f 0 51.2px,#e9eaf2 0 52.6px,#e3e5ef 0 54.1px,#fce6c6 0 55.6px,#f8f5f2 0 57.0px,#f7f7f7 0 58.5px,#f0a141 0 60.0px,#fed095 0 61.4px,#fdc47c 0 62.9px,#dedfed 0 64.3px,#fde2bd 0 65.8px,#dddfed 0 67.3px,#fab25a 0 68.7px,#c0bcdb 0 70.2px,#fde4c2 0 71.7px,#f8f4ee 0 73.1px,#fdc175 0 74.6px,#fedaaa 0 76.0px,#fbebd6 0 77.5px,#fdc985 0 79.0px,#fce7ca 0 80.4px,#c8c7e1 0 81.9px,#ebebf2 0 83.4px,#f2f2f5 0 84.8px,#ebecf2 0 86.3px,#f6f6f7 0 87.8px,#eeeef3 0 89.2px,#cdcce4 0 90.7px,#fde3be 0 92.1px,#eeeef3 0 93.6px,#f7f6f6 0 95.1px,#dddeed 0 96.5px,#fbead3 0 98.0px,#d67911 0 99.4px,#c8c6e0 0 100.9px,#c6c3df 0 102.4px,#d4d6e9 0 103.8px,#f9efe0 0 105.3px,#edeef3 0 106.8px,#f7f6f5 0 108.2px,#f5f5f6 0 109.7px,#fce7cb 0 111.1px,#f7f6f3 0 112.6px,#edeef3 0 114.1px,#bdb9d9 0 115.5px,#f9f0e2 0 117.0px)"></div><div class="h" style="left:193px;top:623.83px;width:117.0px;height:4.95px;background:linear-gradient(90deg,#843e08 0 1.5px,#a14e07 0 2.9px,#964807 0 4.4px,#ad5506 0 5.8px,#a04d07 0 7.3px,#863f08 0 8.8px,#904407 0 10.2px,#944707 0 13.2px,#8b4208 0 14.6px,#914507 0 16.1px,#904407 0 17.5px,#803b08 0 19.0px,#7f3b08 0 20.5px,#974807 0 21.9px,#894108 0 23.4px,#863f08 0 24.9px,#803b08 0 26.3px,#7f3b08 0 27.8px,#8a4108 0 29.2px,#894108 0 32.2px,#853e08 0 33.6px,#7f3b08 0 35.1px,#954707 0 36.6px,#7f3b08 0 38.0px,#823d08 0 39.5px,#944707 0 40.9px,#a55007 0 42.4px,#853e08 0 43.9px,#9d4c07 0 45.3px,#8a4108 0 46.8px,#853e08 0 48.3px,#a34f07 0 49.7px,#924507 0 51.2px,#964807 0 52.6px,#9d4c07 0 54.1px,#924507 0 55.6px,#7f3b08 0 57.0px,#914507 0 58.5px,#894108 0 60.0px,#803b08 0 61.4px,#8f4407 0 62.9px,#894008 0 64.3px,#924507 0 65.8px,#894008 0 67.3px,#9b4b07 0 68.7px,#994907 0 70.2px,#813c08 0 71.7px,#944607 0 73.1px,#8e4407 0 76.0px,#9d4c07 0 77.5px,#9b4b07 0 79.0px,#833d08 0 80.4px,#823d08 0 81.9px,#9d4c07 0 83.4px,#8a4108 0 84.8px,#974807 0 86.3px,#803c08 0 87.8px,#924607 0 89.2px,#7f3b08 0 92.1px,#8a4108 0 95.1px,#9b4a07 0 96.5px,#e58b22 0 98.0px,#7f3b08 0 99.4px,#a34f07 0 100.9px,#894108 0 102.4px,#8d4307 0 103.8px,#8c4208 0 105.3px,#8c4207 0 106.8px,#894108 0 108.2px,#813c08 0 109.7px,#894108 0 111.1px,#8c4207 0 112.6px,#944707 0 114.1px,#9a4a07 0 115.5px,#8e4407 0 117.0px)"></div><div class="h" style="left:193px;top:628.77px;width:117.0px;height:4.95px;background:linear-gradient(90deg,#8e4307 0 1.5px,#853f08 0 2.9px,#873f08 0 4.4px,#8c4207 0 5.8px,#944707 0 7.3px,#984907 0 8.8px,#994a07 0 10.2px,#8a4108 0 11.7px,#7f3b08 0 13.2px,#924507 0 14.6px,#954707 0 16.1px,#873f08 0 17.5px,#984907 0 19.0px,#8d4307 0 20.5px,#954707 0 21.9px,#914507 0 23.4px,#8a4108 0 24.9px,#7f3b08 0 27.8px,#904507 0 29.2px,#813c08 0 30.7px,#863f08 0 32.2px,#803b08 0 33.6px,#8a4108 0 35.1px,#934607 0 36.6px,#8a4108 0 38.0px,#974907 0 39.5px,#8a4108 0 40.9px,#914507 0 42.4px,#823d08 0 43.9px,#7f3b08 0 45.3px,#8d4307 0 46.8px,#904507 0 48.3px,#9c4b07 0 49.7px,#914507 0 51.2px,#8c4208 0 52.6px,#894108 0 54.1px,#984907 0 55.6px,#8e4307 0 57.0px,#fab25a 0 58.5px,#954707 0 60.0px,#813c08 0 61.4px,#934607 0 62.9px,#813c08 0 64.3px,#803c08 0 65.8px,#894108 0 67.3px,#8a4108 0 68.7px,#994907 0 70.2px,#884008 0 71.7px,#904407 0 73.1px,#823d08 0 74.6px,#843e08 0 76.0px,#a95306 0 77.5px,#894108 0 79.0px,#884008 0 80.4px,#863f08 0 81.9px,#994a07 0 83.4px,#8a4108 0 84.8px,#984907 0 86.3px,#884008 0 87.8px,#8c4207 0 89.2px,#904407 0 90.7px,#8d4307 0 92.1px,#7f3b08 0 96.5px,#8d4307 0 98.0px,#8a4108 0 99.4px,#874008 0 100.9px,#a04d07 0 102.4px,#8f4407 0 103.8px,#974807 0 105.3px,#944707 0 106.8px,#a24f07 0 108.2px,#8a4108 0 109.7px,#823c08 0 111.1px,#843e08 0 112.6px,#914507 0 114.1px,#9a4a07 0 115.5px,#904507 0 117.0px)"></div><div class="h" style="left:365px;top:386.50px;width:111.5px;height:4.96px;background:linear-gradient(90deg,#a55007 0 1.5px,#b55a07 0 2.9px,#e79028 0 4.4px,#ea9530 0 5.9px,#f9b057 0 7.3px,#e68e25 0 8.8px,#fed6a2 0 10.3px,#d7d8ea 0 11.7px,#fde2bb 0 13.2px,#fdc279 0 14.7px,#cac8e1 0 16.1px,#fdb862 0 17.6px,#fdcc8c 0 19.1px,#fdc885 0 20.5px,#fce6c7 0 22.0px,#b1aad1 0 23.5px,#7f71ab 0 24.9px,#dbddec 0 26.4px,#aca5ce 0 27.9px,#c1bedc 0 29.3px,#dfe1ee 0 30.8px,#d0d0e6 0 32.3px,#c5c3df 0 33.7px,#fde4c2 0 35.2px,#bdb9d9 0 36.7px,#c2bfdd 0 38.1px,#cac9e2 0 39.6px,#cecee4 0 41.1px,#beb9da 0 42.5px,#cccbe3 0 44.0px,#b3acd2 0 45.5px,#edeef3 0 46.9px,#867ab1 0 48.4px,#e3e4ef 0 49.9px,#bcb7d8 0 51.3px,#d2d3e7 0 52.8px,#c2bedc 0 54.3px,#e0e1ee 0 55.8px,#7b6ba8 0 57.2px,#ecedf3 0 58.7px,#ededf3 0 60.2px,#bbb6d8 0 61.6px,#c3c0dd 0 63.1px,#c7c5e0 0 64.6px,#d9dbeb 0 66.0px,#cdcce4 0 67.5px,#a097c4 0 69.0px,#e1e3ef 0 70.4px,#998fbf 0 71.9px,#a39ac7 0 73.4px,#c0bcdb 0 74.8px,#f8f4ef 0 76.3px,#b0a9d0 0 77.8px,#dfe1ee 0 79.2px,#d9dbeb 0 80.7px,#efeff4 0 82.2px,#faeddc 0 83.6px,#e8e9f1 0 85.1px,#e4e5f0 0 86.6px,#f9efe1 0 88.0px,#ebebf2 0 89.5px,#b1aad1 0 91.0px,#dddfed 0 92.4px,#dcdeed 0 93.9px,#bfbbdb 0 95.4px,#cbcae2 0 96.8px,#c1bddc 0 98.3px,#f7f6f5 0 99.8px,#fee0b7 0 101.2px,#dbddec 0 102.7px,#e2e3ef 0 104.2px,#e6e7f1 0 105.6px,#d1d1e6 0 107.1px,#e8e9f1 0 110.0px,#a198c5 0 111.5px)"></div><div class="h" style="left:365px;top:391.44px;width:111.5px;height:4.96px;background:linear-gradient(90deg,#863f08 0 1.5px,#f7ae54 0 2.9px,#f3a649 0 4.4px,#dddfed 0 5.9px,#fde4c2 0 7.3px,#fce8cc 0 8.8px,#fcb761 0 10.3px,#fdc782 0 11.7px,#b85d08 0 13.2px,#f5a84c 0 14.7px,#fdc57f 0 16.1px,#fdc986 0 17.6px,#fdbc6b 0 19.1px,#f3f4f6 0 20.5px,#da7c12 0 22.0px,#9f96c4 0 23.5px,#c3c0dd 0 24.9px,#d2d3e7 0 26.4px,#bdb9d9 0 27.9px,#8275ad 0 29.3px,#e5e6f0 0 30.8px,#7d6eaa 0 32.3px,#9187b9 0 33.7px,#dbdcec 0 35.2px,#d0d0e6 0 36.7px,#e7e8f1 0 38.1px,#e6e7f0 0 39.6px,#8276ae 0 41.1px,#f9f0e3 0 42.5px,#b4add3 0 44.0px,#dadcec 0 45.5px,#7a69a7 0 46.9px,#9e94c3 0 48.4px,#eeeff4 0 49.9px,#dadcec 0 51.3px,#bebada 0 52.8px,#b1a9d1 0 54.3px,#e3e5ef 0 55.8px,#b9b4d7 0 57.2px,#dddfed 0 58.7px,#bebada 0 60.2px,#b9b4d7 0 61.6px,#c4c1de 0 63.1px,#dadcec 0 64.6px,#a097c4 0 66.0px,#cac9e2 0 67.5px,#d9dbeb 0 69.0px,#d1d2e7 0 70.4px,#bcb7d8 0 71.9px,#c6c4df 0 73.4px,#f7f7f7 0 74.8px,#a9a1cb 0 76.3px,#dbddec 0 77.8px,#b8b3d6 0 79.2px,#e9eaf2 0 80.7px,#cecde4 0 82.2px,#e4e5f0 0 83.6px,#e0e2ee 0 85.1px,#b0a8d0 0 86.6px,#f8f5f0 0 88.0px,#dee0ed 0 89.5px,#fbead3 0 91.0px,#dadcec 0 92.4px,#dee0ed 0 93.9px,#f8f3ea 0 95.4px,#f7f7f6 0 96.8px,#fedcae 0 98.3px,#f9f1e6 0 99.8px,#dee0ed 0 101.2px,#f8af55 0 102.7px,#c2bedc 0 104.2px,#bcb7d8 0 105.6px,#f5f5f6 0 107.1px,#faeddb 0 108.6px,#f8f2ea 0 110.0px,#faeddc 0 111.5px)"></div><div class="h" style="left:365px;top:396.39px;width:111.5px;height:4.96px;background:linear-gradient(90deg,#934607 0 1.5px,#fedbab 0 2.9px,#b15706 0 4.4px,#faeede 0 5.9px,#ececf3 0 7.3px,#f1a243 0 8.8px,#fed6a1 0 10.3px,#fde3bf 0 11.7px,#f8af56 0 13.2px,#f8f4ef 0 14.7px,#dadcec 0 16.1px,#fdcc8b 0 17.6px,#f4a74a 0 19.1px,#fbead2 0 20.5px,#fde4c0 0 22.0px,#bebada 0 23.5px,#bcb7d8 0 24.9px,#d1d1e6 0 26.4px,#afa7d0 0 27.9px,#a299c6 0 29.3px,#d6d7ea 0 30.8px,#d9dbec 0 32.3px,#f0f0f4 0 33.7px,#998fbf 0 35.2px,#cac9e2 0 36.7px,#d1d1e6 0 38.1px,#7763a4 0 39.6px,#a79fca 0 41.1px,#7763a5 0 42.5px,#c7c5e0 0 44.0px,#dadcec 0 45.5px,#d0d1e6 0 46.9px,#9185b9 0 48.4px,#beb9da 0 49.9px,#bebada 0 51.3px,#715aa0 0 52.8px,#7f72ac 0 54.3px,#e7e8f1 0 55.8px,#9f96c4 0 57.2px,#bebada 0 58.7px,#e1e3ef 0 60.2px,#6d529c 0 61.6px,#aea7cf 0 63.1px,#9388ba 0 64.6px,#cccbe3 0 66.0px,#dbddec 0 67.5px,#a69ec9 0 69.0px,#cac9e2 0 70.4px,#c3c1dd 0 71.9px,#bfbbdb 0 73.4px,#beb9da 0 74.8px,#d4d6e9 0 76.3px,#f3f3f5 0 77.8px,#d5d7e9 0 79.2px,#6e549d 0 80.7px,#bfbbdb 0 82.2px,#f7f6f5 0 83.6px,#978dbd 0 85.1px,#f7f7f7 0 86.6px,#fee1b8 0 88.0px,#fee1b9 0 89.5px,#fde3c0 0 91.0px,#c6c4df 0 92.4px,#f7f6f4 0 93.9px,#fbead2 0 95.4px,#f7f7f7 0 96.8px,#e4e5f0 0 98.3px,#faedda 0 99.8px,#f3f4f6 0 101.2px,#f1f2f5 0 102.7px,#d0d1e6 0 104.2px,#f7f7f7 0 105.6px,#cfcfe5 0 107.1px,#d3d4e8 0 108.6px,#c4c1de 0 110.0px,#f0f0f4 0 111.5px)"></div><div class="h" style="left:365px;top:401.33px;width:111.5px;height:4.96px;background:linear-gradient(90deg,#8c4207 0 1.5px,#fab35b 0 2.9px,#e9932d 0 4.4px,#fab25a 0 5.9px,#fbb45d 0 7.3px,#faedd9 0 8.8px,#c6c3df 0 10.3px,#fed7a2 0 11.7px,#c0bcdb 0 13.2px,#fed6a1 0 14.7px,#fed7a3 0 16.1px,#fde3be 0 17.6px,#f7f6f5 0 19.1px,#dc7e13 0 20.5px,#feddb0 0 22.0px,#745ea2 0 23.5px,#e4e6f0 0 24.9px,#cccce3 0 26.4px,#a59dc8 0 27.9px,#8b7fb4 0 29.3px,#8f84b7 0 30.8px,#b3add3 0 32.3px,#7865a5 0 33.7px,#f3f3f6 0 35.2px,#e5e7f0 0 36.7px,#958bbc 0 38.1px,#bab5d7 0 39.6px,#eaebf2 0 41.1px,#a49bc7 0 44.0px,#afa8d0 0 45.5px,#cecee4 0 46.9px,#d3d4e8 0 48.4px,#f7f7f7 0 49.9px,#d1d2e7 0 51.3px,#c9c7e1 0 52.8px,#c4c2de 0 54.3px,#dadcec 0 55.8px,#8c80b5 0 57.2px,#eeeff4 0 58.7px,#e2e3ef 0 60.2px,#7866a6 0 61.6px,#dddfed 0 63.1px,#dbddec 0 64.6px,#958abc 0 66.0px,#ecedf3 0 67.5px,#8377af 0 69.0px,#e8e9f1 0 70.4px,#cccbe3 0 71.9px,#e2e3ef 0 73.4px,#e0e1ee 0 74.8px,#eeeff4 0 76.3px,#d2d2e7 0 77.8px,#e5e6f0 0 79.2px,#b0a9d1 0 80.7px,#cdcce4 0 82.2px,#fce7c9 0 83.6px,#e1e2ee 0 85.1px,#f8f4ef 0 86.6px,#f6f6f7 0 88.0px,#ebebf2 0 89.5px,#cccbe3 0 91.0px,#dddfed 0 92.4px,#fee0b7 0 93.9px,#e5e7f0 0 95.4px,#f4f4f6 0 96.8px,#9b91c0 0 98.3px,#e9eaf2 0 99.8px,#e4e6f0 0 101.2px,#f1f2f5 0 102.7px,#cccbe3 0 104.2px,#f8f3eb 0 105.6px,#e4e5f0 0 107.1px,#dfe0ee 0 108.6px,#d7d9ea 0 110.0px,#e8e9f1 0 111.5px)"></div><div class="h" style="left:365px;top:406.28px;width:111.5px;height:4.96px;background:linear-gradient(90deg,#964807 0 1.5px,#e68d24 0 2.9px,#a85206 0 4.4px,#e3e4ef 0 5.9px,#fedaaa 0 7.3px,#ca6e0d 0 8.8px,#fed59e 0 10.3px,#fbebd5 0 11.7px,#fdc782 0 13.2px,#fdc073 0 14.7px,#9e4c07 0 16.1px,#eff0f4 0 17.6px,#fed59f 0 19.1px,#c2660b 0 20.5px,#fdc073 0 22.0px,#4b1e79 0 23.5px,#8275ad 0 24.9px,#e1e2ee 0 26.4px,#b2abd2 0 27.9px,#9e94c3 0 29.3px,#582e8b 0 30.8px,#8174ad 0 32.3px,#8478af 0 33.7px,#c3c0dd 0 35.2px,#988ebe 0 36.7px,#c5c3df 0 38.1px,#d9dbeb 0 39.6px,#d7d9ea 0 41.1px,#bcb8d9 0 42.5px,#6f559e 0 44.0px,#a69ec9 0 45.5px,#6f569e 0 46.9px,#674898 0 48.4px,#a49bc7 0 49.9px,#bcb7d8 0 51.3px,#522585 0 52.8px,#644395 0 54.3px,#7865a5 0 55.8px,#330655 0 57.2px,#7662a4 0 58.7px,#a59cc8 0 60.2px,#9084b8 0 61.6px,#958abc 0 63.1px,#532687 0 64.6px,#d7d9eb 0 66.0px,#e9eaf2 0 67.5px,#cbcae2 0 69.0px,#c0bddc 0 70.4px,#c0bcdb 0 71.9px,#968bbd 0 73.4px,#aca5ce 0 74.8px,#b0a9d1 0 76.3px,#c6c3df 0 77.8px,#735da2 0 79.2px,#6a4c9a 0 80.7px,#7c6ca9 0 82.2px,#cfcfe5 0 83.6px,#8a7eb4 0 85.1px,#e4e5f0 0 86.6px,#f6f6f6 0 88.0px,#8b80b5 0 89.5px,#8a7eb4 0 91.0px,#aea6cf 0 92.4px,#7764a5 0 93.9px,#7967a6 0 95.4px,#b8b2d6 0 96.8px,#aca4cd 0 98.3px,#a49cc8 0 99.8px,#9c93c2 0 101.2px,#c7c5e0 0 102.7px,#e3e4ef 0 104.2px,#552889 0 105.6px,#cfcee5 0 107.1px,#c4c1de 0 108.6px,#9287ba 0 110.0px,#bab5d7 0 111.5px)"></div><div class="h" style="left:365px;top:411.22px;width:111.5px;height:4.96px;background:linear-gradient(90deg,#a75106 0 1.5px,#fde2bc 0 2.9px,#fdb965 0 4.4px,#fdbe70 0 5.9px,#fce7c9 0 7.3px,#fed39a 0 8.8px,#e4e5f0 0 10.3px,#e89029 0 11.7px,#ee9c3a 0 13.2px,#c4680b 0 14.7px,#fee0b6 0 16.1px,#fee1b8 0 17.6px,#faedda 0 19.1px,#f9f2e8 0 20.5px,#e9932d 0 22.0px,#8b7fb4 0 23.5px,#b9b4d7 0 24.9px,#8477af 0 26.4px,#7866a6 0 27.9px,#d5d7e9 0 29.3px,#8f84b8 0 30.8px,#8579b0 0 32.3px,#9c92c1 0 33.7px,#9e95c3 0 35.2px,#b1aad1 0 36.7px,#aea7cf 0 38.1px,#c4c1de 0 39.6px,#c1bedc 0 41.1px,#c9c8e1 0 42.5px,#7159a0 0 44.0px,#8c80b5 0 45.5px,#a69dc9 0 46.9px,#c0bcdb 0 48.4px,#542788 0 49.9px,#a8a0ca 0 51.3px,#998fbf 0 52.8px,#745fa2 0 54.3px,#664797 0 55.8px,#9489bb 0 57.2px,#f3f3f5 0 58.7px,#b7b2d6 0 60.2px,#9f95c3 0 61.6px,#bdb9da 0 63.1px,#6e549d 0 64.6px,#c5c3df 0 66.0px,#a8a0cb 0 67.5px,#d4d5e9 0 69.0px,#a69dc9 0 70.4px,#c2bfdd 0 71.9px,#998fbf 0 73.4px,#bbb6d8 0 74.8px,#a79fca 0 76.3px,#bdb9d9 0 77.8px,#e8e9f1 0 79.2px,#c3c0dd 0 80.7px,#b6b0d5 0 82.2px,#cfcfe5 0 83.6px,#8b7fb4 0 85.1px,#a59cc8 0 86.6px,#d9dbec 0 88.0px,#a097c4 0 89.5px,#b5aed4 0 91.0px,#b2abd2 0 92.4px,#7e6faa 0 93.9px,#dadcec 0 95.4px,#d8daeb 0 96.8px,#b7b1d5 0 98.3px,#c1bddc 0 99.8px,#eaebf2 0 101.2px,#b8b2d6 0 102.7px,#b7b1d5 0 104.2px,#aba3cc 0 105.6px,#aca5ce 0 107.1px,#948abb 0 108.6px,#c5c2de 0 110.0px,#ada5ce 0 111.5px)"></div><div class="h" style="left:365px;top:416.16px;width:111.5px;height:4.96px;background:linear-gradient(90deg,#984907 0 1.5px,#d67911 0 2.9px,#bb6009 0 4.4px,#f1f1f5 0 5.9px,#b15706 0 7.3px,#fab25a 0 8.8px,#f8f5f2 0 10.3px,#fcb761 0 11.7px,#f9b058 0 13.2px,#f9efe2 0 14.7px,#e89029 0 16.1px,#fdc176 0 17.6px,#fde4c2 0 19.1px,#fdbd6d 0 20.5px,#fdbe70 0 22.0px,#7a68a7 0 23.5px,#6c509c 0 24.9px,#d0d1e6 0 26.4px,#8578b0 0 27.9px,#a9a1cb 0 29.3px,#b3acd2 0 30.8px,#bcb7d8 0 32.3px,#603b91 0 33.7px,#a49bc7 0 35.2px,#8e82b6 0 36.7px,#aea7cf 0 38.1px,#70589f 0 39.6px,#c0bddb 0 41.1px,#c8c6e1 0 42.5px,#bab5d7 0 44.0px,#a69dc9 0 45.5px,#8f84b8 0 46.9px,#cac9e2 0 48.4px,#9e94c3 0 49.9px,#9f95c3 0 51.3px,#7764a5 0 52.8px,#9a90c0 0 54.3px,#6f559e 0 55.8px,#42156c 0 57.2px,#c2bedc 0 58.7px,#b6b0d5 0 60.2px,#7864a5 0 61.6px,#7b6aa8 0 63.1px,#a69ec9 0 64.6px,#8b80b5 0 66.0px,#e2e3ef 0 67.5px,#998fbf 0 69.0px,#b2abd2 0 70.4px,#887cb2 0 71.9px,#a79ec9 0 73.4px,#a9a1cb 0 74.8px,#bcb8d9 0 76.3px,#968cbd 0 77.8px,#f4f4f6 0 79.2px,#aca4cd 0 80.7px,#d0d0e6 0 82.2px,#7b6ba8 0 83.6px,#dbdcec 0 85.1px,#bfbbdb 0 86.6px,#c4c2de 0 88.0px,#afa8d0 0 89.5px,#ada5ce 0 91.0px,#e1e3ef 0 92.4px,#b4add3 0 93.9px,#8b80b5 0 95.4px,#a69dc9 0 96.8px,#cbcae2 0 98.3px,#dee0ed 0 99.8px,#e0e2ee 0 101.2px,#d0d0e6 0 102.7px,#c1bddc 0 104.2px,#beb9da 0 105.6px,#c7c5e0 0 107.1px,#aaa2cc 0 108.6px,#7662a4 0 110.0px,#9287b9 0 111.5px)"></div><div class="h" style="left:365px;top:421.11px;width:111.5px;height:4.96px;background:linear-gradient(90deg,#984907 0 1.5px,#f7ad52 0 2.9px,#d27510 0 4.4px,#eeeff4 0 5.9px,#f3f3f5 0 7.3px,#f8f4f0 0 8.8px,#bbb6d8 0 10.3px,#faeede 0 11.7px,#f9f1e7 0 13.2px,#f4f4f6 0 14.7px,#e48a20 0 16.1px,#fdc073 0 17.6px,#fdc47b 0 19.1px,#f8f2ea 0 20.5px,#fed9a8 0 22.0px,#ada6ce 0 23.5px,#aea7cf 0 24.9px,#bab5d7 0 26.4px,#aca5ce 0 27.9px,#b7b1d5 0 29.3px,#d5d6e9 0 30.8px,#8478af 0 32.3px,#cccbe3 0 33.7px,#c4c1de 0 35.2px,#b1aad1 0 36.7px,#aea6cf 0 38.1px,#7662a4 0 39.6px,#b9b4d7 0 41.1px,#b5afd4 0 42.5px,#eaebf2 0 44.0px,#c2bedc 0 45.5px,#9287ba 0 46.9px,#8e83b7 0 48.4px,#897db3 0 49.9px,#b4aed3 0 51.3px,#8174ac 0 52.8px,#8275ad 0 54.3px,#7d6da9 0 55.8px,#9388ba 0 57.2px,#8d81b6 0 58.7px,#bcb8d9 0 60.2px,#bab5d7 0 61.6px,#7d6da9 0 63.1px,#d3d4e8 0 64.6px,#d4d5e8 0 66.0px,#7560a3 0 67.5px,#b6b0d5 0 69.0px,#b4aed4 0 70.4px,#a29ac6 0 71.9px,#b9b4d7 0 73.4px,#7661a4 0 74.8px,#aca4cd 0 76.3px,#948abb 0 77.8px,#bbb6d8 0 79.2px,#cac9e2 0 80.7px,#c5c2de 0 82.2px,#c2bedc 0 83.6px,#592f8c 0 85.1px,#d5d7e9 0 86.6px,#b6b0d5 0 88.0px,#f1f2f5 0 89.5px,#968cbd 0 91.0px,#c7c5e0 0 92.4px,#9f96c4 0 93.9px,#b6afd4 0 95.4px,#cecde4 0 96.8px,#b3acd3 0 98.3px,#b9b4d7 0 99.8px,#948abb 0 101.2px,#cecee5 0 102.7px,#c0bcdb 0 104.2px,#dadbec 0 105.6px,#958bbc 0 107.1px,#b6b0d5 0 108.6px,#c7c5e0 0 110.0px,#8a7eb3 0 111.5px)"></div><div class="h" style="left:365px;top:426.05px;width:111.5px;height:4.96px;background:linear-gradient(90deg,#ad5506 0 1.5px,#e48a1f 0 2.9px,#dd7f13 0 4.4px,#e48a1f 0 5.9px,#b65b07 0 7.3px,#fedcae 0 8.8px,#e9922b 0 10.3px,#fde3bf 0 11.7px,#fdc175 0 13.2px,#fed49e 0 14.7px,#f5aa4e 0 16.1px,#fde2bb 0 17.6px,#faefdf 0 19.1px,#fedcad 0 20.5px,#f9f0e2 0 22.0px,#613e93 0 23.5px,#968cbd 0 24.9px,#e5e6f0 0 26.4px,#8174ad 0 27.9px,#bcb7d8 0 29.3px,#c8c6e0 0 30.8px,#cccbe3 0 32.3px,#dadcec 0 33.7px,#8579b0 0 35.2px,#572c8a 0 36.7px,#6e559e 0 38.1px,#623f93 0 39.6px,#e4e6f0 0 41.1px,#897db3 0 42.5px,#cdcce4 0 44.0px,#d4d5e8 0 45.5px,#8477af 0 46.9px,#613d93 0 48.4px,#c7c6e0 0 49.9px,#dddeed 0 51.3px,#d5d7e9 0 52.8px,#958bbc 0 54.3px,#8579b0 0 55.8px,#43166e 0 57.2px,#9f96c4 0 58.7px,#cecde4 0 60.2px,#c4c2de 0 61.6px,#a9a1cb 0 63.1px,#8e82b6 0 64.6px,#f0f1f4 0 66.0px,#aba3cd 0 67.5px,#d0d0e5 0 69.0px,#a49bc7 0 70.4px,#dfe1ee 0 71.9px,#958abc 0 73.4px,#8b80b5 0 74.8px,#7865a5 0 76.3px,#9186b9 0 77.8px,#b8b2d6 0 79.2px,#b3acd3 0 80.7px,#dee0ed 0 82.2px,#c5c3df 0 83.6px,#d2d3e7 0 85.1px,#b1aad1 0 86.6px,#ada5ce 0 88.0px,#cecde4 0 89.5px,#70589f 0 91.0px,#e9eaf2 0 92.4px,#c2bfdc 0 93.9px,#7866a6 0 95.4px,#c8c7e1 0 96.8px,#9c92c1 0 98.3px,#f9f1e6 0 99.8px,#8477af 0 101.2px,#e1e2ee 0 102.7px,#d1d2e7 0 104.2px,#8d81b6 0 105.6px,#b6b0d5 0 107.1px,#e5e6f0 0 108.6px,#7763a4 0 110.0px,#d6d8ea 0 111.5px)"></div><div class="h" style="left:365px;top:431.00px;width:111.5px;height:4.96px;background:linear-gradient(90deg,#994907 0 1.5px,#ce710e 0 2.9px,#c96d0d 0 4.4px,#fdbf71 0 5.9px,#fdc986 0 7.3px,#fdbd6e 0 8.8px,#b0a9d0 0 10.3px,#fed39a 0 11.7px,#fce7cb 0 13.2px,#f3a547 0 14.7px,#e8e9f1 0 16.1px,#fde4c1 0 17.6px,#fed6a2 0 19.1px,#fdb966 0 20.5px,#f9f0e3 0 22.0px,#bebada 0 23.5px,#aea6cf 0 24.9px,#c0bcdb 0 26.4px,#8d82b6 0 27.9px,#a299c6 0 29.3px,#d6d8ea 0 30.8px,#7560a3 0 32.3px,#b3add3 0 33.7px,#cac8e2 0 35.2px,#958bbc 0 36.7px,#b0a9d1 0 38.1px,#bebada 0 39.6px,#bab4d7 0 41.1px,#8d82b6 0 42.5px,#9d94c2 0 44.0px,#9c93c2 0 45.5px,#b7b1d5 0 46.9px,#5a318d 0 48.4px,#a69ec9 0 49.9px,#c3c0dd 0 51.3px,#7866a6 0 52.8px,#c0bddc 0 54.3px,#c1bedc 0 55.8px,#6c509c 0 57.2px,#c0bcdb 0 58.7px,#b9b3d6 0 60.2px,#aea6cf 0 61.6px,#aba3cd 0 63.1px,#958bbc 0 64.6px,#a39ac6 0 66.0px,#cac9e2 0 67.5px,#cbcae3 0 69.0px,#f6f6f7 0 70.4px,#beb9da 0 71.9px,#a9a1cb 0 73.4px,#c0bcdb 0 74.8px,#8073ac 0 76.3px,#d0d1e6 0 77.8px,#b4add3 0 79.2px,#958bbc 0 80.7px,#dfe1ee 0 82.2px,#9489bb 0 83.6px,#e2e3ef 0 85.1px,#cccbe3 0 86.6px,#f6f6f6 0 88.0px,#d2d3e7 0 89.5px,#cdcde4 0 91.0px,#a49bc7 0 92.4px,#eaebf2 0 93.9px,#aaa2cc 0 95.4px,#b6b0d4 0 96.8px,#a299c6 0 98.3px,#968cbd 0 99.8px,#9f96c3 0 101.2px,#e6e7f0 0 102.7px,#a8a0cb 0 104.2px,#cac9e2 0 105.6px,#cdcce4 0 107.1px,#bbb6d8 0 108.6px,#bcb7d8 0 110.0px,#cbcae3 0 111.5px)"></div><div class="h" style="left:365px;top:435.94px;width:111.5px;height:4.96px;background:linear-gradient(90deg,#ae5506 0 1.5px,#e58c22 0 2.9px,#914507 0 4.4px,#f6aa4f 0 5.9px,#fdc278 0 7.3px,#c9c7e1 0 8.8px,#fce8cc 0 10.3px,#f4a74a 0 11.7px,#fde3be 0 13.2px,#9f4d07 0 14.7px,#f2f3f5 0 16.1px,#fdbc6c 0 17.6px,#ef9d3c 0 19.1px,#f9f0e2 0 20.5px,#f7ac52 0 22.0px,#a9a1cb 0 23.5px,#745ea2 0 24.9px,#6c509b 0 26.4px,#aaa2cc 0 27.9px,#aba3cd 0 29.3px,#aba4cd 0 30.8px,#7c6ba8 0 32.3px,#b2acd2 0 33.7px,#b6b0d4 0 35.2px,#b7b2d6 0 36.7px,#a8a0cb 0 38.1px,#9085b8 0 39.6px,#dbddec 0 41.1px,#8b80b5 0 42.5px,#5f3a91 0 44.0px,#bdb8d9 0 45.5px,#ada5ce 0 46.9px,#7f71ab 0 48.4px,#aca5ce 0 49.9px,#cdcce4 0 51.3px,#8275ad 0 52.8px,#7763a4 0 54.3px,#8174ad 0 55.8px,#6f569e 0 57.2px,#c4c2de 0 58.7px,#b4add3 0 60.2px,#b7b1d5 0 61.6px,#4d207d 0 63.1px,#b6b0d5 0 64.6px,#988dbe 0 66.0px,#7c6ca9 0 67.5px,#c0bcdb 0 69.0px,#bab5d7 0 70.4px,#9d94c2 0 71.9px,#7d6da9 0 73.4px,#e2e4ef 0 74.8px,#a49bc7 0 76.3px,#bbb6d8 0 77.8px,#ada5ce 0 79.2px,#cecee4 0 80.7px,#9d94c2 0 82.2px,#b6b0d4 0 83.6px,#d7d9eb 0 85.1px,#e1e3ef 0 86.6px,#7c6da9 0 88.0px,#dbddec 0 89.5px,#dddfed 0 91.0px,#b8b2d6 0 92.4px,#d1d1e6 0 93.9px,#bab5d7 0 95.4px,#b1aad2 0 96.8px,#d2d2e7 0 98.3px,#e2e4ef 0 99.8px,#7763a5 0 101.2px,#eff0f4 0 102.7px,#dee0ed 0 104.2px,#b4add3 0 105.6px,#a9a1cb 0 107.1px,#b5afd4 0 108.6px,#c7c5e0 0 110.0px,#978dbe 0 111.5px)"></div><div class="h" style="left:365px;top:440.88px;width:111.5px;height:4.96px;background:linear-gradient(90deg,#8d4307 0 1.5px,#da7c12 0 2.9px,#fdc67f 0 4.4px,#fee0b6 0 5.9px,#fecc8d 0 7.3px,#fedbac 0 8.8px,#fed197 0 10.3px,#fdc783 0 11.7px,#da7d12 0 13.2px,#cf720f 0 14.7px,#fdbd6e 0 16.1px,#fed9a7 0 17.6px,#e8912a 0 19.1px,#dd7f13 0 20.5px,#f4a649 0 22.0px,#faefe0 0 23.5px,#f8f4ee 0 24.9px,#fedeb1 0 26.4px,#faeedc 0 27.9px,#fde4c2 0 29.3px,#f4f4f6 0 30.8px,#faefdf 0 32.3px,#f9f2e8 0 33.7px,#fedaaa 0 35.2px,#fedeb2 0 36.7px,#f9efe0 0 38.1px,#f9efe1 0 39.6px,#f0a040 0 41.1px,#f9f2e8 0 42.5px,#f7f6f4 0 44.0px,#fbead2 0 45.5px,#fecf93 0 46.9px,#faecd9 0 48.4px,#f1f1f5 0 49.9px,#fdcc8c 0 51.3px,#e1e3ef 0 52.8px,#faeedc 0 54.3px,#f8f4ee 0 55.8px,#db7e13 0 57.2px,#f8f5f0 0 58.7px,#faeddb 0 60.2px,#fbb55e 0 61.6px,#e7e8f1 0 63.1px,#fee0b5 0 64.6px,#fecf92 0 66.0px,#c9c7e1 0 67.5px,#cfcfe5 0 69.0px,#e0e1ee 0 70.4px,#d7d9ea 0 71.9px,#d6d7ea 0 73.4px,#f6aa4f 0 74.8px,#f8f5f1 0 76.3px,#dadcec 0 77.8px,#ebecf2 0 79.2px,#f6f6f6 0 80.7px,#fbead1 0 82.2px,#fde4c1 0 83.6px,#fee0b5 0 85.1px,#fbead2 0 86.6px,#c86c0d 0 88.0px,#e7e8f1 0 89.5px,#f4f4f6 0 91.0px,#c66a0c 0 92.4px,#f5f5f6 0 93.9px,#f5f6f6 0 95.4px,#fbebd6 0 96.8px,#e3e5ef 0 99.8px,#ebecf2 0 101.2px,#ed9b38 0 102.7px,#eb9733 0 104.2px,#fde3be 0 105.6px,#dee0ed 0 107.1px,#fcb660 0 108.6px,#faeddc 0 110.0px,#fde4c2 0 111.5px)"></div><div class="h" style="left:365px;top:445.83px;width:111.5px;height:4.96px;background:linear-gradient(90deg,#9c4b07 0 1.5px,#b05606 0 2.9px,#fdc175 0 4.4px,#ee9c3a 0 5.9px,#fee1ba 0 7.3px,#fcb761 0 8.8px,#fdbd6d 0 10.3px,#fed197 0 11.7px,#fce6c6 0 13.2px,#fdbc6b 0 14.7px,#cf720f 0 16.1px,#fdba68 0 17.6px,#fee1b8 0 19.1px,#fed6a2 0 20.5px,#f9f2e9 0 22.0px,#f9f2e8 0 23.5px,#faeddb 0 24.9px,#c4c1de 0 26.4px,#e6e7f1 0 27.9px,#eeeff4 0 29.3px,#f9f2e9 0 30.8px,#fed7a4 0 32.3px,#ee9c3a 0 33.7px,#f8f3ed 0 35.2px,#dbddec 0 36.7px,#c7c5e0 0 38.1px,#fdca88 0 39.6px,#fce8cc 0 41.1px,#fee0b5 0 42.5px,#eaebf2 0 44.0px,#fed7a3 0 45.5px,#fedaa9 0 46.9px,#fed39b 0 48.4px,#fce6c8 0 49.9px,#e6e7f1 0 51.3px,#fdc47d 0 52.8px,#faeddb 0 54.3px,#d6d8ea 0 55.8px,#fce6c8 0 57.2px,#e28519 0 58.7px,#fdc781 0 60.2px,#e5e6f0 0 61.6px,#fbebd5 0 63.1px,#fecd8e 0 64.6px,#fde3be 0 66.0px,#cdcde4 0 67.5px,#fdc277 0 69.0px,#d3d3e8 0 70.4px,#f9efe1 0 71.9px,#e9eaf2 0 73.4px,#fdcb8b 0 74.8px,#fde3be 0 76.3px,#afa8d0 0 77.8px,#faeedc 0 79.2px,#fedaa9 0 80.7px,#efeff4 0 82.2px,#fed7a3 0 83.6px,#fed6a1 0 85.1px,#fed094 0 86.6px,#fedeb1 0 88.0px,#dcdeed 0 89.5px,#fdc47c 0 91.0px,#f7f7f7 0 92.4px,#fdc37a 0 93.9px,#e9eaf2 0 95.4px,#fde2bb 0 96.8px,#e5e6f0 0 98.3px,#faecd8 0 99.8px,#dfe1ee 0 101.2px,#f5f6f6 0 102.7px,#f1f2f5 0 104.2px,#e2e3ef 0 105.6px,#fce8cd 0 107.1px,#faeede 0 108.6px,#fce7ca 0 110.0px,#e9eaf2 0 111.5px)"></div><div class="h" style="left:365px;top:450.77px;width:111.5px;height:4.96px;background:linear-gradient(90deg,#a45007 0 1.5px,#f3a649 0 2.9px,#bd6109 0 4.4px,#f5a94d 0 5.9px,#fece91 0 7.3px,#fed7a3 0 8.8px,#ec9936 0 10.3px,#fdc47b 0 11.7px,#c0640a 0 13.2px,#de8013 0 14.7px,#bc6009 0 16.1px,#fbb45d 0 17.6px,#d27510 0 19.1px,#de8013 0 20.5px,#fde2bc 0 22.0px,#faeede 0 23.5px,#fdbe6f 0 24.9px,#ebecf2 0 26.4px,#e1e3ef 0 27.9px,#e6e8f1 0 29.3px,#fee2ba 0 30.8px,#c2bfdd 0 32.3px,#eeeff3 0 33.7px,#f3a649 0 35.2px,#ef9d3c 0 36.7px,#fecc8d 0 38.1px,#f8f4f0 0 39.6px,#8072ac 0 41.1px,#fdbb69 0 42.5px,#eeeff4 0 44.0px,#f9f1e7 0 45.5px,#f8f5f2 0 46.9px,#d8daeb 0 48.4px,#e4e5f0 0 49.9px,#faeddc 0 51.3px,#c2bfdd 0 52.8px,#dadcec 0 54.3px,#dddfed 0 55.8px,#c5c3df 0 57.2px,#fdc57d 0 58.7px,#d0d0e6 0 60.2px,#fed59f 0 61.6px,#faefdf 0 63.1px,#fce6c8 0 64.6px,#fedcaf 0 66.0px,#f8f4ee 0 67.5px,#fdbc6a 0 69.0px,#eeeff4 0 70.4px,#f7f7f7 0 71.9px,#fde2bb 0 73.4px,#f8f3ec 0 74.8px,#eaeaf2 0 76.3px,#fce7c9 0 77.8px,#f5a84c 0 79.2px,#ebebf2 0 80.7px,#f6f6f7 0 82.2px,#bdb9da 0 83.6px,#a097c5 0 85.1px,#dddfed 0 86.6px,#f2f3f5 0 88.0px,#f8f4ef 0 89.5px,#faeede 0 91.0px,#fde3be 0 92.4px,#fde3bf 0 93.9px,#fee1b8 0 95.4px,#fed39a 0 96.8px,#cdcce4 0 98.3px,#bebada 0 99.8px,#cf720f 0 101.2px,#fce6c8 0 102.7px,#ec9935 0 104.2px,#fdc884 0 105.6px,#faefdf 0 107.1px,#f9f0e3 0 108.6px,#674898 0 110.0px,#f8f5f2 0 111.5px)"></div><div class="h" style="left:365px;top:455.72px;width:111.5px;height:4.96px;background:linear-gradient(90deg,#914507 0 1.5px,#b35806 0 2.9px,#fdbe70 0 4.4px,#d97b12 0 5.9px,#ee9d3b 0 7.3px,#ba5f08 0 8.8px,#faedda 0 10.3px,#fdb762 0 11.7px,#fde2bd 0 13.2px,#d97b12 0 14.7px,#f0a141 0 16.1px,#e68d25 0 17.6px,#cb6f0e 0 19.1px,#fece91 0 20.5px,#a24e07 0 22.0px,#f1a142 0 23.5px,#fece90 0 24.9px,#fce7ca 0 26.4px,#fdbd6d 0 27.9px,#fce7cb 0 29.3px,#fecf93 0 30.8px,#faeddb 0 32.3px,#fde3bf 0 33.7px,#cecee5 0 35.2px,#fed5a0 0 36.7px,#d8daeb 0 38.1px,#fedcae 0 39.6px,#9287b9 0 41.1px,#f9f1e7 0 42.5px,#dedfed 0 44.0px,#fdba66 0 45.5px,#cac8e2 0 46.9px,#f2f3f5 0 48.4px,#fed095 0 49.9px,#faecd9 0 51.3px,#c7c5e0 0 52.8px,#fbe9ce 0 54.3px,#f9f0e5 0 55.8px,#c7c5e0 0 57.2px,#e8e9f1 0 58.7px,#fdc57f 0 60.2px,#fdb863 0 61.6px,#e6e7f0 0 63.1px,#f4f4f6 0 64.6px,#e1e2ee 0 66.0px,#d6d8ea 0 67.5px,#f8f3ec 0 69.0px,#eaebf2 0 70.4px,#fbebd6 0 71.9px,#faeddb 0 73.4px,#f8f3eb 0 74.8px,#fbead2 0 76.3px,#fce5c5 0 77.8px,#c2bfdc 0 79.2px,#f8f3eb 0 80.7px,#e4e5f0 0 82.2px,#f8f3eb 0 83.6px,#fdc986 0 85.1px,#ecedf3 0 86.6px,#ed9b38 0 88.0px,#f8f4ed 0 89.5px,#f7f7f6 0 91.0px,#fed094 0 92.4px,#dee0ed 0 93.9px,#fce7ca 0 95.4px,#bbb6d8 0 96.8px,#fbb35c 0 98.3px,#cbcae3 0 99.8px,#dedfed 0 101.2px,#f8f2ea 0 102.7px,#fdc783 0 104.2px,#fecf93 0 105.6px,#ef9d3c 0 107.1px,#eff0f4 0 108.6px,#f8f3ed 0 110.0px,#dee0ed 0 111.5px)"></div><div class="h" style="left:365px;top:460.66px;width:111.5px;height:4.96px;background:linear-gradient(90deg,#a24f07 0 1.5px,#fecf92 0 2.9px,#9f4d07 0 4.4px,#fcb761 0 5.9px,#fdcb8a 0 7.3px,#fde3be 0 8.8px,#823c08 0 10.3px,#fed9a8 0 11.7px,#9b4b07 0 13.2px,#f1a242 0 14.7px,#f5a94c 0 16.1px,#f1f2f5 0 17.6px,#fdca88 0 19.1px,#fbb45d 0 20.5px,#da7d12 0 22.0px,#e89029 0 23.5px,#fdca88 0 24.9px,#fedeb3 0 26.4px,#fed9a8 0 27.9px,#dddfed 0 29.3px,#fdc783 0 30.8px,#d9dbeb 0 32.3px,#fbead1 0 33.7px,#fdc073 0 35.2px,#f7f6f3 0 36.7px,#f0a041 0 38.1px,#f9f1e6 0 39.6px,#fbe9d0 0 41.1px,#feddb0 0 42.5px,#f7f7f6 0 44.0px,#f1f2f5 0 45.5px,#dee0ed 0 46.9px,#ecedf3 0 48.4px,#fedcae 0 49.9px,#f5f6f6 0 51.3px,#f1a243 0 52.8px,#b8b3d6 0 54.3px,#fde3bd 0 55.8px,#e5e6f0 0 57.2px,#d8daeb 0 58.7px,#fed095 0 60.2px,#fce7c9 0 61.6px,#f9f0e3 0 63.1px,#fece91 0 64.6px,#d6d8ea 0 66.0px,#fdb863 0 67.5px,#fce6c7 0 69.0px,#f7f6f5 0 70.4px,#ecedf3 0 71.9px,#fce5c5 0 73.4px,#cecde4 0 74.8px,#c1bddc 0 76.3px,#fbebd6 0 77.8px,#e4e6f0 0 79.2px,#fecd8f 0 80.7px,#dee0ed 0 82.2px,#f8f4ed 0 83.6px,#e1e2ef 0 85.1px,#edeef3 0 86.6px,#f8f4ee 0 88.0px,#fbe8cd 0 89.5px,#fecd8e 0 91.0px,#f2a446 0 92.4px,#fed39a 0 93.9px,#e2e3ef 0 95.4px,#f8f2ea 0 96.8px,#fde5c4 0 98.3px,#fee0b6 0 99.8px,#e7e8f1 0 101.2px,#fde4c1 0 102.7px,#c7c5e0 0 104.2px,#faecd8 0 105.6px,#fed39c 0 107.1px,#f3a547 0 108.6px,#fce5c5 0 110.0px,#f0f0f4 0 111.5px)"></div><div class="h" style="left:365px;top:465.60px;width:111.5px;height:4.96px;background:linear-gradient(90deg,#873f08 0 1.5px,#fed095 0 2.9px,#fdc47b 0 4.4px,#c0640a 0 5.9px,#fdca88 0 7.3px,#b85d08 0 8.8px,#fdc37a 0 10.3px,#d87a11 0 11.7px,#fdc987 0 13.2px,#bc6009 0 14.7px,#e58b21 0 16.1px,#fdc074 0 17.6px,#e3881c 0 19.1px,#e9922c 0 20.5px,#db7d12 0 22.0px,#faecd8 0 23.5px,#f2f2f5 0 24.9px,#f7f7f7 0 26.4px,#e2e4ef 0 27.9px,#f7f7f6 0 29.3px,#f7f5f2 0 30.8px,#fbe8ce 0 32.3px,#faeddb 0 33.7px,#f9f0e4 0 35.2px,#fdc782 0 36.7px,#fdcc8c 0 38.1px,#f3f3f5 0 39.6px,#cccce3 0 41.1px,#f5f5f6 0 42.5px,#f9f1e5 0 44.0px,#d1d2e7 0 45.5px,#dee0ed 0 46.9px,#bab5d7 0 48.4px,#ecedf3 0 49.9px,#f9f0e3 0 51.3px,#e7e8f1 0 52.8px,#bfbbdb 0 54.3px,#e2e4ef 0 55.8px,#fdc783 0 57.2px,#d2d3e7 0 58.7px,#fedcae 0 60.2px,#fdc681 0 61.6px,#fdbb69 0 63.1px,#f8f4ee 0 64.6px,#e8922b 0 66.0px,#fecd8e 0 67.5px,#f8f4ee 0 69.0px,#eeeef3 0 70.4px,#bab5d7 0 71.9px,#f8f2ea 0 73.4px,#fed8a5 0 74.8px,#fde4c0 0 76.3px,#f1f1f4 0 77.8px,#f8f3eb 0 79.2px,#f1f2f5 0 80.7px,#fedbab 0 82.2px,#fecd8e 0 83.6px,#fee1b8 0 85.1px,#f9f0e4 0 86.6px,#f8f4ed 0 88.0px,#d8daeb 0 89.5px,#dfe0ee 0 91.0px,#faefdf 0 92.4px,#cac9e2 0 93.9px,#fdbf71 0 95.4px,#fed6a2 0 96.8px,#e7e8f1 0 98.3px,#dfe1ee 0 99.8px,#f8f2ea 0 101.2px,#f3a648 0 102.7px,#fdbf71 0 104.2px,#f0f1f4 0 105.6px,#ecedf3 0 107.1px,#f7ae54 0 108.6px,#f9efe0 0 110.0px,#f9f1e5 0 111.5px)"></div><div class="h" style="left:365px;top:470.55px;width:111.5px;height:4.96px;background:linear-gradient(90deg,#ae5506 0 1.5px,#fde3bf 0 2.9px,#e08215 0 4.4px,#cf720f 0 5.9px,#f4a84c 0 7.3px,#e18416 0 8.8px,#e78f27 0 10.3px,#fdbe70 0 11.7px,#f5a84c 0 13.2px,#7f3b08 0 14.7px,#eb9632 0 16.1px,#fdbf73 0 17.6px,#b95d08 0 19.1px,#faeedc 0 20.5px,#fdc379 0 22.0px,#fdc681 0 23.5px,#feddaf 0 24.9px,#f8f5f0 0 26.4px,#e8e9f1 0 27.9px,#fdc176 0 29.3px,#c96c0d 0 30.8px,#d8daeb 0 32.3px,#fee0b5 0 33.7px,#c4680b 0 35.2px,#e6e7f0 0 36.7px,#c0640a 0 38.1px,#fdbf71 0 39.6px,#e89129 0 41.1px,#ed9b38 0 42.5px,#fce6c6 0 44.0px,#c0bcdb 0 45.5px,#fdc47c 0 46.9px,#d1d1e6 0 48.4px,#fdbc6b 0 49.9px,#fbb35c 0 51.3px,#fce6c8 0 52.8px,#ef9e3d 0 54.3px,#dee0ed 0 55.8px,#fed6a1 0 57.2px,#e68d24 0 58.7px,#fed5a0 0 60.2px,#fedaa9 0 61.6px,#fdbb69 0 63.1px,#fbead3 0 64.6px,#d5d6e9 0 66.0px,#fde4c2 0 67.5px,#fdca89 0 69.0px,#f1f1f5 0 70.4px,#e0e1ee 0 71.9px,#fecf93 0 73.4px,#fedeb2 0 74.8px,#fed29a 0 76.3px,#ea9530 0 77.8px,#f1f2f5 0 79.2px,#f6f6f7 0 80.7px,#dcdeed 0 82.2px,#d5d6e9 0 83.6px,#c4680b 0 85.1px,#f3a547 0 86.6px,#fedaa9 0 88.0px,#dadcec 0 89.5px,#faeede 0 91.0px,#f5f6f6 0 92.4px,#fed29a 0 93.9px,#dee0ed 0 95.4px,#e0e1ee 0 96.8px,#dadcec 0 98.3px,#ecedf3 0 99.8px,#fed9a7 0 101.2px,#dedfed 0 102.7px,#fdcc8c 0 104.2px,#fece90 0 105.6px,#fecd8f 0 107.1px,#f9f1e5 0 108.6px,#d2d3e7 0 110.0px,#fbead1 0 111.5px)"></div><div class="h" style="left:365px;top:475.49px;width:111.5px;height:4.96px;background:linear-gradient(90deg,#a65106 0 1.5px,#f4a74a 0 2.9px,#fdc47c 0 4.4px,#fbb45d 0 5.9px,#c96d0d 0 7.3px,#d8daeb 0 8.8px,#fde4c2 0 10.3px,#fdcb8b 0 11.7px,#fdc680 0 13.2px,#d27510 0 14.7px,#e79028 0 16.1px,#fdca88 0 17.6px,#fce6c7 0 19.1px,#fdc681 0 20.5px,#e2861a 0 22.0px,#fdba67 0 23.5px,#fdc680 0 24.9px,#fdc57f 0 26.4px,#fde2bb 0 27.9px,#fdc67f 0 29.3px,#fbebd4 0 30.8px,#b5afd4 0 32.3px,#fecd8e 0 33.7px,#e08214 0 35.2px,#fecf94 0 36.7px,#eaebf2 0 38.1px,#f6aa4f 0 39.6px,#f2f2f5 0 41.1px,#ededf3 0 42.5px,#fedeb2 0 44.0px,#ef9f3e 0 45.5px,#f8f2e9 0 46.9px,#fed8a5 0 48.4px,#fde2bc 0 49.9px,#d5d7e9 0 51.3px,#faecd7 0 52.8px,#ee9d3b 0 54.3px,#fedeb3 0 55.8px,#fdca89 0 57.2px,#dee0ed 0 58.7px,#fce6c8 0 60.2px,#fecd8f 0 61.6px,#fde2bc 0 63.1px,#fed8a5 0 64.6px,#fdc278 0 66.0px,#fdb864 0 67.5px,#fde4c1 0 69.0px,#fdc57e 0 70.4px,#fce7c9 0 71.9px,#f7f7f6 0 73.4px,#eaebf2 0 74.8px,#fed7a4 0 76.3px,#fce6c8 0 77.8px,#fdbc6b 0 79.2px,#e3881c 0 80.7px,#ebecf2 0 82.2px,#dee0ed 0 83.6px,#fed49d 0 85.1px,#f7ac52 0 86.6px,#e78f28 0 88.0px,#fecf92 0 89.5px,#e6e7f0 0 91.0px,#faecd8 0 92.4px,#fdba67 0 93.9px,#faeddb 0 95.4px,#ee9c3a 0 96.8px,#fee1b9 0 98.3px,#f9f0e4 0 99.8px,#f9efe1 0 101.2px,#d27510 0 102.7px,#fdc782 0 104.2px,#fbe9cf 0 105.6px,#f8f4ed 0 107.1px,#fee0b7 0 108.6px,#eff0f4 0 110.0px,#dfe1ee 0 111.5px)"></div><div class="h" style="left:365px;top:480.44px;width:111.5px;height:4.96px;background:linear-gradient(90deg,#843e08 0 1.5px,#fdbc6c 0 2.9px,#ededf3 0 4.4px,#fdbb69 0 5.9px,#f5a84c 0 7.3px,#fde5c3 0 8.8px,#fce7cb 0 10.3px,#f2a446 0 11.7px,#7f3b08 0 13.2px,#eb9632 0 14.7px,#f4a74b 0 16.1px,#fdc176 0 17.6px,#faedda 0 19.1px,#a95206 0 20.5px,#c5690c 0 22.0px,#fdc884 0 23.5px,#e9eaf2 0 24.9px,#fdb762 0 26.4px,#fdc277 0 27.9px,#fbebd5 0 29.3px,#fde4c2 0 30.8px,#e5e6f0 0 32.3px,#fedeb3 0 33.7px,#fee0b7 0 35.2px,#ef9f3e 0 36.7px,#f9efe0 0 38.1px,#fce8cc 0 39.6px,#fed096 0 41.1px,#f3a547 0 42.5px,#d9dbeb 0 44.0px,#f4f4f6 0 45.5px,#fee1ba 0 46.9px,#dfe1ee 0 48.4px,#d9dbec 0 49.9px,#fed095 0 51.3px,#dfe1ee 0 52.8px,#ebecf2 0 54.3px,#fed49e 0 55.8px,#fce8cb 0 57.2px,#eeeff4 0 58.7px,#f3f4f6 0 60.2px,#f7f6f3 0 61.6px,#fdb863 0 63.1px,#fecf93 0 64.6px,#fce8cc 0 66.0px,#fab25a 0 67.5px,#f0a141 0 69.0px,#fdc176 0 70.4px,#f3f3f5 0 71.9px,#f7f6f4 0 73.4px,#fde2bc 0 74.8px,#ededf3 0 76.3px,#e0e1ee 0 77.8px,#fdba68 0 79.2px,#ececf3 0 80.7px,#fed197 0 82.2px,#e3e4ef 0 83.6px,#ea942f 0 85.1px,#fbe9cf 0 86.6px,#e08315 0 88.0px,#feddb0 0 89.5px,#faecd9 0 91.0px,#fed5a0 0 92.4px,#ebebf2 0 93.9px,#fdb965 0 95.4px,#fedeb2 0 96.8px,#f0f0f4 0 98.3px,#fedeb3 0 99.8px,#f7f6f5 0 101.2px,#fed8a5 0 102.7px,#faecd9 0 104.2px,#fed197 0 105.6px,#fdba66 0 107.1px,#fee0b7 0 108.6px,#d3d4e8 0 110.0px,#f8f4ee 0 111.5px)"></div><div class="h" style="left:365px;top:485.38px;width:111.5px;height:4.96px;background:linear-gradient(90deg,#914507 0 1.5px,#9b4a07 0 2.9px,#934607 0 4.4px,#9d4c07 0 5.9px,#924607 0 7.3px,#994907 0 8.8px,#944707 0 10.3px,#914507 0 11.7px,#7f3b08 0 13.2px,#ad5406 0 14.7px,#813c08 0 16.1px,#924507 0 17.6px,#9a4a07 0 19.1px,#984907 0 20.5px,#8e4307 0 22.0px,#e9942e 0 23.5px,#a65106 0 24.9px,#7f3b08 0 26.4px,#863f08 0 27.9px,#7f3b08 0 29.3px,#fdcb89 0 30.8px,#924507 0 32.3px,#b45906 0 33.7px,#7f3b08 0 35.2px,#803b08 0 36.7px,#c3670b 0 38.1px,#863f08 0 39.6px,#ae5506 0 41.1px,#8a4108 0 42.5px,#823d08 0 44.0px,#843e08 0 45.5px,#8a4108 0 46.9px,#aa5306 0 48.4px,#cd700e 0 49.9px,#fdb762 0 51.3px,#7f3b08 0 52.8px,#823d08 0 54.3px,#8d4307 0 55.8px,#cd700e 0 57.2px,#964807 0 58.7px,#853e08 0 60.2px,#884008 0 61.6px,#833d08 0 63.1px,#c76b0c 0 64.6px,#a45007 0 66.0px,#af5606 0 67.5px,#fdb762 0 69.0px,#974807 0 70.4px,#8d4307 0 71.9px,#964807 0 73.4px,#803b08 0 74.8px,#a24f07 0 76.3px,#dd8013 0 77.8px,#914507 0 79.2px,#7f3b08 0 82.2px,#ab5406 0 85.1px,#964807 0 86.6px,#ea942f 0 88.0px,#823d08 0 89.5px,#a55007 0 91.0px,#9b4b07 0 92.4px,#b15706 0 93.9px,#8f4407 0 95.4px,#8b4108 0 96.8px,#7f3b08 0 98.3px,#964807 0 99.8px,#7f3b08 0 101.2px,#f8af56 0 102.7px,#833d08 0 104.2px,#c4680b 0 105.6px,#8c4207 0 107.1px,#9e4c07 0 108.6px,#853e08 0 110.0px,#9b4b07 0 111.5px)"></div><div class="h" style="left:365px;top:490.32px;width:111.5px;height:4.96px;background:linear-gradient(90deg,#9a4a07 0 1.5px,#843e08 0 2.9px,#924607 0 4.4px,#904507 0 5.9px,#fdc47c 0 7.3px,#9c4b07 0 8.8px,#a44f07 0 10.3px,#924607 0 11.7px,#7f3b08 0 13.2px,#8e4307 0 14.7px,#833d08 0 16.1px,#823c08 0 17.6px,#894108 0 19.1px,#9b4b07 0 20.5px,#9d4c07 0 22.0px,#a85206 0 23.5px,#914507 0 24.9px,#8a4108 0 26.4px,#813c08 0 27.9px,#914507 0 29.3px,#e48a1f 0 30.8px,#7f3b08 0 32.3px,#894108 0 33.7px,#7f3b08 0 35.2px,#823d08 0 36.7px,#fdbe6f 0 38.1px,#894108 0 39.6px,#823c08 0 41.1px,#843e08 0 42.5px,#b15706 0 44.0px,#924607 0 45.5px,#a34f07 0 46.9px,#fbb55e 0 48.4px,#da7c12 0 49.9px,#843e08 0 51.3px,#a95306 0 52.8px,#914507 0 54.3px,#9f4d07 0 55.8px,#a85206 0 57.2px,#984907 0 58.7px,#914507 0 60.2px,#7f3b08 0 63.1px,#9e4c07 0 64.6px,#a04d07 0 66.0px,#9b4a07 0 67.5px,#f5a94d 0 69.0px,#813c08 0 70.4px,#944707 0 71.9px,#8e4307 0 73.4px,#a45007 0 74.8px,#9b4b07 0 76.3px,#a04d07 0 77.8px,#9e4c07 0 79.2px,#9f4d07 0 80.7px,#954707 0 82.2px,#7f3b08 0 83.6px,#8f4407 0 85.1px,#8d4307 0 86.6px,#8a4108 0 88.0px,#ec9835 0 89.5px,#a04d07 0 91.0px,#833d08 0 92.4px,#914507 0 93.9px,#7f3b08 0 96.8px,#8a4108 0 98.3px,#9a4a07 0 99.8px,#8d4307 0 101.2px,#8c4208 0 102.7px,#853e08 0 104.2px,#924607 0 105.6px,#ae5506 0 108.6px,#a85206 0 110.0px,#a44f07 0 111.5px)"></div><div class="h" style="left:365px;top:495.27px;width:111.5px;height:4.96px;background:linear-gradient(90deg,#833d08 0 1.5px,#9f4d07 0 2.9px,#7f3b08 0 4.4px,#954707 0 5.9px,#8d4307 0 7.3px,#894108 0 8.8px,#a75106 0 10.3px,#994a07 0 11.7px,#853e08 0 13.2px,#964807 0 14.7px,#8b4108 0 16.1px,#863f08 0 17.6px,#8f4407 0 20.5px,#924607 0 22.0px,#ef9e3d 0 23.5px,#944707 0 24.9px,#914507 0 26.4px,#874008 0 27.9px,#994907 0 29.3px,#8e4307 0 30.8px,#994907 0 32.3px,#934607 0 33.7px,#874008 0 35.2px,#833d08 0 36.7px,#7f3b08 0 38.1px,#a04e07 0 39.6px,#7f3b08 0 41.1px,#8f4407 0 42.5px,#fbb55e 0 44.0px,#853e08 0 45.5px,#a44f07 0 46.9px,#ac5406 0 48.4px,#863f08 0 49.9px,#803b08 0 51.3px,#803c08 0 52.8px,#823d08 0 54.3px,#914507 0 55.8px,#a65106 0 57.2px,#7f3b08 0 60.2px,#944707 0 61.6px,#994a07 0 63.1px,#7f3b08 0 64.6px,#e08315 0 66.0px,#9f4d07 0 67.5px,#a85206 0 69.0px,#a65106 0 70.4px,#9e4c07 0 71.9px,#a44f07 0 73.4px,#9b4b07 0 74.8px,#a24e07 0 76.3px,#7f3b08 0 77.8px,#a95306 0 79.2px,#934607 0 80.7px,#7f3b08 0 82.2px,#994a07 0 83.6px,#984907 0 85.1px,#9f4d07 0 86.6px,#873f08 0 88.0px,#964807 0 89.5px,#954707 0 91.0px,#884008 0 92.4px,#984907 0 93.9px,#9b4b07 0 95.4px,#fdc884 0 96.8px,#a14e07 0 98.3px,#fdcc8c 0 99.8px,#884008 0 101.2px,#7f3b08 0 102.7px,#904507 0 104.2px,#8a4108 0 105.6px,#9f4d07 0 107.1px,#8c4207 0 108.6px,#8e4307 0 110.0px,#974807 0 111.5px)"></div><div class="h" style="left:365px;top:500.21px;width:111.5px;height:4.96px;background:linear-gradient(90deg,#8c4208 0 1.5px,#944607 0 2.9px,#833d08 0 4.4px,#8d4307 0 5.9px,#e58c23 0 7.3px,#a24f07 0 8.8px,#a55007 0 10.3px,#874008 0 11.7px,#9b4b07 0 13.2px,#a34f07 0 14.7px,#7f3b08 0 16.1px,#894108 0 17.6px,#8b4208 0 19.1px,#823d08 0 20.5px,#8b4108 0 22.0px,#8a4108 0 23.5px,#9a4a07 0 24.9px,#8f4407 0 26.4px,#994a07 0 27.9px,#e58b21 0 29.3px,#974907 0 30.8px,#a55007 0 32.3px,#894108 0 33.7px,#954707 0 35.2px,#9d4c07 0 36.7px,#fdc680 0 38.1px,#7f3b08 0 41.1px,#dd7f13 0 42.5px,#e48a20 0 44.0px,#884008 0 45.5px,#9d4c07 0 46.9px,#e3881d 0 48.4px,#8f4407 0 49.9px,#914507 0 51.3px,#9b4b07 0 52.8px,#863f08 0 54.3px,#894108 0 55.8px,#ac5406 0 57.2px,#8b4208 0 58.7px,#9c4b07 0 60.2px,#884008 0 61.6px,#894108 0 63.1px,#8c4208 0 64.6px,#7f3b08 0 66.0px,#a04d07 0 67.5px,#9f4d07 0 69.0px,#984907 0 70.4px,#813c08 0 71.9px,#853e08 0 73.4px,#a34f07 0 74.8px,#a85206 0 76.3px,#823c08 0 77.8px,#833d08 0 79.2px,#a85206 0 80.7px,#ab5406 0 82.2px,#803b08 0 83.6px,#954707 0 85.1px,#914507 0 86.6px,#a24e07 0 88.0px,#a04d07 0 89.5px,#a34f07 0 91.0px,#7f3b08 0 92.4px,#934607 0 93.9px,#ad5506 0 95.4px,#843e08 0 96.8px,#9c4b07 0 98.3px,#8c4207 0 99.8px,#964807 0 101.2px,#853e08 0 102.7px,#884008 0 104.2px,#9a4a07 0 105.6px,#a34f07 0 107.1px,#843e08 0 108.6px,#a04d07 0 110.0px,#8a4108 0 111.5px)"></div><div class="h" style="left:365px;top:505.16px;width:111.5px;height:4.96px;background:linear-gradient(90deg,#9f4d07 0 1.5px,#9a4a07 0 2.9px,#833d08 0 4.4px,#894008 0 5.9px,#7f3b08 0 7.3px,#de8013 0 8.8px,#8e4407 0 11.7px,#8d4307 0 13.2px,#874008 0 14.7px,#994907 0 16.1px,#843e08 0 17.6px,#7f3b08 0 19.1px,#803c08 0 20.5px,#a85206 0 22.0px,#e48a1f 0 23.5px,#914507 0 24.9px,#7f3b08 0 26.4px,#a14e07 0 27.9px,#974807 0 29.3px,#bf630a 0 30.8px,#a44f07 0 32.3px,#7f3b08 0 35.2px,#984907 0 36.7px,#8f4407 0 38.1px,#853e08 0 39.6px,#8c4208 0 41.1px,#894108 0 42.5px,#a85206 0 44.0px,#944707 0 45.5px,#894108 0 46.9px,#9a4a07 0 48.4px,#7f3b08 0 49.9px,#944707 0 51.3px,#813c08 0 52.8px,#984907 0 55.8px,#d67911 0 57.2px,#833d08 0 58.7px,#914507 0 60.2px,#974807 0 61.6px,#e4891e 0 63.1px,#8a4108 0 64.6px,#a75106 0 67.5px,#fcb660 0 69.0px,#8b4208 0 70.4px,#a34f07 0 71.9px,#974907 0 73.4px,#944707 0 74.8px,#954807 0 76.3px,#db7d12 0 77.8px,#924607 0 79.2px,#964807 0 80.7px,#873f08 0 82.2px,#8b4208 0 85.1px,#863f08 0 86.6px,#fdb762 0 88.0px,#833d08 0 89.5px,#863f08 0 92.4px,#a24e07 0 93.9px,#7f3b08 0 95.4px,#833d08 0 96.8px,#a55007 0 98.3px,#9a4a07 0 99.8px,#9f4d07 0 101.2px,#7f3b08 0 102.7px,#994907 0 104.2px,#964807 0 105.6px,#8f4407 0 107.1px,#7f3b08 0 108.6px,#a95206 0 110.0px,#894008 0 111.5px)"></div><div class="h" style="left:365px;top:510.10px;width:111.5px;height:4.96px;background:linear-gradient(90deg,#7f3b08 0 1.5px,#914507 0 2.9px,#8d4307 0 4.4px,#a85206 0 5.9px,#823d08 0 7.3px,#894108 0 8.8px,#a24e07 0 10.3px,#8c4208 0 11.7px,#7f3b08 0 13.2px,#8e4307 0 14.7px,#894108 0 16.1px,#9d4c07 0 17.6px,#9a4a07 0 19.1px,#ad5506 0 20.5px,#833d08 0 22.0px,#944607 0 23.5px,#894008 0 24.9px,#803c08 0 26.4px,#8f4407 0 27.9px,#a24f07 0 29.3px,#9a4a07 0 30.8px,#a95206 0 32.3px,#9f4d07 0 33.7px,#863f08 0 35.2px,#904407 0 36.7px,#fecd8e 0 38.1px,#9f4d07 0 39.6px,#7f3b08 0 41.1px,#984907 0 42.5px,#8a4108 0 44.0px,#c1650a 0 45.5px,#904407 0 46.9px,#894108 0 48.4px,#8a4108 0 49.9px,#f1a142 0 51.3px,#8d4307 0 52.8px,#db7e13 0 54.3px,#8c4208 0 55.8px,#fdb863 0 57.2px,#874008 0 58.7px,#843e08 0 60.2px,#954707 0 61.6px,#894008 0 63.1px,#7f3b08 0 64.6px,#934607 0 66.0px,#a04d07 0 67.5px,#a75106 0 69.0px,#a45007 0 70.4px,#984907 0 71.9px,#914507 0 73.4px,#7f3b08 0 74.8px,#954707 0 76.3px,#f1a142 0 77.8px,#be6209 0 79.2px,#934607 0 80.7px,#924507 0 82.2px,#944707 0 83.6px,#ee9c3a 0 85.1px,#f6ab4f 0 86.6px,#9b4a07 0 88.0px,#994a07 0 89.5px,#8c4207 0 91.0px,#7f3b08 0 92.4px,#994907 0 93.9px,#aa5306 0 95.4px,#9a4a07 0 96.8px,#974807 0 98.3px,#9e4c07 0 101.2px,#9a4a07 0 102.7px,#884008 0 104.2px,#a75106 0 105.6px,#a45007 0 107.1px,#8c4207 0 108.6px,#b25806 0 110.0px,#9c4b07 0 111.5px)"></div><div class="h" style="left:365px;top:515.04px;width:111.5px;height:4.96px;background:linear-gradient(90deg,#934607 0 1.5px,#9f4d07 0 4.4px,#823d08 0 5.9px,#9d4b07 0 7.3px,#8a4108 0 8.8px,#a45007 0 10.3px,#8b4208 0 11.7px,#d0730f 0 13.2px,#974807 0 14.7px,#884008 0 16.1px,#863f08 0 17.6px,#874008 0 19.1px,#7f3b08 0 20.5px,#974807 0 22.0px,#fdc073 0 23.5px,#b35806 0 24.9px,#7f3b08 0 26.4px,#904407 0 27.9px,#944607 0 29.3px,#a24e07 0 30.8px,#a75106 0 32.3px,#7f3b08 0 33.7px,#8c4207 0 35.2px,#7f3b08 0 36.7px,#a14e07 0 38.1px,#873f08 0 39.6px,#8d4307 0 41.1px,#863f08 0 42.5px,#b75c07 0 44.0px,#9d4c07 0 45.5px,#894108 0 46.9px,#9e4c07 0 48.4px,#fcb660 0 49.9px,#e2861a 0 51.3px,#8a4108 0 52.8px,#ad5506 0 54.3px,#7f3b08 0 55.8px,#934607 0 57.2px,#924507 0 58.7px,#894008 0 60.2px,#863f08 0 61.6px,#954707 0 63.1px,#964807 0 64.6px,#924507 0 66.0px,#894108 0 67.5px,#f2a345 0 69.0px,#894108 0 70.4px,#ad5506 0 71.9px,#964807 0 73.4px,#813c08 0 74.8px,#954707 0 76.3px,#7f3b08 0 77.8px,#974807 0 79.2px,#b05606 0 80.7px,#974807 0 82.2px,#8e4407 0 83.6px,#954707 0 85.1px,#e3881c 0 86.6px,#fdcc8c 0 88.0px,#a55007 0 89.5px,#a75206 0 91.0px,#964807 0 92.4px,#a04e07 0 93.9px,#803c08 0 95.4px,#8b4208 0 96.8px,#934607 0 98.3px,#863f08 0 99.8px,#853f08 0 101.2px,#8f4407 0 102.7px,#813c08 0 104.2px,#aa5306 0 105.6px,#9f4d07 0 107.1px,#c0640a 0 108.6px,#8b4208 0 110.0px,#a85206 0 111.5px)"></div><div class="h" style="left:365px;top:519.99px;width:111.5px;height:4.96px;background:linear-gradient(90deg,#9e4c07 0 1.5px,#9f4d07 0 2.9px,#8c4208 0 4.4px,#a65107 0 5.9px,#de8013 0 7.3px,#ac5406 0 8.8px,#f5a94c 0 10.3px,#934607 0 11.7px,#924607 0 13.2px,#843e08 0 14.7px,#8e4307 0 16.1px,#914507 0 17.6px,#974807 0 19.1px,#8f4407 0 20.5px,#914507 0 22.0px,#924607 0 23.5px,#a85206 0 24.9px,#ac5406 0 26.4px,#9f4d07 0 27.9px,#994907 0 29.3px,#7f3b08 0 30.8px,#934607 0 32.3px,#944607 0 33.7px,#7f3b08 0 35.2px,#934607 0 36.7px,#c4680b 0 38.1px,#a65007 0 39.6px,#7f3b08 0 42.5px,#944707 0 44.0px,#994907 0 45.5px,#a14e07 0 46.9px,#a55007 0 48.4px,#7f3b08 0 49.9px,#be6209 0 51.3px,#944707 0 52.8px,#c3670b 0 54.3px,#9b4b07 0 55.8px,#8d4307 0 57.2px,#7f3b08 0 60.2px,#914507 0 61.6px,#984907 0 63.1px,#a45007 0 64.6px,#7f3b08 0 66.0px,#954707 0 67.5px,#e4891e 0 69.0px,#9d4c07 0 70.4px,#8b4208 0 71.9px,#974807 0 73.4px,#853f08 0 74.8px,#9e4c07 0 76.3px,#7f3b08 0 77.8px,#853e08 0 79.2px,#884008 0 80.7px,#9b4a07 0 82.2px,#894008 0 83.6px,#8e4307 0 85.1px,#8d4307 0 86.6px,#fdc47b 0 88.0px,#7f3b08 0 89.5px,#a14e07 0 91.0px,#874008 0 92.4px,#9d4c07 0 93.9px,#984907 0 95.4px,#843e08 0 96.8px,#7f3b08 0 99.8px,#fab35c 0 101.2px,#db7d12 0 102.7px,#964807 0 104.2px,#914507 0 105.6px,#aa5306 0 107.1px,#a55007 0 108.6px,#7f3b08 0 110.0px,#9a4a07 0 111.5px)"></div><div class="h" style="left:365px;top:524.93px;width:111.5px;height:4.96px;background:linear-gradient(90deg,#873f08 0 1.5px,#884008 0 4.4px,#8e4407 0 5.9px,#fdcc8c 0 7.3px,#a34f07 0 8.8px,#8d4307 0 10.3px,#7f3b08 0 11.7px,#8f4407 0 13.2px,#994a07 0 14.7px,#8b4108 0 16.1px,#bf630a 0 17.6px,#a85206 0 19.1px,#f9b058 0 20.5px,#984907 0 22.0px,#a34f07 0 23.5px,#9b4b07 0 24.9px,#7f3b08 0 26.4px,#924507 0 27.9px,#fdc985 0 29.3px,#b35806 0 30.8px,#b95d08 0 32.3px,#7f3b08 0 33.7px,#964807 0 35.2px,#7f3b08 0 36.7px,#954707 0 38.1px,#823d08 0 39.6px,#853f08 0 41.1px,#944707 0 42.5px,#833d08 0 44.0px,#7f3b08 0 45.5px,#884008 0 46.9px,#874008 0 49.9px,#8d4307 0 51.3px,#9f4d07 0 52.8px,#a65106 0 54.3px,#914507 0 55.8px,#b75c07 0 57.2px,#924607 0 58.7px,#9d4c07 0 60.2px,#994907 0 63.1px,#924507 0 64.6px,#7f3b08 0 66.0px,#a75106 0 67.5px,#9a4a07 0 69.0px,#934607 0 70.4px,#984907 0 71.9px,#884008 0 73.4px,#7f3b08 0 74.8px,#9b4b07 0 76.3px,#884008 0 77.8px,#8c4208 0 79.2px,#8f4407 0 80.7px,#7f3b08 0 82.2px,#944707 0 83.6px,#9a4a07 0 85.1px,#8e4407 0 86.6px,#e4891e 0 88.0px,#a24f07 0 89.5px,#ab5406 0 91.0px,#914507 0 92.4px,#964807 0 93.9px,#7f3b08 0 95.4px,#914507 0 96.8px,#8f4407 0 98.3px,#894008 0 99.8px,#8c4207 0 101.2px,#7f3b08 0 102.7px,#803c08 0 104.2px,#884008 0 107.1px,#964807 0 108.6px,#9e4c07 0 110.0px,#924607 0 111.5px)"></div><div class="h" style="left:365px;top:529.88px;width:111.5px;height:4.96px;background:linear-gradient(90deg,#b25806 0 1.5px,#8c4208 0 2.9px,#904507 0 4.4px,#984907 0 5.9px,#7f3b08 0 7.3px,#9c4b07 0 8.8px,#aa5306 0 10.3px,#a85206 0 11.7px,#a55007 0 13.2px,#924607 0 14.7px,#853e08 0 16.1px,#8e4307 0 17.6px,#884008 0 19.1px,#9a4a07 0 20.5px,#8f4407 0 22.0px,#b35806 0 23.5px,#a75106 0 24.9px,#7f3b08 0 26.4px,#954707 0 27.9px,#fdcb8b 0 29.3px,#8b4208 0 30.8px,#b95d08 0 32.3px,#8d4307 0 33.7px,#823d08 0 35.2px,#964807 0 36.7px,#8d4307 0 38.1px,#833d08 0 39.6px,#8a4108 0 41.1px,#984907 0 42.5px,#e3871b 0 44.0px,#fecd8e 0 45.5px,#833d08 0 46.9px,#af5606 0 48.4px,#e9942e 0 49.9px,#7f3b08 0 52.8px,#a34f07 0 54.3px,#7f3b08 0 55.8px,#f6ac51 0 57.2px,#b75c07 0 58.7px,#934607 0 60.2px,#9c4b07 0 61.6px,#e78e26 0 63.1px,#a14e07 0 64.6px,#a55007 0 66.0px,#9e4c07 0 67.5px,#ea9530 0 69.0px,#7f3b08 0 70.4px,#954707 0 71.9px,#9c4b07 0 73.4px,#9e4c07 0 74.8px,#904407 0 76.3px,#884008 0 77.8px,#7f3b08 0 79.2px,#9b4b07 0 80.7px,#894108 0 82.2px,#8b4208 0 83.6px,#7f3b08 0 85.1px,#fdbe70 0 86.6px,#a55007 0 88.0px,#964807 0 89.5px,#a55007 0 91.0px,#8c4207 0 92.4px,#813c08 0 93.9px,#8f4407 0 95.4px,#8d4307 0 96.8px,#aa5306 0 98.3px,#863f08 0 99.8px,#9b4b07 0 101.2px,#8a4108 0 102.7px,#8e4407 0 104.2px,#9a4a07 0 105.6px,#9b4a07 0 107.1px,#a65007 0 108.6px,#8a4108 0 110.0px,#7f3b08 0 111.5px)"></div><div class="h" style="left:365px;top:534.82px;width:111.5px;height:4.96px;background:linear-gradient(90deg,#8f4407 0 1.5px,#fdc57d 0 2.9px,#7f3b08 0 4.4px,#874008 0 5.9px,#974807 0 7.3px,#994907 0 8.8px,#8e4307 0 10.3px,#863f08 0 11.7px,#8f4407 0 13.2px,#974807 0 14.7px,#7f3b08 0 17.6px,#813c08 0 19.1px,#7f3b08 0 20.5px,#a55007 0 22.0px,#e4891e 0 23.5px,#974807 0 24.9px,#884008 0 26.4px,#994a07 0 27.9px,#9d4c07 0 29.3px,#e08315 0 30.8px,#904407 0 32.3px,#984907 0 33.7px,#8e4307 0 35.2px,#9b4b07 0 36.7px,#aa5306 0 38.1px,#843e08 0 39.6px,#874008 0 41.1px,#7f3b08 0 44.0px,#a45007 0 45.5px,#944707 0 46.9px,#9b4a07 0 48.4px,#823d08 0 49.9px,#f8af55 0 51.3px,#813c08 0 52.8px,#9b4b07 0 54.3px,#863f08 0 55.8px,#e58a20 0 57.2px,#8f4407 0 58.7px,#974807 0 60.2px,#833d08 0 61.6px,#7f3b08 0 63.1px,#9a4a07 0 64.6px,#8a4108 0 66.0px,#a95306 0 67.5px,#fdb863 0 69.0px,#8d4307 0 70.4px,#b75b07 0 71.9px,#7f3b08 0 73.4px,#974907 0 74.8px,#914507 0 76.3px,#fdc680 0 77.8px,#a14e07 0 79.2px,#934607 0 80.7px,#9e4c07 0 82.2px,#833d08 0 83.6px,#924607 0 85.1px,#f1a243 0 86.6px,#7f3b08 0 88.0px,#863f08 0 89.5px,#a34f07 0 91.0px,#924607 0 92.4px,#9a4a07 0 93.9px,#a24e07 0 95.4px,#954707 0 96.8px,#974907 0 98.3px,#9b4a07 0 99.8px,#974907 0 101.2px,#a34f07 0 102.7px,#a45007 0 104.2px,#8e4307 0 105.6px,#b25706 0 107.1px,#be6209 0 108.6px,#a55007 0 110.0px,#9b4b07 0 111.5px)"></div><div class="h" style="left:365px;top:539.76px;width:111.5px;height:4.96px;background:linear-gradient(90deg,#7f3b08 0 1.5px,#9e4c07 0 2.9px,#9f4d07 0 4.4px,#954707 0 5.9px,#a04e07 0 7.3px,#8f4407 0 8.8px,#a04d07 0 10.3px,#f8ae55 0 11.7px,#9d4c07 0 13.2px,#884008 0 14.7px,#8f4407 0 16.1px,#9e4c07 0 17.6px,#9a4a07 0 19.1px,#964807 0 20.5px,#a75106 0 22.0px,#964807 0 23.5px,#a44f07 0 24.9px,#934607 0 26.4px,#a65107 0 27.9px,#9d4c07 0 29.3px,#7f3b08 0 30.8px,#924607 0 32.3px,#9d4c07 0 33.7px,#7f3b08 0 36.7px,#c1650a 0 38.1px,#914507 0 39.6px,#944707 0 41.1px,#a45007 0 42.5px,#ee9c3a 0 44.0px,#924607 0 45.5px,#9d4c07 0 46.9px,#8a4108 0 48.4px,#a34f07 0 49.9px,#fdca89 0 51.3px,#8f4407 0 52.8px,#a45007 0 54.3px,#8e4407 0 55.8px,#914507 0 57.2px,#8a4108 0 58.7px,#974907 0 60.2px,#a24e07 0 61.6px,#a45007 0 63.1px,#813c08 0 64.6px,#aa5306 0 66.0px,#a45007 0 67.5px,#7f3b08 0 69.0px,#a34f07 0 70.4px,#924607 0 71.9px,#934607 0 73.4px,#904507 0 74.8px,#954707 0 76.3px,#924607 0 77.8px,#8c4207 0 79.2px,#8b4208 0 80.7px,#813c08 0 82.2px,#964807 0 83.6px,#833d08 0 85.1px,#924607 0 86.6px,#7f3b08 0 88.0px,#9d4c07 0 89.5px,#ab5306 0 91.0px,#944707 0 92.4px,#984907 0 93.9px,#7f3b08 0 95.4px,#a04e07 0 96.8px,#974807 0 98.3px,#a95306 0 99.8px,#964807 0 101.2px,#ee9c3a 0 102.7px,#813c08 0 104.2px,#aa5306 0 105.6px,#af5606 0 107.1px,#ad5406 0 108.6px,#9b4b07 0 110.0px,#a14e07 0 111.5px)"></div><div class="h" style="left:365px;top:544.71px;width:111.5px;height:4.96px;background:linear-gradient(90deg,#ca6e0d 0 1.5px,#813c08 0 2.9px,#9d4c07 0 4.4px,#873f08 0 5.9px,#fdbd6e 0 7.3px,#7f3b08 0 8.8px,#8f4407 0 10.3px,#9e4c07 0 11.7px,#8d4307 0 13.2px,#944707 0 14.7px,#813c08 0 16.1px,#9b4b07 0 17.6px,#7f3b08 0 19.1px,#873f08 0 20.5px,#9e4c07 0 22.0px,#9c4b07 0 23.5px,#ea942e 0 24.9px,#914507 0 26.4px,#8a4108 0 27.9px,#8d4307 0 29.3px,#833d08 0 30.8px,#b75b07 0 32.3px,#9d4c07 0 33.7px,#8b4208 0 35.2px,#934607 0 36.7px,#fdc47c 0 38.1px,#7f3b08 0 39.6px,#874008 0 41.1px,#934607 0 42.5px,#843e08 0 44.0px,#964807 0 45.5px,#9a4a07 0 46.9px,#ac5406 0 48.4px,#fecc8d 0 49.9px,#a04e07 0 51.3px,#7f3b08 0 52.8px,#a24e07 0 54.3px,#874008 0 55.8px,#a14e07 0 57.2px,#8d4307 0 58.7px,#904507 0 60.2px,#984907 0 61.6px,#7f3b08 0 63.1px,#9f4d07 0 64.6px,#9c4b07 0 66.0px,#9b4a07 0 67.5px,#7f3b08 0 69.0px,#813c08 0 70.4px,#b25806 0 71.9px,#843e08 0 73.4px,#813c08 0 74.8px,#a14e07 0 76.3px,#984907 0 77.8px,#9b4b07 0 79.2px,#bc6109 0 80.7px,#a04d07 0 82.2px,#ee9b39 0 83.6px,#954807 0 85.1px,#833d08 0 86.6px,#ea942f 0 88.0px,#803c08 0 89.5px,#974807 0 91.0px,#823d08 0 92.4px,#9c4b07 0 93.9px,#934607 0 95.4px,#974907 0 96.8px,#a04d07 0 98.3px,#a55007 0 99.8px,#974807 0 101.2px,#7f3b08 0 102.7px,#823d08 0 104.2px,#a04e07 0 105.6px,#7f3b08 0 107.1px,#964807 0 108.6px,#a85206 0 110.0px,#7f3b08 0 111.5px)"></div><div class="h" style="left:365px;top:549.65px;width:111.5px;height:4.96px;background:linear-gradient(90deg,#904507 0 1.5px,#874008 0 2.9px,#8b4208 0 4.4px,#984907 0 5.9px,#c2660b 0 7.3px,#a04d07 0 8.8px,#9b4a07 0 10.3px,#954707 0 11.7px,#8b4208 0 13.2px,#884008 0 14.7px,#8e4307 0 16.1px,#aa5306 0 17.6px,#843e08 0 20.5px,#7f3b08 0 22.0px,#a24e07 0 23.5px,#8e4307 0 24.9px,#7f3b08 0 26.4px,#803b08 0 27.9px,#813c08 0 29.3px,#b55a07 0 30.8px,#843e08 0 32.3px,#7f3b08 0 36.7px,#964807 0 38.1px,#894008 0 39.6px,#863f08 0 41.1px,#8c4208 0 42.5px,#9c4b07 0 44.0px,#884008 0 45.5px,#b05706 0 46.9px,#a75106 0 48.4px,#9d4c07 0 49.9px,#8d4307 0 51.3px,#823d08 0 52.8px,#9c4b07 0 54.3px,#9d4c07 0 55.8px,#a55007 0 57.2px,#7f3b08 0 58.7px,#843e08 0 60.2px,#7f3b08 0 61.6px,#9c4b07 0 63.1px,#974807 0 64.6px,#944707 0 66.0px,#8f4407 0 67.5px,#7f3b08 0 69.0px,#9e4c07 0 70.4px,#ab5406 0 71.9px,#a95306 0 73.4px,#8d4307 0 74.8px,#f1a243 0 76.3px,#8d4307 0 77.8px,#884008 0 80.7px,#9f4d07 0 82.2px,#813c08 0 83.6px,#ab5406 0 85.1px,#874008 0 86.6px,#813c08 0 88.0px,#7f3b08 0 89.5px,#974807 0 91.0px,#813c08 0 92.4px,#9f4d07 0 93.9px,#904407 0 95.4px,#7f3b08 0 96.8px,#954707 0 98.3px,#873f08 0 99.8px,#9b4b07 0 101.2px,#964807 0 102.7px,#803c08 0 104.2px,#954707 0 105.6px,#aa5306 0 107.1px,#a24e07 0 108.6px,#9d4c07 0 110.0px,#7f3b08 0 111.5px)"></div><div class="h" style="left:365px;top:554.60px;width:111.5px;height:4.96px;background:linear-gradient(90deg,#7f3b08 0 1.5px,#b45906 0 2.9px,#fdcb8b 0 4.4px,#934607 0 5.9px,#a04d07 0 7.3px,#b05606 0 8.8px,#8a4108 0 10.3px,#884008 0 11.7px,#7f3b08 0 14.7px,#8c4207 0 16.1px,#a14e07 0 17.6px,#954707 0 19.1px,#984907 0 20.5px,#a04e07 0 22.0px,#f9b058 0 23.5px,#8b4208 0 24.9px,#9d4c07 0 26.4px,#853e08 0 27.9px,#964807 0 29.3px,#fdc47c 0 30.8px,#a04e07 0 32.3px,#843e08 0 33.7px,#873f08 0 35.2px,#a34f07 0 36.7px,#944707 0 38.1px,#8a4108 0 39.6px,#7f3b08 0 41.1px,#813c08 0 42.5px,#c76b0c 0 44.0px,#dc7e13 0 45.5px,#7f3b08 0 46.9px,#a24f07 0 48.4px,#8a4108 0 49.9px,#fecf93 0 51.3px,#964807 0 52.8px,#a34f07 0 54.3px,#994a07 0 55.8px,#ea9530 0 57.2px,#833d08 0 58.7px,#813c08 0 60.2px,#9d4c07 0 61.6px,#7f3b08 0 63.1px,#964807 0 64.6px,#8e4407 0 66.0px,#9d4c07 0 67.5px,#863f08 0 69.0px,#ac5406 0 70.4px,#9b4b07 0 71.9px,#853f08 0 73.4px,#833d08 0 74.8px,#ad5506 0 76.3px,#7f3b08 0 79.2px,#9c4b07 0 80.7px,#8c4208 0 82.2px,#984907 0 83.6px,#8e4307 0 85.1px,#bd6109 0 86.6px,#a85206 0 88.0px,#7f3b08 0 89.5px,#ab5406 0 91.0px,#a04e07 0 92.4px,#e48a20 0 93.9px,#a85206 0 95.4px,#964807 0 96.8px,#8c4208 0 98.3px,#863f08 0 99.8px,#904407 0 101.2px,#813c08 0 102.7px,#a65106 0 104.2px,#9a4a07 0 105.6px,#944707 0 107.1px,#8a4108 0 108.6px,#9f4d07 0 110.0px,#a04d07 0 111.5px)"></div><div class="h" style="left:365px;top:559.54px;width:111.5px;height:4.96px;background:linear-gradient(90deg,#a75106 0 1.5px,#a34f07 0 2.9px,#964807 0 4.4px,#a14e07 0 5.9px,#924507 0 7.3px,#914507 0 8.8px,#a24e07 0 10.3px,#874008 0 11.7px,#964807 0 13.2px,#994a07 0 14.7px,#9b4a07 0 16.1px,#a85206 0 17.6px,#9e4c07 0 19.1px,#a55007 0 20.5px,#944707 0 22.0px,#a65106 0 23.5px,#884008 0 24.9px,#843e08 0 26.4px,#fdbd6e 0 27.9px,#944607 0 29.3px,#cd700e 0 30.8px,#9f4d07 0 32.3px,#954707 0 33.7px,#7f3b08 0 35.2px,#994907 0 36.7px,#853f08 0 38.1px,#924507 0 39.6px,#8e4307 0 41.1px,#984907 0 42.5px,#a34f07 0 44.0px,#8c4208 0 45.5px,#874008 0 46.9px,#8d4307 0 48.4px,#fdc175 0 49.9px,#e18316 0 51.3px,#924607 0 52.8px,#994907 0 54.3px,#873f08 0 55.8px,#fbb45d 0 57.2px,#9f4d07 0 58.7px,#853e08 0 60.2px,#904507 0 61.6px,#7f3b08 0 63.1px,#994a07 0 64.6px,#8c4208 0 66.0px,#a65107 0 67.5px,#e28518 0 69.0px,#873f08 0 70.4px,#9f4d07 0 71.9px,#924607 0 73.4px,#a75206 0 74.8px,#964807 0 76.3px,#803c08 0 77.8px,#924507 0 79.2px,#9a4a07 0 80.7px,#9f4d07 0 82.2px,#f9b057 0 83.6px,#a14e07 0 85.1px,#894008 0 86.6px,#a45007 0 88.0px,#934607 0 89.5px,#a04e07 0 91.0px,#8d4307 0 92.4px,#873f08 0 93.9px,#7f3b08 0 95.4px,#813c08 0 96.8px,#924507 0 98.3px,#874008 0 99.8px,#944707 0 101.2px,#a04d07 0 102.7px,#7f3b08 0 105.6px,#9c4b07 0 107.1px,#7f3b08 0 108.6px,#a24f07 0 110.0px,#964807 0 111.5px)"></div><div class="h" style="left:365px;top:564.48px;width:111.5px;height:4.96px;background:linear-gradient(90deg,#a95206 0 1.5px,#8f4407 0 2.9px,#a24f07 0 4.4px,#8e4307 0 5.9px,#a24e07 0 7.3px,#9a4a07 0 8.8px,#994907 0 10.3px,#833d08 0 11.7px,#904407 0 13.2px,#8c4207 0 14.7px,#7f3b08 0 16.1px,#8f4407 0 17.6px,#9f4d07 0 19.1px,#9c4b07 0 20.5px,#974907 0 22.0px,#b85c07 0 23.5px,#934607 0 24.9px,#813c08 0 26.4px,#863f08 0 27.9px,#a24e07 0 29.3px,#813c08 0 30.8px,#b75b07 0 32.3px,#934607 0 33.7px,#7f3b08 0 35.2px,#914507 0 36.7px,#8b4108 0 38.1px,#7f3b08 0 39.6px,#904407 0 41.1px,#944707 0 42.5px,#fecd8e 0 44.0px,#7f3b08 0 45.5px,#aa5306 0 46.9px,#8c4207 0 48.4px,#853e08 0 49.9px,#803b08 0 51.3px,#853f08 0 52.8px,#8a4108 0 54.3px,#984907 0 55.8px,#8f4407 0 57.2px,#7f3b08 0 58.7px,#9d4c07 0 60.2px,#a55007 0 61.6px,#7f3b08 0 63.1px,#8f4407 0 64.6px,#b05606 0 66.0px,#994907 0 67.5px,#d1740f 0 69.0px,#7f3b08 0 70.4px,#a04e07 0 71.9px,#9e4c07 0 73.4px,#853e08 0 74.8px,#7f3b08 0 76.3px,#904507 0 77.8px,#904407 0 79.2px,#aa5306 0 80.7px,#a04d07 0 82.2px,#7f3b08 0 83.6px,#a04e07 0 85.1px,#e3881c 0 86.6px,#8d4307 0 88.0px,#894108 0 89.5px,#a24e07 0 91.0px,#a55007 0 92.4px,#884008 0 93.9px,#a95306 0 95.4px,#8b4208 0 96.8px,#7f3b08 0 98.3px,#9d4c07 0 99.8px,#7f3b08 0 101.2px,#873f08 0 102.7px,#934607 0 104.2px,#af5606 0 105.6px,#7f3b08 0 107.1px,#803b08 0 108.6px,#924507 0 110.0px,#934607 0 111.5px)"></div><div class="h" style="left:365px;top:569.43px;width:111.5px;height:4.96px;background:linear-gradient(90deg,#914507 0 1.5px,#964807 0 2.9px,#894108 0 4.4px,#a24e07 0 5.9px,#f7ad53 0 7.3px,#be630a 0 8.8px,#a34f07 0 10.3px,#8c4207 0 11.7px,#803c08 0 13.2px,#914507 0 14.7px,#8d4307 0 16.1px,#a14e07 0 17.6px,#9c4b07 0 19.1px,#9d4c07 0 20.5px,#a85206 0 22.0px,#a24f07 0 23.5px,#b95d08 0 24.9px,#b45906 0 26.4px,#954707 0 27.9px,#fdc177 0 29.3px,#944707 0 30.8px,#ad5506 0 32.3px,#7f3b08 0 35.2px,#a85206 0 36.7px,#cd700e 0 38.1px,#813c08 0 39.6px,#7f3b08 0 41.1px,#b45906 0 42.5px,#a24e07 0 44.0px,#fdbe6f 0 45.5px,#a34f07 0 48.4px,#cf720f 0 49.9px,#823d08 0 51.3px,#8f4407 0 52.8px,#a34f07 0 54.3px,#b05606 0 55.8px,#fdc074 0 57.2px,#a34f07 0 58.7px,#b95e08 0 60.2px,#9c4b07 0 61.6px,#a24f07 0 63.1px,#964807 0 64.6px,#863f08 0 66.0px,#b95e08 0 67.5px,#7f3b08 0 69.0px,#9d4c07 0 70.4px,#b45906 0 71.9px,#9f4d07 0 73.4px,#fdc177 0 74.8px,#b25706 0 76.3px,#7f3b08 0 77.8px,#a34f07 0 79.2px,#9c4b07 0 80.7px,#9f4d07 0 82.2px,#8e4407 0 83.6px,#914507 0 85.1px,#cb6f0e 0 86.6px,#ab5306 0 88.0px,#7f3b08 0 89.5px,#a45007 0 91.0px,#853e08 0 92.4px,#914507 0 93.9px,#b45906 0 95.4px,#944707 0 96.8px,#984907 0 98.3px,#7f3b08 0 99.8px,#8c4207 0 101.2px,#f3a547 0 102.7px,#b15706 0 104.2px,#a04d07 0 105.6px,#a95206 0 107.1px,#9a4a07 0 108.6px,#884008 0 110.0px,#934607 0 111.5px)"></div><div class="h" style="left:365px;top:574.37px;width:111.5px;height:4.96px;background:linear-gradient(90deg,#934607 0 1.5px,#853f08 0 2.9px,#a55007 0 4.4px,#853e08 0 5.9px,#a14e07 0 7.3px,#8a4108 0 8.8px,#884008 0 10.3px,#813c08 0 11.7px,#7f3b08 0 16.1px,#9c4b07 0 17.6px,#954807 0 19.1px,#a55007 0 20.5px,#8c4207 0 22.0px,#f9b159 0 23.5px,#7f3b08 0 24.9px,#f3a547 0 26.4px,#8b4108 0 27.9px,#fdc47c 0 29.3px,#e9932d 0 30.8px,#bd6209 0 32.3px,#9d4c07 0 33.7px,#de8013 0 35.2px,#884008 0 36.7px,#ed9a38 0 38.1px,#8a4108 0 39.6px,#a24f07 0 41.1px,#a45007 0 42.5px,#8f4407 0 44.0px,#823d08 0 45.5px,#b95e08 0 46.9px,#974907 0 48.4px,#fdc47c 0 49.9px,#fdbc6c 0 51.3px,#894108 0 52.8px,#8e4307 0 54.3px,#924607 0 55.8px,#ed9936 0 57.2px,#8b4108 0 58.7px,#833d08 0 60.2px,#a55007 0 61.6px,#964807 0 63.1px,#b15706 0 64.6px,#964807 0 66.0px,#b05606 0 67.5px,#863f08 0 69.0px,#9f4d07 0 70.4px,#f2a445 0 71.9px,#af5606 0 73.4px,#8c4208 0 74.8px,#974907 0 76.3px,#c96c0d 0 77.8px,#7f3b08 0 79.2px,#fab25b 0 80.7px,#b55a07 0 82.2px,#944707 0 83.6px,#a85206 0 85.1px,#9b4b07 0 86.6px,#fab25a 0 88.0px,#9a4a07 0 89.5px,#984907 0 91.0px,#8b4208 0 92.4px,#9a4a07 0 93.9px,#884008 0 95.4px,#944707 0 96.8px,#994907 0 98.3px,#974807 0 99.8px,#934607 0 102.7px,#8c4207 0 104.2px,#ad5406 0 105.6px,#874008 0 107.1px,#954707 0 108.6px,#b55a07 0 110.0px,#ab5306 0 111.5px)"></div><div class="h" style="left:365px;top:579.32px;width:111.5px;height:4.96px;background:linear-gradient(90deg,#9d4c07 0 1.5px,#b65b07 0 2.9px,#934607 0 4.4px,#aa5306 0 5.9px,#e2861a 0 7.3px,#a14e07 0 8.8px,#b65b07 0 10.3px,#a34f07 0 11.7px,#7f3b08 0 13.2px,#a04d07 0 14.7px,#8b4208 0 16.1px,#934607 0 17.6px,#af5606 0 19.1px,#a45007 0 20.5px,#a55007 0 22.0px,#e4891e 0 23.5px,#a95306 0 24.9px,#7f3b08 0 26.4px,#a45007 0 27.9px,#894108 0 29.3px,#d57710 0 30.8px,#8b4208 0 32.3px,#8f4407 0 33.7px,#7f3b08 0 35.2px,#964807 0 36.7px,#a04d07 0 38.1px,#934607 0 39.6px,#984907 0 41.1px,#843e08 0 42.5px,#fecf93 0 44.0px,#fed095 0 45.5px,#7f3b08 0 46.9px,#ee9c3a 0 48.4px,#8f4407 0 49.9px,#fde4c1 0 51.3px,#7f3b08 0 52.8px,#944707 0 54.3px,#974807 0 55.8px,#cb6f0e 0 57.2px,#954707 0 58.7px,#894108 0 60.2px,#8b4208 0 61.6px,#7f3b08 0 63.1px,#813c08 0 64.6px,#904407 0 66.0px,#914507 0 67.5px,#fee1b8 0 69.0px,#9f4d07 0 70.4px,#ad5506 0 71.9px,#b55a07 0 73.4px,#a45007 0 74.8px,#7f3b08 0 76.3px,#954707 0 77.8px,#974807 0 79.2px,#8b4208 0 80.7px,#c0640a 0 82.2px,#a75106 0 83.6px,#b45906 0 85.1px,#823c08 0 86.6px,#f5a94d 0 88.0px,#894008 0 89.5px,#9a4a07 0 91.0px,#a65106 0 92.4px,#a24f07 0 93.9px,#af5606 0 95.4px,#a75106 0 96.8px,#924607 0 98.3px,#9d4c07 0 99.8px,#9e4d07 0 101.2px,#ee9c3a 0 102.7px,#e9922b 0 104.2px,#924507 0 105.6px,#9c4b07 0 108.6px,#ba5e08 0 110.0px,#ae5506 0 111.5px)"></div><div class="h" style="left:365px;top:584.26px;width:111.5px;height:4.96px;background:linear-gradient(90deg,#904507 0 1.5px,#a65106 0 2.9px,#7f3b08 0 4.4px,#924507 0 5.9px,#f9b057 0 7.3px,#8d4307 0 8.8px,#a95206 0 10.3px,#7f3b08 0 13.2px,#a65106 0 14.7px,#7f3b08 0 16.1px,#fdca88 0 17.6px,#904507 0 19.1px,#b05706 0 20.5px,#874008 0 22.0px,#fdc37a 0 23.5px,#8a4108 0 24.9px,#b05606 0 26.4px,#833d08 0 27.9px,#fdca88 0 29.3px,#b85d08 0 30.8px,#803c08 0 32.3px,#9a4a07 0 33.7px,#843e08 0 35.2px,#bd6209 0 36.7px,#f2a446 0 38.1px,#924607 0 39.6px,#7f3b08 0 41.1px,#843e08 0 42.5px,#e9932d 0 44.0px,#d27510 0 45.5px,#a34f07 0 46.9px,#fde3bf 0 48.4px,#e58b22 0 49.9px,#a45007 0 51.3px,#a75106 0 52.8px,#884008 0 54.3px,#873f08 0 55.8px,#9d4c07 0 57.2px,#9c4b07 0 58.7px,#833d08 0 60.2px,#924607 0 61.6px,#904407 0 63.1px,#8c4207 0 64.6px,#9d4c07 0 66.0px,#7f3b08 0 67.5px,#9c4b07 0 69.0px,#a34f07 0 70.4px,#a65106 0 71.9px,#8f4407 0 73.4px,#8e4307 0 74.8px,#ac5406 0 76.3px,#fdca88 0 77.8px,#a55007 0 79.2px,#7f3b08 0 80.7px,#9a4a07 0 83.6px,#8c4208 0 85.1px,#904407 0 86.6px,#c5690c 0 88.0px,#8f4407 0 89.5px,#9f4d07 0 91.0px,#a24f07 0 92.4px,#7f3b08 0 93.9px,#a24e07 0 95.4px,#fdc47b 0 96.8px,#964807 0 98.3px,#894008 0 99.8px,#9d4c07 0 101.2px,#8b4208 0 102.7px,#843e08 0 104.2px,#9c4b07 0 105.6px,#974807 0 107.1px,#a24e07 0 108.6px,#954707 0 110.0px,#843e08 0 111.5px)"></div><div class="h" style="left:365px;top:589.20px;width:111.5px;height:4.96px;background:linear-gradient(90deg,#ae5506 0 1.5px,#a85206 0 2.9px,#c96c0d 0 4.4px,#984907 0 5.9px,#fed39c 0 7.3px,#974807 0 8.8px,#924607 0 10.3px,#823c08 0 11.7px,#fed095 0 13.2px,#833d08 0 14.7px,#a65107 0 16.1px,#ac5406 0 17.6px,#924607 0 19.1px,#8d4307 0 20.5px,#924607 0 22.0px,#f1a243 0 23.5px,#a45007 0 24.9px,#924607 0 26.4px,#874008 0 27.9px,#fdc681 0 29.3px,#fed39b 0 30.8px,#b15706 0 32.3px,#924507 0 33.7px,#9f4d07 0 35.2px,#8d4307 0 36.7px,#feddaf 0 38.1px,#b65b07 0 39.6px,#904507 0 42.5px,#fdbe6f 0 44.0px,#fece91 0 45.5px,#894008 0 46.9px,#964807 0 48.4px,#e3881c 0 49.9px,#ce720f 0 51.3px,#894008 0 52.8px,#7f3b08 0 54.3px,#813c08 0 55.8px,#fcb761 0 57.2px,#8c4307 0 58.7px,#9b4a07 0 60.2px,#7f3b08 0 61.6px,#9e4d07 0 63.1px,#884008 0 64.6px,#b55a07 0 66.0px,#ae5506 0 67.5px,#7f3b08 0 69.0px,#9a4a07 0 70.4px,#863f08 0 71.9px,#a34f07 0 73.4px,#9c4b07 0 74.8px,#944707 0 76.3px,#fed59e 0 77.8px,#8f4407 0 79.2px,#974807 0 80.7px,#aa5306 0 82.2px,#7f3b08 0 83.6px,#fedbac 0 85.1px,#7f3b08 0 86.6px,#f6ac51 0 88.0px,#9d4b07 0 89.5px,#9c4b07 0 91.0px,#843e08 0 92.4px,#a04d07 0 93.9px,#ab5306 0 95.4px,#823d08 0 96.8px,#ac5406 0 98.3px,#b55a07 0 99.8px,#954707 0 102.7px,#7f3b08 0 104.2px,#c2660b 0 105.6px,#aa5306 0 107.1px,#944707 0 108.6px,#f9b057 0 110.0px,#954707 0 111.5px)"></div><div class="h" style="left:365px;top:594.15px;width:111.5px;height:4.96px;background:linear-gradient(90deg,#904507 0 1.5px,#934607 0 2.9px,#944707 0 4.4px,#863f08 0 5.9px,#c4680b 0 7.3px,#b55a07 0 8.8px,#a04e07 0 10.3px,#fde4c1 0 11.7px,#a34f07 0 13.2px,#a45007 0 14.7px,#8b4108 0 16.1px,#7f3b08 0 17.6px,#a04d07 0 19.1px,#833d08 0 20.5px,#c96d0d 0 22.0px,#c1650a 0 23.5px,#974807 0 24.9px,#8e4307 0 27.9px,#fde4c1 0 29.3px,#7f3b08 0 30.8px,#ab5406 0 32.3px,#874008 0 33.7px,#894008 0 35.2px,#ac5406 0 36.7px,#a04d07 0 38.1px,#8b4208 0 39.6px,#af5606 0 41.1px,#7f3b08 0 42.5px,#f8af56 0 44.0px,#8d4307 0 45.5px,#9f4d07 0 46.9px,#823c08 0 48.4px,#fab25a 0 49.9px,#b45906 0 51.3px,#984907 0 52.8px,#a75106 0 54.3px,#fdbc6a 0 55.8px,#f3a648 0 57.2px,#e08214 0 58.7px,#8e4407 0 60.2px,#9e4c07 0 61.6px,#853e08 0 63.1px,#7f3b08 0 64.6px,#fdc176 0 66.0px,#a24e07 0 67.5px,#a14e07 0 69.0px,#853e08 0 70.4px,#9f4d07 0 71.9px,#833d08 0 73.4px,#a44f07 0 74.8px,#ed9a37 0 76.3px,#863f08 0 77.8px,#8d4307 0 79.2px,#7f3b08 0 80.7px,#8d4307 0 82.2px,#8c4208 0 83.6px,#934607 0 85.1px,#d97b12 0 86.6px,#f9b057 0 88.0px,#954707 0 89.5px,#9c4b07 0 91.0px,#974807 0 92.4px,#a85206 0 93.9px,#7f3b08 0 95.4px,#914507 0 96.8px,#924607 0 98.3px,#ad5506 0 99.8px,#9f4d07 0 101.2px,#8a4108 0 102.7px,#b45906 0 104.2px,#904507 0 105.6px,#a75106 0 107.1px,#b35806 0 108.6px,#954707 0 110.0px,#a75106 0 111.5px)"></div><div class="h" style="left:365px;top:599.09px;width:111.5px;height:4.96px;background:linear-gradient(90deg,#b65b07 0 1.5px,#b25806 0 2.9px,#a14e07 0 4.4px,#a55007 0 5.9px,#fecf92 0 7.3px,#9f4d07 0 8.8px,#924507 0 10.3px,#fed39b 0 11.7px,#a04e07 0 13.2px,#823d08 0 14.7px,#8b4208 0 16.1px,#a14e07 0 17.6px,#ad5506 0 19.1px,#914507 0 20.5px,#e28519 0 22.0px,#ec9834 0 23.5px,#8e4407 0 24.9px,#863f08 0 26.4px,#7f3b08 0 27.9px,#fdc47b 0 29.3px,#ec9834 0 30.8px,#b35806 0 32.3px,#b45906 0 33.7px,#8b4208 0 35.2px,#ca6d0d 0 36.7px,#944707 0 38.1px,#8c4208 0 39.6px,#944707 0 41.1px,#813c08 0 42.5px,#984907 0 44.0px,#d97b12 0 45.5px,#a75106 0 46.9px,#a14e07 0 48.4px,#ca6e0d 0 49.9px,#fed5a0 0 51.3px,#813c08 0 52.8px,#b15706 0 54.3px,#914507 0 55.8px,#fdbc6b 0 57.2px,#833d08 0 58.7px,#a04e07 0 60.2px,#9f4d07 0 61.6px,#a55007 0 63.1px,#954707 0 64.6px,#9c4b07 0 66.0px,#ac5406 0 67.5px,#fed298 0 69.0px,#e78f27 0 70.4px,#b65b07 0 71.9px,#7f3b08 0 73.4px,#843e08 0 74.8px,#a04d07 0 76.3px,#7f3b08 0 79.2px,#b55a07 0 80.7px,#7f3b08 0 82.2px,#974807 0 83.6px,#924607 0 85.1px,#d37610 0 86.6px,#fcb660 0 88.0px,#8d4307 0 89.5px,#a45007 0 91.0px,#a04d07 0 92.4px,#ef9e3e 0 93.9px,#984907 0 95.4px,#853f08 0 96.8px,#8a4108 0 98.3px,#a55007 0 99.8px,#a44f07 0 101.2px,#c76a0c 0 102.7px,#8c4208 0 104.2px,#9d4c07 0 105.6px,#8a4108 0 107.1px,#853f08 0 108.6px,#a55007 0 110.0px,#944707 0 111.5px)"></div><div class="h" style="left:365px;top:604.04px;width:111.5px;height:4.96px;background:linear-gradient(90deg,#803c08 0 1.5px,#7f3b08 0 2.9px,#a14e07 0 4.4px,#853e08 0 5.9px,#b55a07 0 7.3px,#a85206 0 8.8px,#af5606 0 10.3px,#964807 0 11.7px,#b15706 0 13.2px,#894108 0 14.7px,#994907 0 16.1px,#9f4d07 0 17.6px,#ad5506 0 19.1px,#7f3b08 0 20.5px,#8b4108 0 22.0px,#e4891e 0 23.5px,#974907 0 24.9px,#914507 0 26.4px,#994a07 0 27.9px,#a85206 0 29.3px,#fdc278 0 30.8px,#a55007 0 32.3px,#ec9935 0 33.7px,#843e08 0 35.2px,#ed9a38 0 36.7px,#874008 0 38.1px,#904407 0 39.6px,#7f3b08 0 41.1px,#a65107 0 42.5px,#f3a548 0 44.0px,#954707 0 45.5px,#9c4b07 0 46.9px,#984907 0 48.4px,#da7c12 0 49.9px,#9f4d07 0 51.3px,#7f3b08 0 52.8px,#a95306 0 54.3px,#8f4407 0 55.8px,#b25806 0 57.2px,#9d4c07 0 58.7px,#7f3b08 0 60.2px,#994907 0 61.6px,#934607 0 63.1px,#7f3b08 0 64.6px,#a34f07 0 66.0px,#af5606 0 67.5px,#fed59e 0 69.0px,#a04d07 0 70.4px,#984907 0 71.9px,#934607 0 73.4px,#863f08 0 74.8px,#a55007 0 76.3px,#8f4407 0 77.8px,#a04d07 0 79.2px,#9c4b07 0 80.7px,#ab5306 0 82.2px,#803c08 0 83.6px,#7f3b08 0 85.1px,#fde4c3 0 86.6px,#934607 0 89.5px,#a44f07 0 91.0px,#c96c0d 0 92.4px,#9c4b07 0 93.9px,#914507 0 95.4px,#904407 0 96.8px,#8f4407 0 98.3px,#813c08 0 99.8px,#803b08 0 101.2px,#fedfb4 0 102.7px,#d87b12 0 104.2px,#a24f07 0 105.6px,#914507 0 107.1px,#a85206 0 108.6px,#a34f07 0 110.0px,#8e4307 0 111.5px)"></div><div class="h" style="left:365px;top:608.98px;width:111.5px;height:4.96px;background:linear-gradient(90deg,#9a4a07 0 1.5px,#873f08 0 2.9px,#fbe9cf 0 4.4px,#bc6009 0 5.9px,#fde4c0 0 7.3px,#f5a94d 0 8.8px,#e8912a 0 10.3px,#874008 0 11.7px,#fdbc6b 0 13.2px,#994a07 0 14.7px,#7f3b08 0 16.1px,#a55007 0 17.6px,#994907 0 19.1px,#b25806 0 20.5px,#ba5f08 0 22.0px,#fdb964 0 23.5px,#fce7ca 0 24.9px,#843e08 0 26.4px,#cd710e 0 27.9px,#e8e9f1 0 29.3px,#eeeff4 0 30.8px,#b15706 0 32.3px,#a45007 0 33.7px,#8f4407 0 35.2px,#ce720f 0 36.7px,#fedcad 0 38.1px,#a34f07 0 39.6px,#8a4108 0 41.1px,#7f3b08 0 42.5px,#ebecf2 0 44.0px,#faefdf 0 45.5px,#c66a0c 0 46.9px,#c0640a 0 48.4px,#dc7f13 0 49.9px,#feddb0 0 51.3px,#984907 0 52.8px,#a95306 0 54.3px,#e8912b 0 55.8px,#de8013 0 57.2px,#7f3b08 0 58.7px,#ac5406 0 60.2px,#b55906 0 61.6px,#7f3b08 0 63.1px,#964807 0 64.6px,#ad5406 0 66.0px,#b75b07 0 67.5px,#fed7a3 0 69.0px,#b55a07 0 70.4px,#a45007 0 71.9px,#a55007 0 73.4px,#ad5506 0 74.8px,#d0730f 0 76.3px,#e3871c 0 77.8px,#be6209 0 79.2px,#eff0f4 0 80.7px,#994907 0 82.2px,#7f3b08 0 83.6px,#a04d07 0 85.1px,#e3e4ef 0 86.6px,#fed39b 0 88.0px,#9f4d07 0 89.5px,#bb5f08 0 91.0px,#853f08 0 92.4px,#b45906 0 93.9px,#fdc175 0 95.4px,#994907 0 96.8px,#fed9a7 0 98.3px,#873f08 0 99.8px,#843e08 0 101.2px,#fbb45d 0 102.7px,#ae5506 0 104.2px,#bd6209 0 105.6px,#bc6109 0 107.1px,#ab5306 0 108.6px,#bc6109 0 110.0px,#d37610 0 111.5px)"></div><div class="h" style="left:365px;top:613.92px;width:111.5px;height:4.96px;background:linear-gradient(90deg,#a44f07 0 1.5px,#aa5306 0 2.9px,#b45906 0 4.4px,#a24f07 0 5.9px,#fbead3 0 7.3px,#bc6009 0 8.8px,#d37610 0 10.3px,#b75b07 0 11.7px,#c76b0c 0 13.2px,#833d08 0 14.7px,#a55007 0 16.1px,#a34f07 0 17.6px,#c5690c 0 19.1px,#b35806 0 20.5px,#a65107 0 22.0px,#fdb965 0 23.5px,#a24e07 0 24.9px,#a75106 0 26.4px,#ae5506 0 27.9px,#fbe9ce 0 29.3px,#f6f6f6 0 30.8px,#be6209 0 32.3px,#bc6009 0 33.7px,#823d08 0 35.2px,#ec9935 0 36.7px,#ce710e 0 38.1px,#bd6109 0 39.6px,#fed298 0 41.1px,#bc6109 0 42.5px,#e9eaf2 0 44.0px,#dee0ed 0 45.5px,#ae5506 0 46.9px,#cd710e 0 48.4px,#f7f7f7 0 49.9px,#e3871c 0 51.3px,#9d4c07 0 52.8px,#a24f07 0 54.3px,#aa5306 0 55.8px,#fed39b 0 57.2px,#c3670b 0 58.7px,#b45906 0 60.2px,#b95e08 0 61.6px,#894008 0 63.1px,#ba5e08 0 64.6px,#9a4a07 0 66.0px,#9b4b07 0 67.5px,#f0f0f4 0 69.0px,#7f3b08 0 70.4px,#9d4c07 0 71.9px,#faeede 0 73.4px,#934607 0 74.8px,#ce710e 0 76.3px,#dfe0ee 0 77.8px,#a04e07 0 79.2px,#b45906 0 80.7px,#8d4307 0 82.2px,#7f3b08 0 83.6px,#b45906 0 85.1px,#e6e7f1 0 86.6px,#da7c12 0 88.0px,#b85d08 0 89.5px,#f9b159 0 91.0px,#ad5506 0 92.4px,#ba5f08 0 93.9px,#a45007 0 95.4px,#7f3b08 0 96.8px,#f9f0e3 0 98.3px,#f5aa4e 0 99.8px,#faeede 0 101.2px,#fee0b6 0 102.7px,#ab5306 0 104.2px,#c2660b 0 105.6px,#be6209 0 107.1px,#d47610 0 108.6px,#c96d0d 0 110.0px,#ebecf3 0 111.5px)"></div><div class="h" style="left:365px;top:618.87px;width:111.5px;height:4.96px;background:linear-gradient(90deg,#a04e07 0 1.5px,#b15706 0 2.9px,#974907 0 4.4px,#b05606 0 5.9px,#e4891f 0 7.3px,#b65a07 0 8.8px,#8c4208 0 10.3px,#9d4c07 0 11.7px,#fee1b9 0 13.2px,#9d4c07 0 14.7px,#8c4207 0 16.1px,#8c4208 0 17.6px,#9a4a07 0 19.1px,#c0640a 0 20.5px,#944707 0 22.0px,#fce8cd 0 23.5px,#9d4c07 0 24.9px,#fdbe70 0 26.4px,#e8e9f1 0 27.9px,#fdb863 0 29.3px,#f7f6f3 0 30.8px,#a55007 0 32.3px,#bb5f08 0 33.7px,#7f3b08 0 35.2px,#af5606 0 36.7px,#d87a11 0 38.1px,#a65106 0 39.6px,#c3670b 0 41.1px,#b25706 0 42.5px,#d67911 0 44.0px,#ed9936 0 45.5px,#f3f3f5 0 46.9px,#cc6f0e 0 48.4px,#edeef3 0 49.9px,#f3f3f6 0 51.3px,#ae5506 0 52.8px,#964807 0 54.3px,#7f3b08 0 55.8px,#faecd9 0 57.2px,#924607 0 58.7px,#863f08 0 60.2px,#ad5406 0 61.6px,#b35806 0 63.1px,#7f3b08 0 64.6px,#8e4307 0 66.0px,#b15706 0 67.5px,#e6e7f0 0 69.0px,#873f08 0 70.4px,#b45906 0 71.9px,#a45007 0 73.4px,#7f3b08 0 74.8px,#a95306 0 76.3px,#f0f1f4 0 77.8px,#b55a07 0 79.2px,#c86c0d 0 80.7px,#c96c0d 0 82.2px,#7f3b08 0 83.6px,#ad5406 0 85.1px,#f1a243 0 86.6px,#fee1ba 0 88.0px,#894008 0 89.5px,#ac5406 0 91.0px,#853e08 0 92.4px,#f8f5f0 0 93.9px,#af5606 0 95.4px,#b35806 0 96.8px,#803b08 0 98.3px,#bf630a 0 99.8px,#934607 0 101.2px,#f4a74a 0 102.7px,#b15706 0 104.2px,#8a4108 0 105.6px,#b15706 0 107.1px,#ac5406 0 108.6px,#fecc8d 0 110.0px,#aa5306 0 111.5px)"></div><div class="h" style="left:365px;top:623.81px;width:111.5px;height:4.96px;background:linear-gradient(90deg,#e2861a 0 1.5px,#a45007 0 2.9px,#a34f07 0 4.4px,#9c4b07 0 5.9px,#f8af55 0 7.3px,#8c4207 0 8.8px,#894008 0 10.3px,#a75106 0 11.7px,#cd700e 0 13.2px,#884008 0 14.7px,#7f3b08 0 16.1px,#b15706 0 17.6px,#853e08 0 19.1px,#9d4c07 0 20.5px,#853f08 0 22.0px,#fedbac 0 23.5px,#a75106 0 24.9px,#8d4307 0 26.4px,#9a4a07 0 27.9px,#f09f3f 0 29.3px,#f9f0e3 0 30.8px,#a85206 0 32.3px,#914507 0 33.7px,#cd700e 0 35.2px,#b65b07 0 36.7px,#dee0ed 0 38.1px,#7f3b08 0 41.1px,#954707 0 42.5px,#fde4c2 0 44.0px,#fed5a0 0 45.5px,#894108 0 46.9px,#ca6d0d 0 48.4px,#fdc57e 0 49.9px,#ef9e3e 0 51.3px,#a04d07 0 52.8px,#b05606 0 54.3px,#803b08 0 55.8px,#feddaf 0 57.2px,#7f3b08 0 58.7px,#934607 0 60.2px,#b55a07 0 61.6px,#a65007 0 63.1px,#fcb660 0 64.6px,#b55a07 0 66.0px,#b35806 0 67.5px,#e08214 0 69.0px,#ab5306 0 70.4px,#a65107 0 71.9px,#b35806 0 73.4px,#954707 0 74.8px,#be6209 0 76.3px,#ededf3 0 77.8px,#b75b07 0 79.2px,#b65a07 0 80.7px,#a55007 0 82.2px,#8b4208 0 83.6px,#fdc883 0 85.1px,#ebebf2 0 86.6px,#fedbac 0 88.0px,#994907 0 89.5px,#aa5306 0 91.0px,#8b4208 0 92.4px,#853e08 0 93.9px,#9e4c07 0 95.4px,#a85206 0 96.8px,#a34f07 0 98.3px,#bc6009 0 99.8px,#b15706 0 101.2px,#f9b159 0 102.7px,#b15706 0 104.2px,#b55a07 0 105.6px,#fdc175 0 107.1px,#904507 0 108.6px,#914507 0 110.0px,#b35806 0 111.5px)"></div><div class="h" style="left:365px;top:628.76px;width:111.5px;height:4.96px;background:linear-gradient(90deg,#c2660b 0 1.5px,#a24f07 0 2.9px,#9e4c07 0 4.4px,#9f4d07 0 5.9px,#fecf92 0 7.3px,#b95d08 0 8.8px,#a95206 0 10.3px,#b85d08 0 11.7px,#c86b0c 0 13.2px,#f2a445 0 14.7px,#924607 0 16.1px,#e3e4ef 0 17.6px,#954707 0 19.1px,#7f3b08 0 20.5px,#b05606 0 22.0px,#e5e6f0 0 23.5px,#b95e08 0 24.9px,#a04e07 0 26.4px,#a34f07 0 27.9px,#f1a243 0 29.3px,#fde3bf 0 30.8px,#fed59f 0 32.3px,#b85d08 0 33.7px,#a24e07 0 35.2px,#d27510 0 36.7px,#fedfb5 0 38.1px,#a04e07 0 39.6px,#7f3b08 0 41.1px,#af5606 0 42.5px,#fdc57d 0 44.0px,#d57811 0 45.5px,#bf640a 0 46.9px,#b75c07 0 48.4px,#fbebd4 0 49.9px,#e4891e 0 51.3px,#a55007 0 52.8px,#ab5406 0 54.3px,#ba5e08 0 55.8px,#fdc47c 0 57.2px,#9c4b07 0 58.7px,#7f3b08 0 63.1px,#a34f07 0 64.6px,#d87a11 0 66.0px,#b85d08 0 67.5px,#fee1b9 0 69.0px,#b85d08 0 70.4px,#8d4307 0 71.9px,#c1650a 0 73.4px,#974807 0 74.8px,#fdca89 0 76.3px,#f5f5f6 0 77.8px,#884008 0 79.2px,#c86c0d 0 80.7px,#9e4d07 0 82.2px,#d87a11 0 83.6px,#b85c07 0 85.1px,#f0f1f4 0 86.6px,#fed197 0 88.0px,#fee1b9 0 89.5px,#a65107 0 91.0px,#994907 0 92.4px,#b45906 0 93.9px,#ba5f08 0 95.4px,#7f3b08 0 96.8px,#9f4d07 0 98.3px,#c1650a 0 99.8px,#a04d07 0 101.2px,#fecf93 0 102.7px,#994a07 0 104.2px,#b05606 0 105.6px,#8a4108 0 107.1px,#964807 0 108.6px,#c66a0c 0 110.0px,#a85206 0 111.5px)"></div><div class="h" style="left:192.5px;top:328.1px;width:117.5px;height:27.5px;background:linear-gradient(90deg,#f0a050 0.0px 0.5px,#1010ff 0.5px 11.6px,#8060a0 11.6px 12.1px,#1010ff 12.1px 16.6px,#000000 16.6px 21.9px,#000060 21.9px 24.3px,#000000 24.3px 27.9px,#ffa500 27.9px 29.5px,#000000 29.5px 39.2px,#1010ff 39.2px 45.0px,#0000c0 45.0px 45.5px,#1010ff 45.5px 47.5px,#000080 47.5px 48.1px,#1010ff 48.1px 50.5px,#000080 50.5px 51.1px,#1010ff 51.1px 53.5px,#000000 53.5px 55.3px,#000070 55.3px 56.0px,#000000 56.0px 59.0px,#0000a0 59.0px 60.0px,#000000 60.0px 61.5px,#0000c0 61.5px 62.1px,#000000 62.1px 64.1px,#ffa500 64.1px 64.9px,#1010ff 64.9px 67.6px,#ffa500 67.6px 68.2px,#1010ff 68.2px 71.8px,#ffa500 71.8px 81.0px,#c08040 81.0px 81.8px,#ffa500 81.8px 89.2px,#c08040 89.2px 90.0px,#ffa500 90.0px 103.5px,#a07060 103.5px 104.1px,#ffa500 104.1px 105.5px,#806080 105.5px 106.2px,#ffa500 106.2px 117.5px)"></div><div class="h" style="left:365px;top:327.5px;width:111.5px;height:27.7px;background:linear-gradient(90deg,#ffa500 0.0px 1.8px,#10108a 1.8px 5.1px,#6a4040 5.1px 6.2px,#10108a 6.2px 8.0px,#8a5a30 8.0px 9.7px,#704a80 9.7px 11.4px,#10108a 11.4px 13.1px,#3a30d0 13.1px 16.0px,#6048c0 16.0px 20.1px,#10108a 20.1px 21.2px,#ffa500 21.2px 22.1px,#10108a 22.1px 24.1px,#2020e0 24.1px 25.8px,#7a5090 25.8px 27.6px,#100830 27.6px 29.9px,#b07030 29.9px 31.0px,#301870 31.0px 33.9px,#8a5a80 33.9px 35.1px,#100850 35.1px 39.1px,#8a5a50 39.1px 45.4px,#10108a 45.4px 48.9px,#e09030 48.9px 53.3px,#ffa500 53.3px 54.3px,#10108a 54.3px 55.9px,#ffa500 55.9px 58.2px,#8a5a80 58.2px 59.7px,#0a0530 59.7px 62.0px,#ffa500 62.0px 63.4px,#10108a 63.4px 65.1px,#ffa500 65.1px 66.6px,#10108a 66.6px 68.6px,#b07020 68.6px 70.3px,#201008 70.3px 72.0px,#10108a 72.0px 73.8px,#3030e0 73.8px 76.1px,#d89030 76.1px 80.1px,#8a5a80 80.1px 85.9px,#ffa500 85.9px 86.7px,#302080 86.7px 91.1px,#ffa500 91.1px 92.8px,#402080 92.8px 95.1px,#b07030 95.1px 99.1px,#0a0550 99.1px 105.5px,#6040a0 105.5px 107.2px,#ffa500 107.2px 111.5px)"></div><div class="h" style="left:193px;top:360.3px;width:117.0px;height:25.5px;background:linear-gradient(90deg,#d88a20 0.0px 3.6px,#000000 3.6px 5.3px,#8a5020 5.3px 7.1px,#000000 7.1px 8.9px,#ffa500 8.9px 9.9px,#10108a 9.9px 11.3px,#9a6090 11.3px 13.1px,#301808 13.1px 14.9px,#c07820 14.9px 16.7px,#804818 16.7px 18.5px,#ffa500 18.5px 19.6px,#000000 19.6px 20.8px,#1010ff 20.8px 22.0px,#ffa500 22.0px 23.8px,#08082a 23.8px 25.6px,#ffa500 25.6px 26.8px,#000000 26.8px 28.6px,#1010ff 28.6px 31.0px,#8a5a80 31.0px 32.8px,#000000 32.8px 34.5px,#1010ff 34.5px 36.3px,#000000 36.3px 38.1px,#c07a20 38.1px 39.9px,#2a1808 39.9px 41.7px,#ffa500 41.7px 42.9px,#2a1808 42.9px 44.7px,#ffa500 44.7px 45.9px,#140a04 45.9px 49.4px,#c07a20 49.4px 51.2px,#2a1808 51.2px 52.4px,#ffa500 52.4px 53.6px,#0a0aa0 53.6px 55.4px,#000000 55.4px 61.8px,#6a4aa8 61.8px 66.5px,#ffa500 66.5px 68.3px,#4a3080 68.3px 70.1px,#c07a20 70.1px 72.5px,#7a5090 72.5px 76.7px,#ffa500 76.7px 78.5px,#6a4aa8 78.5px 80.2px,#1010ff 80.2px 82.0px,#c07a20 82.0px 83.8px,#4030c0 83.8px 86.2px,#ffa500 86.2px 87.4px,#402890 87.4px 91.6px,#100890 91.6px 93.4px,#b07060 93.4px 95.1px,#1010ff 95.1px 98.1px,#ffa500 98.1px 99.9px,#8a5a80 99.9px 104.7px,#ffa500 104.7px 106.5px,#6a4aa8 106.5px 108.3px,#5040b0 108.3px 112.4px,#ffa500 112.4px 114.2px,#6a4aa8 114.2px 116.0px,#ffa500 116.0px 117.0px)"></div><div class="h" style="left:365px;top:359.8px;width:111.5px;height:25.0px;background:linear-gradient(90deg,#10108a 0.0px 1.8px,#ffa500 1.8px 3.9px,#10108a 3.9px 5.1px,#1010ff 5.1px 8.5px,#000000 8.5px 10.8px,#302050 10.8px 13.1px,#704020 13.1px 14.9px,#000000 14.9px 17.8px,#302010 17.8px 21.2px,#000000 21.2px 22.4px,#ffa500 22.4px 24.1px,#7050a0 24.1px 27.6px,#ffa500 27.6px 31.6px,#c07020 31.6px 33.9px,#9a6060 33.9px 36.2px,#ffa500 36.2px 37.9px,#804020 37.9px 40.3px,#000000 40.3px 42.0px,#4030d0 42.0px 44.3px,#6a4aa8 44.3px 46.0px,#1010ff 46.0px 47.7px,#ffa500 47.7px 49.5px,#6a4aa8 49.5px 51.2px,#ffa500 51.2px 52.9px,#10108a 52.9px 54.7px,#b08060 54.7px 55.3px,#10108a 55.3px 57.0px,#ffa500 57.0px 58.8px,#302090 58.8px 60.5px,#c07830 60.5px 63.4px,#6a4aa8 63.4px 64.5px,#1010ff 64.5px 65.5px,#6a4aa8 65.5px 68.0px,#8a5a80 68.0px 69.7px,#6a4aa8 69.7px 71.5px,#8a5020 71.5px 73.2px,#302090 73.2px 74.9px,#8a5a80 74.9px 76.6px,#ffa500 76.6px 77.8px,#3020a0 77.8px 81.3px,#c07a20 81.3px 83.0px,#7a5a9a 83.0px 86.4px,#10108a 86.4px 88.2px,#ffa500 88.2px 89.3px,#3030d0 89.3px 92.8px,#10108a 92.8px 94.5px,#000000 94.5px 96.8px,#c07a20 96.8px 98.6px,#10108a 98.6px 100.3px,#201008 100.3px 103.7px,#10108a 103.7px 105.5px,#ffa500 105.5px 107.8px,#201008 107.8px 109.5px,#ffa500 109.5px 111.5px)"></div>
<svg width="520" height="674" viewBox="0 0 520 674">
<text x="6.8" y="15.0" font-size="11.5" text-anchor="start" font-weight="bold" >A</text>
<path d="M17.00,45.50 L30.80,45.50 L30.80,44.20 L34.27,44.20 L34.27,45.50 L37.74,45.50 L37.74,45.50 L41.21,45.50 L41.21,45.50 L44.68,45.50 L44.68,45.50 L48.15,45.50 L48.15,45.50 L51.62,45.50 L51.62,45.50 L55.09,45.50 L55.09,44.20 L58.56,44.20 L58.56,37.30 L62.03,37.30 L62.03,41.30 L65.50,41.30 L65.50,42.50 L68.97,42.50 L68.97,35.80 L72.44,35.80 L72.44,27.50 L75.91,27.50 L75.91,31.70 L79.38,31.70 L79.38,30.30 L82.85,30.30 L82.85,39.80 L86.32,39.80 L86.32,29.20 L89.79,29.20 L89.79,23.40 L93.26,23.40 L93.26,27.10 L96.73,27.10 L96.73,31.50 L100.20,31.50 L100.20,29.20 L103.67,29.20 L103.67,20.50 L107.14,20.50 L107.14,27.10 L110.61,27.10 L110.61,31.50 L114.08,31.50 L114.08,30.30 L117.55,30.30 L117.55,31.50 L121.02,31.50 L121.02,34.40 L124.49,34.40 L124.49,44.20 L127.96,44.20 L127.96,42.50 L131.43,42.50 L131.43,42.50 L134.90,42.50 L134.90,44.20 L138.37,44.20 L138.37,45.50 L139.00,45.50 Z" fill="#fde2c2" stroke="none"/>
<path d="M17.00,45.50 L30.80,45.50 L30.80,44.20 L34.27,44.20 L34.27,45.50 L37.74,45.50 L37.74,45.50 L41.21,45.50 L41.21,45.50 L44.68,45.50 L44.68,45.50 L48.15,45.50 L48.15,45.50 L51.62,45.50 L51.62,45.50 L55.09,45.50 L55.09,44.20 L58.56,44.20 L58.56,37.30 L62.03,37.30 L62.03,41.30 L65.50,41.30 L65.50,42.50 L68.97,42.50 L68.97,35.80 L72.44,35.80 L72.44,27.50 L75.91,27.50 L75.91,31.70 L79.38,31.70 L79.38,30.30 L82.85,30.30 L82.85,39.80 L86.32,39.80 L86.32,29.20 L89.79,29.20 L89.79,23.40 L93.26,23.40 L93.26,27.10 L96.73,27.10 L96.73,31.50 L100.20,31.50 L100.20,29.20 L103.67,29.20 L103.67,20.50 L107.14,20.50 L107.14,27.10 L110.61,27.10 L110.61,31.50 L114.08,31.50 L114.08,30.30 L117.55,30.30 L117.55,31.50 L121.02,31.50 L121.02,34.40 L124.49,34.40 L124.49,44.20 L127.96,44.20 L127.96,42.50 L131.43,42.50 L131.43,42.50 L134.90,42.50 L134.90,44.20 L138.37,44.20 L138.37,45.50 L139.00,45.50" fill="none" stroke="#f7941d" stroke-width="1" stroke-linejoin="miter"/>
<path d="M17.00,86.90 L30.80,86.90 L30.80,86.90 L34.27,86.90 L34.27,85.40 L37.74,85.40 L37.74,81.50 L41.21,81.50 L41.21,82.80 L44.68,82.80 L44.68,81.50 L48.15,81.50 L48.15,81.50 L51.62,81.50 L51.62,60.50 L55.09,60.50 L55.09,65.80 L58.56,65.80 L58.56,68.20 L62.03,68.20 L62.03,75.00 L65.50,75.00 L65.50,58.80 L68.97,58.80 L68.97,62.30 L72.44,62.30 L72.44,62.30 L75.91,62.30 L75.91,62.30 L79.38,62.30 L79.38,68.20 L82.85,68.20 L82.85,79.00 L86.32,79.00 L86.32,79.00 L89.79,79.00 L89.79,79.00 L93.26,79.00 L93.26,82.80 L96.73,82.80 L96.73,79.00 L100.20,79.00 L100.20,83.10 L103.67,83.10 L103.67,83.10 L107.14,83.10 L107.14,81.10 L110.61,81.10 L110.61,83.10 L114.08,83.10 L114.08,86.90 L117.55,86.90 L117.55,85.00 L121.02,85.00 L121.02,86.90 L138.80,86.90 Z" fill="#0a5cff" stroke="none"/>
<path d="M17.00,86.90 L30.80,86.90 L30.80,86.90 L34.27,86.90 L34.27,85.40 L37.74,85.40 L37.74,81.50 L41.21,81.50 L41.21,82.80 L44.68,82.80 L44.68,81.50 L48.15,81.50 L48.15,81.50 L51.62,81.50 L51.62,60.50 L55.09,60.50 L55.09,65.80 L58.56,65.80 L58.56,68.20 L62.03,68.20 L62.03,75.00 L65.50,75.00 L65.50,58.80 L68.97,58.80 L68.97,62.30 L72.44,62.30 L72.44,62.30 L75.91,62.30 L75.91,62.30 L79.38,62.30 L79.38,68.20 L82.85,68.20 L82.85,79.00 L86.32,79.00 L86.32,79.00 L89.79,79.00 L89.79,79.00 L93.26,79.00 L93.26,82.80 L96.73,82.80 L96.73,79.00 L100.20,79.00 L100.20,83.10 L103.67,83.10 L103.67,83.10 L107.14,83.10 L107.14,81.10 L110.61,81.10 L110.61,83.10 L114.08,83.10 L114.08,86.90 L117.55,86.90 L117.55,85.00 L121.02,85.00 L121.02,86.90 L138.80,86.90" fill="none" stroke="#1a3cff" stroke-width="1" stroke-linejoin="miter"/>
<path d="M17.00,128.20 L30.80,128.20 L30.80,114.20 L34.27,114.20 L34.27,121.80 L37.74,121.80 L37.74,87.40 L41.21,87.40 L41.21,105.40 L44.68,105.40 L44.68,93.50 L48.15,93.50 L48.15,113.50 L51.62,113.50 L51.62,112.00 L55.09,112.00 L55.09,113.50 L58.56,113.50 L58.56,113.50 L62.03,113.50 L62.03,113.50 L65.50,113.50 L65.50,113.50 L68.97,113.50 L68.97,117.70 L72.44,117.70 L72.44,124.40 L75.91,124.40 L75.91,118.00 L79.38,118.00 L79.38,113.90 L82.85,113.90 L82.85,126.50 L86.32,126.50 L86.32,124.20 L89.79,124.20 L89.79,128.20 L93.26,128.20 L93.26,120.00 L96.73,120.00 L96.73,128.20 L100.20,128.20 L100.20,128.20 L103.67,128.20 L103.67,128.20 L107.14,128.20 L107.14,126.50 L110.61,126.50 L110.61,128.20 L114.08,128.20 L114.08,124.20 L117.55,124.20 L117.55,128.20 L121.02,128.20 L121.02,124.20 L124.49,124.20 L124.49,128.20 L141.00,128.20 Z" fill="#bfbfc4" stroke="none"/>
<path d="M17.00,128.20 L30.80,128.20 L30.80,114.20 L34.27,114.20 L34.27,121.80 L37.74,121.80 L37.74,87.40 L41.21,87.40 L41.21,105.40 L44.68,105.40 L44.68,93.50 L48.15,93.50 L48.15,113.50 L51.62,113.50 L51.62,112.00 L55.09,112.00 L55.09,113.50 L58.56,113.50 L58.56,113.50 L62.03,113.50 L62.03,113.50 L65.50,113.50 L65.50,113.50 L68.97,113.50 L68.97,117.70 L72.44,117.70 L72.44,124.40 L75.91,124.40 L75.91,118.00 L79.38,118.00 L79.38,113.90 L82.85,113.90 L82.85,126.50 L86.32,126.50 L86.32,124.20 L89.79,124.20 L89.79,128.20 L93.26,128.20 L93.26,120.00 L96.73,120.00 L96.73,128.20 L100.20,128.20 L100.20,128.20 L103.67,128.20 L103.67,128.20 L107.14,128.20 L107.14,126.50 L110.61,126.50 L110.61,128.20 L114.08,128.20 L114.08,124.20 L117.55,124.20 L117.55,128.20 L121.02,128.20 L121.02,124.20 L124.49,124.20 L124.49,128.20 L141.00,128.20" fill="none" stroke="#222" stroke-width="0.9" stroke-linejoin="miter"/>
<line x1="15.1" y1="19.9" x2="15.1" y2="129" stroke="#1a1a1a" stroke-width="1.2"/>
<line x1="14.5" y1="128.4" x2="144.9" y2="128.4" stroke="#1a1a1a" stroke-width="1.2"/>
<line x1="12" y1="45.5" x2="15.1" y2="45.5" stroke="#333" stroke-width="1"/>
<line x1="12" y1="86.9" x2="15.1" y2="86.9" stroke="#333" stroke-width="1"/>
<line x1="12" y1="128.2" x2="15.1" y2="128.2" stroke="#333" stroke-width="1"/>
<line x1="15.4" y1="128.2" x2="15.4" y2="131.2" stroke="#333" stroke-width="1"/>
<text x="0" y="0" transform="translate(15.40 140.90) scale(0.93 1)" font-size="8.5" text-anchor="middle" font-weight="normal" fill="#222">0</text>
<line x1="46.85" y1="128.2" x2="46.85" y2="131.2" stroke="#333" stroke-width="1"/>
<text x="0" y="0" transform="translate(46.85 140.90) scale(0.93 1)" font-size="8.5" text-anchor="middle" font-weight="normal" fill="#222">5</text>
<line x1="78.3" y1="128.2" x2="78.3" y2="131.2" stroke="#333" stroke-width="1"/>
<text x="0" y="0" transform="translate(78.30 140.90) scale(0.93 1)" font-size="8.5" text-anchor="middle" font-weight="normal" fill="#222">10</text>
<line x1="109.75" y1="128.2" x2="109.75" y2="131.2" stroke="#333" stroke-width="1"/>
<text x="0" y="0" transform="translate(109.75 140.90) scale(0.93 1)" font-size="8.5" text-anchor="middle" font-weight="normal" fill="#222">15</text>
<line x1="141.2" y1="128.2" x2="141.2" y2="131.2" stroke="#333" stroke-width="1"/>
<text x="0" y="0" transform="translate(141.20 140.90) scale(0.93 1)" font-size="8.5" text-anchor="middle" font-weight="normal" fill="#222">20</text>
<text x="76.2" y="153.5" font-size="9.6" text-anchor="middle" font-weight="normal" fill="#222" textLength="23.4" lengthAdjust="spacingAndGlyphs">TSD (h)</text>
<text x="0" y="0" transform="translate(146.90 47.10) scale(0.97 1)" font-size="8.4" text-anchor="start" font-weight="normal" fill="#222">G2M</text>
<text x="0" y="0" transform="translate(146.80 89.20) scale(0.97 1)" font-size="8.4" text-anchor="start" font-weight="normal" fill="#222">S</text>
<text x="0" y="0" transform="translate(147.00 131.00) scale(0.97 1)" font-size="8.4" text-anchor="start" font-weight="normal" fill="#222">G1</text>
<text x="0" y="0" transform="translate(6.80 173.80) scale(0.9 1)" font-size="11.5" text-anchor="start" font-weight="bold" >C</text>
<text x="0" y="0" transform="translate(7.20 445.60) scale(0.94 1)" font-size="11.5" text-anchor="start" font-weight="bold" >D</text>
<line x1="41.6" y1="173.5" x2="41.6" y2="277.3" stroke="#1a1a1a" stroke-width="1.2"/>
<line x1="41.0" y1="276.7" x2="136" y2="276.7" stroke="#1a1a1a" stroke-width="1.3"/>
<line x1="38.6" y1="177.7" x2="41.6" y2="177.7" stroke="#222" stroke-width="1"/>
<text x="0" y="0" transform="translate(36.20 180.40) scale(0.93 1)" font-size="8.7" text-anchor="end" font-weight="normal" fill="#222">20</text>
<line x1="38.6" y1="207.3" x2="41.6" y2="207.3" stroke="#222" stroke-width="1"/>
<text x="0" y="0" transform="translate(36.20 210.00) scale(0.93 1)" font-size="8.7" text-anchor="end" font-weight="normal" fill="#222">0</text>
<line x1="38.6" y1="236.9" x2="41.6" y2="236.9" stroke="#222" stroke-width="1"/>
<text x="0" y="0" transform="translate(36.20 239.60) scale(0.93 1)" font-size="8.7" text-anchor="end" font-weight="normal" fill="#222">−20</text>
<line x1="38.6" y1="266.5" x2="41.6" y2="266.5" stroke="#222" stroke-width="1"/>
<text x="0" y="0" transform="translate(36.20 269.20) scale(0.93 1)" font-size="8.7" text-anchor="end" font-weight="normal" fill="#222">−40</text>
<line x1="43.1" y1="276.6" x2="43.1" y2="279.6" stroke="#222" stroke-width="1"/>
<text x="0" y="0" transform="translate(40.80 289.00) scale(0.93 1)" font-size="8.7" text-anchor="middle" font-weight="normal" fill="#222">−20</text>
<line x1="60.7" y1="276.6" x2="60.7" y2="279.6" stroke="#222" stroke-width="1"/>
<text x="0" y="0" transform="translate(58.40 289.00) scale(0.93 1)" font-size="8.7" text-anchor="middle" font-weight="normal" fill="#222">−10</text>
<line x1="78.2" y1="276.6" x2="78.2" y2="279.6" stroke="#222" stroke-width="1"/>
<text x="0" y="0" transform="translate(78.20 289.00) scale(0.93 1)" font-size="8.7" text-anchor="middle" font-weight="normal" fill="#222">0</text>
<line x1="96" y1="276.6" x2="96" y2="279.6" stroke="#222" stroke-width="1"/>
<text x="0" y="0" transform="translate(96.00 289.00) scale(0.93 1)" font-size="8.7" text-anchor="middle" font-weight="normal" fill="#222">10</text>
<line x1="113.6" y1="276.6" x2="113.6" y2="279.6" stroke="#222" stroke-width="1"/>
<text x="0" y="0" transform="translate(113.60 289.00) scale(0.93 1)" font-size="8.7" text-anchor="middle" font-weight="normal" fill="#222">20</text>
<line x1="131.5" y1="276.6" x2="131.5" y2="279.6" stroke="#222" stroke-width="1"/>
<text x="0" y="0" transform="translate(131.50 289.00) scale(0.93 1)" font-size="8.7" text-anchor="middle" font-weight="normal" fill="#222">30</text>
<text x="0.0" y="0.0" font-size="10.3" text-anchor="middle" font-weight="normal" fill="#222" textLength="12.9" lengthAdjust="spacingAndGlyphs" transform="translate(17.1 225.25) rotate(-90)">PC2</text>
<line x1="41.6" y1="304.4" x2="41.6" y2="399.3" stroke="#1a1a1a" stroke-width="1.2"/>
<line x1="41.0" y1="398.7" x2="139.4" y2="398.7" stroke="#1a1a1a" stroke-width="1.3"/>
<line x1="38.6" y1="307.1" x2="41.6" y2="307.1" stroke="#222" stroke-width="1"/>
<text x="0" y="0" transform="translate(36.20 309.80) scale(0.93 1)" font-size="8.7" text-anchor="end" font-weight="normal" fill="#222">10</text>
<line x1="38.6" y1="327.2" x2="41.6" y2="327.2" stroke="#222" stroke-width="1"/>
<text x="0" y="0" transform="translate(36.20 329.90) scale(0.93 1)" font-size="8.7" text-anchor="end" font-weight="normal" fill="#222">5</text>
<line x1="38.6" y1="347" x2="41.6" y2="347" stroke="#222" stroke-width="1"/>
<text x="0" y="0" transform="translate(36.20 349.70) scale(0.93 1)" font-size="8.7" text-anchor="end" font-weight="normal" fill="#222">0</text>
<line x1="38.6" y1="366.9" x2="41.6" y2="366.9" stroke="#222" stroke-width="1"/>
<text x="0" y="0" transform="translate(36.20 369.60) scale(0.93 1)" font-size="8.7" text-anchor="end" font-weight="normal" fill="#222">−5</text>
<line x1="38.6" y1="386.8" x2="41.6" y2="386.8" stroke="#222" stroke-width="1"/>
<text x="0" y="0" transform="translate(36.20 389.50) scale(0.93 1)" font-size="8.7" text-anchor="end" font-weight="normal" fill="#222">−10</text>
<line x1="51.2" y1="398.7" x2="51.2" y2="401.7" stroke="#222" stroke-width="1"/>
<text x="0" y="0" transform="translate(48.90 411.10) scale(0.93 1)" font-size="8.7" text-anchor="middle" font-weight="normal" fill="#222">−20</text>
<line x1="83.4" y1="398.7" x2="83.4" y2="401.7" stroke="#222" stroke-width="1"/>
<text x="0" y="0" transform="translate(81.10 411.10) scale(0.93 1)" font-size="8.7" text-anchor="middle" font-weight="normal" fill="#222">−10</text>
<line x1="115.3" y1="398.7" x2="115.3" y2="401.7" stroke="#222" stroke-width="1"/>
<text x="0" y="0" transform="translate(115.30 411.10) scale(0.93 1)" font-size="8.7" text-anchor="middle" font-weight="normal" fill="#222">0</text>
<text x="0.0" y="0.0" font-size="10.3" text-anchor="middle" font-weight="normal" fill="#222" textLength="12.3" lengthAdjust="spacingAndGlyphs" transform="translate(18.3 351.1) rotate(-90)">PC2</text>
<text x="90.0" y="423.8" font-size="9.8" text-anchor="middle" font-weight="normal" fill="#222" textLength="12.2" lengthAdjust="spacingAndGlyphs">PC1</text>
<line x1="85.3" y1="264.5" x2="85.3" y2="306" stroke="#111" stroke-width="1.1"/>
<path d="M81.9,304.8 L88.7,304.8 L85.3,311 Z" fill="#111"/>
<text x="92.0" y="307.6" font-size="7.6" text-anchor="start" font-weight="normal" fill="#333" textLength="45.8" lengthAdjust="spacingAndGlyphs">CC regression</text>
<circle cx="100.5" cy="203.6" r="1.12" fill="#000"/>
<circle cx="120.2" cy="206.2" r="1.12" fill="#000"/>
<circle cx="103.0" cy="205.2" r="1.12" fill="#000"/>
<circle cx="97.8" cy="209.3" r="1.12" fill="#000"/>
<circle cx="106.7" cy="210.5" r="1.12" fill="#000"/>
<circle cx="107.5" cy="207.6" r="1.12" fill="#000"/>
<circle cx="96.1" cy="212.3" r="1.12" fill="#000"/>
<circle cx="96.0" cy="221.4" r="1.12" fill="#000"/>
<circle cx="115.3" cy="211.6" r="1.12" fill="#000"/>
<circle cx="104.7" cy="211.9" r="1.12" fill="#000"/>
<circle cx="100.1" cy="189.6" r="1.12" fill="#000"/>
<circle cx="109.8" cy="208.3" r="1.12" fill="#000"/>
<circle cx="118.2" cy="219.0" r="1.12" fill="#000"/>
<circle cx="99.8" cy="189.2" r="1.12" fill="#000"/>
<circle cx="111.5" cy="211.7" r="1.12" fill="#000"/>
<circle cx="93.6" cy="210.0" r="1.12" fill="#000"/>
<circle cx="115.3" cy="205.5" r="1.12" fill="#000"/>
<circle cx="107.9" cy="214.4" r="1.12" fill="#000"/>
<circle cx="109.9" cy="212.6" r="1.12" fill="#000"/>
<circle cx="113.6" cy="205.7" r="1.12" fill="#000"/>
<circle cx="96.4" cy="203.9" r="1.12" fill="#000"/>
<circle cx="119.2" cy="201.4" r="1.12" fill="#000"/>
<circle cx="114.4" cy="188.9" r="1.12" fill="#000"/>
<circle cx="99.3" cy="214.5" r="1.12" fill="#000"/>
<circle cx="101.2" cy="206.0" r="1.12" fill="#000"/>
<circle cx="110.9" cy="216.4" r="1.12" fill="#000"/>
<circle cx="95.1" cy="200.2" r="1.12" fill="#000"/>
<circle cx="99.3" cy="204.0" r="1.12" fill="#000"/>
<circle cx="121.1" cy="203.6" r="1.12" fill="#000"/>
<circle cx="100.7" cy="198.9" r="1.12" fill="#000"/>
<circle cx="93.6" cy="205.4" r="1.12" fill="#000"/>
<circle cx="113.0" cy="222.0" r="1.12" fill="#000"/>
<circle cx="103.2" cy="207.5" r="1.12" fill="#000"/>
<circle cx="104.0" cy="210.9" r="1.12" fill="#000"/>
<circle cx="109.0" cy="200.3" r="1.12" fill="#000"/>
<circle cx="112.3" cy="214.6" r="1.12" fill="#000"/>
<circle cx="113.5" cy="211.2" r="1.12" fill="#000"/>
<circle cx="107.9" cy="204.1" r="1.12" fill="#000"/>
<circle cx="94.7" cy="200.1" r="1.12" fill="#000"/>
<circle cx="98.9" cy="201.1" r="1.12" fill="#000"/>
<circle cx="106.9" cy="201.8" r="1.12" fill="#000"/>
<circle cx="119.7" cy="211.8" r="1.12" fill="#000"/>
<circle cx="102.7" cy="214.0" r="1.12" fill="#000"/>
<circle cx="118.4" cy="203.0" r="1.12" fill="#000"/>
<circle cx="94.0" cy="205.3" r="1.12" fill="#000"/>
<circle cx="116.2" cy="209.1" r="1.12" fill="#000"/>
<circle cx="124.2" cy="205.8" r="1.12" fill="#000"/>
<circle cx="116.7" cy="215.1" r="1.12" fill="#000"/>
<circle cx="105.4" cy="197.4" r="1.12" fill="#000"/>
<circle cx="101.0" cy="211.2" r="1.12" fill="#000"/>
<circle cx="101.0" cy="203.9" r="1.12" fill="#000"/>
<circle cx="109.3" cy="209.6" r="1.12" fill="#000"/>
<circle cx="103.1" cy="212.9" r="1.12" fill="#000"/>
<circle cx="112.4" cy="199.7" r="1.12" fill="#000"/>
<circle cx="107.4" cy="204.3" r="1.12" fill="#000"/>
<circle cx="122.5" cy="214.9" r="1.12" fill="#000"/>
<circle cx="109.2" cy="206.5" r="1.12" fill="#000"/>
<circle cx="102.5" cy="202.9" r="1.12" fill="#000"/>
<circle cx="121.2" cy="209.3" r="1.12" fill="#000"/>
<circle cx="98.3" cy="208.5" r="1.12" fill="#000"/>
<circle cx="113.4" cy="208.1" r="1.12" fill="#000"/>
<circle cx="96.6" cy="211.5" r="1.12" fill="#000"/>
<circle cx="116.6" cy="197.7" r="1.12" fill="#000"/>
<circle cx="96.6" cy="216.8" r="1.12" fill="#000"/>
<circle cx="97.8" cy="194.9" r="1.12" fill="#000"/>
<circle cx="112.8" cy="207.0" r="1.12" fill="#000"/>
<circle cx="114.2" cy="197.9" r="1.12" fill="#000"/>
<circle cx="119.8" cy="214.1" r="1.12" fill="#000"/>
<circle cx="101.4" cy="202.1" r="1.12" fill="#000"/>
<circle cx="113.3" cy="205.0" r="1.12" fill="#000"/>
<circle cx="113.6" cy="206.0" r="1.12" fill="#000"/>
<circle cx="110.3" cy="198.3" r="1.12" fill="#000"/>
<circle cx="99.0" cy="194.2" r="1.12" fill="#000"/>
<circle cx="101.2" cy="202.3" r="1.12" fill="#000"/>
<circle cx="103.6" cy="207.1" r="1.12" fill="#000"/>
<circle cx="85.4" cy="201.4" r="1.12" fill="#000"/>
<circle cx="108.1" cy="200.1" r="1.12" fill="#000"/>
<circle cx="104.8" cy="192.5" r="1.12" fill="#000"/>
<circle cx="95.3" cy="198.0" r="1.12" fill="#000"/>
<circle cx="91.3" cy="210.1" r="1.12" fill="#000"/>
<circle cx="110.9" cy="208.9" r="1.12" fill="#000"/>
<circle cx="101.9" cy="214.4" r="1.12" fill="#000"/>
<circle cx="114.0" cy="211.1" r="1.12" fill="#000"/>
<circle cx="103.5" cy="204.1" r="1.12" fill="#000"/>
<circle cx="101.8" cy="205.7" r="1.12" fill="#000"/>
<circle cx="91.5" cy="203.4" r="1.12" fill="#000"/>
<circle cx="113.1" cy="209.5" r="1.12" fill="#000"/>
<circle cx="93.9" cy="204.4" r="1.12" fill="#000"/>
<circle cx="96.0" cy="196.2" r="1.12" fill="#000"/>
<circle cx="128.4" cy="209.6" r="1.12" fill="#000"/>
<circle cx="95.7" cy="195.1" r="1.12" fill="#000"/>
<circle cx="102.3" cy="202.6" r="1.12" fill="#000"/>
<circle cx="84.6" cy="192.0" r="1.12" fill="#000"/>
<circle cx="116.0" cy="203.8" r="1.12" fill="#000"/>
<circle cx="89.0" cy="206.5" r="1.12" fill="#000"/>
<circle cx="88.2" cy="213.8" r="1.12" fill="#000"/>
<circle cx="89.8" cy="198.2" r="1.12" fill="#000"/>
<circle cx="96.6" cy="201.9" r="1.12" fill="#000"/>
<circle cx="88.6" cy="197.0" r="1.12" fill="#000"/>
<circle cx="110.9" cy="214.2" r="1.12" fill="#000"/>
<circle cx="119.1" cy="216.2" r="1.12" fill="#000"/>
<circle cx="105.5" cy="208.8" r="1.12" fill="#000"/>
<circle cx="111.9" cy="204.1" r="1.12" fill="#000"/>
<circle cx="109.8" cy="210.0" r="1.12" fill="#000"/>
<circle cx="105.3" cy="205.8" r="1.12" fill="#000"/>
<circle cx="110.6" cy="202.0" r="1.12" fill="#000"/>
<circle cx="92.1" cy="204.3" r="1.12" fill="#000"/>
<circle cx="109.2" cy="200.2" r="1.12" fill="#000"/>
<circle cx="109.4" cy="209.2" r="1.12" fill="#000"/>
<circle cx="104.5" cy="209.6" r="1.12" fill="#000"/>
<circle cx="110.0" cy="208.9" r="1.12" fill="#000"/>
<circle cx="113.2" cy="207.2" r="1.12" fill="#000"/>
<circle cx="92.8" cy="204.2" r="1.12" fill="#000"/>
<circle cx="112.3" cy="207.9" r="1.12" fill="#000"/>
<circle cx="112.0" cy="208.8" r="1.12" fill="#000"/>
<circle cx="97.4" cy="194.3" r="1.12" fill="#000"/>
<circle cx="100.5" cy="201.0" r="1.12" fill="#000"/>
<circle cx="107.0" cy="217.3" r="1.12" fill="#000"/>
<circle cx="91.6" cy="199.2" r="1.12" fill="#000"/>
<circle cx="116.5" cy="216.3" r="1.12" fill="#000"/>
<circle cx="102.9" cy="206.5" r="1.12" fill="#000"/>
<circle cx="109.1" cy="218.0" r="1.12" fill="#000"/>
<circle cx="100.2" cy="200.0" r="1.12" fill="#000"/>
<circle cx="114.1" cy="204.4" r="1.12" fill="#000"/>
<circle cx="105.2" cy="215.5" r="1.12" fill="#000"/>
<circle cx="105.1" cy="206.8" r="1.12" fill="#000"/>
<circle cx="107.5" cy="201.7" r="1.12" fill="#000"/>
<circle cx="107.6" cy="210.2" r="1.12" fill="#000"/>
<circle cx="90.9" cy="200.3" r="1.12" fill="#000"/>
<circle cx="102.4" cy="209.0" r="1.12" fill="#000"/>
<circle cx="113.3" cy="208.2" r="1.12" fill="#000"/>
<circle cx="126.1" cy="203.8" r="1.12" fill="#000"/>
<circle cx="104.6" cy="211.3" r="1.12" fill="#000"/>
<circle cx="105.7" cy="203.6" r="1.12" fill="#000"/>
<circle cx="104.8" cy="206.7" r="1.12" fill="#000"/>
<circle cx="105.5" cy="211.9" r="1.12" fill="#000"/>
<circle cx="88.6" cy="203.5" r="1.12" fill="#000"/>
<circle cx="102.3" cy="204.8" r="1.12" fill="#000"/>
<circle cx="121.8" cy="216.7" r="1.12" fill="#000"/>
<circle cx="112.6" cy="194.1" r="1.12" fill="#000"/>
<circle cx="110.9" cy="198.2" r="1.12" fill="#000"/>
<circle cx="95.8" cy="200.9" r="1.12" fill="#000"/>
<circle cx="122.7" cy="199.8" r="1.12" fill="#000"/>
<circle cx="117.1" cy="219.3" r="1.12" fill="#000"/>
<circle cx="116.1" cy="211.6" r="1.12" fill="#000"/>
<circle cx="118.1" cy="206.7" r="1.12" fill="#000"/>
<circle cx="105.1" cy="209.3" r="1.12" fill="#000"/>
<circle cx="98.5" cy="204.2" r="1.12" fill="#000"/>
<circle cx="109.7" cy="205.7" r="1.12" fill="#000"/>
<circle cx="116.5" cy="208.5" r="1.12" fill="#000"/>
<circle cx="97.0" cy="225.5" r="1.12" fill="#000"/>
<circle cx="118.0" cy="226.0" r="1.12" fill="#000"/>
<circle cx="128.0" cy="229.5" r="1.12" fill="#000"/>
<circle cx="113.0" cy="234.0" r="1.12" fill="#000"/>
<circle cx="117.0" cy="233.0" r="1.12" fill="#000"/>
<circle cx="108.0" cy="240.0" r="1.12" fill="#000"/>
<circle cx="105.0" cy="243.5" r="1.12" fill="#000"/>
<circle cx="110.0" cy="243.5" r="1.12" fill="#000"/>
<circle cx="119.0" cy="240.0" r="1.12" fill="#000"/>
<circle cx="120.0" cy="242.0" r="1.12" fill="#000"/>
<circle cx="84.0" cy="248.0" r="1.12" fill="#000"/>
<circle cx="130.0" cy="215.0" r="1.12" fill="#000"/>
<circle cx="126.0" cy="224.0" r="1.12" fill="#000"/>
<circle cx="52.8" cy="213.4" r="1.12" fill="#ff9a00"/>
<circle cx="61.3" cy="202.4" r="1.12" fill="#ff9a00"/>
<circle cx="52.4" cy="211.1" r="1.12" fill="#ff9a00"/>
<circle cx="59.3" cy="213.3" r="1.12" fill="#ff9a00"/>
<circle cx="52.9" cy="203.5" r="1.12" fill="#ff9a00"/>
<circle cx="60.2" cy="209.0" r="1.12" fill="#ff9a00"/>
<circle cx="63.3" cy="209.9" r="1.12" fill="#ff9a00"/>
<circle cx="57.1" cy="206.6" r="1.12" fill="#ff9a00"/>
<circle cx="67.3" cy="199.6" r="1.12" fill="#ff9a00"/>
<circle cx="54.5" cy="203.3" r="1.12" fill="#ff9a00"/>
<circle cx="57.9" cy="208.6" r="1.12" fill="#ff9a00"/>
<circle cx="56.2" cy="208.5" r="1.12" fill="#ff9a00"/>
<circle cx="58.5" cy="211.4" r="1.12" fill="#ff9a00"/>
<circle cx="61.7" cy="206.4" r="1.12" fill="#ff9a00"/>
<circle cx="50.7" cy="216.8" r="1.12" fill="#ff9a00"/>
<circle cx="52.1" cy="210.7" r="1.12" fill="#ff9a00"/>
<circle cx="51.9" cy="211.8" r="1.12" fill="#ff9a00"/>
<circle cx="54.5" cy="211.3" r="1.12" fill="#ff9a00"/>
<circle cx="70.0" cy="199.1" r="1.12" fill="#ff9a00"/>
<circle cx="60.7" cy="197.9" r="1.12" fill="#ff9a00"/>
<circle cx="56.4" cy="212.7" r="1.12" fill="#ff9a00"/>
<circle cx="57.1" cy="210.4" r="1.12" fill="#ff9a00"/>
<circle cx="57.9" cy="201.7" r="1.12" fill="#ff9a00"/>
<circle cx="59.6" cy="201.7" r="1.12" fill="#ff9a00"/>
<circle cx="64.6" cy="200.1" r="1.12" fill="#ff9a00"/>
<circle cx="60.1" cy="206.2" r="1.12" fill="#ff9a00"/>
<circle cx="61.1" cy="201.9" r="1.12" fill="#ff9a00"/>
<circle cx="61.3" cy="204.7" r="1.12" fill="#ff9a00"/>
<circle cx="62.3" cy="208.4" r="1.12" fill="#ff9a00"/>
<circle cx="58.0" cy="203.0" r="1.12" fill="#ff9a00"/>
<circle cx="60.4" cy="208.8" r="1.12" fill="#ff9a00"/>
<circle cx="63.7" cy="201.5" r="1.12" fill="#ff9a00"/>
<circle cx="59.6" cy="209.6" r="1.12" fill="#ff9a00"/>
<circle cx="58.6" cy="208.5" r="1.12" fill="#ff9a00"/>
<circle cx="58.2" cy="204.0" r="1.12" fill="#ff9a00"/>
<circle cx="53.6" cy="208.3" r="1.12" fill="#ff9a00"/>
<circle cx="59.7" cy="215.5" r="1.12" fill="#ff9a00"/>
<circle cx="61.2" cy="211.7" r="1.12" fill="#ff9a00"/>
<circle cx="60.5" cy="210.1" r="1.12" fill="#ff9a00"/>
<circle cx="58.2" cy="212.1" r="1.12" fill="#ff9a00"/>
<circle cx="64.2" cy="201.4" r="1.12" fill="#ff9a00"/>
<circle cx="54.9" cy="221.5" r="1.12" fill="#ff9a00"/>
<circle cx="58.4" cy="213.1" r="1.12" fill="#ff9a00"/>
<circle cx="60.8" cy="199.0" r="1.12" fill="#ff9a00"/>
<circle cx="66.7" cy="212.3" r="1.12" fill="#ff9a00"/>
<circle cx="58.2" cy="212.0" r="1.12" fill="#ff9a00"/>
<circle cx="58.0" cy="202.4" r="1.12" fill="#ff9a00"/>
<circle cx="57.1" cy="210.5" r="1.12" fill="#ff9a00"/>
<circle cx="61.7" cy="209.3" r="1.12" fill="#ff9a00"/>
<circle cx="57.7" cy="215.9" r="1.12" fill="#ff9a00"/>
<circle cx="54.6" cy="214.7" r="1.12" fill="#ff9a00"/>
<circle cx="61.7" cy="203.4" r="1.12" fill="#ff9a00"/>
<circle cx="50.7" cy="207.3" r="1.12" fill="#ff9a00"/>
<circle cx="58.4" cy="210.5" r="1.12" fill="#ff9a00"/>
<circle cx="63.4" cy="198.0" r="1.12" fill="#ff9a00"/>
<circle cx="57.5" cy="211.9" r="1.12" fill="#ff9a00"/>
<circle cx="56.9" cy="194.3" r="1.12" fill="#ff9a00"/>
<circle cx="60.6" cy="219.7" r="1.12" fill="#ff9a00"/>
<circle cx="61.3" cy="199.9" r="1.12" fill="#ff9a00"/>
<circle cx="55.9" cy="210.4" r="1.12" fill="#ff9a00"/>
<circle cx="67.0" cy="205.2" r="1.12" fill="#ff9a00"/>
<circle cx="57.9" cy="217.0" r="1.12" fill="#ff9a00"/>
<circle cx="57.2" cy="219.3" r="1.12" fill="#ff9a00"/>
<circle cx="54.9" cy="207.0" r="1.12" fill="#ff9a00"/>
<circle cx="60.2" cy="214.6" r="1.12" fill="#ff9a00"/>
<circle cx="60.0" cy="208.1" r="1.12" fill="#ff9a00"/>
<circle cx="50.6" cy="208.5" r="1.12" fill="#ff9a00"/>
<circle cx="55.2" cy="206.4" r="1.12" fill="#ff9a00"/>
<circle cx="59.7" cy="204.5" r="1.12" fill="#ff9a00"/>
<circle cx="60.5" cy="206.4" r="1.12" fill="#ff9a00"/>
<circle cx="56.2" cy="209.6" r="1.12" fill="#ff9a00"/>
<circle cx="59.1" cy="212.0" r="1.12" fill="#ff9a00"/>
<circle cx="55.7" cy="207.9" r="1.12" fill="#ff9a00"/>
<circle cx="52.3" cy="221.1" r="1.12" fill="#ff9a00"/>
<circle cx="63.0" cy="203.2" r="1.12" fill="#ff9a00"/>
<circle cx="55.7" cy="201.9" r="1.12" fill="#ff9a00"/>
<circle cx="58.1" cy="208.8" r="1.12" fill="#ff9a00"/>
<circle cx="65.8" cy="203.8" r="1.12" fill="#ff9a00"/>
<circle cx="54.5" cy="195.5" r="1.12" fill="#ff9a00"/>
<circle cx="62.9" cy="205.5" r="1.12" fill="#ff9a00"/>
<circle cx="51.4" cy="213.3" r="1.12" fill="#ff9a00"/>
<circle cx="51.4" cy="232.9" r="1.12" fill="#ff9a00"/>
<circle cx="61.8" cy="208.5" r="1.12" fill="#ff9a00"/>
<circle cx="56.8" cy="195.7" r="1.12" fill="#ff9a00"/>
<circle cx="57.0" cy="199.1" r="1.12" fill="#ff9a00"/>
<circle cx="59.8" cy="193.7" r="1.12" fill="#ff9a00"/>
<circle cx="54.1" cy="217.6" r="1.12" fill="#ff9a00"/>
<circle cx="63.7" cy="196.7" r="1.12" fill="#ff9a00"/>
<circle cx="51.7" cy="217.2" r="1.12" fill="#ff9a00"/>
<circle cx="60.7" cy="199.9" r="1.12" fill="#ff9a00"/>
<circle cx="54.9" cy="205.7" r="1.12" fill="#ff9a00"/>
<circle cx="53.0" cy="207.0" r="1.12" fill="#ff9a00"/>
<circle cx="62.3" cy="208.9" r="1.12" fill="#ff9a00"/>
<circle cx="65.3" cy="202.1" r="1.12" fill="#ff9a00"/>
<circle cx="57.0" cy="202.5" r="1.12" fill="#ff9a00"/>
<circle cx="57.0" cy="200.5" r="1.12" fill="#ff9a00"/>
<circle cx="50.7" cy="216.8" r="1.12" fill="#ff9a00"/>
<circle cx="63.0" cy="209.2" r="1.12" fill="#ff9a00"/>
<circle cx="62.6" cy="206.0" r="1.12" fill="#ff9a00"/>
<circle cx="54.8" cy="210.4" r="1.12" fill="#ff9a00"/>
<circle cx="56.1" cy="202.4" r="1.12" fill="#ff9a00"/>
<circle cx="51.1" cy="203.6" r="1.12" fill="#ff9a00"/>
<circle cx="57.5" cy="208.9" r="1.12" fill="#ff9a00"/>
<circle cx="55.7" cy="217.7" r="1.12" fill="#ff9a00"/>
<circle cx="58.2" cy="211.0" r="1.12" fill="#ff9a00"/>
<circle cx="62.1" cy="199.9" r="1.12" fill="#ff9a00"/>
<circle cx="50.0" cy="217.6" r="1.12" fill="#ff9a00"/>
<circle cx="54.9" cy="217.6" r="1.12" fill="#ff9a00"/>
<circle cx="58.8" cy="213.1" r="1.12" fill="#ff9a00"/>
<circle cx="60.4" cy="193.6" r="1.12" fill="#ff9a00"/>
<circle cx="60.2" cy="202.1" r="1.12" fill="#ff9a00"/>
<circle cx="54.6" cy="207.4" r="1.12" fill="#ff9a00"/>
<circle cx="60.4" cy="211.3" r="1.12" fill="#ff9a00"/>
<circle cx="61.3" cy="195.5" r="1.12" fill="#ff9a00"/>
<circle cx="55.3" cy="195.4" r="1.12" fill="#ff9a00"/>
<circle cx="57.1" cy="211.8" r="1.12" fill="#ff9a00"/>
<circle cx="54.6" cy="211.4" r="1.12" fill="#ff9a00"/>
<circle cx="58.4" cy="213.4" r="1.12" fill="#ff9a00"/>
<circle cx="54.4" cy="205.2" r="1.12" fill="#ff9a00"/>
<circle cx="54.6" cy="220.4" r="1.12" fill="#ff9a00"/>
<circle cx="61.6" cy="204.4" r="1.12" fill="#ff9a00"/>
<circle cx="58.4" cy="208.1" r="1.12" fill="#ff9a00"/>
<circle cx="58.3" cy="206.2" r="1.12" fill="#ff9a00"/>
<circle cx="56.2" cy="201.4" r="1.12" fill="#ff9a00"/>
<circle cx="55.1" cy="219.5" r="1.12" fill="#ff9a00"/>
<circle cx="59.5" cy="207.0" r="1.12" fill="#ff9a00"/>
<circle cx="56.7" cy="208.9" r="1.12" fill="#ff9a00"/>
<circle cx="58.8" cy="203.2" r="1.12" fill="#ff9a00"/>
<circle cx="58.2" cy="208.9" r="1.12" fill="#ff9a00"/>
<circle cx="54.7" cy="205.2" r="1.12" fill="#ff9a00"/>
<circle cx="46.5" cy="220.8" r="1.12" fill="#ff9a00"/>
<circle cx="53.1" cy="212.7" r="1.12" fill="#ff9a00"/>
<circle cx="49.1" cy="221.7" r="1.12" fill="#ff9a00"/>
<circle cx="47.8" cy="225.3" r="1.12" fill="#ff9a00"/>
<circle cx="53.9" cy="222.8" r="1.12" fill="#ff9a00"/>
<circle cx="49.5" cy="221.6" r="1.12" fill="#ff9a00"/>
<circle cx="49.5" cy="228.1" r="1.12" fill="#ff9a00"/>
<circle cx="48.6" cy="219.6" r="1.12" fill="#ff9a00"/>
<circle cx="45.6" cy="221.0" r="1.12" fill="#ff9a00"/>
<circle cx="45.1" cy="230.6" r="1.12" fill="#ff9a00"/>
<circle cx="51.2" cy="222.5" r="1.12" fill="#ff9a00"/>
<circle cx="55.1" cy="219.2" r="1.12" fill="#ff9a00"/>
<circle cx="52.6" cy="226.4" r="1.12" fill="#ff9a00"/>
<circle cx="44.6" cy="219.4" r="1.12" fill="#ff9a00"/>
<circle cx="46.8" cy="229.1" r="1.12" fill="#ff9a00"/>
<circle cx="54.5" cy="217.0" r="1.12" fill="#ff9a00"/>
<circle cx="53.7" cy="220.9" r="1.12" fill="#ff9a00"/>
<circle cx="48.6" cy="222.2" r="1.12" fill="#ff9a00"/>
<circle cx="72.0" cy="226.0" r="1.12" fill="#ff9a00"/>
<circle cx="72.0" cy="235.0" r="1.12" fill="#ff9a00"/>
<circle cx="82.0" cy="243.0" r="1.12" fill="#ff9a00"/>
<circle cx="59.0" cy="272.5" r="1.12" fill="#ff9a00"/>
<circle cx="46.0" cy="229.0" r="1.12" fill="#ff9a00"/>
<circle cx="49.0" cy="232.0" r="1.12" fill="#ff9a00"/>
<circle cx="88.6" cy="190.6" r="1.12" fill="#0000ff"/>
<circle cx="92.6" cy="202.8" r="1.12" fill="#0000ff"/>
<circle cx="85.3" cy="201.8" r="1.12" fill="#0000ff"/>
<circle cx="88.4" cy="202.0" r="1.12" fill="#0000ff"/>
<circle cx="67.7" cy="197.0" r="1.12" fill="#0000ff"/>
<circle cx="95.9" cy="197.9" r="1.12" fill="#0000ff"/>
<circle cx="99.2" cy="201.3" r="1.12" fill="#0000ff"/>
<circle cx="99.1" cy="206.2" r="1.12" fill="#0000ff"/>
<circle cx="81.0" cy="209.2" r="1.12" fill="#0000ff"/>
<circle cx="91.4" cy="191.6" r="1.12" fill="#0000ff"/>
<circle cx="72.1" cy="202.0" r="1.12" fill="#0000ff"/>
<circle cx="96.3" cy="202.8" r="1.12" fill="#0000ff"/>
<circle cx="94.1" cy="199.0" r="1.12" fill="#0000ff"/>
<circle cx="73.3" cy="191.8" r="1.12" fill="#0000ff"/>
<circle cx="62.4" cy="195.8" r="1.12" fill="#0000ff"/>
<circle cx="77.1" cy="194.9" r="1.12" fill="#0000ff"/>
<circle cx="81.6" cy="200.2" r="1.12" fill="#0000ff"/>
<circle cx="90.5" cy="199.5" r="1.12" fill="#0000ff"/>
<circle cx="79.0" cy="204.1" r="1.12" fill="#0000ff"/>
<circle cx="60.2" cy="198.5" r="1.12" fill="#0000ff"/>
<circle cx="92.2" cy="192.2" r="1.12" fill="#0000ff"/>
<circle cx="61.6" cy="196.5" r="1.12" fill="#0000ff"/>
<circle cx="91.8" cy="200.5" r="1.12" fill="#0000ff"/>
<circle cx="66.1" cy="199.8" r="1.12" fill="#0000ff"/>
<circle cx="72.7" cy="200.4" r="1.12" fill="#0000ff"/>
<circle cx="91.3" cy="207.7" r="1.12" fill="#0000ff"/>
<circle cx="64.8" cy="208.7" r="1.12" fill="#0000ff"/>
<circle cx="65.1" cy="196.6" r="1.12" fill="#0000ff"/>
<circle cx="80.2" cy="199.5" r="1.12" fill="#0000ff"/>
<circle cx="88.7" cy="199.4" r="1.12" fill="#0000ff"/>
<circle cx="93.4" cy="204.0" r="1.12" fill="#0000ff"/>
<circle cx="87.3" cy="196.7" r="1.12" fill="#0000ff"/>
<circle cx="97.8" cy="199.3" r="1.12" fill="#0000ff"/>
<circle cx="79.2" cy="193.5" r="1.12" fill="#0000ff"/>
<circle cx="97.9" cy="193.0" r="1.12" fill="#0000ff"/>
<circle cx="62.5" cy="198.4" r="1.12" fill="#0000ff"/>
<circle cx="68.1" cy="191.3" r="1.12" fill="#0000ff"/>
<circle cx="80.6" cy="200.9" r="1.12" fill="#0000ff"/>
<circle cx="70.9" cy="205.3" r="1.12" fill="#0000ff"/>
<circle cx="88.9" cy="199.1" r="1.12" fill="#0000ff"/>
<circle cx="85.2" cy="200.0" r="1.12" fill="#0000ff"/>
<circle cx="80.4" cy="195.4" r="1.12" fill="#0000ff"/>
<circle cx="93.6" cy="190.8" r="1.12" fill="#0000ff"/>
<circle cx="82.0" cy="200.4" r="1.12" fill="#0000ff"/>
<circle cx="71.8" cy="194.9" r="1.12" fill="#0000ff"/>
<circle cx="74.6" cy="199.6" r="1.12" fill="#0000ff"/>
<circle cx="93.7" cy="201.7" r="1.12" fill="#0000ff"/>
<circle cx="95.9" cy="204.0" r="1.12" fill="#0000ff"/>
<circle cx="67.5" cy="207.9" r="1.12" fill="#0000ff"/>
<circle cx="93.9" cy="199.7" r="1.12" fill="#0000ff"/>
<circle cx="98.7" cy="201.4" r="1.12" fill="#0000ff"/>
<circle cx="80.5" cy="190.6" r="1.12" fill="#0000ff"/>
<circle cx="82.5" cy="202.6" r="1.12" fill="#0000ff"/>
<circle cx="67.2" cy="192.0" r="1.12" fill="#0000ff"/>
<circle cx="81.0" cy="192.5" r="1.12" fill="#0000ff"/>
<circle cx="79.6" cy="201.8" r="1.12" fill="#0000ff"/>
<circle cx="83.8" cy="184.0" r="1.12" fill="#0000ff"/>
<circle cx="60.1" cy="196.6" r="1.12" fill="#0000ff"/>
<circle cx="98.7" cy="200.2" r="1.12" fill="#0000ff"/>
<circle cx="80.2" cy="194.4" r="1.12" fill="#0000ff"/>
<circle cx="75.4" cy="204.8" r="1.12" fill="#0000ff"/>
<circle cx="91.8" cy="194.2" r="1.12" fill="#0000ff"/>
<circle cx="82.1" cy="199.7" r="1.12" fill="#0000ff"/>
<circle cx="79.1" cy="188.9" r="1.12" fill="#0000ff"/>
<circle cx="87.3" cy="189.5" r="1.12" fill="#0000ff"/>
<circle cx="61.7" cy="203.0" r="1.12" fill="#0000ff"/>
<circle cx="81.1" cy="203.7" r="1.12" fill="#0000ff"/>
<circle cx="76.0" cy="192.5" r="1.12" fill="#0000ff"/>
<circle cx="98.2" cy="199.8" r="1.12" fill="#0000ff"/>
<circle cx="96.9" cy="190.4" r="1.12" fill="#0000ff"/>
<circle cx="70.0" cy="190.9" r="1.12" fill="#0000ff"/>
<circle cx="78.4" cy="202.4" r="1.12" fill="#0000ff"/>
<circle cx="64.2" cy="201.3" r="1.12" fill="#0000ff"/>
<circle cx="76.8" cy="199.8" r="1.12" fill="#0000ff"/>
<circle cx="92.4" cy="197.9" r="1.12" fill="#0000ff"/>
<circle cx="95.9" cy="198.9" r="1.12" fill="#0000ff"/>
<circle cx="78.5" cy="193.5" r="1.12" fill="#0000ff"/>
<circle cx="72.0" cy="203.2" r="1.12" fill="#0000ff"/>
<circle cx="66.8" cy="194.8" r="1.12" fill="#0000ff"/>
<circle cx="84.3" cy="195.7" r="1.12" fill="#0000ff"/>
<circle cx="96.9" cy="205.8" r="1.12" fill="#0000ff"/>
<circle cx="64.3" cy="194.7" r="1.12" fill="#0000ff"/>
<circle cx="91.0" cy="194.7" r="1.12" fill="#0000ff"/>
<circle cx="59.9" cy="203.2" r="1.12" fill="#0000ff"/>
<circle cx="67.0" cy="191.8" r="1.12" fill="#0000ff"/>
<circle cx="68.3" cy="194.8" r="1.12" fill="#0000ff"/>
<circle cx="87.2" cy="182.0" r="1.12" fill="#0000ff"/>
<circle cx="72.2" cy="211.2" r="1.12" fill="#0000ff"/>
<circle cx="73.6" cy="192.8" r="1.12" fill="#0000ff"/>
<circle cx="84.4" cy="192.2" r="1.12" fill="#0000ff"/>
<circle cx="63.3" cy="198.2" r="1.12" fill="#0000ff"/>
<circle cx="89.0" cy="184.5" r="1.12" fill="#0000ff"/>
<circle cx="64.0" cy="204.0" r="1.12" fill="#0000ff"/>
<circle cx="79.9" cy="199.0" r="1.12" fill="#0000ff"/>
<circle cx="69.3" cy="197.2" r="1.12" fill="#0000ff"/>
<circle cx="67.1" cy="193.5" r="1.12" fill="#0000ff"/>
<circle cx="80.7" cy="196.7" r="1.12" fill="#0000ff"/>
<circle cx="76.9" cy="198.8" r="1.12" fill="#0000ff"/>
<circle cx="74.4" cy="199.4" r="1.12" fill="#0000ff"/>
<circle cx="75.9" cy="202.4" r="1.12" fill="#0000ff"/>
<circle cx="80.7" cy="201.1" r="1.12" fill="#0000ff"/>
<circle cx="65.5" cy="199.5" r="1.12" fill="#0000ff"/>
<circle cx="67.4" cy="202.6" r="1.12" fill="#0000ff"/>
<circle cx="84.9" cy="194.7" r="1.12" fill="#0000ff"/>
<circle cx="85.2" cy="185.2" r="1.12" fill="#0000ff"/>
<circle cx="80.7" cy="197.4" r="1.12" fill="#0000ff"/>
<circle cx="93.9" cy="183.9" r="1.12" fill="#0000ff"/>
<circle cx="84.1" cy="191.4" r="1.12" fill="#0000ff"/>
<circle cx="94.1" cy="192.8" r="1.12" fill="#0000ff"/>
<circle cx="68.5" cy="190.5" r="1.12" fill="#0000ff"/>
<circle cx="89.4" cy="204.5" r="1.12" fill="#0000ff"/>
<circle cx="92.2" cy="201.7" r="1.12" fill="#0000ff"/>
<circle cx="96.0" cy="198.9" r="1.12" fill="#0000ff"/>
<circle cx="72.0" cy="196.1" r="1.12" fill="#0000ff"/>
<circle cx="71.9" cy="200.3" r="1.12" fill="#0000ff"/>
<circle cx="96.8" cy="197.6" r="1.12" fill="#0000ff"/>
<circle cx="67.9" cy="194.4" r="1.12" fill="#0000ff"/>
<circle cx="99.9" cy="199.5" r="1.12" fill="#0000ff"/>
<circle cx="95.4" cy="191.9" r="1.12" fill="#0000ff"/>
<circle cx="64.5" cy="197.4" r="1.12" fill="#0000ff"/>
<circle cx="68.8" cy="208.7" r="1.12" fill="#0000ff"/>
<circle cx="88.8" cy="202.8" r="1.12" fill="#0000ff"/>
<circle cx="69.6" cy="192.1" r="1.12" fill="#0000ff"/>
<circle cx="63.0" cy="200.1" r="1.12" fill="#0000ff"/>
<circle cx="93.1" cy="194.8" r="1.12" fill="#0000ff"/>
<circle cx="48.0" cy="249.0" r="1.12" fill="#0000ff"/>
<circle cx="74.0" cy="242.0" r="1.12" fill="#0000ff"/>
<circle cx="97.0" cy="180.5" r="1.12" fill="#0000ff"/>
<circle cx="93.0" cy="221.0" r="1.12" fill="#0000ff"/>
<circle cx="60.0" cy="218.0" r="1.12" fill="#0000ff"/>
<circle cx="89.0" cy="214.0" r="1.12" fill="#0000ff"/>
<circle cx="119.0" cy="254.6" r="2.2" fill="#000"/>
<text x="123.5" y="257.4" font-size="7.8" text-anchor="start" font-weight="normal" fill="#222">G1</text>
<circle cx="119.0" cy="262.3" r="2.2" fill="#0000ff"/>
<text x="123.5" y="265.1" font-size="7.8" text-anchor="start" font-weight="normal" fill="#222">S</text>
<circle cx="119.0" cy="270.2" r="2.2" fill="#ff9a00"/>
<text x="123.5" y="273.0" font-size="7.8" text-anchor="start" font-weight="normal" fill="#222">G2M</text>
<circle cx="104.5" cy="338.5" r="1.12" fill="#000"/>
<circle cx="107.4" cy="334.4" r="1.12" fill="#000"/>
<circle cx="114.1" cy="354.6" r="1.12" fill="#000"/>
<circle cx="107.7" cy="339.8" r="1.12" fill="#000"/>
<circle cx="109.2" cy="333.1" r="1.12" fill="#000"/>
<circle cx="116.6" cy="343.2" r="1.12" fill="#000"/>
<circle cx="117.7" cy="341.8" r="1.12" fill="#000"/>
<circle cx="110.2" cy="353.3" r="1.12" fill="#000"/>
<circle cx="109.4" cy="343.4" r="1.12" fill="#000"/>
<circle cx="118.0" cy="341.2" r="1.12" fill="#000"/>
<circle cx="115.6" cy="336.7" r="1.12" fill="#000"/>
<circle cx="108.8" cy="337.1" r="1.12" fill="#000"/>
<circle cx="115.1" cy="339.6" r="1.12" fill="#000"/>
<circle cx="106.0" cy="343.5" r="1.12" fill="#000"/>
<circle cx="119.3" cy="335.3" r="1.12" fill="#000"/>
<circle cx="122.7" cy="333.8" r="1.12" fill="#000"/>
<circle cx="106.3" cy="333.8" r="1.12" fill="#000"/>
<circle cx="119.8" cy="346.4" r="1.12" fill="#000"/>
<circle cx="111.8" cy="350.0" r="1.12" fill="#000"/>
<circle cx="115.0" cy="341.1" r="1.12" fill="#000"/>
<circle cx="106.4" cy="329.5" r="1.12" fill="#000"/>
<circle cx="116.6" cy="340.0" r="1.12" fill="#000"/>
<circle cx="108.6" cy="341.3" r="1.12" fill="#000"/>
<circle cx="113.5" cy="346.8" r="1.12" fill="#000"/>
<circle cx="114.3" cy="355.9" r="1.12" fill="#000"/>
<circle cx="116.0" cy="335.0" r="1.12" fill="#000"/>
<circle cx="113.2" cy="334.7" r="1.12" fill="#000"/>
<circle cx="101.8" cy="342.0" r="1.12" fill="#000"/>
<circle cx="104.7" cy="336.3" r="1.12" fill="#000"/>
<circle cx="115.4" cy="349.2" r="1.12" fill="#000"/>
<circle cx="110.6" cy="335.1" r="1.12" fill="#000"/>
<circle cx="93.8" cy="339.7" r="1.12" fill="#000"/>
<circle cx="101.5" cy="338.0" r="1.12" fill="#000"/>
<circle cx="109.3" cy="337.8" r="1.12" fill="#000"/>
<circle cx="114.8" cy="340.2" r="1.12" fill="#000"/>
<circle cx="107.7" cy="334.6" r="1.12" fill="#000"/>
<circle cx="115.0" cy="345.2" r="1.12" fill="#000"/>
<circle cx="99.1" cy="335.4" r="1.12" fill="#000"/>
<circle cx="107.7" cy="342.0" r="1.12" fill="#000"/>
<circle cx="97.1" cy="331.9" r="1.12" fill="#000"/>
<circle cx="108.3" cy="336.8" r="1.12" fill="#000"/>
<circle cx="110.0" cy="336.4" r="1.12" fill="#000"/>
<circle cx="92.8" cy="326.2" r="1.12" fill="#000"/>
<circle cx="109.0" cy="343.1" r="1.12" fill="#000"/>
<circle cx="106.6" cy="349.3" r="1.12" fill="#000"/>
<circle cx="107.1" cy="341.3" r="1.12" fill="#000"/>
<circle cx="112.4" cy="341.9" r="1.12" fill="#000"/>
<circle cx="117.9" cy="340.8" r="1.12" fill="#000"/>
<circle cx="104.9" cy="345.7" r="1.12" fill="#000"/>
<circle cx="107.6" cy="337.0" r="1.12" fill="#000"/>
<circle cx="110.7" cy="344.8" r="1.12" fill="#000"/>
<circle cx="109.5" cy="347.9" r="1.12" fill="#000"/>
<circle cx="105.7" cy="331.8" r="1.12" fill="#000"/>
<circle cx="107.1" cy="339.0" r="1.12" fill="#000"/>
<circle cx="123.1" cy="356.7" r="1.12" fill="#000"/>
<circle cx="109.5" cy="338.1" r="1.12" fill="#000"/>
<circle cx="108.2" cy="343.1" r="1.12" fill="#000"/>
<circle cx="105.6" cy="344.0" r="1.12" fill="#000"/>
<circle cx="107.3" cy="328.8" r="1.12" fill="#000"/>
<circle cx="105.0" cy="343.2" r="1.12" fill="#000"/>
<circle cx="116.9" cy="344.2" r="1.12" fill="#000"/>
<circle cx="110.7" cy="349.8" r="1.12" fill="#000"/>
<circle cx="126.0" cy="354.1" r="1.12" fill="#000"/>
<circle cx="106.7" cy="336.6" r="1.12" fill="#000"/>
<circle cx="118.4" cy="342.4" r="1.12" fill="#000"/>
<circle cx="104.1" cy="329.3" r="1.12" fill="#000"/>
<circle cx="104.1" cy="344.2" r="1.12" fill="#000"/>
<circle cx="110.4" cy="337.4" r="1.12" fill="#000"/>
<circle cx="110.7" cy="334.4" r="1.12" fill="#000"/>
<circle cx="115.1" cy="346.0" r="1.12" fill="#000"/>
<circle cx="116.4" cy="341.7" r="1.12" fill="#000"/>
<circle cx="117.7" cy="338.0" r="1.12" fill="#000"/>
<circle cx="117.5" cy="352.7" r="1.12" fill="#000"/>
<circle cx="112.1" cy="352.2" r="1.12" fill="#000"/>
<circle cx="122.0" cy="337.5" r="1.12" fill="#000"/>
<circle cx="106.0" cy="331.9" r="1.12" fill="#000"/>
<circle cx="114.4" cy="337.7" r="1.12" fill="#000"/>
<circle cx="100.6" cy="338.9" r="1.12" fill="#000"/>
<circle cx="103.1" cy="352.5" r="1.12" fill="#000"/>
<circle cx="109.6" cy="345.2" r="1.12" fill="#000"/>
<circle cx="105.1" cy="331.8" r="1.12" fill="#000"/>
<circle cx="113.1" cy="348.7" r="1.12" fill="#000"/>
<circle cx="105.9" cy="332.8" r="1.12" fill="#000"/>
<circle cx="109.0" cy="345.7" r="1.12" fill="#000"/>
<circle cx="107.0" cy="350.7" r="1.12" fill="#000"/>
<circle cx="121.0" cy="362.6" r="1.12" fill="#000"/>
<circle cx="112.8" cy="349.2" r="1.12" fill="#000"/>
<circle cx="112.7" cy="353.7" r="1.12" fill="#000"/>
<circle cx="124.9" cy="358.3" r="1.12" fill="#000"/>
<circle cx="119.2" cy="350.4" r="1.12" fill="#000"/>
<circle cx="120.1" cy="354.7" r="1.12" fill="#000"/>
<circle cx="119.1" cy="353.9" r="1.12" fill="#000"/>
<circle cx="111.7" cy="356.3" r="1.12" fill="#000"/>
<circle cx="122.7" cy="353.1" r="1.12" fill="#000"/>
<circle cx="120.5" cy="366.0" r="1.12" fill="#000"/>
<circle cx="123.0" cy="363.2" r="1.12" fill="#000"/>
<circle cx="116.3" cy="359.5" r="1.12" fill="#000"/>
<circle cx="113.7" cy="357.2" r="1.12" fill="#000"/>
<circle cx="114.3" cy="355.9" r="1.12" fill="#000"/>
<circle cx="110.9" cy="357.9" r="1.12" fill="#000"/>
<circle cx="116.6" cy="356.7" r="1.12" fill="#000"/>
<circle cx="115.3" cy="344.1" r="1.12" fill="#000"/>
<circle cx="114.8" cy="359.7" r="1.12" fill="#000"/>
<circle cx="118.0" cy="354.7" r="1.12" fill="#000"/>
<circle cx="122.6" cy="365.8" r="1.12" fill="#000"/>
<circle cx="122.5" cy="358.0" r="1.12" fill="#000"/>
<circle cx="112.9" cy="351.9" r="1.12" fill="#000"/>
<circle cx="123.7" cy="357.2" r="1.12" fill="#000"/>
<circle cx="118.4" cy="359.4" r="1.12" fill="#000"/>
<circle cx="115.2" cy="344.3" r="1.12" fill="#000"/>
<circle cx="118.1" cy="361.6" r="1.12" fill="#000"/>
<circle cx="117.1" cy="357.1" r="1.12" fill="#000"/>
<circle cx="122.4" cy="365.4" r="1.12" fill="#000"/>
<circle cx="112.5" cy="359.2" r="1.12" fill="#000"/>
<circle cx="127.9" cy="352.6" r="1.12" fill="#000"/>
<circle cx="122.9" cy="360.9" r="1.12" fill="#000"/>
<circle cx="128.0" cy="359.4" r="1.12" fill="#000"/>
<circle cx="117.9" cy="353.8" r="1.12" fill="#000"/>
<circle cx="115.3" cy="357.2" r="1.12" fill="#000"/>
<circle cx="116.8" cy="362.3" r="1.12" fill="#000"/>
<circle cx="123.5" cy="351.9" r="1.12" fill="#000"/>
<circle cx="128.9" cy="361.4" r="1.12" fill="#000"/>
<circle cx="111.6" cy="361.1" r="1.12" fill="#000"/>
<circle cx="124.4" cy="361.0" r="1.12" fill="#000"/>
<circle cx="115.7" cy="359.1" r="1.12" fill="#000"/>
<circle cx="119.9" cy="353.2" r="1.12" fill="#000"/>
<circle cx="126.1" cy="357.0" r="1.12" fill="#000"/>
<circle cx="121.3" cy="356.7" r="1.12" fill="#000"/>
<circle cx="126.1" cy="357.2" r="1.12" fill="#000"/>
<circle cx="112.9" cy="350.5" r="1.12" fill="#000"/>
<circle cx="108.3" cy="353.0" r="1.12" fill="#000"/>
<circle cx="115.9" cy="352.4" r="1.12" fill="#000"/>
<circle cx="129.9" cy="354.0" r="1.12" fill="#000"/>
<circle cx="114.2" cy="354.6" r="1.12" fill="#000"/>
<circle cx="116.2" cy="361.4" r="1.12" fill="#000"/>
<circle cx="117.4" cy="349.9" r="1.12" fill="#000"/>
<circle cx="116.8" cy="362.5" r="1.12" fill="#000"/>
<circle cx="120.1" cy="355.2" r="1.12" fill="#000"/>
<circle cx="122.1" cy="356.7" r="1.12" fill="#000"/>
<circle cx="115.8" cy="354.2" r="1.12" fill="#000"/>
<circle cx="102.5" cy="317.5" r="1.12" fill="#000"/>
<circle cx="100.6" cy="326.0" r="1.12" fill="#000"/>
<circle cx="90.3" cy="347.7" r="1.12" fill="#000"/>
<circle cx="97.0" cy="334.0" r="1.12" fill="#000"/>
<circle cx="97.4" cy="362.0" r="1.12" fill="#000"/>
<circle cx="90.0" cy="377.2" r="1.12" fill="#000"/>
<circle cx="94.4" cy="375.3" r="1.12" fill="#000"/>
<circle cx="97.4" cy="394.7" r="1.12" fill="#000"/>
<circle cx="99.0" cy="373.9" r="1.12" fill="#000"/>
<circle cx="132.0" cy="348.0" r="1.12" fill="#000"/>
<circle cx="136.0" cy="349.0" r="1.12" fill="#000"/>
<circle cx="130.0" cy="358.0" r="1.12" fill="#000"/>
<circle cx="117.0" cy="367.0" r="1.12" fill="#000"/>
<circle cx="128.8" cy="342.2" r="1.12" fill="#ff9a00"/>
<circle cx="123.9" cy="341.7" r="1.12" fill="#ff9a00"/>
<circle cx="117.9" cy="352.5" r="1.12" fill="#ff9a00"/>
<circle cx="108.3" cy="351.4" r="1.12" fill="#ff9a00"/>
<circle cx="120.4" cy="344.6" r="1.12" fill="#ff9a00"/>
<circle cx="113.1" cy="349.9" r="1.12" fill="#ff9a00"/>
<circle cx="116.0" cy="347.5" r="1.12" fill="#ff9a00"/>
<circle cx="125.9" cy="341.2" r="1.12" fill="#ff9a00"/>
<circle cx="114.5" cy="343.4" r="1.12" fill="#ff9a00"/>
<circle cx="110.2" cy="344.0" r="1.12" fill="#ff9a00"/>
<circle cx="118.3" cy="347.8" r="1.12" fill="#ff9a00"/>
<circle cx="111.5" cy="339.8" r="1.12" fill="#ff9a00"/>
<circle cx="117.1" cy="348.0" r="1.12" fill="#ff9a00"/>
<circle cx="128.3" cy="344.4" r="1.12" fill="#ff9a00"/>
<circle cx="126.1" cy="343.2" r="1.12" fill="#ff9a00"/>
<circle cx="125.4" cy="343.9" r="1.12" fill="#ff9a00"/>
<circle cx="108.6" cy="348.6" r="1.12" fill="#ff9a00"/>
<circle cx="114.7" cy="344.1" r="1.12" fill="#ff9a00"/>
<circle cx="119.3" cy="341.8" r="1.12" fill="#ff9a00"/>
<circle cx="115.6" cy="350.0" r="1.12" fill="#ff9a00"/>
<circle cx="120.8" cy="343.6" r="1.12" fill="#ff9a00"/>
<circle cx="111.4" cy="348.6" r="1.12" fill="#ff9a00"/>
<circle cx="116.3" cy="346.1" r="1.12" fill="#ff9a00"/>
<circle cx="119.9" cy="341.5" r="1.12" fill="#ff9a00"/>
<circle cx="119.2" cy="342.7" r="1.12" fill="#ff9a00"/>
<circle cx="120.7" cy="344.9" r="1.12" fill="#ff9a00"/>
<circle cx="116.8" cy="348.9" r="1.12" fill="#ff9a00"/>
<circle cx="114.7" cy="341.1" r="1.12" fill="#ff9a00"/>
<circle cx="116.1" cy="346.0" r="1.12" fill="#ff9a00"/>
<circle cx="122.4" cy="343.7" r="1.12" fill="#ff9a00"/>
<circle cx="120.6" cy="342.9" r="1.12" fill="#ff9a00"/>
<circle cx="126.7" cy="340.4" r="1.12" fill="#ff9a00"/>
<circle cx="118.3" cy="344.1" r="1.12" fill="#ff9a00"/>
<circle cx="117.6" cy="346.2" r="1.12" fill="#ff9a00"/>
<circle cx="115.7" cy="345.9" r="1.12" fill="#ff9a00"/>
<circle cx="122.5" cy="341.9" r="1.12" fill="#ff9a00"/>
<circle cx="108.5" cy="348.3" r="1.12" fill="#ff9a00"/>
<circle cx="116.9" cy="343.2" r="1.12" fill="#ff9a00"/>
<circle cx="122.0" cy="345.8" r="1.12" fill="#ff9a00"/>
<circle cx="134.6" cy="343.8" r="1.12" fill="#ff9a00"/>
<circle cx="120.8" cy="345.1" r="1.12" fill="#ff9a00"/>
<circle cx="101.5" cy="352.2" r="1.12" fill="#ff9a00"/>
<circle cx="124.2" cy="343.5" r="1.12" fill="#ff9a00"/>
<circle cx="117.3" cy="345.9" r="1.12" fill="#ff9a00"/>
<circle cx="131.6" cy="343.2" r="1.12" fill="#ff9a00"/>
<circle cx="123.7" cy="342.7" r="1.12" fill="#ff9a00"/>
<circle cx="125.0" cy="344.0" r="1.12" fill="#ff9a00"/>
<circle cx="119.7" cy="349.9" r="1.12" fill="#ff9a00"/>
<circle cx="118.8" cy="344.9" r="1.12" fill="#ff9a00"/>
<circle cx="114.7" cy="346.2" r="1.12" fill="#ff9a00"/>
<circle cx="126.6" cy="343.0" r="1.12" fill="#ff9a00"/>
<circle cx="125.7" cy="345.7" r="1.12" fill="#ff9a00"/>
<circle cx="116.6" cy="341.2" r="1.12" fill="#ff9a00"/>
<circle cx="133.5" cy="340.1" r="1.12" fill="#ff9a00"/>
<circle cx="117.9" cy="341.7" r="1.12" fill="#ff9a00"/>
<circle cx="124.0" cy="346.1" r="1.12" fill="#ff9a00"/>
<circle cx="121.0" cy="342.4" r="1.12" fill="#ff9a00"/>
<circle cx="107.7" cy="343.0" r="1.12" fill="#ff9a00"/>
<circle cx="112.3" cy="344.0" r="1.12" fill="#ff9a00"/>
<circle cx="120.4" cy="346.2" r="1.12" fill="#ff9a00"/>
<circle cx="114.1" cy="346.8" r="1.12" fill="#ff9a00"/>
<circle cx="114.9" cy="345.1" r="1.12" fill="#ff9a00"/>
<circle cx="122.1" cy="342.4" r="1.12" fill="#ff9a00"/>
<circle cx="117.9" cy="345.9" r="1.12" fill="#ff9a00"/>
<circle cx="123.0" cy="341.3" r="1.12" fill="#ff9a00"/>
<circle cx="120.0" cy="335.6" r="1.12" fill="#ff9a00"/>
<circle cx="125.2" cy="340.6" r="1.12" fill="#ff9a00"/>
<circle cx="108.2" cy="349.0" r="1.12" fill="#ff9a00"/>
<circle cx="124.7" cy="347.5" r="1.12" fill="#ff9a00"/>
<circle cx="123.1" cy="342.2" r="1.12" fill="#ff9a00"/>
<circle cx="122.6" cy="345.8" r="1.12" fill="#ff9a00"/>
<circle cx="119.4" cy="344.6" r="1.12" fill="#ff9a00"/>
<circle cx="125.0" cy="347.5" r="1.12" fill="#ff9a00"/>
<circle cx="114.6" cy="345.9" r="1.12" fill="#ff9a00"/>
<circle cx="124.6" cy="347.4" r="1.12" fill="#ff9a00"/>
<circle cx="130.6" cy="338.3" r="1.12" fill="#ff9a00"/>
<circle cx="126.9" cy="341.6" r="1.12" fill="#ff9a00"/>
<circle cx="106.1" cy="351.4" r="1.12" fill="#ff9a00"/>
<circle cx="119.7" cy="343.9" r="1.12" fill="#ff9a00"/>
<circle cx="120.7" cy="346.5" r="1.12" fill="#ff9a00"/>
<circle cx="115.4" cy="346.5" r="1.12" fill="#ff9a00"/>
<circle cx="111.8" cy="350.0" r="1.12" fill="#ff9a00"/>
<circle cx="121.0" cy="344.5" r="1.12" fill="#ff9a00"/>
<circle cx="120.7" cy="346.9" r="1.12" fill="#ff9a00"/>
<circle cx="125.6" cy="345.7" r="1.12" fill="#ff9a00"/>
<circle cx="120.0" cy="341.3" r="1.12" fill="#ff9a00"/>
<circle cx="122.5" cy="347.1" r="1.12" fill="#ff9a00"/>
<circle cx="126.1" cy="342.6" r="1.12" fill="#ff9a00"/>
<circle cx="128.6" cy="341.3" r="1.12" fill="#ff9a00"/>
<circle cx="116.1" cy="346.5" r="1.12" fill="#ff9a00"/>
<circle cx="123.7" cy="342.9" r="1.12" fill="#ff9a00"/>
<circle cx="113.0" cy="342.1" r="1.12" fill="#ff9a00"/>
<circle cx="126.9" cy="343.1" r="1.12" fill="#ff9a00"/>
<circle cx="123.9" cy="342.4" r="1.12" fill="#ff9a00"/>
<circle cx="122.5" cy="344.6" r="1.12" fill="#ff9a00"/>
<circle cx="119.3" cy="342.2" r="1.12" fill="#ff9a00"/>
<circle cx="113.3" cy="349.6" r="1.12" fill="#ff9a00"/>
<circle cx="103.8" cy="348.1" r="1.12" fill="#ff9a00"/>
<circle cx="127.5" cy="344.4" r="1.12" fill="#ff9a00"/>
<circle cx="117.0" cy="343.9" r="1.12" fill="#ff9a00"/>
<circle cx="110.7" cy="353.3" r="1.12" fill="#ff9a00"/>
<circle cx="115.6" cy="346.4" r="1.12" fill="#ff9a00"/>
<circle cx="127.5" cy="345.2" r="1.12" fill="#ff9a00"/>
<circle cx="122.4" cy="343.2" r="1.12" fill="#ff9a00"/>
<circle cx="120.3" cy="342.6" r="1.12" fill="#ff9a00"/>
<circle cx="122.6" cy="341.5" r="1.12" fill="#ff9a00"/>
<circle cx="119.1" cy="346.6" r="1.12" fill="#ff9a00"/>
<circle cx="124.1" cy="341.7" r="1.12" fill="#ff9a00"/>
<circle cx="119.6" cy="343.7" r="1.12" fill="#ff9a00"/>
<circle cx="115.2" cy="348.4" r="1.12" fill="#ff9a00"/>
<circle cx="45.8" cy="306.1" r="1.12" fill="#ff9a00"/>
<circle cx="68.5" cy="347.6" r="1.12" fill="#ff9a00"/>
<circle cx="66.0" cy="353.3" r="1.12" fill="#ff9a00"/>
<circle cx="52.4" cy="360.4" r="1.12" fill="#ff9a00"/>
<circle cx="57.3" cy="359.7" r="1.12" fill="#ff9a00"/>
<circle cx="49.0" cy="374.8" r="1.12" fill="#ff9a00"/>
<circle cx="85.6" cy="352.2" r="1.12" fill="#ff9a00"/>
<circle cx="96.7" cy="358.9" r="1.12" fill="#ff9a00"/>
<circle cx="97.0" cy="356.0" r="1.12" fill="#ff9a00"/>
<circle cx="122.5" cy="352.0" r="1.12" fill="#0000ff"/>
<circle cx="121.3" cy="348.1" r="1.12" fill="#0000ff"/>
<circle cx="116.1" cy="347.1" r="1.12" fill="#0000ff"/>
<circle cx="117.5" cy="358.2" r="1.12" fill="#0000ff"/>
<circle cx="120.7" cy="353.0" r="1.12" fill="#0000ff"/>
<circle cx="121.4" cy="352.9" r="1.12" fill="#0000ff"/>
<circle cx="120.9" cy="348.1" r="1.12" fill="#0000ff"/>
<circle cx="120.2" cy="350.1" r="1.12" fill="#0000ff"/>
<circle cx="120.9" cy="354.1" r="1.12" fill="#0000ff"/>
<circle cx="121.1" cy="348.7" r="1.12" fill="#0000ff"/>
<circle cx="128.6" cy="351.6" r="1.12" fill="#0000ff"/>
<circle cx="118.4" cy="352.4" r="1.12" fill="#0000ff"/>
<circle cx="117.2" cy="347.7" r="1.12" fill="#0000ff"/>
<circle cx="121.3" cy="358.2" r="1.12" fill="#0000ff"/>
<circle cx="118.7" cy="344.4" r="1.12" fill="#0000ff"/>
<circle cx="114.5" cy="354.4" r="1.12" fill="#0000ff"/>
<circle cx="113.0" cy="350.0" r="1.12" fill="#0000ff"/>
<circle cx="116.5" cy="350.6" r="1.12" fill="#0000ff"/>
<circle cx="122.0" cy="358.6" r="1.12" fill="#0000ff"/>
<circle cx="111.0" cy="346.0" r="1.12" fill="#0000ff"/>
<circle cx="127.4" cy="357.0" r="1.12" fill="#0000ff"/>
<circle cx="120.6" cy="350.2" r="1.12" fill="#0000ff"/>
<circle cx="119.8" cy="346.1" r="1.12" fill="#0000ff"/>
<circle cx="130.6" cy="356.7" r="1.12" fill="#0000ff"/>
<circle cx="122.6" cy="355.1" r="1.12" fill="#0000ff"/>
<circle cx="127.5" cy="354.7" r="1.12" fill="#0000ff"/>
<circle cx="120.2" cy="349.7" r="1.12" fill="#0000ff"/>
<circle cx="118.6" cy="354.2" r="1.12" fill="#0000ff"/>
<circle cx="125.8" cy="351.2" r="1.12" fill="#0000ff"/>
<circle cx="114.9" cy="349.5" r="1.12" fill="#0000ff"/>
<circle cx="115.5" cy="359.3" r="1.12" fill="#0000ff"/>
<circle cx="108.5" cy="350.9" r="1.12" fill="#0000ff"/>
<circle cx="124.0" cy="357.3" r="1.12" fill="#0000ff"/>
<circle cx="117.2" cy="352.3" r="1.12" fill="#0000ff"/>
<circle cx="112.5" cy="348.8" r="1.12" fill="#0000ff"/>
<circle cx="108.1" cy="354.1" r="1.12" fill="#0000ff"/>
<circle cx="117.4" cy="350.0" r="1.12" fill="#0000ff"/>
<circle cx="116.0" cy="349.7" r="1.12" fill="#0000ff"/>
<circle cx="118.1" cy="352.2" r="1.12" fill="#0000ff"/>
<circle cx="128.1" cy="351.5" r="1.12" fill="#0000ff"/>
<circle cx="119.2" cy="353.9" r="1.12" fill="#0000ff"/>
<circle cx="124.4" cy="356.8" r="1.12" fill="#0000ff"/>
<circle cx="125.4" cy="355.6" r="1.12" fill="#0000ff"/>
<circle cx="121.3" cy="356.0" r="1.12" fill="#0000ff"/>
<circle cx="121.0" cy="353.5" r="1.12" fill="#0000ff"/>
<circle cx="117.7" cy="346.4" r="1.12" fill="#0000ff"/>
<circle cx="122.6" cy="351.6" r="1.12" fill="#0000ff"/>
<circle cx="120.4" cy="360.1" r="1.12" fill="#0000ff"/>
<circle cx="112.5" cy="356.6" r="1.12" fill="#0000ff"/>
<circle cx="121.3" cy="346.1" r="1.12" fill="#0000ff"/>
<circle cx="119.6" cy="348.4" r="1.12" fill="#0000ff"/>
<circle cx="125.0" cy="354.4" r="1.12" fill="#0000ff"/>
<circle cx="127.9" cy="352.8" r="1.12" fill="#0000ff"/>
<circle cx="124.0" cy="354.9" r="1.12" fill="#0000ff"/>
<circle cx="110.4" cy="355.9" r="1.12" fill="#0000ff"/>
<circle cx="114.3" cy="347.3" r="1.12" fill="#0000ff"/>
<circle cx="123.7" cy="348.3" r="1.12" fill="#0000ff"/>
<circle cx="113.4" cy="354.1" r="1.12" fill="#0000ff"/>
<circle cx="117.5" cy="349.0" r="1.12" fill="#0000ff"/>
<circle cx="125.2" cy="354.8" r="1.12" fill="#0000ff"/>
<circle cx="123.2" cy="360.2" r="1.12" fill="#0000ff"/>
<circle cx="120.6" cy="365.1" r="1.12" fill="#0000ff"/>
<circle cx="115.2" cy="358.1" r="1.12" fill="#0000ff"/>
<circle cx="125.7" cy="349.0" r="1.12" fill="#0000ff"/>
<circle cx="123.4" cy="346.0" r="1.12" fill="#0000ff"/>
<circle cx="127.0" cy="356.0" r="1.12" fill="#0000ff"/>
<circle cx="119.9" cy="353.5" r="1.12" fill="#0000ff"/>
<circle cx="117.6" cy="357.3" r="1.12" fill="#0000ff"/>
<circle cx="121.1" cy="352.4" r="1.12" fill="#0000ff"/>
<circle cx="104.2" cy="355.5" r="1.12" fill="#0000ff"/>
<circle cx="123.1" cy="359.8" r="1.12" fill="#0000ff"/>
<circle cx="121.0" cy="349.8" r="1.12" fill="#0000ff"/>
<circle cx="120.5" cy="351.1" r="1.12" fill="#0000ff"/>
<circle cx="128.4" cy="356.7" r="1.12" fill="#0000ff"/>
<circle cx="116.5" cy="348.9" r="1.12" fill="#0000ff"/>
<circle cx="124.4" cy="355.6" r="1.12" fill="#0000ff"/>
<circle cx="106.0" cy="347.4" r="1.12" fill="#0000ff"/>
<circle cx="124.9" cy="346.7" r="1.12" fill="#0000ff"/>
<circle cx="117.4" cy="355.4" r="1.12" fill="#0000ff"/>
<circle cx="122.5" cy="362.4" r="1.12" fill="#0000ff"/>
<circle cx="127.3" cy="354.6" r="1.12" fill="#0000ff"/>
<circle cx="125.8" cy="357.4" r="1.12" fill="#0000ff"/>
<circle cx="123.0" cy="360.0" r="1.12" fill="#0000ff"/>
<circle cx="120.8" cy="358.0" r="1.12" fill="#0000ff"/>
<circle cx="125.5" cy="354.0" r="1.12" fill="#0000ff"/>
<circle cx="123.6" cy="350.1" r="1.12" fill="#0000ff"/>
<circle cx="120.5" cy="354.0" r="1.12" fill="#0000ff"/>
<circle cx="121.6" cy="362.8" r="1.12" fill="#0000ff"/>
<circle cx="124.2" cy="353.7" r="1.12" fill="#0000ff"/>
<circle cx="121.9" cy="356.3" r="1.12" fill="#0000ff"/>
<circle cx="125.2" cy="357.5" r="1.12" fill="#0000ff"/>
<circle cx="119.9" cy="357.5" r="1.12" fill="#0000ff"/>
<circle cx="115.7" cy="346.6" r="1.12" fill="#0000ff"/>
<circle cx="124.6" cy="353.2" r="1.12" fill="#0000ff"/>
<circle cx="121.0" cy="347.9" r="1.12" fill="#0000ff"/>
<circle cx="117.7" cy="351.2" r="1.12" fill="#0000ff"/>
<circle cx="117.2" cy="362.0" r="1.12" fill="#0000ff"/>
<circle cx="116.3" cy="358.5" r="1.12" fill="#0000ff"/>
<circle cx="119.8" cy="357.6" r="1.12" fill="#0000ff"/>
<circle cx="113.1" cy="353.8" r="1.12" fill="#0000ff"/>
<circle cx="46.0" cy="357.0" r="1.12" fill="#0000ff"/>
<circle cx="92.4" cy="331.0" r="1.12" fill="#0000ff"/>
<circle cx="88.5" cy="371.5" r="1.12" fill="#0000ff"/>
<circle cx="99.0" cy="342.0" r="1.12" fill="#0000ff"/>
<circle cx="103.0" cy="366.0" r="1.12" fill="#0000ff"/>
<circle cx="104.0" cy="347.0" r="1.12" fill="#0000ff"/>
<circle cx="109.0" cy="321.0" r="1.12" fill="#0000ff"/>
<circle cx="124.0" cy="337.0" r="1.12" fill="#0000ff"/>
<circle cx="133.0" cy="345.0" r="1.12" fill="#0000ff"/>
<defs><clipPath id="cP"><ellipse cx="77" cy="494.2" rx="40.7" ry="38.3" fill="#000" /></clipPath><clipPath id="cO"><ellipse cx="73.4" cy="529.2" rx="40.8" ry="36.2" fill="#000" /></clipPath><clipPath id="cG"><ellipse cx="95.6" cy="527.8" rx="40.2" ry="37.5" fill="#000" /></clipPath></defs>
<ellipse cx="77" cy="494.2" rx="40.7" ry="38.3" fill="#d4c5dc" />
<ellipse cx="95.6" cy="527.8" rx="40.2" ry="37.5" fill="#d3d3d6" />
<ellipse cx="73.4" cy="529.2" rx="40.8" ry="36.2" fill="#fde0be" />
<g clip-path="url(#cP)"><ellipse cx="73.4" cy="529.2" rx="40.8" ry="36.2" fill="#d8b9ac" /><ellipse cx="95.6" cy="527.8" rx="40.2" ry="37.5" fill="#b4aabe" /></g>
<g clip-path="url(#cO)"><ellipse cx="95.6" cy="527.8" rx="40.2" ry="37.5" fill="#d4bea2" /></g>
<g clip-path="url(#cP)"><g clip-path="url(#cO)"><ellipse cx="95.6" cy="527.8" rx="40.2" ry="37.5" fill="#b0968c" /></g></g>
<text x="77.0" y="476.9" font-size="8.1" text-anchor="middle" font-weight="normal" fill="#222">271</text>
<text x="53.0" y="510.7" font-size="8.1" text-anchor="middle" font-weight="normal" fill="#222">34</text>
<text x="81.5" y="515.9" font-size="8.1" text-anchor="middle" font-weight="normal" fill="#222">151</text>
<text x="106.0" y="501.2" font-size="8.1" text-anchor="middle" font-weight="normal" fill="#222">44</text>
<text x="123.7" y="531.9" font-size="8.1" text-anchor="middle" font-weight="normal" fill="#222">106</text>
<text x="47.0" y="541.9" font-size="8.1" text-anchor="middle" font-weight="normal" fill="#222">116</text>
<text x="86.8" y="548.9" font-size="8.1" text-anchor="middle" font-weight="normal" fill="#222">199</text>
<text x="76.4" y="449.9" font-size="8.4" text-anchor="middle" font-weight="normal" fill="#222" textLength="31.1" lengthAdjust="spacingAndGlyphs">TSDstrat</text>
<text x="129.2" y="572.0" font-size="8.4" text-anchor="middle" font-weight="normal" fill="#222">NOstrat</text>
<text x="33.0" y="575.2" font-size="8.4" text-anchor="middle" font-weight="normal" fill="#222">NOstrat after</text>
<text x="33.0" y="583.9" font-size="8.4" text-anchor="middle" font-weight="normal" fill="#222" textLength="48.9" lengthAdjust="spacingAndGlyphs">CC regression</text>
<line x1="90.2" y1="551" x2="90.2" y2="592.5" stroke="#222" stroke-width="0.9"/>
<text x="91.5" y="603.2" font-size="7.5" text-anchor="middle" font-weight="normal" fill="#222">Removed by TSDstrat but not</text>
<text x="91.5" y="611.8" font-size="7.5" text-anchor="middle" font-weight="normal" fill="#222">CC regression</text>
<text x="91.2" y="620.7" font-size="7.5" text-anchor="middle" font-weight="normal" fill="#222">(50% known CC genes)</text>
<text x="0" y="0" transform="translate(179.00 14.90) scale(0.86 1)" font-size="11.5" text-anchor="start" font-weight="bold" >B</text>
<text x="254.3" y="19.2" font-size="8" text-anchor="middle" font-weight="normal" fill="#222" textLength="62.5" lengthAdjust="spacingAndGlyphs">Expression per cell</text>
<text x="254.6" y="26.8" font-size="8" text-anchor="middle" fill="#222" textLength="50.7" lengthAdjust="spacingAndGlyphs">log<tspan font-size="5.2" dy="1.7">2</tspan><tspan dy="-1.7"> (counts+1)</tspan></text>
<rect x="223.30" y="31" width="6.15" height="15.299999999999997" fill="#7f3b08"/>
<rect x="229.15" y="31" width="6.15" height="15.299999999999997" fill="#b35806"/>
<rect x="235.01" y="31" width="6.15" height="15.299999999999997" fill="#e08214"/>
<rect x="240.86" y="31" width="6.15" height="15.299999999999997" fill="#fdb863"/>
<rect x="246.72" y="31" width="6.15" height="15.299999999999997" fill="#fee0b6"/>
<rect x="252.57" y="31" width="6.15" height="15.299999999999997" fill="#f7f7f7"/>
<rect x="258.43" y="31" width="6.15" height="15.299999999999997" fill="#d8daeb"/>
<rect x="264.28" y="31" width="6.15" height="15.299999999999997" fill="#b2abd2"/>
<rect x="270.14" y="31" width="6.15" height="15.299999999999997" fill="#8073ac"/>
<rect x="275.99" y="31" width="6.15" height="15.299999999999997" fill="#542788"/>
<rect x="281.85" y="31" width="6.15" height="15.299999999999997" fill="#2d004b"/>
<rect x="223.3" y="31" width="64.40" height="15.30" fill="none" stroke="#111" stroke-width="0.9"/>
<line x1="223.7" y1="46.3" x2="223.7" y2="48.9" stroke="#111" stroke-width="0.9"/>
<text x="0" y="0" transform="translate(223.70 59.30) scale(0.9 1)" font-size="8.6" text-anchor="middle" font-weight="normal" fill="#222">0</text>
<line x1="233.25" y1="46.3" x2="233.25" y2="48.9" stroke="#111" stroke-width="0.9"/>
<text x="0" y="0" transform="translate(233.25 59.30) scale(0.9 1)" font-size="8.6" text-anchor="middle" font-weight="normal" fill="#222">2</text>
<line x1="242.79999999999998" y1="46.3" x2="242.79999999999998" y2="48.9" stroke="#111" stroke-width="0.9"/>
<text x="0" y="0" transform="translate(242.80 59.30) scale(0.9 1)" font-size="8.6" text-anchor="middle" font-weight="normal" fill="#222">4</text>
<line x1="252.35" y1="46.3" x2="252.35" y2="48.9" stroke="#111" stroke-width="0.9"/>
<text x="0" y="0" transform="translate(252.35 59.30) scale(0.9 1)" font-size="8.6" text-anchor="middle" font-weight="normal" fill="#222">6</text>
<line x1="261.9" y1="46.3" x2="261.9" y2="48.9" stroke="#111" stroke-width="0.9"/>
<text x="0" y="0" transform="translate(261.90 59.30) scale(0.9 1)" font-size="8.6" text-anchor="middle" font-weight="normal" fill="#222">8</text>
<line x1="271.45" y1="46.3" x2="271.45" y2="48.9" stroke="#111" stroke-width="0.9"/>
<text x="0" y="0" transform="translate(271.45 59.30) scale(0.9 1)" font-size="8.6" text-anchor="middle" font-weight="normal" fill="#222">10</text>
<line x1="281.0" y1="46.3" x2="281.0" y2="48.9" stroke="#111" stroke-width="0.9"/>
<text x="0" y="0" transform="translate(281.00 59.30) scale(0.9 1)" font-size="8.6" text-anchor="middle" font-weight="normal" fill="#222">12</text>
<rect x="396.40" y="30.9" width="5.49" height="16.300000000000004" fill="#7f3b08"/>
<rect x="401.59" y="30.9" width="5.49" height="16.300000000000004" fill="#b35806"/>
<rect x="406.78" y="30.9" width="5.49" height="16.300000000000004" fill="#e08214"/>
<rect x="411.97" y="30.9" width="5.49" height="16.300000000000004" fill="#fdb863"/>
<rect x="417.16" y="30.9" width="5.49" height="16.300000000000004" fill="#fee0b6"/>
<rect x="422.35" y="30.9" width="5.49" height="16.300000000000004" fill="#f7f7f7"/>
<rect x="427.55" y="30.9" width="5.49" height="16.300000000000004" fill="#d8daeb"/>
<rect x="432.74" y="30.9" width="5.49" height="16.300000000000004" fill="#b2abd2"/>
<rect x="437.93" y="30.9" width="5.49" height="16.300000000000004" fill="#8073ac"/>
<rect x="443.12" y="30.9" width="5.49" height="16.300000000000004" fill="#542788"/>
<rect x="448.31" y="30.9" width="5.49" height="16.300000000000004" fill="#2d004b"/>
<rect x="396.4" y="30.9" width="57.10" height="16.30" fill="none" stroke="#111" stroke-width="0.9"/>
<line x1="396.8" y1="47.2" x2="396.8" y2="49.800000000000004" stroke="#111" stroke-width="0.9"/>
<text x="0" y="0" transform="translate(396.80 59.40) scale(0.9 1)" font-size="8.6" text-anchor="middle" font-weight="normal" fill="#222">0</text>
<line x1="412.375" y1="47.2" x2="412.375" y2="49.800000000000004" stroke="#111" stroke-width="0.9"/>
<text x="0" y="0" transform="translate(412.38 59.40) scale(0.9 1)" font-size="8.6" text-anchor="middle" font-weight="normal" fill="#222">5</text>
<line x1="427.95" y1="47.2" x2="427.95" y2="49.800000000000004" stroke="#111" stroke-width="0.9"/>
<text x="0" y="0" transform="translate(427.95 59.40) scale(0.9 1)" font-size="8.6" text-anchor="middle" font-weight="normal" fill="#222">10</text>
<line x1="443.52500000000003" y1="47.2" x2="443.52500000000003" y2="49.800000000000004" stroke="#111" stroke-width="0.9"/>
<text x="0" y="0" transform="translate(443.53 59.40) scale(0.9 1)" font-size="8.6" text-anchor="middle" font-weight="normal" fill="#222">15</text>
<rect x="224.30" y="638.5" width="6.23" height="16.5" fill="#7f3b08"/>
<rect x="230.23" y="638.5" width="6.23" height="16.5" fill="#b35806"/>
<rect x="236.15" y="638.5" width="6.23" height="16.5" fill="#e08214"/>
<rect x="242.08" y="638.5" width="6.23" height="16.5" fill="#fdb863"/>
<rect x="248.01" y="638.5" width="6.23" height="16.5" fill="#fee0b6"/>
<rect x="253.94" y="638.5" width="6.23" height="16.5" fill="#f7f7f7"/>
<rect x="259.86" y="638.5" width="6.23" height="16.5" fill="#d8daeb"/>
<rect x="265.79" y="638.5" width="6.23" height="16.5" fill="#b2abd2"/>
<rect x="271.72" y="638.5" width="6.23" height="16.5" fill="#8073ac"/>
<rect x="277.65" y="638.5" width="6.23" height="16.5" fill="#542788"/>
<rect x="283.57" y="638.5" width="6.23" height="16.5" fill="#2d004b"/>
<rect x="224.3" y="638.5" width="65.20" height="16.50" fill="none" stroke="#111" stroke-width="0.9"/>
<line x1="224.9" y1="655.0" x2="224.9" y2="657.6" stroke="#111" stroke-width="0.9"/>
<text x="0" y="0" transform="translate(224.90 667.30) scale(0.9 1)" font-size="8.6" text-anchor="middle" font-weight="normal" fill="#222">0</text>
<line x1="247.20000000000002" y1="655.0" x2="247.20000000000002" y2="657.6" stroke="#111" stroke-width="0.9"/>
<text x="0" y="0" transform="translate(247.20 667.30) scale(0.9 1)" font-size="8.6" text-anchor="middle" font-weight="normal" fill="#222">5</text>
<line x1="269.5" y1="655.0" x2="269.5" y2="657.6" stroke="#111" stroke-width="0.9"/>
<text x="0" y="0" transform="translate(269.50 667.30) scale(0.9 1)" font-size="8.6" text-anchor="middle" font-weight="normal" fill="#222">10</text>
<rect x="392.10" y="638.9" width="5.65" height="17.0" fill="#7f3b08"/>
<rect x="397.45" y="638.9" width="5.65" height="17.0" fill="#b35806"/>
<rect x="402.79" y="638.9" width="5.65" height="17.0" fill="#e08214"/>
<rect x="408.14" y="638.9" width="5.65" height="17.0" fill="#fdb863"/>
<rect x="413.48" y="638.9" width="5.65" height="17.0" fill="#fee0b6"/>
<rect x="418.83" y="638.9" width="5.65" height="17.0" fill="#f7f7f7"/>
<rect x="424.17" y="638.9" width="5.65" height="17.0" fill="#d8daeb"/>
<rect x="429.52" y="638.9" width="5.65" height="17.0" fill="#b2abd2"/>
<rect x="434.86" y="638.9" width="5.65" height="17.0" fill="#8073ac"/>
<rect x="440.21" y="638.9" width="5.65" height="17.0" fill="#542788"/>
<rect x="445.55" y="638.9" width="5.65" height="17.0" fill="#2d004b"/>
<rect x="392.1" y="638.9" width="58.80" height="17.00" fill="none" stroke="#111" stroke-width="0.9"/>
<line x1="392.5" y1="655.9" x2="392.5" y2="658.5" stroke="#111" stroke-width="0.9"/>
<text x="0" y="0" transform="translate(392.50 667.50) scale(0.9 1)" font-size="8.6" text-anchor="middle" font-weight="normal" fill="#222">0</text>
<line x1="403.14" y1="655.9" x2="403.14" y2="658.5" stroke="#111" stroke-width="0.9"/>
<text x="0" y="0" transform="translate(403.14 667.50) scale(0.9 1)" font-size="8.6" text-anchor="middle" font-weight="normal" fill="#222">2</text>
<line x1="413.78" y1="655.9" x2="413.78" y2="658.5" stroke="#111" stroke-width="0.9"/>
<text x="0" y="0" transform="translate(413.78 667.50) scale(0.9 1)" font-size="8.6" text-anchor="middle" font-weight="normal" fill="#222">4</text>
<line x1="424.42" y1="655.9" x2="424.42" y2="658.5" stroke="#111" stroke-width="0.9"/>
<text x="0" y="0" transform="translate(424.42 667.50) scale(0.9 1)" font-size="8.6" text-anchor="middle" font-weight="normal" fill="#222">6</text>
<line x1="435.06" y1="655.9" x2="435.06" y2="658.5" stroke="#111" stroke-width="0.9"/>
<text x="0" y="0" transform="translate(435.06 667.50) scale(0.9 1)" font-size="8.6" text-anchor="middle" font-weight="normal" fill="#222">8</text>
<line x1="445.7" y1="655.9" x2="445.7" y2="658.5" stroke="#111" stroke-width="0.9"/>
<text x="0" y="0" transform="translate(445.70 667.50) scale(0.9 1)" font-size="8.6" text-anchor="middle" font-weight="normal" fill="#222">10</text>
<text x="0" y="0" font-size="9" text-anchor="middle" fill="#222" textLength="86.6" lengthAdjust="spacingAndGlyphs" transform="translate(186.4 195.8) rotate(-90)">NOstrat top 50 candidates</text>
<text x="0" y="0" font-size="9" text-anchor="middle" fill="#222" textLength="88.3" lengthAdjust="spacingAndGlyphs" transform="translate(359.0 197.0) rotate(-90)">KINstrat top 50 candidates</text>
<text x="0" y="0" font-size="9" text-anchor="middle" fill="#222" textLength="88.2" lengthAdjust="spacingAndGlyphs" transform="translate(186.0 497.5) rotate(-90)">TSDstrat top 50 candidates</text>
<text x="0" y="0" font-size="9" text-anchor="middle" fill="#222" textLength="90.9" lengthAdjust="spacingAndGlyphs" transform="translate(359.0 493.5) rotate(-90)">trackSeq top 50 candidates</text>
<text x="322.9" y="342.3" font-size="7.8" text-anchor="start" font-weight="normal" fill="#222" textLength="23.8" lengthAdjust="spacingAndGlyphs">Cells in</text>
<circle cx="327.3" cy="351.4" r="2.3" fill="#000"/>
<text x="332.6" y="354.2" font-size="7.8" text-anchor="start" font-weight="normal" fill="#222">G1</text>
<circle cx="327.3" cy="363.6" r="2.3" fill="#0000ff"/>
<text x="332.6" y="366.4" font-size="7.8" text-anchor="start" font-weight="normal" fill="#222">S</text>
<circle cx="327.3" cy="375.2" r="2.3" fill="#ff9a00"/>
<text x="332.6" y="378.0" font-size="7.8" text-anchor="start" font-weight="normal" fill="#222">G2M</text>
<g transform="translate(311.8 0) scale(0.94 1) translate(-311.8 0)"><text x="311.8" y="69.91" font-size="5.2" fill="#222">Smc2</text><text x="311.8" y="75.12" font-size="5.2" fill="#222">Cdk1</text><text x="311.8" y="80.33" font-size="5.2" fill="#222">Ncapd2</text><text x="311.8" y="85.54" font-size="5.2" fill="#222">Incenp</text><text x="311.8" y="90.75" font-size="5.2" fill="#222">Diaph3</text><text x="311.8" y="95.97" font-size="5.2" fill="#222">Cep128</text><text x="311.8" y="101.18" font-size="5.2" fill="#222">Rrm2</text><text x="311.8" y="106.39" font-size="5.2" fill="#222">Ncapg2</text><text x="311.8" y="111.60" font-size="5.2" fill="#222">Rad51b</text><text x="311.8" y="116.81" font-size="5.2" fill="#222">Mki67</text><text x="311.8" y="122.03" font-size="5.2" fill="#222">Top2a</text><text x="311.8" y="127.24" font-size="5.2" fill="#222">Rrm1</text><text x="311.8" y="132.45" font-size="5.2" fill="#222">Mcm5</text><text x="311.8" y="137.66" font-size="5.2" fill="#222">Pola1</text><text x="311.8" y="142.87" font-size="5.2" fill="#222">Uhrf1</text><text x="311.8" y="148.09" font-size="5.2" fill="#222">Nrxn1</text><text x="311.8" y="153.30" font-size="5.2" fill="#222">Arhgap15</text><text x="311.8" y="158.51" font-size="5.2" fill="#222">2610307P16Rik</text><text x="311.8" y="163.72" font-size="5.2" fill="#222">Immp2l</text><text x="311.8" y="168.93" font-size="5.2" fill="#222">Kcnq5</text><text x="311.8" y="174.15" font-size="5.2" fill="#222">Magi2</text><text x="311.8" y="179.36" font-size="5.2" fill="#222">Plcl1</text><text x="311.8" y="184.57" font-size="5.2" fill="#222">Aldh1a1</text><text x="311.8" y="189.78" font-size="5.2" fill="#222">Knl1</text><text x="311.8" y="194.99" font-size="5.2" fill="#222">Neil3</text><text x="311.8" y="200.21" font-size="5.2" fill="#222">Bub1b</text><text x="311.8" y="205.42" font-size="5.2" fill="#222">Ncaph</text><text x="311.8" y="210.63" font-size="5.2" fill="#222">Ncapg</text><text x="311.8" y="215.84" font-size="5.2" fill="#222">Pbk</text><text x="311.8" y="221.05" font-size="5.2" fill="#222">Kif15</text><text x="311.8" y="226.27" font-size="5.2" fill="#222">Cdca2</text><text x="311.8" y="231.48" font-size="5.2" fill="#222">Kif20b</text><text x="311.8" y="236.69" font-size="5.2" fill="#222">Tacc3</text><text x="311.8" y="241.90" font-size="5.2" fill="#222">Rad51</text><text x="311.8" y="247.11" font-size="5.2" fill="#222">Birc5</text><text x="311.8" y="252.33" font-size="5.2" fill="#222">Ckap2l</text><text x="311.8" y="257.54" font-size="5.2" fill="#222">Kif4</text><text x="311.8" y="262.75" font-size="5.2" fill="#222">Nuf2</text><text x="311.8" y="267.96" font-size="5.2" fill="#222">Ccna2</text><text x="311.8" y="273.17" font-size="5.2" fill="#222">Aurkb</text><text x="311.8" y="278.39" font-size="5.2" fill="#222">Cdca8</text><text x="311.8" y="283.60" font-size="5.2" fill="#222">Racgap1</text><text x="311.8" y="288.81" font-size="5.2" fill="#222">Tpx2</text><text x="311.8" y="294.02" font-size="5.2" fill="#222">Cenpe</text><text x="311.8" y="299.23" font-size="5.2" fill="#222">Cdc20</text><text x="311.8" y="304.45" font-size="5.2" fill="#222">Nusap1</text><text x="311.8" y="309.66" font-size="5.2" fill="#222">Hmmr</text><text x="311.8" y="314.87" font-size="5.2" fill="#222">Cenpf</text><text x="311.8" y="320.08" font-size="5.2" fill="#222">Ccnb2</text><text x="311.8" y="325.29" font-size="5.2" fill="#222">Cenpa</text></g>
<g transform="translate(477.8 0) scale(0.94 1) translate(-477.8 0)"><text x="477.8" y="71.89" font-size="5.2" fill="#222">Rock2</text><text x="477.8" y="77.06" font-size="5.2" fill="#222">Nckap1l</text><text x="477.8" y="82.23" font-size="5.2" fill="#222">Tpp2</text><text x="477.8" y="87.40" font-size="5.2" fill="#222">Tcf20</text><text x="477.8" y="92.57" font-size="5.2" fill="#222">Eprs</text><text x="477.8" y="97.75" font-size="5.2" fill="#222">Mef2c</text><text x="477.8" y="102.92" font-size="5.2" fill="#222">Prkch</text><text x="477.8" y="108.09" font-size="5.2" fill="#222">Ubtf</text><text x="477.8" y="113.26" font-size="5.2" fill="#222">Specc1</text><text x="477.8" y="118.43" font-size="5.2" fill="#222">Ubash3b</text><text x="477.8" y="123.61" font-size="5.2" fill="#222">Phf3</text><text x="477.8" y="128.78" font-size="5.2" fill="#222">Senp6</text><text x="477.8" y="133.95" font-size="5.2" fill="#222">Ssu72</text><text x="477.8" y="139.12" font-size="5.2" fill="#222">Hnrnpd</text><text x="477.8" y="144.29" font-size="5.2" fill="#222">Csnk1g2</text><text x="477.8" y="149.47" font-size="5.2" fill="#222">Rab3gap2</text><text x="477.8" y="154.64" font-size="5.2" fill="#222">Tcp11l1</text><text x="477.8" y="159.81" font-size="5.2" fill="#222">Nelfa</text><text x="477.8" y="164.98" font-size="5.2" fill="#222">Dipk1a</text><text x="477.8" y="170.15" font-size="5.2" fill="#222">Kansl1l</text><text x="477.8" y="175.33" font-size="5.2" fill="#222">Hlt</text><text x="477.8" y="180.50" font-size="5.2" fill="#222">Ski</text><text x="477.8" y="185.67" font-size="5.2" fill="#222">Rora</text><text x="477.8" y="190.84" font-size="5.2" fill="#222">Plcl1</text><text x="477.8" y="196.01" font-size="5.2" fill="#222">Runx1</text><text x="477.8" y="201.19" font-size="5.2" fill="#222">Abcc1</text><text x="477.8" y="206.36" font-size="5.2" fill="#222">Angpt1</text><text x="477.8" y="211.53" font-size="5.2" fill="#222">Tmtc2</text><text x="477.8" y="216.70" font-size="5.2" fill="#222">Il1rapl1</text><text x="477.8" y="221.87" font-size="5.2" fill="#222">Fchsd2</text><text x="477.8" y="227.05" font-size="5.2" fill="#222">Osbpl8</text><text x="477.8" y="232.22" font-size="5.2" fill="#222">Runx2</text><text x="477.8" y="237.39" font-size="5.2" fill="#222">Camk1d</text><text x="477.8" y="242.56" font-size="5.2" fill="#222">Mir6236</text><text x="477.8" y="247.73" font-size="5.2" fill="#222">Jarid2</text><text x="477.8" y="252.91" font-size="5.2" fill="#222">Cdk8</text><text x="477.8" y="258.08" font-size="5.2" fill="#222">Hexb</text><text x="477.8" y="263.25" font-size="5.2" fill="#222">Vamp1</text><text x="477.8" y="268.42" font-size="5.2" fill="#222">Dnajc27</text><text x="477.8" y="273.59" font-size="5.2" fill="#222">Habp4</text><text x="477.8" y="278.77" font-size="5.2" fill="#222">Fam160a2</text><text x="477.8" y="283.94" font-size="5.2" fill="#222">Zfp956</text><text x="477.8" y="289.11" font-size="5.2" fill="#222">Dclk2</text><text x="477.8" y="294.28" font-size="5.2" fill="#222">Mctp2</text><text x="477.8" y="299.45" font-size="5.2" fill="#222">Irf9</text><text x="477.8" y="304.63" font-size="5.2" fill="#222">Agpat4</text><text x="477.8" y="309.80" font-size="5.2" fill="#222">Usp20</text><text x="477.8" y="314.97" font-size="5.2" fill="#222">Mob3c</text><text x="477.8" y="320.14" font-size="5.2" fill="#222">Tril1</text><text x="477.8" y="325.31" font-size="5.2" fill="#222">Plcd1</text></g>
<g transform="translate(311.8 0) scale(0.94 1) translate(-311.8 0)"><text x="311.8" y="391.77" font-size="5.2" fill="#222">Zbtb20</text><text x="311.8" y="396.70" font-size="5.2" fill="#222">Exoc4</text><text x="311.8" y="401.63" font-size="5.2" fill="#222">Cacnb2</text><text x="311.8" y="406.57" font-size="5.2" fill="#222">Prkg1</text><text x="311.8" y="411.50" font-size="5.2" fill="#222">Cagalnact1</text><text x="311.8" y="416.44" font-size="5.2" fill="#222">Wwox</text><text x="311.8" y="421.37" font-size="5.2" fill="#222">Gmds</text><text x="311.8" y="426.31" font-size="5.2" fill="#222">Cdk6</text><text x="311.8" y="431.24" font-size="5.2" fill="#222">Nrxn1</text><text x="311.8" y="436.17" font-size="5.2" fill="#222">Arhgap15</text><text x="311.8" y="441.11" font-size="5.2" fill="#222">Mcm6</text><text x="311.8" y="446.04" font-size="5.2" fill="#222">Mcm3</text><text x="311.8" y="450.98" font-size="5.2" fill="#222">Mcm2</text><text x="311.8" y="455.91" font-size="5.2" fill="#222">Mcm5</text><text x="311.8" y="460.84" font-size="5.2" fill="#222">Mcm7</text><text x="311.8" y="465.78" font-size="5.2" fill="#222">Mcm4</text><text x="311.8" y="470.71" font-size="5.2" fill="#222">Cdca7</text><text x="311.8" y="475.65" font-size="5.2" fill="#222">Pola1</text><text x="311.8" y="480.58" font-size="5.2" fill="#222">Srm</text><text x="311.8" y="485.51" font-size="5.2" fill="#222">Muc13</text><text x="311.8" y="490.45" font-size="5.2" fill="#222">2610307P16Rik</text><text x="311.8" y="495.38" font-size="5.2" fill="#222">Lrmda</text><text x="311.8" y="500.31" font-size="5.2" fill="#222">Snx29</text><text x="311.8" y="505.25" font-size="5.2" fill="#222">Pard3b</text><text x="311.8" y="510.18" font-size="5.2" fill="#222">Samd12</text><text x="311.8" y="515.12" font-size="5.2" fill="#222">Maml3</text><text x="311.8" y="520.05" font-size="5.2" fill="#222">Large1</text><text x="311.8" y="524.98" font-size="5.2" fill="#222">Hdac9</text><text x="311.8" y="529.92" font-size="5.2" fill="#222">Bcl2</text><text x="311.8" y="534.85" font-size="5.2" fill="#222">Pbx3</text><text x="311.8" y="539.79" font-size="5.2" fill="#222">Ube2e2</text><text x="311.8" y="544.72" font-size="5.2" fill="#222">Dlg2</text><text x="311.8" y="549.65" font-size="5.2" fill="#222">Csf2rb</text><text x="311.8" y="554.59" font-size="5.2" fill="#222">Pik3ap1</text><text x="311.8" y="559.52" font-size="5.2" fill="#222">Grb10</text><text x="311.8" y="564.46" font-size="5.2" fill="#222">Esam</text><text x="311.8" y="569.39" font-size="5.2" fill="#222">Ccser1</text><text x="311.8" y="574.32" font-size="5.2" fill="#222">Fmnl2</text><text x="311.8" y="579.26" font-size="5.2" fill="#222">Tox</text><text x="311.8" y="584.19" font-size="5.2" fill="#222">Plcl1</text><text x="311.8" y="589.13" font-size="5.2" fill="#222">Magi2</text><text x="311.8" y="594.06" font-size="5.2" fill="#222">Procr</text><text x="311.8" y="598.99" font-size="5.2" fill="#222">Lgals1</text><text x="311.8" y="603.93" font-size="5.2" fill="#222">Apoe</text><text x="311.8" y="608.86" font-size="5.2" fill="#222">Rgs1</text><text x="311.8" y="613.80" font-size="5.2" fill="#222">Myc</text><text x="311.8" y="618.73" font-size="5.2" fill="#222">Kcnq5</text><text x="311.8" y="623.66" font-size="5.2" fill="#222">Pvt1</text><text x="311.8" y="628.60" font-size="5.2" fill="#222">Pth2r</text><text x="311.8" y="633.53" font-size="5.2" fill="#222">Gm6093</text></g>
<g transform="translate(477.8 0) scale(0.94 1) translate(-477.8 0)"><text x="477.8" y="391.27" font-size="5.2" fill="#222">Tm2d2</text><text x="477.8" y="396.22" font-size="5.2" fill="#222">Chst12</text><text x="477.8" y="401.16" font-size="5.2" fill="#222">Cibar1</text><text x="477.8" y="406.10" font-size="5.2" fill="#222">Mettl16</text><text x="477.8" y="411.05" font-size="5.2" fill="#222">Slc9a8</text><text x="477.8" y="415.99" font-size="5.2" fill="#222">Uck2</text><text x="477.8" y="420.94" font-size="5.2" fill="#222">Rrp1b</text><text x="477.8" y="425.88" font-size="5.2" fill="#222">Prim2</text><text x="477.8" y="430.82" font-size="5.2" fill="#222">Hells</text><text x="477.8" y="435.77" font-size="5.2" fill="#222">Baz2b</text><text x="477.8" y="440.71" font-size="5.2" fill="#222">Col4a2</text><text x="477.8" y="445.66" font-size="5.2" fill="#222">Mygl1</text><text x="477.8" y="450.60" font-size="5.2" fill="#222">Ccdc127</text><text x="477.8" y="455.54" font-size="5.2" fill="#222">Alkbh8</text><text x="477.8" y="460.49" font-size="5.2" fill="#222">Rps19bp1</text><text x="477.8" y="465.43" font-size="5.2" fill="#222">Ldlrad3</text><text x="477.8" y="470.38" font-size="5.2" fill="#222">Pgpep1</text><text x="477.8" y="475.32" font-size="5.2" fill="#222">Kifbp</text><text x="477.8" y="480.26" font-size="5.2" fill="#222">Abraxas1</text><text x="477.8" y="485.21" font-size="5.2" fill="#222">Rad9a</text><text x="477.8" y="490.15" font-size="5.2" fill="#222">Gm12728</text><text x="477.8" y="495.10" font-size="5.2" fill="#222">1110013H19Rik</text><text x="477.8" y="500.04" font-size="5.2" fill="#222">Gm10244</text><text x="477.8" y="504.98" font-size="5.2" fill="#222">Lrrc8a</text><text x="477.8" y="509.93" font-size="5.2" fill="#222">Col4a6</text><text x="477.8" y="514.87" font-size="5.2" fill="#222">Cd55os</text><text x="477.8" y="519.82" font-size="5.2" fill="#222">Gm15951</text><text x="477.8" y="524.76" font-size="5.2" fill="#222">Gm9761</text><text x="477.8" y="529.70" font-size="5.2" fill="#222">Gm45133</text><text x="477.8" y="534.65" font-size="5.2" fill="#222">Ffar2</text><text x="477.8" y="539.59" font-size="5.2" fill="#222">Pde7a</text><text x="477.8" y="544.54" font-size="5.2" fill="#222">Gm28154</text><text x="477.8" y="549.48" font-size="5.2" fill="#222">Spo11</text><text x="477.8" y="554.42" font-size="5.2" fill="#222">Gm2629</text><text x="477.8" y="559.37" font-size="5.2" fill="#222">A730063M14Rik</text><text x="477.8" y="564.31" font-size="5.2" fill="#222">Wnt5b</text><text x="477.8" y="569.26" font-size="5.2" fill="#222">Tmem170</text><text x="477.8" y="574.20" font-size="5.2" fill="#222">Syt3</text><text x="477.8" y="579.14" font-size="5.2" fill="#222">Plekhb1</text><text x="477.8" y="584.09" font-size="5.2" fill="#222">Piwil2</text><text x="477.8" y="589.03" font-size="5.2" fill="#222">Chrnb2</text><text x="477.8" y="593.98" font-size="5.2" fill="#222">Gstm7</text><text x="477.8" y="598.92" font-size="5.2" fill="#222">Btg2</text><text x="477.8" y="603.86" font-size="5.2" fill="#222">Shf</text><text x="477.8" y="608.81" font-size="5.2" fill="#222">Ric3</text><text x="477.8" y="613.75" font-size="5.2" fill="#222">Mylip</text><text x="477.8" y="618.70" font-size="5.2" fill="#222">Camsap2</text><text x="477.8" y="623.64" font-size="5.2" fill="#222">Itgb4</text><text x="477.8" y="628.58" font-size="5.2" fill="#222">Gm49883</text><text x="477.8" y="633.53" font-size="5.2" fill="#222">Ugt2b</text></g>
</svg>
<div id="bd"></div>
</div></body></html>
